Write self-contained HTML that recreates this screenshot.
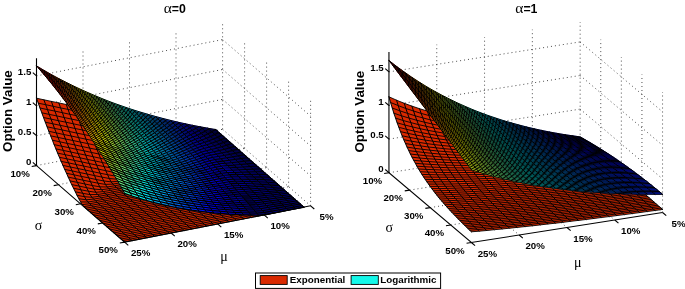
<!DOCTYPE html>
<html lang="en"><head><meta charset="utf-8"><title>Option Value surfaces</title>
<style>html,body{margin:0;padding:0;background:#fff}svg{display:block;will-change:transform}text{font-family:"Liberation Sans","DejaVu Sans",sans-serif;fill:#000}.gr{font-family:"Liberation Serif","DejaVu Serif",serif;font-weight:normal}</style></head><body>
<svg width="685" height="289" viewBox="0 0 685 289">
<rect width="685" height="289" fill="#fff"/>
<g id="left" transform="translate(.4 0)">
<g fill="none" stroke="#000" stroke-width=".7" stroke-dasharray="1 3" stroke-linecap="butt">
<path d="M82.6 156.5 L82.6 49.2"/>
<path d="M129.1 147.4 L129.1 40.1"/>
<path d="M175.6 138.4 L175.6 31.0"/>
<path d="M222.2 129.3 L222.2 22.0"/>
<path d="M36.1 165.6 L222.2 129.3"/>
<path d="M36.1 135.7 L222.2 99.4"/>
<path d="M36.1 105.8 L222.2 69.5"/>
<path d="M36.1 75.9 L222.2 39.6"/>
<path d="M244.2 148.4 L244.2 41.1"/>
<path d="M266.2 167.6 L266.2 60.2"/>
<path d="M288.2 186.7 L288.2 79.3"/>
<path d="M310.2 205.8 L310.2 98.5"/>
<path d="M222.2 129.3 L310.2 205.8"/>
<path d="M222.2 99.4 L310.2 175.9"/>
<path d="M222.2 69.5 L310.2 146.0"/>
<path d="M222.2 39.6 L310.2 116.1"/>
<path d="M58.1 184.7 L244.2 148.4"/>
<path d="M80.2 203.8 L266.2 167.6"/>
<path d="M102.2 223.0 L288.2 186.7"/>
<path d="M82.6 156.5 L170.7 233.0"/>
<path d="M129.1 147.4 L217.2 223.9"/>
<path d="M175.6 138.4 L263.7 214.9"/>
</g>
<path fill="rgb(217,41,0)" d="M36.1 98.2l1.8 5 1.7 4.8 1.8 4.8 1.7 4.7 1.8 4.7 1.8 4.6 1.7 4.5 1.8 4.5 1.8 4.4 1.7 4.4 1.8 4.3 1.7 4.2 1.8 4.2 1.8 4.1 1.7 4 1.8 4 1.8 3.9 1.7 3.8 1.8 3.8 1.7 3.7 1.8 3.6 1.8 3.6 1.7 3.5 1.8 3.4 1.8 3.2 1.7 2.7 1.8 2 1.7 1.6 1.8 1.6 1.8 1.6 1.7 1.5 1.8 1.6 1.7 1.5 1.8 1.6 1.8 1.5 1.7 1.5 1.8 1.6 1.8 1.5 1.7 1.5 1.8 1.6 1.7 1.5 1.8 1.5 1.8 1.6 1.7 1.5 1.8 1.5 1.8 1.5 1.7 1.6 1.8 1.5 1.7 1.5 1.8 1.6 7.4-1.5 7.5-1.4 7.4-1.5 7.5-1.4 7.4-1.5 7.5-1.4 7.4-1.5 7.4-1.4 7.5-1.5 7.4-1.4 7.5-1.5 7.4-1.4 7.4-1.5 7.5-1.4 7.4-1.5 7.5-1.4 7.4-1.5 7.5-1.4 7.4-1.5 7.4-1.4 7.5-1.5 7.4-1.5 7.5-1.4 7.4-1.5 .8-.1 -1.8-1.5 -1.7-1.6 -1.8-1.5 -1.7-1.5 -1.8-1.6 -1.8-1.5 -1.7-1.5 -1.8-1.6 -1.7-1.5 -1.8-1.5 -1.8-1.5 -1.7-1.6 -1.8-1.5 -1.8-1.5 -1.7-1.6 -1.8-1.5 -1.7-1.5 -1.8-1.6 -1.8-1.5 -1.7-1.5 -1.8-1.5 -1.8-1.6 -1.7-1.5 -1.8-1.5 -1.7-1.6 -1.8-1.5 -1.8-1.5 -1.7-1.6 -1.8-1.5 -1.8-1.5 -1.7-1.5 -1.8-1.6 -1.7-1.5 -1.8-1.5 -1.8-1.6 -1.7-1.5 -1.8-1.5 -1.7-1.6 -1.8-1.5 -1.8-1.5 -1.7-1.6 -1.8-1.5 -1.8-1.5 -1.7-1.6 -1.8-1.5 -1.7-1.5 -1.8-1.6 -1.8-1.5 -1.7-1.6 -1.8-1.6 -.8 .2 -7.4 1.3 -7.5 .3 -7.4-1.2 -7.5-1.5 -7.4-1.5 -7.4-1.6 -7.5-1.5 -7.4-1.6 -7.5-1.6 -7.4-1.5 -7.5-1.6 -7.4-1.6 -7.4-1.5 -7.5-1.6 -7.4-1.6 -7.5-1.5 -7.4-1.6 -7.4-1.6 -7.5-1.5 -7.4-1.6 -7.5-1.6 -7.4-1.5 -7.5-1.6z"/>
<path fill="none" stroke="#000" stroke-width="0.7" stroke-linejoin="round" stroke-linecap="round" d="M215.5 130.4l1.8 1.6 1.7 1.6 1.8 1.5 1.8 1.6 1.7 1.5 1.8 1.5 1.7 1.6 1.8 1.5 1.8 1.5 1.7 1.6 1.8 1.5 1.8 1.5 1.7 1.6 1.8 1.5 1.7 1.5 1.8 1.6 1.8 1.5 1.7 1.5 1.8 1.6 1.7 1.5 1.8 1.5 1.8 1.5 1.7 1.6 1.8 1.5 1.8 1.5 1.7 1.6 1.8 1.5 1.7 1.5 1.8 1.6 1.8 1.5 1.7 1.5 1.8 1.5 1.8 1.6 1.7 1.5 1.8 1.5 1.7 1.6 1.8 1.5 1.8 1.5 1.7 1.6 1.8 1.5 1.8 1.5 1.7 1.5 1.8 1.6 1.7 1.5 1.8 1.5 1.8 1.6 1.7 1.5 1.8 1.5 1.7 1.6 1.8 1.5"/>
<path fill="none" stroke="#000" stroke-width="0.9" stroke-linejoin="round" stroke-linecap="round" d="M36.1 98.2l7.4 1.6 7.5 1.6 7.4 1.5 7.5 1.6 7.4 1.6 7.5 1.5 7.4 1.6 7.4 1.6 7.5 1.5 7.4 1.6 7.5 1.6 7.4 1.5 7.4 1.6 7.5 1.6 7.4 1.5 7.5 1.6 7.4 1.6 7.5 1.5 7.4 1.6 7.4 1.5 7.5 1.5 7.4 1.2 7.5-.3 7.4-1.3 .8-.2M37.9 103.2l7.4 1.5 7.4 1.6 7.5 1.6 7.4 1.5 7.5 1.6 7.4 1.6 7.5 1.5 7.4 1.6 7.4 1.6 7.5 1.5 7.4 1.6 7.5 1.6 7.4 1.5 7.5 1.6 7.4 1.5 7.4 1.6 7.5 1.6 7.4 1.5 7.5 1.5 7.4 1.5 7.4 1.1 7.5-.5 7.4-1.3 7.5-1.4 .8-.2M39.6 108l7.5 1.6 7.4 1.5 7.5 1.6 7.4 1.6 7.4 1.5 7.5 1.6 7.4 1.6 7.5 1.5 7.4 1.6 7.4 1.6 7.5 1.5 7.4 1.6 7.5 1.6 7.4 1.5 7.5 1.6 7.4 1.5 7.4 1.6 7.5 1.5 7.4 1.5 7.5 1 7.4-.7 7.4-1.3 7.5-1.4 7.4-1.5 .8-.1M41.4 112.8l7.4 1.6 7.5 1.5 7.4 1.6 7.5 1.6 7.4 1.5 7.4 1.6 7.5 1.6 7.4 1.5 7.5 1.6 7.4 1.6 7.4 1.5 7.5 1.6 7.4 1.6 7.5 1.5 7.4 1.6 7.5 1.5 7.4 1.5 7.4 1.5 7.5 .9 7.4-.8 7.5-1.3 7.4-1.4 7.5-1.5 7.4-1.4 .8-.2M43.1 117.5l7.5 1.6 7.4 1.6 7.5 1.5 7.4 1.6 7.5 1.6 7.4 1.5 7.4 1.6 7.5 1.6 7.4 1.5 7.5 1.6 7.4 1.6 7.5 1.5 7.4 1.6 7.4 1.5 7.5 1.6 7.4 1.5 7.5 1.4 7.4 .9 7.4-.9 7.5-1.3 7.4-1.5 7.5-1.4 7.4-1.4 7.5-1.5 .8-.1M44.9 122.2l7.5 1.6 7.4 1.5 7.4 1.6 7.5 1.6 7.4 1.5 7.5 1.6 7.4 1.6 7.4 1.5 7.5 1.6 7.4 1.6 7.5 1.5 7.4 1.6 7.5 1.5 7.4 1.6 7.4 1.5 7.5 1.4 7.4 .8 7.5-.9 7.4-1.4 7.4-1.4 7.5-1.4 7.4-1.4 7.5-1.5 7.4-1.4 .8-.2M46.7 126.8l7.4 1.6 7.5 1.5 7.4 1.6 7.4 1.6 7.5 1.5 7.4 1.6 7.5 1.6 7.4 1.5 7.5 1.6 7.4 1.6 7.4 1.5 7.5 1.6 7.4 1.5 7.5 1.5 7.4 1.5 7.4 .7 7.5-.9 7.4-1.4 7.5-1.4 7.4-1.4 7.5-1.5 7.4-1.4 7.4-1.5 7.5-1.4 .8-.2M48.4 131.3l7.5 1.6 7.4 1.6 7.5 1.5 7.4 1.6 7.4 1.6 7.5 1.5 7.4 1.6 7.5 1.6 7.4 1.5 7.5 1.6 7.4 1.5 7.4 1.6 7.5 1.5 7.4 1.4 7.5 .8 7.4-1 7.4-1.3 7.5-1.4 7.4-1.4 7.5-1.5 7.4-1.4 7.5-1.5 7.4-1.4 7.4-1.5 .8-.1M50.2 135.8l7.4 1.6 7.5 1.6 7.4 1.5 7.5 1.6 7.4 1.5 7.4 1.6 7.5 1.6 7.4 1.5 7.5 1.6 7.4 1.6 7.5 1.5 7.4 1.5 7.4 1.5 7.5 .7 7.4-.9 7.5-1.3 7.4-1.4 7.5-1.5 7.4-1.4 7.4-1.4 7.5-1.5 7.4-1.4 7.5-1.5 7.4-1.4 .8-.2M52 140.2l7.4 1.6 7.4 1.6 7.5 1.5 7.4 1.6 7.5 1.6 7.4 1.5 7.5 1.6 7.4 1.5 7.4 1.6 7.5 1.5 7.4 1.6 7.5 1.4 7.4 .9 7.4-.9 7.5-1.3 7.4-1.5 7.5-1.4 7.4-1.4 7.5-1.5 7.4-1.4 7.4-1.5 7.5-1.4 7.4-1.5 7.5-1.4 .8-.2M53.7 144.6l7.5 1.6 7.4 1.5 7.4 1.6 7.5 1.5 7.4 1.6 7.5 1.6 7.4 1.5 7.5 1.6 7.4 1.5 7.4 1.6 7.5 1.4 7.4 .9 7.5-.7 7.4-1.4 7.5-1.4 7.4-1.4 7.4-1.4 7.5-1.5 7.4-1.4 7.5-1.5 7.4-1.4 7.4-1.5 7.5-1.4 7.4-1.5 .8-.1M55.5 148.9l7.4 1.5 7.5 1.6 7.4 1.6 7.5 1.5 7.4 1.6 7.4 1.6 7.5 1.5 7.4 1.6 7.5 1.5 7.4 1.4 7.4 1.1 7.5-.7 7.4-1.3 7.5-1.4 7.4-1.4 7.5-1.5 7.4-1.4 7.4-1.4 7.5-1.5 7.4-1.4 7.5-1.5 7.4-1.4 7.4-1.5 7.5-1.4 .8-.2M57.2 153.1l7.5 1.6 7.4 1.5 7.5 1.6 7.4 1.6 7.5 1.5 7.4 1.6 7.4 1.5 7.5 1.5 7.4 1.5 7.5 1.2 7.4-.5 7.4-1.3 7.5-1.4 7.4-1.4 7.5-1.5 7.4-1.4 7.5-1.5 7.4-1.4 7.4-1.5 7.5-1.4 7.4-1.5 7.5-1.4 7.4-1.5 7.5-1.4 .8-.2M59 157.3l7.4 1.5 7.5 1.6 7.4 1.5 7.5 1.6 7.4 1.6 7.5 1.5 7.4 1.5 7.4 1.5 7.5 1.3 7.4-.3 7.5-1.2 7.4-1.4 7.5-1.5 7.4-1.4 7.4-1.4 7.5-1.5 7.4-1.4 7.5-1.5 7.4-1.4 7.4-1.5 7.5-1.4 7.4-1.5 7.5-1.4 7.4-1.5 .8-.1M60.8 161.4l7.4 1.5 7.5 1.6 7.4 1.5 7.4 1.6 7.5 1.5 7.4 1.6 7.5 1.5 7.4 1.3 7.4 0 7.5-1.2 7.4-1.4 7.5-1.4 7.4-1.4 7.5-1.5 7.4-1.4 7.4-1.4 7.5-1.5 7.4-1.4 7.5-1.5 7.4-1.4 7.5-1.5 7.4-1.4 7.4-1.5 7.5-1.4 .8-.2M62.5 165.4l7.5 1.6 7.4 1.5 7.5 1.6 7.4 1.5 7.4 1.6 7.5 1.5 7.4 1.3 7.5 .4 7.4-1.1 7.4-1.4 7.5-1.4 7.4-1.4 7.5-1.5 7.4-1.4 7.5-1.5 7.4-1.4 7.4-1.5 7.5-1.4 7.4-1.5 7.5-1.4 7.4-1.5 7.5-1.4 7.4-1.5 7.4-1.4 .8-.2M64.3 169.4l7.4 1.5 7.5 1.6 7.4 1.5 7.5 1.6 7.4 1.5 7.4 1.4 7.5 .7 7.4-1 7.5-1.3 7.4-1.4 7.5-1.5 7.4-1.4 7.4-1.4 7.5-1.5 7.4-1.4 7.5-1.5 7.4-1.4 7.4-1.5 7.5-1.4 7.4-1.5 7.5-1.4 7.4-1.5 7.5-1.4 7.4-1.5 .8-.1M66.1 173.3l7.4 1.5 7.4 1.6 7.5 1.5 7.4 1.6 7.5 1.4 7.4 1 7.4-.7 7.5-1.3 7.4-1.4 7.5-1.5 7.4-1.4 7.5-1.5 7.4-1.4 7.4-1.5 7.5-1.4 7.4-1.4 7.5-1.5 7.4-1.4 7.5-1.5 7.4-1.4 7.4-1.5 7.5-1.5 7.4-1.4 7.5-1.5 .8-.1M67.8 177.1l7.5 1.6 7.4 1.5 7.4 1.5 7.5 1.5 7.4 1.2 7.5-.3 7.4-1.3 7.5-1.4 7.4-1.4 7.4-1.4 7.5-1.5 7.4-1.4 7.5-1.5 7.4-1.4 7.4-1.5 7.5-1.4 7.4-1.5 7.5-1.4 7.4-1.5 7.5-1.4 7.4-1.5 7.4-1.4 7.5-1.5 7.4-1.4 .8-.2M69.6 180.9l7.4 1.5 7.5 1.6 7.4 1.5 7.4 1.3 7.5 .2 7.4-1.2 7.5-1.4 7.4-1.4 7.5-1.5 7.4-1.4 7.4-1.4 7.5-1.5 7.4-1.4 7.5-1.5 7.4-1.4 7.5-1.5 7.4-1.4 7.4-1.5 7.5-1.4 7.4-1.5 7.5-1.4 7.4-1.5 7.4-1.4 7.5-1.5 .8-.1M71.3 184.6l7.5 1.5 7.4 1.6 7.5 1.4 7.4 .6 7.5-1 7.4-1.3 7.4-1.4 7.5-1.5 7.4-1.4 7.5-1.5 7.4-1.4 7.4-1.5 7.5-1.4 7.4-1.5 7.5-1.4 7.4-1.5 7.5-1.4 7.4-1.5 7.4-1.4 7.5-1.5 7.4-1.4 7.5-1.5 7.4-1.4 7.4-1.5 .8-.1M73.1 188.2l7.4 1.6 7.5 1.4 7.4 1.1 7.5-.7 7.4-1.3 7.5-1.4 7.4-1.4 7.4-1.4 7.5-1.5 7.4-1.4 7.5-1.5 7.4-1.4 7.4-1.5 7.5-1.4 7.4-1.5 7.5-1.4 7.4-1.5 7.5-1.4 7.4-1.5 7.4-1.4 7.5-1.5 7.4-1.4 7.5-1.5 7.4-1.4 .8-.2M74.9 191.8l7.4 1.5 7.4 1.3 7.5-.1 7.4-1.2 7.5-1.4 7.4-1.4 7.5-1.5 7.4-1.4 7.4-1.4 7.5-1.5 7.4-1.4 7.5-1.5 7.4-1.4 7.5-1.5 7.4-1.4 7.4-1.5 7.5-1.4 7.4-1.5 7.5-1.4 7.4-1.5 7.4-1.4 7.5-1.5 7.4-1.4 7.5-1.5 .8-.2M76.6 195.3l7.5 1.4 7.4 .6 7.5-1.1 7.4-1.3 7.4-1.5 7.5-1.4 7.4-1.4 7.5-1.5 7.4-1.4 7.4-1.5 7.5-1.4 7.4-1.5 7.5-1.4 7.4-1.5 7.5-1.4 7.4-1.5 7.4-1.4 7.5-1.5 7.4-1.4 7.5-1.5 7.4-1.4 7.5-1.5 7.4-1.4 7.4-1.5 .8-.1M78.4 198.7l7.4 1.1 7.5-.7 7.4-1.3 7.5-1.4 7.4-1.4 7.4-1.4 7.5-1.5 7.4-1.4 7.5-1.5 7.4-1.4 7.4-1.5 7.5-1.4 7.4-1.5 7.5-1.4 7.4-1.5 7.5-1.4 7.4-1.5 7.4-1.4 7.5-1.5 7.4-1.4 7.5-1.5 7.4-1.4 7.5-1.5 7.4-1.4 .8-.2M80.2 201.9l7.4 .1 7.4-1.2 7.5-1.4 7.4-1.4 7.5-1.5 7.4-1.4 7.4-1.5 7.5-1.4 7.4-1.4 7.5-1.5 7.4-1.4 7.5-1.5 7.4-1.4 7.4-1.5 7.5-1.4 7.4-1.5 7.5-1.5 7.4-1.4 7.4-1.5 7.5-1.4 7.4-1.5 7.5-1.4 7.4-1.5 7.5-1.4 .8-.2M81.9 204.6l7.5-.9 7.4-1.4 7.4-1.4 7.5-1.4 7.4-1.4 7.5-1.5 7.4-1.4 7.4-1.5 7.5-1.4 7.4-1.5 7.5-1.4 7.4-1.5 7.5-1.4 7.4-1.5 7.4-1.4 7.5-1.5 7.4-1.4 7.5-1.5 7.4-1.4 7.5-1.5 7.4-1.4 7.4-1.5 7.5-1.4 7.4-1.5 .8-.1M83.7 206.6l7.4-1.3 7.5-1.4 7.4-1.4 7.4-1.5 7.5-1.4 7.4-1.4 7.5-1.5 7.4-1.4 7.5-1.5 7.4-1.4 7.4-1.5 7.5-1.4 7.4-1.5 7.5-1.4 7.4-1.5 7.4-1.4 7.5-1.5 7.4-1.4 7.5-1.5 7.4-1.4 7.5-1.5 7.4-1.4 7.4-1.5 7.5-1.4 .8-.2M85.4 208.2l7.5-1.3 7.4-1.4 7.5-1.5 7.4-1.4 7.4-1.5 7.5-1.4 7.4-1.5 7.5-1.4 7.4-1.5 7.5-1.4 7.4-1.5 7.4-1.4 7.5-1.5 7.4-1.4 7.5-1.5 7.4-1.4 7.5-1.5 7.4-1.4 7.4-1.5 7.5-1.4 7.4-1.5 7.5-1.4 7.4-1.5 7.4-1.4 .8-.2M87.2 209.8l7.4-1.4 7.5-1.4 7.4-1.4 7.5-1.5 7.4-1.4 7.4-1.5 7.5-1.4 7.4-1.5 7.5-1.4 7.4-1.5 7.5-1.4 7.4-1.5 7.4-1.4 7.5-1.5 7.4-1.4 7.5-1.5 7.4-1.4 7.5-1.5 7.4-1.4 7.4-1.5 7.5-1.4 7.4-1.5 7.5-1.4 7.4-1.5 .8-.1M89 211.4l7.4-1.4 7.4-1.5 7.5-1.4 7.4-1.5 7.5-1.4 7.4-1.4 7.5-1.5 7.4-1.4 7.4-1.5 7.5-1.4 7.4-1.5 7.5-1.4 7.4-1.5 7.4-1.4 7.5-1.5 7.4-1.4 7.5-1.5 7.4-1.4 7.5-1.5 7.4-1.5 7.4-1.4 7.5-1.5 7.4-1.4 7.5-1.5 .8-.1M90.7 212.9l7.5-1.4 7.4-1.4 7.4-1.5 7.5-1.4 7.4-1.5 7.5-1.4 7.4-1.5 7.5-1.4 7.4-1.5 7.4-1.4 7.5-1.5 7.4-1.4 7.5-1.5 7.4-1.4 7.5-1.5 7.4-1.4 7.4-1.5 7.5-1.4 7.4-1.5 7.5-1.4 7.4-1.5 7.4-1.4 7.5-1.5 7.4-1.4 .8-.2M92.5 214.5l7.4-1.5 7.5-1.4 7.4-1.4 7.5-1.5 7.4-1.4 7.4-1.5 7.5-1.4 7.4-1.5 7.5-1.4 7.4-1.5 7.4-1.4 7.5-1.5 7.4-1.4 7.5-1.5 7.4-1.4 7.5-1.5 7.4-1.4 7.4-1.5 7.5-1.4 7.4-1.5 7.5-1.4 7.4-1.5 7.5-1.4 7.4-1.5 .8-.2M94.2 216l7.5-1.4 7.4-1.5 7.5-1.4 7.4-1.5 7.5-1.4 7.4-1.4 7.4-1.5 7.5-1.4 7.4-1.5 7.5-1.4 7.4-1.5 7.5-1.5 7.4-1.4 7.4-1.5 7.5-1.4 7.4-1.5 7.5-1.4 7.4-1.5 7.4-1.4 7.5-1.5 7.4-1.4 7.5-1.5 7.4-1.4 7.5-1.5 .8-.1M96 217.6l7.5-1.5 7.4-1.4 7.4-1.5 7.5-1.4 7.4-1.5 7.5-1.4 7.4-1.5 7.4-1.4 7.5-1.5 7.4-1.4 7.5-1.5 7.4-1.4 7.5-1.5 7.4-1.4 7.4-1.5 7.5-1.4 7.4-1.5 7.5-1.4 7.4-1.5 7.4-1.4 7.5-1.5 7.4-1.4 7.5-1.5 7.4-1.4 .8-.2M97.8 219.1l7.4-1.5 7.5-1.4 7.4-1.4 7.4-1.5 7.5-1.4 7.4-1.5 7.5-1.4 7.4-1.5 7.4-1.4 7.5-1.5 7.4-1.4 7.5-1.5 7.4-1.4 7.5-1.5 7.4-1.4 7.4-1.5 7.5-1.4 7.4-1.5 7.5-1.4 7.4-1.5 7.5-1.5 7.4-1.4 7.4-1.5 7.5-1.4 .8-.2M99.5 220.6l7.5-1.4 7.4-1.5 7.5-1.4 7.4-1.5 7.4-1.4 7.5-1.5 7.4-1.4 7.5-1.5 7.4-1.4 7.5-1.5 7.4-1.4 7.4-1.5 7.5-1.4 7.4-1.5 7.5-1.4 7.4-1.5 7.4-1.4 7.5-1.5 7.4-1.4 7.5-1.5 7.4-1.4 7.5-1.5 7.4-1.4 7.4-1.5 .8-.1M101.3 222.2l7.4-1.5 7.5-1.4 7.4-1.5 7.5-1.4 7.4-1.5 7.4-1.4 7.5-1.5 7.4-1.4 7.5-1.5 7.4-1.4 7.5-1.5 7.4-1.4 7.4-1.5 7.5-1.4 7.4-1.5 7.5-1.4 7.4-1.5 7.4-1.4 7.5-1.5 7.4-1.4 7.5-1.5 7.4-1.4 7.5-1.5 7.4-1.4 .8-.2M103.1 223.7l7.4-1.5 7.4-1.4 7.5-1.4 7.4-1.5 7.5-1.4 7.4-1.5 7.5-1.4 7.4-1.5 7.4-1.4 7.5-1.5 7.4-1.4 7.5-1.5 7.4-1.5 7.4-1.4 7.5-1.5 7.4-1.4 7.5-1.5 7.4-1.4 7.5-1.5 7.4-1.4 7.4-1.5 7.5-1.4 7.4-1.5 7.5-1.4 .8-.2M104.8 225.2l7.5-1.4 7.4-1.5 7.4-1.4 7.5-1.5 7.4-1.4 7.5-1.5 7.4-1.4 7.5-1.5 7.4-1.4 7.4-1.5 7.5-1.4 7.4-1.5 7.5-1.4 7.4-1.5 7.4-1.4 7.5-1.5 7.4-1.4 7.5-1.5 7.4-1.4 7.5-1.5 7.4-1.4 7.4-1.5 7.5-1.4 7.4-1.5 .8-.1M106.6 226.8l7.4-1.5 7.5-1.4 7.4-1.5 7.4-1.4 7.5-1.5 7.4-1.4 7.5-1.5 7.4-1.4 7.5-1.5 7.4-1.4 7.4-1.5 7.5-1.4 7.4-1.5 7.5-1.4 7.4-1.5 7.5-1.4 7.4-1.5 7.4-1.4 7.5-1.5 7.4-1.5 7.5-1.4 7.4-1.5 7.4-1.4 7.5-1.5 .8-.1M108.3 228.3l7.5-1.5 7.4-1.4 7.5-1.5 7.4-1.4 7.5-1.5 7.4-1.4 7.4-1.5 7.5-1.4 7.4-1.5 7.5-1.4 7.4-1.5 7.4-1.4 7.5-1.5 7.4-1.4 7.5-1.5 7.4-1.4 7.5-1.5 7.4-1.4 7.4-1.5 7.5-1.4 7.4-1.5 7.5-1.4 7.4-1.5 7.5-1.4 .8-.2M110.1 229.8l7.4-1.4 7.5-1.5 7.4-1.4 7.5-1.5 7.4-1.4 7.5-1.5 7.4-1.4 7.4-1.5 7.5-1.4 7.4-1.5 7.5-1.4 7.4-1.5 7.4-1.4 7.5-1.5 7.4-1.4 7.5-1.5 7.4-1.4 7.5-1.5 7.4-1.4 7.4-1.5 7.5-1.4 7.4-1.5 7.5-1.4 7.4-1.5 .8-.2M111.9 231.4l7.4-1.5 7.4-1.4 7.5-1.5 7.4-1.4 7.5-1.5 7.4-1.4 7.5-1.5 7.4-1.4 7.4-1.5 7.5-1.4 7.4-1.5 7.5-1.4 7.4-1.5 7.5-1.5 7.4-1.4 7.4-1.5 7.5-1.4 7.4-1.5 7.5-1.4 7.4-1.5 7.4-1.4 7.5-1.5 7.4-1.4 7.5-1.5 .8-.1M113.6 232.9l7.5-1.5 7.4-1.4 7.5-1.5 7.4-1.4 7.4-1.5 7.5-1.4 7.4-1.5 7.5-1.4 7.4-1.5 7.4-1.4 7.5-1.5 7.4-1.4 7.5-1.5 7.4-1.4 7.5-1.5 7.4-1.4 7.4-1.5 7.5-1.4 7.4-1.5 7.5-1.4 7.4-1.5 7.5-1.4 7.4-1.5 7.4-1.4 .8-.2M115.4 234.4l7.4-1.4 7.5-1.5 7.4-1.4 7.5-1.5 7.4-1.4 7.4-1.5 7.5-1.4 7.4-1.5 7.5-1.4 7.4-1.5 7.5-1.4 7.4-1.5 7.4-1.4 7.5-1.5 7.4-1.4 7.5-1.5 7.4-1.4 7.4-1.5 7.5-1.4 7.4-1.5 7.5-1.5 7.4-1.4 7.5-1.5 7.4-1.4 .8-.2M117.2 235.9l7.4-1.4 7.4-1.5 7.5-1.4 7.4-1.5 7.5-1.4 7.4-1.5 7.4-1.4 7.5-1.5 7.4-1.4 7.5-1.5 7.4-1.4 7.5-1.5 7.4-1.4 7.4-1.5 7.5-1.4 7.4-1.5 7.5-1.4 7.4-1.5 7.4-1.4 7.5-1.5 7.4-1.4 7.5-1.5 7.4-1.4 7.5-1.5 .8-.1M118.9 237.5l7.5-1.5 7.4-1.4 7.4-1.5 7.5-1.4 7.4-1.5 7.5-1.4 7.4-1.5 7.4-1.4 7.5-1.5 7.4-1.4 7.5-1.5 7.4-1.4 7.5-1.5 7.4-1.4 7.4-1.5 7.5-1.4 7.4-1.5 7.5-1.4 7.4-1.5 7.5-1.4 7.4-1.5 7.4-1.4 7.5-1.5 7.4-1.4 .8-.2M120.7 239l7.4-1.4 7.5-1.5 7.4-1.4 7.4-1.5 7.5-1.4 7.4-1.5 7.5-1.4 7.4-1.5 7.5-1.4 7.4-1.5 7.4-1.4 7.5-1.5 7.4-1.4 7.5-1.5 7.4-1.5 7.4-1.4 7.5-1.5 7.4-1.4 7.5-1.5 7.4-1.4 7.5-1.5 7.4-1.4 7.4-1.5 7.5-1.4 .8-.2M122.4 240.5l7.5-1.4 7.4-1.5 7.5-1.4 7.4-1.5 7.4-1.4 7.5-1.5 7.4-1.4 7.5-1.5 7.4-1.4 7.5-1.5 7.4-1.4 7.4-1.5 7.5-1.4 7.4-1.5 7.5-1.4 7.4-1.5 7.5-1.4 7.4-1.5 7.4-1.4 7.5-1.5 7.4-1.4 7.5-1.5 7.4-1.4 7.4-1.5 .8-.1M124.2 242.1l7.4-1.5 7.5-1.4 7.4-1.5 7.5-1.4 7.4-1.5 7.5-1.4 7.4-1.5 7.4-1.4 7.5-1.5 7.4-1.4 7.5-1.5 7.4-1.4 7.4-1.5 7.5-1.4 7.4-1.5 7.5-1.4 7.4-1.5 7.5-1.4 7.4-1.5 7.4-1.4 7.5-1.5 7.4-1.5 7.5-1.4 7.4-1.5 .8-.1"/>
<path fill="none" stroke="#000" stroke-width="1.0" stroke-linejoin="round" stroke-linecap="round" d="M36.1 98.2l1.8 5 1.7 4.8 1.8 4.8 1.7 4.7 1.8 4.7 1.8 4.6 1.7 4.5 1.8 4.5 1.8 4.4 1.7 4.4 1.8 4.3 1.7 4.2 1.8 4.2 1.8 4.1 1.7 4 1.8 4 1.8 3.9 1.7 3.8 1.8 3.8 1.7 3.7 1.8 3.6 1.8 3.6 1.7 3.5 1.8 3.4 1.8 3.2 1.7 2.7 1.8 2 1.7 1.6 1.8 1.6 1.8 1.6 1.7 1.5 1.8 1.6 1.7 1.5 1.8 1.6 1.8 1.5 1.7 1.5 1.8 1.6 1.8 1.5 1.7 1.5 1.8 1.6 1.7 1.5 1.8 1.5 1.8 1.6 1.7 1.5 1.8 1.5 1.8 1.5 1.7 1.6 1.8 1.5 1.7 1.5 1.8 1.6M43.5 99.8l1.8 4.9 1.8 4.9 1.7 4.8 1.8 4.7 1.8 4.7 1.7 4.6 1.8 4.5 1.7 4.5 1.8 4.4 1.8 4.4 1.7 4.2 1.8 4.3 1.7 4.1 1.8 4.1 1.8 4.1 1.7 3.9 1.8 3.9 1.8 3.9 1.7 3.7 1.8 3.7 1.7 3.7 1.8 3.5 1.8 3.4 1.7 3.1 1.8 2.2 1.8 1.7 1.7 1.6 1.8 1.6 1.7 1.5 1.8 1.6 1.8 1.5 1.7 1.5 1.8 1.6 1.8 1.5 1.7 1.5 1.8 1.6 1.7 1.5 1.8 1.5 1.8 1.6 1.7 1.5 1.8 1.5 1.7 1.6 1.8 1.5 1.8 1.5 1.7 1.6 1.8 1.5 1.8 1.5 1.7 1.6 1.8 1.5 1.7 1.5M51 101.4l1.7 4.9 1.8 4.8 1.8 4.8 1.7 4.8 1.8 4.6 1.8 4.6 1.7 4.6 1.8 4.5 1.7 4.4 1.8 4.3 1.8 4.3 1.7 4.2 1.8 4.2 1.8 4.1 1.7 4 1.8 4 1.7 3.9 1.8 3.8 1.8 3.8 1.7 3.7 1.8 3.5 1.7 3.4 1.8 2.7 1.8 1.8 1.7 1.7 1.8 1.5 1.8 1.6 1.7 1.6 1.8 1.5 1.7 1.5 1.8 1.6 1.8 1.5 1.7 1.5 1.8 1.6 1.8 1.5 1.7 1.5 1.8 1.6 1.7 1.5 1.8 1.5 1.8 1.6 1.7 1.5 1.8 1.5 1.7 1.6 1.8 1.5 1.8 1.5 1.7 1.5 1.8 1.6 1.8 1.5 1.7 1.5 1.8 1.6M58.4 102.9l1.8 5 1.8 4.8 1.7 4.8 1.8 4.7 1.7 4.7 1.8 4.6 1.8 4.5 1.7 4.5 1.8 4.4 1.7 4.4 1.8 4.3 1.8 4.2 1.7 4.1 1.8 4.1 1.8 4.1 1.7 3.9 1.8 3.9 1.7 3.8 1.8 3.8 1.8 3.6 1.7 3.2 1.8 2.2 1.8 1.7 1.7 1.6 1.8 1.6 1.7 1.5 1.8 1.6 1.8 1.5 1.7 1.6 1.8 1.5 1.7 1.5 1.8 1.6 1.8 1.5 1.7 1.5 1.8 1.6 1.8 1.5 1.7 1.5 1.8 1.6 1.7 1.5 1.8 1.5 1.8 1.5 1.7 1.6 1.8 1.5 1.8 1.5 1.7 1.6 1.8 1.5 1.7 1.5 1.8 1.6 1.8 1.5 1.7 1.5M65.9 104.5l1.7 4.9 1.8 4.9 1.8 4.8 1.7 4.7 1.8 4.7 1.7 4.6 1.8 4.5 1.8 4.5 1.7 4.4 1.8 4.3 1.8 4.3 1.7 4.3 1.8 4.1 1.7 4.1 1.8 4 1.8 4 1.7 3.9 1.8 3.7 1.7 3.6 1.8 2.9 1.8 1.9 1.7 1.7 1.8 1.6 1.8 1.5 1.7 1.6 1.8 1.5 1.7 1.5 1.8 1.6 1.8 1.5 1.7 1.5 1.8 1.6 1.8 1.5 1.7 1.5 1.8 1.6 1.7 1.5 1.8 1.5 1.8 1.6 1.7 1.5 1.8 1.5 1.7 1.6 1.8 1.5 1.8 1.5 1.7 1.6 1.8 1.5 1.8 1.5 1.7 1.5 1.8 1.6 1.7 1.5 1.8 1.5 1.8 1.6M73.3 106.1l1.8 4.9 1.7 4.8 1.8 4.8 1.8 4.8 1.7 4.6 1.8 4.6 1.7 4.6 1.8 4.4 1.8 4.5 1.7 4.3 1.8 4.3 1.8 4.2 1.7 4.2 1.8 4 1.7 4.1 1.8 3.9 1.8 3.8 1.7 3.5 1.8 2.6 1.8 1.7 1.7 1.6 1.8 1.6 1.7 1.5 1.8 1.6 1.8 1.5 1.7 1.6 1.8 1.5 1.7 1.5 1.8 1.6 1.8 1.5 1.7 1.5 1.8 1.6 1.8 1.5 1.7 1.5 1.8 1.6 1.7 1.5 1.8 1.5 1.8 1.6 1.7 1.5 1.8 1.5 1.8 1.5 1.7 1.6 1.8 1.5 1.7 1.5 1.8 1.6 1.8 1.5 1.7 1.5 1.8 1.6 1.7 1.5 1.8 1.5M80.8 107.6l1.7 5 1.8 4.8 1.7 4.8 1.8 4.7 1.8 4.7 1.7 4.6 1.8 4.5 1.7 4.5 1.8 4.4 1.8 4.4 1.7 4.3 1.8 4.2 1.8 4.1 1.7 4.1 1.8 4 1.7 3.8 1.8 3.4 1.8 2.2 1.7 1.7 1.8 1.6 1.8 1.5 1.7 1.6 1.8 1.5 1.7 1.6 1.8 1.5 1.8 1.5 1.7 1.6 1.8 1.5 1.8 1.5 1.7 1.6 1.8 1.5 1.7 1.5 1.8 1.6 1.8 1.5 1.7 1.5 1.8 1.5 1.7 1.6 1.8 1.5 1.8 1.5 1.7 1.6 1.8 1.5 1.8 1.5 1.7 1.6 1.8 1.5 1.7 1.5 1.8 1.5 1.8 1.6 1.7 1.5 1.8 1.5 1.8 1.6M88.2 109.2l1.8 4.9 1.7 4.9 1.8 4.8 1.7 4.7 1.8 4.7 1.8 4.6 1.7 4.5 1.8 4.5 1.8 4.4 1.7 4.3 1.8 4.3 1.7 4.2 1.8 4.1 1.8 4.1 1.7 3.8 1.8 3.2 1.7 2 1.8 1.6 1.8 1.6 1.7 1.6 1.8 1.5 1.8 1.5 1.7 1.6 1.8 1.5 1.7 1.5 1.8 1.6 1.8 1.5 1.7 1.5 1.8 1.6 1.8 1.5 1.7 1.5 1.8 1.6 1.7 1.5 1.8 1.5 1.8 1.6 1.7 1.5 1.8 1.5 1.8 1.6 1.7 1.5 1.8 1.5 1.7 1.5 1.8 1.6 1.8 1.5 1.7 1.5 1.8 1.6 1.7 1.5 1.8 1.5 1.8 1.6 1.7 1.5 1.8 1.5M95.6 110.8l1.8 4.9 1.8 4.8 1.7 4.8 1.8 4.8 1.7 4.6 1.8 4.6 1.8 4.6 1.7 4.4 1.8 4.4 1.8 4.4 1.7 4.3 1.8 4.1 1.7 4.1 1.8 3.9 1.8 2.9 1.7 1.8 1.8 1.7 1.8 1.5 1.7 1.6 1.8 1.5 1.7 1.6 1.8 1.5 1.8 1.5 1.7 1.6 1.8 1.5 1.7 1.5 1.8 1.6 1.8 1.5 1.7 1.5 1.8 1.6 1.8 1.5 1.7 1.5 1.8 1.6 1.7 1.5 1.8 1.5 1.8 1.5 1.7 1.6 1.8 1.5 1.8 1.5 1.7 1.6 1.8 1.5 1.7 1.5 1.8 1.6 1.8 1.5 1.7 1.5 1.8 1.5 1.8 1.6 1.7 1.5 1.8 1.5 1.7 1.6M103.1 112.3l1.7 5 1.8 4.8 1.8 4.8 1.7 4.7 1.8 4.7 1.8 4.6 1.7 4.5 1.8 4.5 1.7 4.4 1.8 4.3 1.8 4.3 1.7 4.1 1.8 3.9 1.7 2.6 1.8 1.8 1.8 1.6 1.7 1.6 1.8 1.5 1.8 1.5 1.7 1.6 1.8 1.5 1.7 1.6 1.8 1.5 1.8 1.5 1.7 1.6 1.8 1.5 1.8 1.5 1.7 1.5 1.8 1.6 1.7 1.5 1.8 1.5 1.8 1.6 1.7 1.5 1.8 1.5 1.7 1.6 1.8 1.5 1.8 1.5 1.7 1.6 1.8 1.5 1.8 1.5 1.7 1.5 1.8 1.6 1.7 1.5 1.8 1.5 1.8 1.6 1.7 1.5 1.8 1.5 1.8 1.6 1.7 1.5 1.8 1.5M110.5 113.9l1.8 4.9 1.7 4.9 1.8 4.8 1.8 4.7 1.7 4.7 1.8 4.6 1.8 4.5 1.7 4.5 1.8 4.3 1.7 4.4 1.8 4.1 1.8 3.9 1.7 2.4 1.8 1.7 1.8 1.6 1.7 1.6 1.8 1.5 1.7 1.6 1.8 1.5 1.8 1.5 1.7 1.6 1.8 1.5 1.7 1.5 1.8 1.6 1.8 1.5 1.7 1.5 1.8 1.6 1.8 1.5 1.7 1.5 1.8 1.6 1.7 1.5 1.8 1.5 1.8 1.6 1.7 1.5 1.8 1.5 1.8 1.5 1.7 1.6 1.8 1.5 1.7 1.5 1.8 1.6 1.8 1.5 1.7 1.5 1.8 1.6 1.7 1.5 1.8 1.5 1.8 1.5 1.7 1.6 1.8 1.5 1.8 1.5 1.7 1.6M118 115.5l1.7 4.9 1.8 4.8 1.7 4.8 1.8 4.8 1.8 4.6 1.7 4.6 1.8 4.5 1.8 4.5 1.7 4.4 1.8 4.2 1.7 3.8 1.8 2.3 1.8 1.7 1.7 1.5 1.8 1.6 1.8 1.5 1.7 1.6 1.8 1.5 1.7 1.6 1.8 1.5 1.8 1.5 1.7 1.6 1.8 1.5 1.8 1.5 1.7 1.6 1.8 1.5 1.7 1.5 1.8 1.5 1.8 1.6 1.7 1.5 1.8 1.5 1.7 1.6 1.8 1.5 1.8 1.5 1.7 1.6 1.8 1.5 1.8 1.5 1.7 1.6 1.8 1.5 1.7 1.5 1.8 1.5 1.8 1.6 1.7 1.5 1.8 1.5 1.8 1.6 1.7 1.5 1.8 1.5 1.7 1.6 1.8 1.5 1.8 1.5M125.4 117l1.8 5 1.7 4.8 1.8 4.8 1.8 4.7 1.7 4.7 1.8 4.6 1.7 4.5 1.8 4.4 1.8 4.3 1.7 3.7 1.8 2.2 1.7 1.7 1.8 1.6 1.8 1.5 1.7 1.6 1.8 1.5 1.8 1.5 1.7 1.6 1.8 1.5 1.7 1.5 1.8 1.6 1.8 1.5 1.7 1.5 1.8 1.6 1.8 1.5 1.7 1.5 1.8 1.6 1.7 1.5 1.8 1.5 1.8 1.6 1.7 1.5 1.8 1.5 1.8 1.5 1.7 1.6 1.8 1.5 1.7 1.5 1.8 1.6 1.8 1.5 1.7 1.5 1.8 1.6 1.7 1.5 1.8 1.5 1.8 1.6 1.7 1.5 1.8 1.5 1.8 1.5 1.7 1.6 1.8 1.5 1.7 1.5 1.8 1.6M132.8 118.6l1.8 4.9 1.8 4.9 1.7 4.8 1.8 4.7 1.8 4.6 1.7 4.6 1.8 4.5 1.7 4.4 1.8 3.7 1.8 2.1 1.7 1.6 1.8 1.6 1.8 1.5 1.7 1.6 1.8 1.5 1.7 1.6 1.8 1.5 1.8 1.5 1.7 1.6 1.8 1.5 1.7 1.5 1.8 1.6 1.8 1.5 1.7 1.5 1.8 1.6 1.8 1.5 1.7 1.5 1.8 1.5 1.7 1.6 1.8 1.5 1.8 1.5 1.7 1.6 1.8 1.5 1.8 1.5 1.7 1.6 1.8 1.5 1.7 1.5 1.8 1.5 1.8 1.6 1.7 1.5 1.8 1.5 1.8 1.6 1.7 1.5 1.8 1.5 1.7 1.6 1.8 1.5 1.8 1.5 1.7 1.6 1.8 1.5 1.7 1.5M140.3 120.2l1.8 4.9 1.7 4.8 1.8 4.8 1.7 4.7 1.8 4.7 1.8 4.5 1.7 4.4 1.8 3.7 1.7 2.1 1.8 1.6 1.8 1.6 1.7 1.6 1.8 1.5 1.8 1.5 1.7 1.6 1.8 1.5 1.7 1.5 1.8 1.6 1.8 1.5 1.7 1.5 1.8 1.6 1.8 1.5 1.7 1.5 1.8 1.6 1.7 1.5 1.8 1.5 1.8 1.6 1.7 1.5 1.8 1.5 1.7 1.6 1.8 1.5 1.8 1.5 1.7 1.5 1.8 1.6 1.8 1.5 1.7 1.5 1.8 1.6 1.7 1.5 1.8 1.5 1.8 1.6 1.7 1.5 1.8 1.5 1.8 1.5 1.7 1.6 1.8 1.5 1.7 1.5 1.8 1.6 1.8 1.5 1.7 1.5 1.8 1.6M147.7 121.7l1.8 4.9 1.8 4.9 1.7 4.8 1.8 4.7 1.7 4.6 1.8 4.5 1.8 3.7 1.7 2 1.8 1.7 1.8 1.5 1.7 1.6 1.8 1.5 1.7 1.6 1.8 1.5 1.8 1.5 1.7 1.6 1.8 1.5 1.7 1.5 1.8 1.6 1.8 1.5 1.7 1.5 1.8 1.6 1.8 1.5 1.7 1.5 1.8 1.6 1.7 1.5 1.8 1.5 1.8 1.5 1.7 1.6 1.8 1.5 1.8 1.5 1.7 1.6 1.8 1.5 1.7 1.5 1.8 1.6 1.8 1.5 1.7 1.5 1.8 1.5 1.7 1.6 1.8 1.5 1.8 1.5 1.7 1.6 1.8 1.5 1.8 1.5 1.7 1.6 1.8 1.5 1.7 1.5 1.8 1.5 1.8 1.6 1.7 1.5M155.2 123.3l1.7 4.9 1.8 4.8 1.8 4.8 1.7 4.7 1.8 4.5 1.7 3.8 1.8 2 1.8 1.7 1.7 1.5 1.8 1.6 1.8 1.5 1.7 1.6 1.8 1.5 1.7 1.6 1.8 1.5 1.8 1.5 1.7 1.6 1.8 1.5 1.8 1.5 1.7 1.5 1.8 1.6 1.7 1.5 1.8 1.5 1.8 1.6 1.7 1.5 1.8 1.5 1.7 1.6 1.8 1.5 1.8 1.5 1.7 1.6 1.8 1.5 1.8 1.5 1.7 1.5 1.8 1.6 1.7 1.5 1.8 1.5 1.8 1.6 1.7 1.5 1.8 1.5 1.8 1.6 1.7 1.5 1.8 1.5 1.7 1.5 1.8 1.6 1.8 1.5 1.7 1.5 1.8 1.6 1.7 1.5 1.8 1.5 1.8 1.6M162.6 124.9l1.8 4.9 1.7 4.8 1.8 4.7 1.8 4.6 1.7 3.9 1.8 2.1 1.7 1.6 1.8 1.6 1.8 1.5 1.7 1.6 1.8 1.5 1.8 1.5 1.7 1.6 1.8 1.5 1.7 1.5 1.8 1.6 1.8 1.5 1.7 1.5 1.8 1.6 1.8 1.5 1.7 1.5 1.8 1.6 1.7 1.5 1.8 1.5 1.8 1.5 1.7 1.6 1.8 1.5 1.8 1.5 1.7 1.6 1.8 1.5 1.7 1.5 1.8 1.6 1.8 1.5 1.7 1.5 1.8 1.6 1.7 1.5 1.8 1.5 1.8 1.5 1.7 1.6 1.8 1.5 1.8 1.5 1.7 1.6 1.8 1.5 1.7 1.5 1.8 1.6 1.8 1.5 1.7 1.5 1.8 1.5 1.8 1.6 1.7 1.5M170.1 126.4l1.7 4.9 1.8 4.8 1.7 4.7 1.8 4 1.8 2.1 1.7 1.6 1.8 1.6 1.8 1.5 1.7 1.6 1.8 1.5 1.7 1.6 1.8 1.5 1.8 1.5 1.7 1.6 1.8 1.5 1.7 1.5 1.8 1.6 1.8 1.5 1.7 1.5 1.8 1.5 1.8 1.6 1.7 1.5 1.8 1.5 1.7 1.6 1.8 1.5 1.8 1.5 1.7 1.6 1.8 1.5 1.8 1.5 1.7 1.6 1.8 1.5 1.7 1.5 1.8 1.5 1.8 1.6 1.7 1.5 1.8 1.5 1.8 1.6 1.7 1.5 1.8 1.5 1.7 1.6 1.8 1.5 1.8 1.5 1.7 1.5 1.8 1.6 1.7 1.5 1.8 1.5 1.8 1.6 1.7 1.5 1.8 1.5 1.8 1.6M177.5 128l1.8 4.8 1.7 4.8 1.8 4.1 1.7 2.2 1.8 1.6 1.8 1.6 1.7 1.6 1.8 1.5 1.8 1.5 1.7 1.6 1.8 1.5 1.7 1.5 1.8 1.6 1.8 1.5 1.7 1.5 1.8 1.6 1.8 1.5 1.7 1.5 1.8 1.6 1.7 1.5 1.8 1.5 1.8 1.6 1.7 1.5 1.8 1.5 1.7 1.5 1.8 1.6 1.8 1.5 1.7 1.5 1.8 1.6 1.8 1.5 1.7 1.5 1.8 1.6 1.7 1.5 1.8 1.5 1.8 1.6 1.7 1.5 1.8 1.5 1.8 1.5 1.7 1.6 1.8 1.5 1.7 1.5 1.8 1.6 1.8 1.5 1.7 1.5 1.8 1.6 1.7 1.5 1.8 1.5 1.8 1.5 1.7 1.6 1.8 1.5M184.9 129.5l1.8 4.8 1.8 4.3 1.7 2.3 1.8 1.7 1.8 1.5 1.7 1.6 1.8 1.5 1.7 1.6 1.8 1.5 1.8 1.5 1.7 1.6 1.8 1.5 1.7 1.5 1.8 1.6 1.8 1.5 1.7 1.5 1.8 1.6 1.8 1.5 1.7 1.5 1.8 1.5 1.7 1.6 1.8 1.5 1.8 1.5 1.7 1.6 1.8 1.5 1.8 1.5 1.7 1.6 1.8 1.5 1.7 1.5 1.8 1.5 1.8 1.6 1.7 1.5 1.8 1.5 1.7 1.6 1.8 1.5 1.8 1.5 1.7 1.6 1.8 1.5 1.8 1.5 1.7 1.5 1.8 1.6 1.7 1.5 1.8 1.5 1.8 1.6 1.7 1.5 1.8 1.5 1.8 1.6 1.7 1.5 1.8 1.5 1.7 1.6M192.4 131l1.7 4.4 1.8 2.5 1.8 1.7 1.7 1.5 1.8 1.6 1.8 1.5 1.7 1.6 1.8 1.5 1.7 1.5 1.8 1.6 1.8 1.5 1.7 1.5 1.8 1.6 1.8 1.5 1.7 1.5 1.8 1.6 1.7 1.5 1.8 1.5 1.8 1.6 1.7 1.5 1.8 1.5 1.7 1.6 1.8 1.5 1.8 1.5 1.7 1.5 1.8 1.6 1.8 1.5 1.7 1.5 1.8 1.6 1.7 1.5 1.8 1.5 1.8 1.6 1.7 1.5 1.8 1.5 1.8 1.5 1.7 1.6 1.8 1.5 1.7 1.5 1.8 1.6 1.8 1.5 1.7 1.5 1.8 1.6 1.7 1.5 1.8 1.5 1.8 1.5 1.7 1.6 1.8 1.5 1.8 1.5 1.7 1.6 1.8 1.5M199.8 132.2l1.8 2.7 1.7 1.7 1.8 1.6 1.8 1.5 1.7 1.6 1.8 1.5 1.8 1.5 1.7 1.6 1.8 1.5 1.7 1.5 1.8 1.6 1.8 1.5 1.7 1.5 1.8 1.6 1.8 1.5 1.7 1.5 1.8 1.5 1.7 1.6 1.8 1.5 1.8 1.5 1.7 1.6 1.8 1.5 1.8 1.5 1.7 1.6 1.8 1.5 1.7 1.5 1.8 1.6 1.8 1.5 1.7 1.5 1.8 1.5 1.7 1.6 1.8 1.5 1.8 1.5 1.7 1.6 1.8 1.5 1.8 1.5 1.7 1.6 1.8 1.5 1.7 1.5 1.8 1.5 1.8 1.6 1.7 1.5 1.8 1.5 1.8 1.6 1.7 1.5 1.8 1.5 1.7 1.6 1.8 1.5 1.8 1.5 1.7 1.5M207.3 131.9l1.7 1.7 1.8 1.6 1.8 1.5 1.7 1.6 1.8 1.5 1.7 1.5 1.8 1.6 1.8 1.5 1.7 1.5 1.8 1.6 1.7 1.5 1.8 1.5 1.8 1.6 1.7 1.5 1.8 1.5 1.8 1.6 1.7 1.5 1.8 1.5 1.7 1.6 1.8 1.5 1.8 1.5 1.7 1.6 1.8 1.5 1.8 1.5 1.7 1.5 1.8 1.6 1.7 1.5 1.8 1.5 1.8 1.6 1.7 1.5 1.8 1.5 1.8 1.6 1.7 1.5 1.8 1.5 1.7 1.5 1.8 1.6 1.8 1.5 1.7 1.5 1.8 1.6 1.7 1.5 1.8 1.5 1.8 1.6 1.7 1.5 1.8 1.5 1.8 1.5 1.7 1.6 1.8 1.5 1.7 1.5 1.8 1.6 1.8 1.5M214.7 130.6l1.8 1.6 1.7 1.5 1.8 1.6 1.8 1.5 1.7 1.6 1.8 1.5 1.7 1.5 1.8 1.6 1.8 1.5 1.7 1.5 1.8 1.6 1.8 1.5 1.7 1.5 1.8 1.6 1.7 1.5 1.8 1.5 1.8 1.5 1.7 1.6 1.8 1.5 1.7 1.5 1.8 1.6 1.8 1.5 1.7 1.5 1.8 1.6 1.8 1.5 1.7 1.5 1.8 1.6 1.7 1.5 1.8 1.5 1.8 1.5 1.7 1.6 1.8 1.5 1.8 1.5 1.7 1.6 1.8 1.5 1.7 1.5 1.8 1.6 1.8 1.5 1.7 1.5 1.8 1.5 1.8 1.6 1.7 1.5 1.8 1.5 1.7 1.6 1.8 1.5 1.8 1.5 1.7 1.6 1.8 1.5 1.7 1.5 1.8 1.5"/>
<path fill="rgb(0,0,138)" stroke="rgb(0,0,138)" stroke-width=".5" d="M214.7 129.5l1.8 1.5 .8 .1 -1.8-1.5zM216.5 131l1.7 1.6 .8 .1 -1.7-1.6zM218.2 132.6l1.8 1.5 .8 .1 -1.8-1.5zM220 134.1l1.8 1.6 .8 .1 -1.8-1.6zM261.9 177.8l1.8 1.6 7.4-.2 -1.8-1.5zM263.7 179.4l1.7 1.6 7.5-.2 -1.8-1.6zM273.8 196.5l1.8 1.7 7.4-.9 -1.7-1.7zM266 205.6l1.8 1.8 7.4-1.2 -1.8-1.8zM254.6 211.1l1.8 2 7.4-.6 -1.7-1.9z"/>
<path fill="rgb(0,0,137)" stroke="rgb(0,0,137)" stroke-width=".5" d="M221.8 135.7l1.7 1.5 .8 .1 -1.7-1.5zM223.5 137.2l1.8 1.6 .8 .1 -1.8-1.6zM225.3 138.8l1.7 1.5 .8 .1 -1.7-1.5zM227 140.3l1.8 1.6 .8 .1 -1.8-1.6zM228.8 141.9l1.8 1.5 .8 .1 -1.8-1.5zM265.4 181l1.8 1.7 7.4-.4 -1.7-1.5zM267.2 182.7l1.7 1.6 7.5-.4 -1.8-1.6zM271.7 202.7l1.7 1.7 7.5-1.1 -1.8-1.7zM260.3 208.6l1.8 2 7.4-1.3 -1.7-1.9z"/>
<path fill="rgb(0,0,136)" stroke="rgb(0,0,136)" stroke-width=".5" d="M230.6 143.4l1.7 1.6 .8 .1 -1.7-1.6zM232.3 145l1.8 1.6 .8 0 -1.8-1.5zM234.1 146.6l1.8 1.5 .8 .1 -1.8-1.6zM235.9 148.1l1.7 1.6 .8 0 -1.7-1.5zM237.6 149.7l1.8 1.5 .8 .1 -1.8-1.6zM268.9 184.3l1.8 1.6 7.4-.5 -1.7-1.5zM270.7 185.9l1.8 1.6 7.4-.5 -1.8-1.6zM275.6 198.2l1.8 1.7 7.4-1 -1.8-1.6z"/>
<path fill="rgb(0,0,135)" stroke="rgb(0,0,135)" stroke-width=".5" d="M239.4 151.2l1.7 1.6 .8 0 -1.7-1.5zM241.1 152.8l1.8 1.5 .8 .1 -1.8-1.6zM242.9 154.3l1.8 1.6 .8 0 -1.8-1.5zM244.7 155.9l1.7 1.5 .8 .1 -1.7-1.6zM246.4 157.4l1.8 1.6 .8 0 -1.8-1.5zM272.5 187.5l1.7 1.6 7.5-.5 -1.8-1.6zM277.4 199.9l1.7 1.7 7.5-1.1 -1.8-1.6zM273.4 204.4l1.8 1.8 7.4-1.2 -1.7-1.7zM267.8 207.4l1.7 1.9 7.5-1.3 -1.8-1.8z"/>
<path fill="rgb(0,0,134)" stroke="rgb(0,0,134)" stroke-width=".5" d="M248.2 159l1.7 1.5 .8 .1 -1.7-1.6zM249.9 160.5l1.8 1.6 .8 0 -1.8-1.5zM251.7 162.1l1.8 1.6 .8 0 -1.8-1.6zM253.5 163.7l1.7 1.5 .8 0 -1.7-1.5zM274.2 189.1l1.8 1.7 7.4-.7 -1.7-1.5zM276 190.8l1.7 1.6 7.5-.7 -1.8-1.6zM279.1 201.6l1.8 1.7 7.4-1.1 -1.7-1.7zM256.4 213.1l1.8 2.1 7.4-.7 -1.8-2z"/>
<path fill="rgb(0,0,133)" stroke="rgb(0,0,133)" stroke-width=".5" d="M255.2 165.2l1.8 1.6 .8 0 -1.8-1.6zM257 166.8l1.8 1.5 .8 0 -1.8-1.5zM258.8 168.3l1.7 1.6 .8 0 -1.7-1.6zM260.5 169.9l1.8 1.5 .8 0 -1.8-1.5zM262.3 171.4l1.7 1.6 .8 0 -1.7-1.6zM277.7 192.4l1.8 1.6 7.5-.8 -1.8-1.5zM279.5 194l1.8 1.6 7.4-.8 -1.7-1.6zM275.2 206.2l1.8 1.8 7.4-1.3 -1.8-1.7zM262.1 210.6l1.7 1.9 7.5-1.3 -1.8-1.9z"/>
<path fill="rgb(0,0,132)" stroke="rgb(0,0,132)" stroke-width=".5" d="M264 173l1.8 1.5 .8 0 -1.8-1.5zM265.8 174.5l1.8 1.6 .8 0 -1.8-1.6zM267.6 176.1l1.7 1.6 .8-.1 -1.7-1.5zM269.3 177.7l1.8 1.5 .8 0 -1.8-1.6zM281.3 195.6l1.7 1.7 7.5-1 -1.8-1.5zM283 197.3l1.8 1.6 7.4-1 -1.7-1.6zM280.9 203.3l1.7 1.7 7.5-1.2 -1.8-1.6zM269.5 209.3l1.8 1.9 7.4-1.4 -1.7-1.8z"/>
<path fill="rgb(0,0,131)" stroke="rgb(0,0,131)" stroke-width=".5" d="M271.1 179.2l1.8 1.6 .8-.1 -1.8-1.5zM272.9 180.8l1.7 1.5 .8 0 -1.7-1.6zM274.6 182.3l1.8 1.6 .8-.1 -1.8-1.5zM276.4 183.9l1.7 1.5 .8 0 -1.7-1.6zM278.1 185.4l1.8 1.6 .8-.1 -1.8-1.5zM284.8 198.9l1.8 1.6 7.4-1 -1.8-1.6zM282.6 205l1.8 1.7 7.4-1.3 -1.7-1.6zM277 208l1.7 1.8 7.5-1.4 -1.8-1.7z"/>
<path fill="rgb(0,0,130)" stroke="rgb(0,0,130)" stroke-width=".5" d="M279.9 187l1.8 1.6 .8-.1 -1.8-1.6zM281.7 188.6l1.7 1.5 .8-.1 -1.7-1.5zM283.4 190.1l1.8 1.6 .8-.1 -1.8-1.6zM285.2 191.7l1.8 1.5 .8-.1 -1.8-1.5zM286.6 200.5l1.7 1.7 7.5-1.2 -1.8-1.5zM288.3 202.2l1.8 1.6 7.4-1.2 -1.7-1.6zM284.4 206.7l1.8 1.7 7.4-1.3 -1.8-1.7z"/>
<path fill="rgb(0,0,129)" stroke="rgb(0,0,129)" stroke-width=".5" d="M287 193.2l1.7 1.6 .8-.1 -1.7-1.6zM288.7 194.8l1.8 1.5 .8-.1 -1.8-1.5zM290.5 196.3l1.7 1.6 .8-.1 -1.7-1.6zM292.2 197.9l1.8 1.6 .8-.2 -1.8-1.5zM294 199.5l1.8 1.5 .8-.1 -1.8-1.6zM290.1 203.8l1.7 1.6 7.5-1.3 -1.8-1.5zM278.7 209.8l1.8 1.8 7.4-1.4 -1.7-1.8zM271.3 211.2l1.7 1.9 7.5-1.5 -1.8-1.8zM263.8 212.5l1.8 2 7.4-1.4 -1.7-1.9z"/>
<path fill="rgb(0,0,128)" stroke="rgb(0,0,128)" stroke-width=".5" d="M295.8 201l1.7 1.6 .8-.2 -1.7-1.5zM297.5 202.6l1.8 1.5 .8-.1 -1.8-1.6zM299.3 204.1l1.7 1.6 .8-.2 -1.7-1.5zM301 205.7l1.8 1.6 .8-.2 -1.8-1.6zM291.8 205.4l1.8 1.7 7.4-1.4 -1.7-1.6zM293.6 207.1l1.8 1.6 7.4-1.4 -1.8-1.6zM286.2 208.4l1.7 1.8 7.5-1.5 -1.8-1.6z"/>
<path fill="rgb(0,0,153)" stroke="rgb(0,0,153)" stroke-width=".5" d="M207.3 128.2l1.7 1.6 7.5 1.2 -1.8-1.5zM250.9 174.6l1.8 1.6 7.4 0 -1.7-1.6zM257.6 188.5l1.7 1.7 7.5-.5 -1.8-1.7z"/>
<path fill="rgb(0,0,152)" stroke="rgb(0,0,152)" stroke-width=".5" d="M209 129.8l1.8 1.6 7.4 1.2 -1.7-1.6zM210.8 131.4l1.8 1.5 7.4 1.2 -1.8-1.5zM252.7 176.2l1.7 1.7 7.5-.1 -1.8-1.6z"/>
<path fill="rgb(0,0,151)" stroke="rgb(0,0,151)" stroke-width=".5" d="M212.6 132.9l1.7 1.6 7.5 1.2 -1.8-1.6zM214.3 134.5l1.8 1.6 7.4 1.1 -1.7-1.5zM216.1 136.1l1.7 1.6 7.5 1.1 -1.8-1.6zM254.4 177.9l1.8 1.7 7.5-.2 -1.8-1.6zM259.3 190.2l1.8 1.8 7.4-.6 -1.7-1.7zM257.2 196.3l1.7 1.8 7.5-.8 -1.8-1.8zM253.3 200.9l1.7 1.9 7.5-1 -1.8-1.8zM249.3 205l1.8 2.1 7.4-.4 -1.7-2z"/>
<path fill="rgb(0,0,150)" stroke="rgb(0,0,150)" stroke-width=".5" d="M217.8 137.7l1.8 1.6 7.4 1 -1.7-1.5zM219.6 139.3l1.8 1.6 7.4 1 -1.8-1.6zM256.2 179.6l1.8 1.7 7.4-.3 -1.7-1.6zM247.2 210.9l1.8 2 7.4 .2 -1.8-2z"/>
<path fill="rgb(0,0,149)" stroke="rgb(0,0,149)" stroke-width=".5" d="M221.4 140.9l1.7 1.6 7.5 .9 -1.8-1.5zM223.1 142.5l1.8 1.6 7.4 .9 -1.7-1.6zM224.9 144.1l1.7 1.6 7.5 .9 -1.8-1.6zM261.1 192l1.8 1.8 7.4-.7 -1.8-1.7zM258.9 198.1l1.8 1.9 7.4-.9 -1.7-1.8z"/>
<path fill="rgb(0,0,148)" stroke="rgb(0,0,148)" stroke-width=".5" d="M226.6 145.7l1.8 1.6 7.5 .8 -1.8-1.5zM228.4 147.3l1.8 1.6 7.4 .8 -1.7-1.6zM258 181.3l1.7 1.7 7.5-.3 -1.8-1.7z"/>
<path fill="rgb(0,0,147)" stroke="rgb(0,0,147)" stroke-width=".5" d="M230.2 148.9l1.7 1.6 7.5 .7 -1.8-1.5zM231.9 150.5l1.8 1.6 7.4 .7 -1.7-1.6zM259.7 183l1.8 1.6 7.4-.3 -1.7-1.6zM262.9 193.8l1.7 1.7 7.5-.7 -1.8-1.7zM255 202.8l1.8 1.9 7.4-1 -1.7-1.9zM251.1 207.1l1.8 2 7.4-.5 -1.8-1.9z"/>
<path fill="rgb(0,0,146)" stroke="rgb(0,0,146)" stroke-width=".5" d="M233.7 152.1l1.8 1.6 7.4 .6 -1.8-1.5zM235.5 153.7l1.7 1.6 7.5 .6 -1.8-1.6zM261.5 184.6l1.8 1.7 7.4-.4 -1.8-1.6zM260.7 200l1.8 1.8 7.4-.9 -1.8-1.8z"/>
<path fill="rgb(0,0,145)" stroke="rgb(0,0,145)" stroke-width=".5" d="M237.2 155.3l1.8 1.6 7.4 .5 -1.7-1.5zM239 156.9l1.7 1.6 7.5 .5 -1.8-1.6zM263.3 186.3l1.7 1.7 7.5-.5 -1.8-1.6zM264.6 195.5l1.8 1.8 7.4-.8 -1.7-1.7zM249 212.9l1.7 2.1 7.5 .2 -1.8-2.1z"/>
<path fill="rgb(0,0,144)" stroke="rgb(0,0,144)" stroke-width=".5" d="M240.7 158.5l1.8 1.6 7.4 .4 -1.7-1.5zM242.5 160.1l1.8 1.6 7.4 .4 -1.8-1.6zM244.3 161.7l1.7 1.6 7.5 .4 -1.8-1.6zM265 188l1.8 1.7 7.4-.6 -1.7-1.6zM256.8 204.7l1.7 2 7.5-1.1 -1.8-1.9z"/>
<path fill="rgb(0,0,143)" stroke="rgb(0,0,143)" stroke-width=".5" d="M246 163.3l1.8 1.6 7.4 .3 -1.7-1.5zM247.8 164.9l1.8 1.6 7.4 .3 -1.8-1.6zM266.8 189.7l1.7 1.7 7.5-.6 -1.8-1.7zM266.4 197.3l1.7 1.8 7.5-.9 -1.8-1.7zM262.5 201.8l1.7 1.9 7.5-1 -1.8-1.8z"/>
<path fill="rgb(0,0,142)" stroke="rgb(0,0,142)" stroke-width=".5" d="M249.6 166.5l1.7 1.6 7.5 .2 -1.8-1.5zM251.3 168.1l1.8 1.6 7.4 .2 -1.7-1.6zM252.9 209.1l1.7 2 7.5-.5 -1.8-2z"/>
<path fill="rgb(0,0,141)" stroke="rgb(0,0,141)" stroke-width=".5" d="M253.1 169.7l1.7 1.6 7.5 .1 -1.8-1.5zM254.8 171.3l1.8 1.7 7.4 0 -1.7-1.6zM268.5 191.4l1.8 1.7 7.4-.7 -1.7-1.6zM268.1 199.1l1.8 1.8 7.5-1 -1.8-1.7z"/>
<path fill="rgb(0,0,140)" stroke="rgb(0,0,140)" stroke-width=".5" d="M256.6 173l1.8 1.6 7.4-.1 -1.8-1.5zM270.3 193.1l1.8 1.7 7.4-.8 -1.8-1.6zM264.2 203.7l1.8 1.9 7.4-1.2 -1.7-1.7zM258.5 206.7l1.8 1.9 7.5-1.2 -1.8-1.8z"/>
<path fill="rgb(0,0,139)" stroke="rgb(0,0,139)" stroke-width=".5" d="M258.4 174.6l1.7 1.6 7.5-.1 -1.8-1.6zM260.1 176.2l1.8 1.6 7.4-.1 -1.7-1.6zM272.1 194.8l1.7 1.7 7.5-.9 -1.8-1.6zM269.9 200.9l1.8 1.8 7.4-1.1 -1.7-1.7z"/>
<path fill="rgb(0,0,179)" stroke="rgb(0,0,179)" stroke-width=".5" d="M199.8 126.8l1.8 1.6 7.4 1.4 -1.7-1.6zM229.4 160.7l1.7 1.7 7.5 .5 -1.8-1.7zM237.8 176.2l1.8 1.8 7.4 0 -1.8-1.8zM236.6 198.5l1.8 2 7.4 .5 -1.7-2z"/>
<path fill="rgb(0,0,178)" stroke="rgb(0,0,178)" stroke-width=".5" d="M201.6 128.4l1.7 1.7 7.5 1.3 -1.8-1.6zM231.1 162.4l1.8 1.7 7.5 .4 -1.8-1.6zM239.2 185.5l1.7 1.9 7.5-.3 -1.8-1.8zM236.2 206.2l1.8 2.2 7.4 .4 -1.7-2.1zM234.1 212.3l1.7 2.2 7.5 .3 -1.8-2.1z"/>
<path fill="rgb(0,0,177)" stroke="rgb(0,0,177)" stroke-width=".5" d="M203.3 130.1l1.8 1.6 7.5 1.2 -1.8-1.5zM205.1 131.7l1.8 1.6 7.4 1.2 -1.7-1.6z"/>
<path fill="rgb(0,0,176)" stroke="rgb(0,0,176)" stroke-width=".5" d="M206.9 133.3l1.7 1.6 7.5 1.2 -1.8-1.6zM232.9 164.1l1.8 1.8 7.4 .3 -1.7-1.7zM239.6 178l1.7 1.8 7.5-.1 -1.8-1.7zM238.8 193.1l1.7 2 7.5 0 -1.8-1.9z"/>
<path fill="rgb(0,0,175)" stroke="rgb(0,0,175)" stroke-width=".5" d="M208.6 134.9l1.8 1.7 7.4 1.1 -1.7-1.6zM234.7 165.9l1.7 1.7 7.5 .3 -1.8-1.7zM238.4 200.5l1.7 2.1 7.5 .4 -1.8-2z"/>
<path fill="rgb(0,0,174)" stroke="rgb(0,0,174)" stroke-width=".5" d="M210.4 136.6l1.8 1.6 7.4 1.1 -1.8-1.6zM212.2 138.2l1.7 1.6 7.5 1.1 -1.8-1.6zM241.3 179.8l1.8 1.8 7.4-.1 -1.7-1.8zM240.9 187.4l1.8 1.9 7.4-.4 -1.7-1.8z"/>
<path fill="rgb(0,0,173)" stroke="rgb(0,0,173)" stroke-width=".5" d="M213.9 139.8l1.8 1.7 7.4 1 -1.7-1.6zM236.4 167.6l1.8 1.7 7.4 .2 -1.7-1.6z"/>
<path fill="rgb(0,0,172)" stroke="rgb(0,0,172)" stroke-width=".5" d="M215.7 141.5l1.7 1.6 7.5 1 -1.8-1.6zM238.2 169.3l1.8 1.7 7.4 .2 -1.8-1.7zM243.1 181.6l1.7 1.9 7.5-.3 -1.8-1.7zM240.5 195.1l1.8 1.9 7.4 0 -1.7-1.9zM238 208.4l1.7 2.1 7.5 .4 -1.8-2.1z"/>
<path fill="rgb(0,0,171)" stroke="rgb(0,0,171)" stroke-width=".5" d="M217.4 143.1l1.8 1.6 7.4 1 -1.7-1.6zM242.7 189.3l1.8 2 7.4-.5 -1.8-1.9z"/>
<path fill="rgb(0,0,170)" stroke="rgb(0,0,170)" stroke-width=".5" d="M219.2 144.7l1.8 1.7 7.4 .9 -1.8-1.6zM240 171l1.7 1.8 7.5 .1 -1.8-1.7zM240.1 202.6l1.8 2 7.4 .4 -1.7-2z"/>
<path fill="rgb(0,0,169)" stroke="rgb(0,0,169)" stroke-width=".5" d="M221 146.4l1.7 1.6 7.5 .9 -1.8-1.6zM222.7 148l1.8 1.7 7.4 .8 -1.7-1.6zM244.8 183.5l1.8 1.8 7.5-.3 -1.8-1.8z"/>
<path fill="rgb(0,0,168)" stroke="rgb(0,0,168)" stroke-width=".5" d="M224.5 149.7l1.8 1.6 7.4 .8 -1.8-1.6zM241.7 172.8l1.8 1.7 7.4 .1 -1.7-1.7zM244.5 191.3l1.7 1.9 7.5-.6 -1.8-1.8zM242.3 197l1.8 2 7.4-.1 -1.8-1.9z"/>
<path fill="rgb(0,0,167)" stroke="rgb(0,0,167)" stroke-width=".5" d="M226.3 151.3l1.7 1.7 7.5 .7 -1.8-1.6zM243.5 174.5l1.7 1.7 7.5 0 -1.8-1.6zM246.6 185.3l1.8 1.8 7.4-.4 -1.7-1.7zM239.7 210.5l1.8 2.2 7.5 .2 -1.8-2z"/>
<path fill="rgb(0,0,166)" stroke="rgb(0,0,166)" stroke-width=".5" d="M228 153l1.8 1.6 7.4 .7 -1.7-1.6z"/>
<path fill="rgb(0,0,165)" stroke="rgb(0,0,165)" stroke-width=".5" d="M229.8 154.6l1.7 1.7 7.5 .6 -1.8-1.6zM245.2 176.2l1.8 1.8 7.4-.1 -1.7-1.7zM246.2 193.2l1.8 1.9 7.4-.7 -1.7-1.8zM241.9 204.6l1.8 2.1 7.4 .4 -1.8-2.1z"/>
<path fill="rgb(0,0,164)" stroke="rgb(0,0,164)" stroke-width=".5" d="M231.5 156.3l1.8 1.6 7.4 .6 -1.7-1.6zM248.4 187.1l1.7 1.8 7.5-.4 -1.8-1.8zM244.1 199l1.7 2 7.5-.1 -1.8-2z"/>
<path fill="rgb(0,0,163)" stroke="rgb(0,0,163)" stroke-width=".5" d="M233.3 157.9l1.8 1.7 7.4 .5 -1.8-1.6zM247 178l1.8 1.7 7.4-.1 -1.8-1.7z"/>
<path fill="rgb(0,0,162)" stroke="rgb(0,0,162)" stroke-width=".5" d="M235.1 159.6l1.7 1.6 7.5 .5 -1.8-1.6zM248.8 179.7l1.7 1.8 7.5-.2 -1.8-1.7zM250.1 188.9l1.8 1.9 7.4-.6 -1.7-1.7z"/>
<path fill="rgb(0,0,161)" stroke="rgb(0,0,161)" stroke-width=".5" d="M236.8 161.2l1.8 1.7 7.4 .4 -1.7-1.6zM248 195.1l1.7 1.9 7.5-.7 -1.8-1.9zM241.5 212.7l1.8 2.1 7.4 .2 -1.7-2.1z"/>
<path fill="rgb(0,0,160)" stroke="rgb(0,0,160)" stroke-width=".5" d="M238.6 162.9l1.8 1.6 7.4 .4 -1.8-1.6zM250.5 181.5l1.8 1.7 7.4-.2 -1.7-1.7zM243.7 206.7l1.7 2.1 7.5 .3 -1.8-2z"/>
<path fill="rgb(0,0,159)" stroke="rgb(0,0,159)" stroke-width=".5" d="M240.4 164.5l1.7 1.7 7.5 .3 -1.8-1.6zM251.9 190.8l1.8 1.8 7.4-.6 -1.8-1.8zM245.8 201l1.8 2 7.4-.2 -1.7-1.9z"/>
<path fill="rgb(0,0,158)" stroke="rgb(0,0,158)" stroke-width=".5" d="M242.1 166.2l1.8 1.7 7.4 .2 -1.7-1.6zM252.3 183.2l1.8 1.8 7.4-.4 -1.8-1.6zM249.7 197l1.8 1.9 7.4-.8 -1.7-1.8z"/>
<path fill="rgb(0,0,157)" stroke="rgb(0,0,157)" stroke-width=".5" d="M243.9 167.9l1.7 1.6 7.5 .2 -1.8-1.6zM253.7 192.6l1.7 1.8 7.5-.6 -1.8-1.8z"/>
<path fill="rgb(0,0,156)" stroke="rgb(0,0,156)" stroke-width=".5" d="M245.6 169.5l1.8 1.7 7.4 .1 -1.7-1.6zM254.1 185l1.7 1.7 7.5-.4 -1.8-1.7z"/>
<path fill="rgb(0,0,155)" stroke="rgb(0,0,155)" stroke-width=".5" d="M247.4 171.2l1.8 1.7 7.4 .1 -1.8-1.7zM247.6 203l1.7 2 7.5-.3 -1.8-1.9zM245.4 208.8l1.8 2.1 7.4 .2 -1.7-2z"/>
<path fill="rgb(0,0,154)" stroke="rgb(0,0,154)" stroke-width=".5" d="M249.2 172.9l1.7 1.7 7.5 0 -1.8-1.6zM255.8 186.7l1.8 1.8 7.4-.5 -1.7-1.7zM255.4 194.4l1.8 1.9 7.4-.8 -1.7-1.7zM251.5 198.9l1.8 2 7.4-.9 -1.8-1.9z"/>
<path fill="rgb(0,0,206)" stroke="rgb(0,0,206)" stroke-width=".5" d="M192.4 125.4l1.7 1.6 7.5 1.4 -1.8-1.6zM214.9 153.1l1.8 1.7 7.4 .8 -1.8-1.7zM224.7 177.5l1.7 1.9 7.5 .5 -1.8-1.9zM226 186.3l1.8 2 7.4 .8 -1.7-1.9z"/>
<path fill="rgb(0,0,205)" stroke="rgb(0,0,205)" stroke-width=".5" d="M194.1 127l1.8 1.7 7.4 1.4 -1.7-1.7z"/>
<path fill="rgb(0,0,204)" stroke="rgb(0,0,204)" stroke-width=".5" d="M195.9 128.7l1.8 1.6 7.4 1.4 -1.8-1.6zM216.7 154.8l1.7 1.8 7.5 .7 -1.8-1.7zM223.3 168.7l1.8 1.8 7.4 .3 -1.7-1.8zM227.4 195.7l1.8 2.1 7.4 .7 -1.7-2.1z"/>
<path fill="rgb(0,0,203)" stroke="rgb(0,0,203)" stroke-width=".5" d="M197.7 130.3l1.7 1.7 7.5 1.3 -1.8-1.6z"/>
<path fill="rgb(0,0,201)" stroke="rgb(0,0,201)" stroke-width=".5" d="M199.4 132l1.8 1.7 7.4 1.2 -1.7-1.6zM225.1 170.5l1.7 1.9 7.5 .2 -1.8-1.8z"/>
<path fill="rgb(0,0,200)" stroke="rgb(0,0,200)" stroke-width=".5" d="M201.2 133.7l1.8 1.6 7.4 1.3 -1.8-1.7zM220.2 158.4l1.7 1.7 7.5 .6 -1.8-1.7z"/>
<path fill="rgb(0,0,199)" stroke="rgb(0,0,199)" stroke-width=".5" d="M203 135.3l1.7 1.7 7.5 1.2 -1.8-1.6zM226.8 172.4l1.8 1.9 7.4 .1 -1.7-1.8zM228.2 181.3l1.8 2 7.4 .4 -1.8-1.9zM229.2 197.8l1.7 2.1 7.5 .6 -1.8-2z"/>
<path fill="rgb(0,0,198)" stroke="rgb(0,0,198)" stroke-width=".5" d="M204.7 137l1.8 1.7 7.4 1.1 -1.7-1.6zM221.9 160.1l1.8 1.8 7.4 .5 -1.7-1.7zM229.6 190.3l1.7 2.1 7.5 .7 -1.8-2z"/>
<path fill="rgb(0,0,197)" stroke="rgb(0,0,197)" stroke-width=".5" d="M206.5 138.7l1.7 1.7 7.5 1.1 -1.8-1.7z"/>
<path fill="rgb(0,0,196)" stroke="rgb(0,0,196)" stroke-width=".5" d="M208.2 140.4l1.8 1.6 7.4 1.1 -1.7-1.6zM223.7 161.9l1.8 1.8 7.4 .4 -1.8-1.7zM228.6 174.3l1.8 1.8 7.4 .1 -1.8-1.8zM228.8 205.7l1.7 2.2 7.5 .5 -1.8-2.2z"/>
<path fill="rgb(0,0,194)" stroke="rgb(0,0,194)" stroke-width=".5" d="M210 142l1.8 1.7 7.4 1 -1.8-1.6zM225.5 163.7l1.7 1.7 7.5 .5 -1.8-1.8zM230.9 199.9l1.8 2.1 7.4 .6 -1.7-2.1z"/>
<path fill="rgb(0,0,193)" stroke="rgb(0,0,193)" stroke-width=".5" d="M211.8 143.7l1.7 1.7 7.5 1 -1.8-1.7zM230.4 176.1l1.7 1.9 7.5 0 -1.8-1.8zM231.3 192.4l1.8 2 7.4 .7 -1.7-2z"/>
<path fill="rgb(0,0,192)" stroke="rgb(0,0,192)" stroke-width=".5" d="M213.5 145.4l1.8 1.7 7.4 .9 -1.7-1.6zM227.2 165.4l1.8 1.8 7.4 .4 -1.7-1.7z"/>
<path fill="rgb(0,0,191)" stroke="rgb(0,0,191)" stroke-width=".5" d="M215.3 147.1l1.8 1.7 7.4 .9 -1.8-1.7zM231.7 185.2l1.8 2 7.4 .2 -1.7-1.9z"/>
<path fill="rgb(0,0,189)" stroke="rgb(0,0,189)" stroke-width=".5" d="M217 148.8l1.8 1.7 7.5 .8 -1.8-1.6zM233.1 194.4l1.8 2 7.4 .6 -1.8-1.9z"/>
<path fill="rgb(0,0,188)" stroke="rgb(0,0,188)" stroke-width=".5" d="M218.8 150.5l1.8 1.7 7.4 .8 -1.7-1.7zM230.8 169l1.7 1.8 7.5 .2 -1.8-1.7zM232.7 202l1.8 2.1 7.4 .5 -1.8-2z"/>
<path fill="rgb(0,0,187)" stroke="rgb(0,0,187)" stroke-width=".5" d="M220.6 152.2l1.7 1.7 7.5 .7 -1.8-1.6zM233.9 179.9l1.7 1.9 7.5-.2 -1.8-1.8zM233.5 187.2l1.8 1.9 7.4 .2 -1.8-1.9z"/>
<path fill="rgb(0,0,185)" stroke="rgb(0,0,185)" stroke-width=".5" d="M222.3 153.9l1.8 1.7 7.4 .7 -1.7-1.7z"/>
<path fill="rgb(0,0,184)" stroke="rgb(0,0,184)" stroke-width=".5" d="M224.1 155.6l1.8 1.7 7.4 .6 -1.8-1.6zM235.6 181.8l1.8 1.9 7.4-.2 -1.7-1.9zM235.2 189.1l1.8 2 7.5 .2 -1.8-2zM234.9 196.4l1.7 2.1 7.5 .5 -1.8-2zM232.3 210.1l1.8 2.2 7.4 .4 -1.8-2.2z"/>
<path fill="rgb(0,0,182)" stroke="rgb(0,0,182)" stroke-width=".5" d="M225.9 157.3l1.7 1.7 7.5 .6 -1.8-1.7z"/>
<path fill="rgb(0,0,181)" stroke="rgb(0,0,181)" stroke-width=".5" d="M227.6 159l1.8 1.7 7.4 .5 -1.7-1.6zM236 174.4l1.8 1.8 7.4 0 -1.7-1.7zM237.4 183.7l1.8 1.8 7.4-.2 -1.8-1.8z"/>
<path fill="rgb(0,0,234)" stroke="rgb(0,0,234)" stroke-width=".5" d="M184.9 123.8l1.8 1.7 7.4 1.5 -1.7-1.6zM216.1 198.4l1.7 2.2 7.5 .7 -1.8-2.1zM211.7 210.5l1.8 2.4 7.4 .6 -1.7-2.3z"/>
<path fill="rgb(0,0,232)" stroke="rgb(0,0,232)" stroke-width=".5" d="M186.7 125.5l1.8 1.7 7.4 1.5 -1.8-1.7zM203.9 148.6l1.8 1.8 7.4 .9 -1.7-1.7z"/>
<path fill="rgb(0,0,231)" stroke="rgb(0,0,231)" stroke-width=".5" d="M188.5 127.2l1.7 1.7 7.5 1.4 -1.8-1.6zM215.5 174.4l1.7 2 7.5 1.1 -1.8-2z"/>
<path fill="rgb(0,0,229)" stroke="rgb(0,0,229)" stroke-width=".5" d="M190.2 128.9l1.8 1.7 7.4 1.4 -1.7-1.7z"/>
<path fill="rgb(0,0,228)" stroke="rgb(0,0,228)" stroke-width=".5" d="M192 130.6l1.8 1.7 7.4 1.4 -1.8-1.7zM207.5 152.2l1.7 1.8 7.5 .8 -1.8-1.7zM218.6 185.4l1.8 2 7.4 .9 -1.8-2zM217.8 200.6l1.8 2.2 7.4 .7 -1.7-2.2zM215.7 206.6l1.7 2.3 7.5 .6 -1.8-2.2z"/>
<path fill="rgb(0,0,226)" stroke="rgb(0,0,226)" stroke-width=".5" d="M193.8 132.3l1.7 1.7 7.5 1.3 -1.8-1.6zM214.1 166l1.8 1.9 7.4 .8 -1.8-1.9z"/>
<path fill="rgb(0,0,225)" stroke="rgb(0,0,225)" stroke-width=".5" d="M195.5 134l1.8 1.7 7.4 1.3 -1.7-1.7zM209.2 154l1.8 1.8 7.4 .8 -1.7-1.8zM220 194.9l1.7 2.1 7.5 .8 -1.8-2.1z"/>
<path fill="rgb(0,0,223)" stroke="rgb(0,0,223)" stroke-width=".5" d="M197.3 135.7l1.7 1.7 7.5 1.3 -1.8-1.7zM211 155.8l1.7 1.9 7.5 .7 -1.8-1.8zM215.9 167.9l1.7 1.9 7.5 .7 -1.8-1.8zM219 178.4l1.8 1.9 7.4 1 -1.8-1.9z"/>
<path fill="rgb(0,0,222)" stroke="rgb(0,0,222)" stroke-width=".5" d="M199 137.4l1.8 1.8 7.4 1.2 -1.7-1.7zM219.6 202.8l1.7 2.2 7.5 .7 -1.8-2.2z"/>
<path fill="rgb(0,0,220)" stroke="rgb(0,0,220)" stroke-width=".5" d="M200.8 139.2l1.8 1.7 7.4 1.1 -1.8-1.6zM212.7 157.7l1.8 1.8 7.4 .6 -1.7-1.7zM217.6 169.8l1.8 1.9 7.4 .7 -1.7-1.9z"/>
<path fill="rgb(0,0,219)" stroke="rgb(0,0,219)" stroke-width=".5" d="M202.6 140.9l1.7 1.7 7.5 1.1 -1.8-1.7zM220.8 180.3l1.7 2 7.5 1 -1.8-2zM222.1 189.5l1.8 2.1 7.4 .8 -1.7-2.1zM221.7 197l1.8 2.2 7.4 .7 -1.7-2.1z"/>
<path fill="rgb(0,0,217)" stroke="rgb(0,0,217)" stroke-width=".5" d="M204.3 142.6l1.8 1.8 7.4 1 -1.7-1.7z"/>
<path fill="rgb(0,0,215)" stroke="rgb(0,0,215)" stroke-width=".5" d="M206.1 144.4l1.7 1.7 7.5 1 -1.8-1.7zM216.3 161.3l1.7 1.8 7.5 .6 -1.8-1.8zM222.5 182.3l1.8 2 7.4 .9 -1.7-1.9zM221.3 205l1.8 2.3 7.4 .6 -1.7-2.2z"/>
<path fill="rgb(0,0,213)" stroke="rgb(0,0,213)" stroke-width=".5" d="M207.8 146.1l1.8 1.7 7.5 1 -1.8-1.7zM221.2 173.6l1.7 1.9 7.5 .6 -1.8-1.8zM223.5 199.2l1.8 2.1 7.4 .7 -1.8-2.1z"/>
<path fill="rgb(0,0,212)" stroke="rgb(0,0,212)" stroke-width=".5" d="M209.6 147.8l1.8 1.8 7.4 .9 -1.8-1.7zM218 163.1l1.8 1.9 7.4 .4 -1.7-1.7z"/>
<path fill="rgb(0,0,210)" stroke="rgb(0,0,210)" stroke-width=".5" d="M211.4 149.6l1.7 1.7 7.5 .9 -1.8-1.7zM219.8 165l1.7 1.8 7.5 .4 -1.8-1.8z"/>
<path fill="rgb(0,0,208)" stroke="rgb(0,0,208)" stroke-width=".5" d="M213.1 151.3l1.8 1.8 7.4 .8 -1.7-1.7zM225.3 201.3l1.7 2.2 7.5 .6 -1.8-2.1z"/>
<path fill="rgb(0,0,202)" stroke="rgb(0,0,202)" stroke-width=".5" d="M218.4 156.6l1.8 1.8 7.4 .6 -1.7-1.7zM226.4 179.4l1.8 1.9 7.4 .5 -1.7-1.9zM227.8 188.3l1.8 2 7.4 .8 -1.8-2zM227 203.5l1.8 2.2 7.4 .5 -1.7-2.1zM224.9 209.5l1.7 2.3 7.5 .5 -1.8-2.2z"/>
<path fill="rgb(0,0,190)" stroke="rgb(0,0,190)" stroke-width=".5" d="M229 167.2l1.8 1.8 7.4 .3 -1.8-1.7zM232.1 178l1.8 1.9 7.4-.1 -1.7-1.8zM230.5 207.9l1.8 2.2 7.4 .4 -1.7-2.1z"/>
<path fill="rgb(0,0,186)" stroke="rgb(0,0,186)" stroke-width=".5" d="M232.5 170.8l1.8 1.8 7.4 .2 -1.7-1.8z"/>
<path fill="rgb(0,0,183)" stroke="rgb(0,0,183)" stroke-width=".5" d="M234.3 172.6l1.7 1.8 7.5 .1 -1.8-1.7zM234.5 204.1l1.7 2.1 7.5 .5 -1.8-2.1z"/>
<path fill="rgb(0,8,255)" stroke="rgb(0,8,255)" stroke-width=".5" d="M177.5 122.2l1.8 1.7 7.4 1.6 -1.8-1.7zM206.8 195.2l1.8 2.2 7.5 1 -1.8-2.2zM202.5 207.2l1.8 2.5 7.4 .8 -1.7-2.4z"/>
<path fill="rgb(0,6,255)" stroke="rgb(0,6,255)" stroke-width=".5" d="M179.3 123.9l1.7 1.7 7.5 1.6 -1.8-1.7zM201.4 158.9l1.7 1.9 7.5 1.4 -1.8-1.9z"/>
<path fill="rgb(0,4,255)" stroke="rgb(0,4,255)" stroke-width=".5" d="M181 125.6l1.8 1.8 7.4 1.5 -1.7-1.7zM194.7 145.5l1.8 1.8 7.4 1.3 -1.7-1.8z"/>
<path fill="rgb(0,2,255)" stroke="rgb(0,2,255)" stroke-width=".5" d="M182.8 127.4l1.7 1.7 7.5 1.5 -1.8-1.7zM196.5 147.3l1.7 1.9 7.5 1.2 -1.8-1.8zM203.1 160.8l1.8 2 7.4 1.3 -1.7-1.9zM209.4 182.2l1.8 2.1 7.4 1.1 -1.8-2.1zM206.5 203.4l1.7 2.3 7.5 .9 -1.8-2.3z"/>
<path fill="rgb(0,0,255)" stroke="rgb(0,0,255)" stroke-width=".5" d="M184.5 129.1l1.8 1.8 7.4 1.4 -1.7-1.7z"/>
<path fill="rgb(0,0,253)" stroke="rgb(0,0,253)" stroke-width=".5" d="M186.3 130.9l1.8 1.7 7.4 1.4 -1.8-1.7zM210.8 191.8l1.7 2.2 7.5 .9 -1.8-2.1z"/>
<path fill="rgb(0,0,252)" stroke="rgb(0,0,252)" stroke-width=".5" d="M188.1 132.6l1.7 1.8 7.5 1.3 -1.8-1.7zM211.2 184.3l1.7 2.1 7.5 1 -1.8-2z"/>
<path fill="rgb(0,0,250)" stroke="rgb(0,0,250)" stroke-width=".5" d="M189.8 134.4l1.8 1.7 7.4 1.3 -1.7-1.7zM206.7 164.7l1.7 1.9 7.5 1.3 -1.8-1.9z"/>
<path fill="rgb(0,0,248)" stroke="rgb(0,0,248)" stroke-width=".5" d="M191.6 136.1l1.8 1.8 7.4 1.3 -1.8-1.8zM201.8 152.9l1.7 1.8 7.5 1.1 -1.8-1.8z"/>
<path fill="rgb(0,0,245)" stroke="rgb(0,0,245)" stroke-width=".5" d="M193.4 137.9l1.7 1.8 7.5 1.2 -1.8-1.7zM203.5 154.7l1.8 1.9 7.4 1.1 -1.7-1.9z"/>
<path fill="rgb(0,0,243)" stroke="rgb(0,0,243)" stroke-width=".5" d="M195.1 139.7l1.8 1.7 7.4 1.2 -1.7-1.7zM210.2 168.6l1.8 1.9 7.4 1.2 -1.8-1.9z"/>
<path fill="rgb(0,0,241)" stroke="rgb(0,0,241)" stroke-width=".5" d="M196.9 141.4l1.7 1.8 7.5 1.2 -1.8-1.8zM214.7 188.5l1.7 2.1 7.5 1 -1.8-2.1zM210 208.1l1.7 2.4 7.5 .7 -1.8-2.3z"/>
<path fill="rgb(0,0,239)" stroke="rgb(0,0,239)" stroke-width=".5" d="M198.6 143.2l1.8 1.8 7.4 1.1 -1.7-1.7zM207.1 158.4l1.7 1.9 7.5 1 -1.8-1.8zM212 170.5l1.7 2 7.5 1.1 -1.8-1.9z"/>
<path fill="rgb(0,0,237)" stroke="rgb(0,0,237)" stroke-width=".5" d="M200.4 145l1.8 1.8 7.4 1 -1.8-1.7z"/>
<path fill="rgb(0,0,235)" stroke="rgb(0,0,235)" stroke-width=".5" d="M202.2 146.8l1.7 1.8 7.5 1 -1.8-1.8zM213.7 172.5l1.8 1.9 7.4 1.1 -1.7-1.9zM213.9 204.3l1.8 2.3 7.4 .7 -1.8-2.3z"/>
<path fill="rgb(0,0,230)" stroke="rgb(0,0,230)" stroke-width=".5" d="M205.7 150.4l1.8 1.8 7.4 .9 -1.8-1.8zM212.3 164.1l1.8 1.9 7.4 .8 -1.7-1.8zM218.2 192.8l1.8 2.1 7.4 .8 -1.7-2.1z"/>
<path fill="rgb(0,0,218)" stroke="rgb(0,0,218)" stroke-width=".5" d="M214.5 159.5l1.8 1.8 7.4 .6 -1.8-1.8z"/>
<path fill="rgb(0,0,207)" stroke="rgb(0,0,207)" stroke-width=".5" d="M221.5 166.8l1.8 1.9 7.5 .3 -1.8-1.8z"/>
<path fill="rgb(0,37,255)" stroke="rgb(0,37,255)" stroke-width=".5" d="M170.1 120.4l1.7 1.8 7.5 1.7 -1.8-1.7zM192.2 155.5l1.7 1.9 7.5 1.5 -1.8-1.9zM198.4 176.8l1.8 2.1 7.4 1.2 -1.7-2z"/>
<path fill="rgb(0,35,255)" stroke="rgb(0,35,255)" stroke-width=".5" d="M171.8 122.2l1.8 1.7 7.4 1.7 -1.7-1.7zM185.5 142l1.8 1.9 7.4 1.6 -1.7-1.8z"/>
<path fill="rgb(0,33,255)" stroke="rgb(0,33,255)" stroke-width=".5" d="M173.6 123.9l1.7 1.8 7.5 1.7 -1.8-1.8zM193.9 157.4l1.8 2 7.4 1.4 -1.7-1.9z"/>
<path fill="rgb(0,31,255)" stroke="rgb(0,31,255)" stroke-width=".5" d="M175.3 125.7l1.8 1.7 7.4 1.7 -1.7-1.7zM198.8 169.9l1.8 2 7.4 1.3 -1.7-2zM199.4 194.1l1.8 2.3 7.4 1 -1.8-2.2z"/>
<path fill="rgb(0,29,255)" stroke="rgb(0,29,255)" stroke-width=".5" d="M177.1 127.4l1.8 1.8 7.4 1.7 -1.8-1.8zM189 145.7l1.8 1.9 7.4 1.6 -1.7-1.9zM195.7 159.4l1.8 1.9 7.4 1.5 -1.8-2z"/>
<path fill="rgb(0,27,255)" stroke="rgb(0,27,255)" stroke-width=".5" d="M178.9 129.2l1.7 1.8 7.5 1.6 -1.8-1.7zM201.6 188.5l1.7 2.2 7.5 1.1 -1.8-2.2z"/>
<path fill="rgb(0,24,255)" stroke="rgb(0,24,255)" stroke-width=".5" d="M180.6 131l1.8 1.8 7.4 1.6 -1.7-1.8zM201.2 196.4l1.7 2.3 7.5 1 -1.8-2.3zM199 202.4l1.8 2.4 7.4 .9 -1.7-2.3z"/>
<path fill="rgb(0,22,255)" stroke="rgb(0,22,255)" stroke-width=".5" d="M182.4 132.8l1.8 1.8 7.4 1.5 -1.8-1.7zM199.2 163.3l1.8 2 7.4 1.3 -1.7-1.9zM202.4 173.9l1.7 2.1 7.5 1.2 -1.8-2z"/>
<path fill="rgb(0,20,255)" stroke="rgb(0,20,255)" stroke-width=".5" d="M184.2 134.6l1.7 1.8 7.5 1.5 -1.8-1.8z"/>
<path fill="rgb(0,17,255)" stroke="rgb(0,17,255)" stroke-width=".5" d="M185.9 136.4l1.8 1.8 7.4 1.5 -1.7-1.8zM204.1 176l1.8 2.1 7.4 1.2 -1.7-2.1zM202.9 198.7l1.8 2.3 7.4 1 -1.7-2.3z"/>
<path fill="rgb(0,15,255)" stroke="rgb(0,15,255)" stroke-width=".5" d="M187.7 138.2l1.7 1.8 7.5 1.4 -1.8-1.7zM205.5 185.3l1.7 2.1 7.5 1.1 -1.8-2.1z"/>
<path fill="rgb(0,12,255)" stroke="rgb(0,12,255)" stroke-width=".5" d="M189.4 140l1.8 1.8 7.4 1.4 -1.7-1.8zM205.9 178.1l1.7 2 7.5 1.2 -1.8-2z"/>
<path fill="rgb(0,10,255)" stroke="rgb(0,10,255)" stroke-width=".5" d="M191.2 141.8l1.8 1.9 7.4 1.3 -1.8-1.8z"/>
<path fill="rgb(0,7,255)" stroke="rgb(0,7,255)" stroke-width=".5" d="M193 143.7l1.7 1.8 7.5 1.3 -1.8-1.8zM207.6 180.1l1.8 2.1 7.4 1.1 -1.7-2z"/>
<path fill="rgb(0,0,254)" stroke="rgb(0,0,254)" stroke-width=".5" d="M198.2 149.2l1.8 1.8 7.5 1.2 -1.8-1.8zM204.9 162.8l1.8 1.9 7.4 1.3 -1.8-1.9zM204.3 209.7l1.8 2.4 7.4 .8 -1.8-2.4z"/>
<path fill="rgb(0,0,251)" stroke="rgb(0,0,251)" stroke-width=".5" d="M200 151l1.8 1.9 7.4 1.1 -1.7-1.8zM209.8 175.2l1.8 2 7.4 1.2 -1.8-2z"/>
<path fill="rgb(0,0,242)" stroke="rgb(0,0,242)" stroke-width=".5" d="M205.3 156.6l1.8 1.8 7.4 1.1 -1.8-1.8zM213.3 179.3l1.8 2 7.4 1 -1.7-2zM212.1 202l1.8 2.3 7.4 .7 -1.7-2.2z"/>
<path fill="rgb(0,0,236)" stroke="rgb(0,0,236)" stroke-width=".5" d="M208.8 160.3l1.8 1.9 7.4 .9 -1.7-1.8zM216.4 190.6l1.8 2.2 7.5 .8 -1.8-2z"/>
<path fill="rgb(0,0,233)" stroke="rgb(0,0,233)" stroke-width=".5" d="M210.6 162.2l1.7 1.9 7.5 .9 -1.8-1.9zM216.8 183.3l1.8 2.1 7.4 .9 -1.7-2z"/>
<path fill="rgb(0,0,216)" stroke="rgb(0,0,216)" stroke-width=".5" d="M219.4 171.7l1.8 1.9 7.4 .7 -1.8-1.9z"/>
<path fill="rgb(0,0,209)" stroke="rgb(0,0,209)" stroke-width=".5" d="M222.9 175.5l1.8 2 7.4 .5 -1.7-1.9zM225.7 193.6l1.7 2.1 7.5 .7 -1.8-2zM223.1 207.3l1.8 2.2 7.4 .6 -1.8-2.2z"/>
<path fill="rgb(0,0,195)" stroke="rgb(0,0,195)" stroke-width=".5" d="M230 183.3l1.7 1.9 7.5 .3 -1.8-1.8zM226.6 211.8l1.8 2.3 7.4 .4 -1.7-2.2z"/>
<path fill="rgb(0,0,180)" stroke="rgb(0,0,180)" stroke-width=".5" d="M237 191.1l1.8 2 7.4 .1 -1.7-1.9z"/>
<path fill="rgb(0,68,255)" stroke="rgb(0,68,255)" stroke-width=".5" d="M162.6 118.5l1.8 1.8 7.4 1.9 -1.7-1.8zM176.3 138.4l1.8 1.9 7.4 1.7 -1.7-1.8zM187.9 164.3l1.7 2 7.5 1.5 -1.8-2z"/>
<path fill="rgb(0,66,255)" stroke="rgb(0,66,255)" stroke-width=".5" d="M164.4 120.3l1.7 1.8 7.5 1.8 -1.8-1.7zM184.7 153.8l1.8 2 7.4 1.6 -1.7-1.9zM190.6 182.7l1.8 2.3 7.4 1.3 -1.8-2.2z"/>
<path fill="rgb(0,64,255)" stroke="rgb(0,64,255)" stroke-width=".5" d="M166.1 122.1l1.8 1.7 7.4 1.9 -1.7-1.8zM191 175.3l1.8 2.2 7.4 1.4 -1.8-2.1zM185.9 202.5l1.8 2.5 7.4 1.2 -1.8-2.5z"/>
<path fill="rgb(0,62,255)" stroke="rgb(0,62,255)" stroke-width=".5" d="M167.9 123.8l1.8 1.8 7.4 1.8 -1.8-1.7zM179.8 142.1l1.8 1.9 7.4 1.7 -1.7-1.8zM186.5 155.8l1.8 2 7.4 1.6 -1.8-2z"/>
<path fill="rgb(0,59,255)" stroke="rgb(0,59,255)" stroke-width=".5" d="M169.7 125.6l1.7 1.8 7.5 1.8 -1.8-1.8zM192.4 185l1.7 2.2 7.5 1.3 -1.8-2.2z"/>
<path fill="rgb(0,57,255)" stroke="rgb(0,57,255)" stroke-width=".5" d="M171.4 127.4l1.8 1.8 7.4 1.8 -1.7-1.8zM189.8 198.8l1.8 2.4 7.4 1.2 -1.7-2.4z"/>
<path fill="rgb(0,54,255)" stroke="rgb(0,54,255)" stroke-width=".5" d="M173.2 129.2l1.7 1.8 7.5 1.8 -1.8-1.8zM187.7 205l1.7 2.6 7.5 1.1 -1.8-2.5z"/>
<path fill="rgb(0,52,255)" stroke="rgb(0,52,255)" stroke-width=".5" d="M174.9 131l1.8 1.8 7.5 1.8 -1.8-1.8zM194.5 179.7l1.8 2.2 7.4 1.2 -1.7-2.1zM194.1 187.2l1.8 2.3 7.4 1.2 -1.7-2.2z"/>
<path fill="rgb(0,49,255)" stroke="rgb(0,49,255)" stroke-width=".5" d="M176.7 132.8l1.8 1.9 7.4 1.7 -1.7-1.8zM191.8 161.8l1.7 2 7.5 1.5 -1.8-2z"/>
<path fill="rgb(0,46,255)" stroke="rgb(0,46,255)" stroke-width=".5" d="M178.5 134.7l1.7 1.8 7.5 1.7 -1.8-1.8zM196.3 181.9l1.7 2.2 7.5 1.2 -1.8-2.2z"/>
<path fill="rgb(0,44,255)" stroke="rgb(0,44,255)" stroke-width=".5" d="M180.2 136.5l1.8 1.8 7.4 1.7 -1.7-1.8zM188.6 151.6l1.8 2 7.5 1.5 -1.8-1.9z"/>
<path fill="rgb(0,41,255)" stroke="rgb(0,41,255)" stroke-width=".5" d="M182 138.3l1.8 1.9 7.4 1.6 -1.8-1.8zM190.4 153.6l1.8 1.9 7.4 1.5 -1.7-1.9z"/>
<path fill="rgb(0,38,255)" stroke="rgb(0,38,255)" stroke-width=".5" d="M183.8 140.2l1.7 1.8 7.5 1.7 -1.8-1.9zM197.6 191.8l1.8 2.3 7.4 1.1 -1.7-2.3z"/>
<path fill="rgb(0,32,255)" stroke="rgb(0,32,255)" stroke-width=".5" d="M187.3 143.9l1.7 1.8 7.5 1.6 -1.8-1.8zM200.2 178.9l1.8 2.1 7.4 1.2 -1.8-2.1zM197.3 200l1.7 2.4 7.5 1 -1.8-2.4z"/>
<path fill="rgb(0,26,255)" stroke="rgb(0,26,255)" stroke-width=".5" d="M190.8 147.6l1.8 1.9 7.4 1.5 -1.8-1.8zM197.5 161.3l1.7 2 7.5 1.4 -1.8-1.9zM200.6 171.9l1.8 2 7.4 1.3 -1.8-2zM202 181l1.7 2.1 7.5 1.2 -1.8-2.1z"/>
<path fill="rgb(0,23,255)" stroke="rgb(0,23,255)" stroke-width=".5" d="M192.6 149.5l1.7 1.8 7.5 1.6 -1.8-1.9z"/>
<path fill="rgb(0,19,255)" stroke="rgb(0,19,255)" stroke-width=".5" d="M194.3 151.3l1.8 1.9 7.4 1.5 -1.7-1.8z"/>
<path fill="rgb(0,16,255)" stroke="rgb(0,16,255)" stroke-width=".5" d="M196.1 153.2l1.8 1.9 7.4 1.5 -1.8-1.9zM200.8 204.8l1.7 2.4 7.5 .9 -1.8-2.4z"/>
<path fill="rgb(0,13,255)" stroke="rgb(0,13,255)" stroke-width=".5" d="M197.9 155.1l1.7 1.9 7.5 1.4 -1.8-1.8zM202.7 167.2l1.8 2 7.5 1.3 -1.8-1.9z"/>
<path fill="rgb(0,9,255)" stroke="rgb(0,9,255)" stroke-width=".5" d="M199.6 157l1.8 1.9 7.4 1.4 -1.7-1.9zM204.5 169.2l1.8 2 7.4 1.3 -1.7-2zM207.2 187.4l1.8 2.2 7.4 1 -1.7-2.1zM204.7 201l1.8 2.4 7.4 .9 -1.8-2.3z"/>
<path fill="rgb(0,0,246)" stroke="rgb(0,0,246)" stroke-width=".5" d="M208.4 166.6l1.8 2 7.4 1.2 -1.7-1.9zM212.9 186.4l1.8 2.1 7.4 1 -1.7-2.1z"/>
<path fill="rgb(0,0,227)" stroke="rgb(0,0,227)" stroke-width=".5" d="M217.2 176.4l1.8 2 7.4 1 -1.7-1.9z"/>
<path fill="rgb(0,0,211)" stroke="rgb(0,0,211)" stroke-width=".5" d="M224.3 184.3l1.7 2 7.5 .9 -1.8-2z"/>
<path fill="rgb(0,100,255)" stroke="rgb(0,100,255)" stroke-width=".5" d="M155.2 116.5l1.7 1.8 7.5 2 -1.8-1.8zM175.5 150.1l1.8 2 7.4 1.7 -1.7-1.9zM181.4 178.9l1.8 2.3 7.4 1.5 -1.8-2.2zM178.8 192.5l1.8 2.5 7.4 1.4 -1.7-2.5z"/>
<path fill="rgb(0,98,255)" stroke="rgb(0,98,255)" stroke-width=".5" d="M156.9 118.3l1.8 1.8 7.4 2 -1.7-1.8zM181.8 171.6l1.8 2.2 7.4 1.5 -1.8-2.1zM181 186.7l1.8 2.4 7.4 1.4 -1.8-2.3z"/>
<path fill="rgb(0,96,255)" stroke="rgb(0,96,255)" stroke-width=".5" d="M158.7 120.1l1.8 1.8 7.4 1.9 -1.8-1.7zM170.6 138.4l1.8 1.9 7.4 1.8 -1.7-1.8zM177.3 152.1l1.8 2 7.4 1.7 -1.8-2z"/>
<path fill="rgb(0,93,255)" stroke="rgb(0,93,255)" stroke-width=".5" d="M160.5 121.9l1.7 1.8 7.5 1.9 -1.8-1.8zM183.2 181.2l1.7 2.3 7.5 1.5 -1.8-2.3z"/>
<path fill="rgb(0,91,255)" stroke="rgb(0,91,255)" stroke-width=".5" d="M162.2 123.7l1.8 1.8 7.4 1.9 -1.7-1.8zM179.1 154.1l1.7 2 7.5 1.7 -1.8-2zM183.6 173.8l1.7 2.2 7.5 1.5 -1.8-2.2zM180.6 195l1.8 2.5 7.4 1.3 -1.8-2.4z"/>
<path fill="rgb(0,88,255)" stroke="rgb(0,88,255)" stroke-width=".5" d="M164 125.5l1.7 1.8 7.5 1.9 -1.8-1.8z"/>
<path fill="rgb(0,85,255)" stroke="rgb(0,85,255)" stroke-width=".5" d="M165.7 127.3l1.8 1.8 7.4 1.9 -1.7-1.8zM175.9 144.1l1.8 2 7.4 1.7 -1.7-1.9zM185.3 176l1.8 2.2 7.4 1.5 -1.7-2.2z"/>
<path fill="rgb(0,83,255)" stroke="rgb(0,83,255)" stroke-width=".5" d="M167.5 129.1l1.8 1.9 7.4 1.8 -1.8-1.8z"/>
<path fill="rgb(0,80,255)" stroke="rgb(0,80,255)" stroke-width=".5" d="M169.3 131l1.7 1.8 7.5 1.9 -1.8-1.9z"/>
<path fill="rgb(0,77,255)" stroke="rgb(0,77,255)" stroke-width=".5" d="M171 132.8l1.8 1.9 7.4 1.8 -1.7-1.8z"/>
<path fill="rgb(0,74,255)" stroke="rgb(0,74,255)" stroke-width=".5" d="M172.8 134.7l1.8 1.8 7.4 1.8 -1.8-1.8zM181.2 149.9l1.8 2 7.4 1.7 -1.8-2z"/>
<path fill="rgb(0,71,255)" stroke="rgb(0,71,255)" stroke-width=".5" d="M174.6 136.5l1.7 1.9 7.5 1.8 -1.8-1.9zM188.4 188.2l1.8 2.3 7.4 1.3 -1.7-2.3z"/>
<path fill="rgb(0,65,255)" stroke="rgb(0,65,255)" stroke-width=".5" d="M178.1 140.3l1.7 1.8 7.5 1.8 -1.8-1.9zM188 196.4l1.8 2.4 7.5 1.2 -1.8-2.4z"/>
<path fill="rgb(0,58,255)" stroke="rgb(0,58,255)" stroke-width=".5" d="M181.6 144l1.8 1.9 7.4 1.7 -1.8-1.9zM188.3 157.8l1.7 2 7.5 1.5 -1.8-1.9zM191.4 168.4l1.7 2.1 7.5 1.4 -1.8-2zM192.8 177.5l1.7 2.2 7.5 1.3 -1.8-2.1z"/>
<path fill="rgb(0,55,255)" stroke="rgb(0,55,255)" stroke-width=".5" d="M183.4 145.9l1.7 1.9 7.5 1.7 -1.8-1.9z"/>
<path fill="rgb(0,51,255)" stroke="rgb(0,51,255)" stroke-width=".5" d="M185.1 147.8l1.8 1.9 7.4 1.6 -1.7-1.8z"/>
<path fill="rgb(0,48,255)" stroke="rgb(0,48,255)" stroke-width=".5" d="M186.9 149.7l1.8 1.9 7.4 1.6 -1.8-1.9zM194.9 172.6l1.8 2.1 7.4 1.3 -1.7-2.1zM193.7 195.2l1.8 2.4 7.4 1.1 -1.7-2.3zM191.6 201.2l1.7 2.5 7.5 1.1 -1.8-2.4z"/>
<path fill="rgb(0,18,255)" stroke="rgb(0,18,255)" stroke-width=".5" d="M201 165.3l1.7 1.9 7.5 1.4 -1.8-2z"/>
<path fill="rgb(0,5,255)" stroke="rgb(0,5,255)" stroke-width=".5" d="M206.3 171.2l1.7 2 7.5 1.2 -1.8-1.9z"/>
<path fill="rgb(0,1,255)" stroke="rgb(0,1,255)" stroke-width=".5" d="M208 173.2l1.8 2 7.4 1.2 -1.7-2zM208.6 197.4l1.8 2.3 7.4 .9 -1.7-2.2z"/>
<path fill="rgb(0,0,247)" stroke="rgb(0,0,247)" stroke-width=".5" d="M211.6 177.2l1.7 2.1 7.5 1 -1.8-1.9zM212.5 194l1.8 2.2 7.4 .8 -1.7-2.1z"/>
<path fill="rgb(0,0,238)" stroke="rgb(0,0,238)" stroke-width=".5" d="M215.1 181.3l1.7 2 7.5 1 -1.8-2z"/>
<path fill="rgb(0,0,224)" stroke="rgb(0,0,224)" stroke-width=".5" d="M220.4 187.4l1.7 2.1 7.5 .8 -1.8-2z"/>
<path fill="rgb(0,0,214)" stroke="rgb(0,0,214)" stroke-width=".5" d="M223.9 191.6l1.8 2 7.4 .8 -1.8-2zM219.2 211.2l1.7 2.3 7.5 .6 -1.8-2.3z"/>
<path fill="rgb(0,134,255)" stroke="rgb(0,134,255)" stroke-width=".5" d="M147.7 114.4l1.8 1.8 7.4 2.1 -1.7-1.8zM171.8 182.7l1.8 2.4 7.4 1.6 -1.8-2.4zM165.3 200.7l1.8 2.7 7.4 1.6 -1.7-2.7z"/>
<path fill="rgb(0,131,255)" stroke="rgb(0,131,255)" stroke-width=".5" d="M149.5 116.2l1.8 1.8 7.4 2.1 -1.8-1.8zM161.4 134.5l1.8 1.9 7.4 2 -1.7-1.9zM168.1 148.2l1.7 2 7.5 1.9 -1.8-2z"/>
<path fill="rgb(0,129,255)" stroke="rgb(0,129,255)" stroke-width=".5" d="M151.3 118l1.7 1.8 7.5 2.1 -1.8-1.8z"/>
<path fill="rgb(0,126,255)" stroke="rgb(0,126,255)" stroke-width=".5" d="M153 119.8l1.8 1.9 7.4 2 -1.7-1.8zM169.8 150.2l1.8 2.1 7.5 1.8 -1.8-2zM173.6 185.1l1.7 2.5 7.5 1.5 -1.8-2.4z"/>
<path fill="rgb(0,123,255)" stroke="rgb(0,123,255)" stroke-width=".5" d="M154.8 121.7l1.7 1.8 7.5 2 -1.8-1.8zM167.1 203.4l1.8 2.8 7.4 1.5 -1.8-2.7z"/>
<path fill="rgb(0,121,255)" stroke="rgb(0,121,255)" stroke-width=".5" d="M156.5 123.5l1.8 1.8 7.4 2 -1.7-1.8zM174.7 163l1.8 2.1 7.4 1.7 -1.7-2.1zM175.7 179.6l1.8 2.4 7.4 1.5 -1.7-2.3z"/>
<path fill="rgb(0,118,255)" stroke="rgb(0,118,255)" stroke-width=".5" d="M158.3 125.3l1.8 1.9 7.4 1.9 -1.8-1.8zM173.2 193.4l1.7 2.6 7.5 1.5 -1.8-2.5z"/>
<path fill="rgb(0,115,255)" stroke="rgb(0,115,255)" stroke-width=".5" d="M160.1 127.2l1.7 1.8 7.5 2 -1.8-1.9zM176.5 165.1l1.8 2.2 7.4 1.6 -1.8-2.1z"/>
<path fill="rgb(0,112,255)" stroke="rgb(0,112,255)" stroke-width=".5" d="M161.8 129l1.8 1.9 7.4 1.9 -1.7-1.8zM170.2 144.2l1.8 1.9 7.4 1.9 -1.7-1.9zM175.1 156.4l1.8 2 7.4 1.8 -1.7-2.1z"/>
<path fill="rgb(0,109,255)" stroke="rgb(0,109,255)" stroke-width=".5" d="M163.6 130.9l1.8 1.8 7.4 2 -1.8-1.9zM177.1 190l1.7 2.5 7.5 1.4 -1.8-2.4zM174.9 196l1.8 2.6 7.4 1.4 -1.7-2.5z"/>
<path fill="rgb(0,106,255)" stroke="rgb(0,106,255)" stroke-width=".5" d="M165.4 132.7l1.7 1.9 7.5 1.9 -1.8-1.8zM172.8 202.3l1.7 2.7 7.5 1.4 -1.8-2.7z"/>
<path fill="rgb(0,102,255)" stroke="rgb(0,102,255)" stroke-width=".5" d="M167.1 134.6l1.8 1.9 7.4 1.9 -1.7-1.9zM178.7 160.5l1.7 2.1 7.5 1.7 -1.8-2.1z"/>
<path fill="rgb(0,99,255)" stroke="rgb(0,99,255)" stroke-width=".5" d="M168.9 136.5l1.7 1.9 7.5 1.9 -1.8-1.9zM176.7 198.6l1.8 2.5 7.4 1.4 -1.8-2.5z"/>
<path fill="rgb(0,92,255)" stroke="rgb(0,92,255)" stroke-width=".5" d="M172.4 140.3l1.8 1.9 7.4 1.8 -1.8-1.9zM182.2 164.7l1.7 2.1 7.5 1.6 -1.8-2.1z"/>
<path fill="rgb(0,89,255)" stroke="rgb(0,89,255)" stroke-width=".5" d="M174.2 142.2l1.7 1.9 7.5 1.8 -1.8-1.9zM178.4 201.1l1.8 2.6 7.5 1.3 -1.8-2.5z"/>
<path fill="rgb(0,81,255)" stroke="rgb(0,81,255)" stroke-width=".5" d="M177.7 146.1l1.7 1.9 7.5 1.7 -1.8-1.9zM185.7 168.9l1.8 2.2 7.4 1.5 -1.8-2.1z"/>
<path fill="rgb(0,78,255)" stroke="rgb(0,78,255)" stroke-width=".5" d="M179.4 148l1.8 1.9 7.5 1.7 -1.8-1.9zM184.3 160.2l1.8 2 7.4 1.6 -1.7-2zM186.7 185.8l1.7 2.4 7.5 1.3 -1.8-2.3z"/>
<path fill="rgb(0,70,255)" stroke="rgb(0,70,255)" stroke-width=".5" d="M183 151.9l1.7 1.9 7.5 1.7 -1.8-1.9zM189.2 173.2l1.8 2.1 7.4 1.5 -1.7-2.1z"/>
<path fill="rgb(0,53,255)" stroke="rgb(0,53,255)" stroke-width=".5" d="M190 159.8l1.8 2 7.4 1.5 -1.7-2zM193.1 170.5l1.8 2.1 7.5 1.3 -1.8-2z"/>
<path fill="rgb(0,45,255)" stroke="rgb(0,45,255)" stroke-width=".5" d="M193.5 163.8l1.8 2 7.4 1.4 -1.7-1.9zM195.9 189.5l1.7 2.3 7.5 1.1 -1.8-2.2zM189.4 207.6l1.8 2.6 7.4 1 -1.7-2.5z"/>
<path fill="rgb(0,40,255)" stroke="rgb(0,40,255)" stroke-width=".5" d="M195.3 165.8l1.8 2 7.4 1.4 -1.8-2zM198 184.1l1.8 2.2 7.4 1.1 -1.7-2.1zM195.5 197.6l1.8 2.4 7.4 1 -1.8-2.3z"/>
<path fill="rgb(0,36,255)" stroke="rgb(0,36,255)" stroke-width=".5" d="M197.1 167.8l1.7 2.1 7.5 1.3 -1.8-2z"/>
<path fill="rgb(0,168,255)" stroke="rgb(0,168,255)" stroke-width=".5" d="M140.3 112.2l1.8 1.8 7.4 2.2 -1.8-1.8zM152.2 130.4l1.8 2 7.4 2.1 -1.7-1.9zM158.9 144.1l1.7 2.1 7.5 2 -1.8-2z"/>
<path fill="rgb(0,165,255)" stroke="rgb(0,165,255)" stroke-width=".5" d="M142 114l1.8 1.8 7.5 2.2 -1.8-1.8zM154 132.4l1.8 1.9 7.4 2.1 -1.8-1.9z"/>
<path fill="rgb(0,163,255)" stroke="rgb(0,163,255)" stroke-width=".5" d="M143.8 115.8l1.8 1.9 7.4 2.1 -1.7-1.8zM160.6 146.2l1.8 2 7.4 2 -1.7-2z"/>
<path fill="rgb(0,160,255)" stroke="rgb(0,160,255)" stroke-width=".5" d="M145.6 117.7l1.7 1.8 7.5 2.2 -1.8-1.9z"/>
<path fill="rgb(0,157,255)" stroke="rgb(0,157,255)" stroke-width=".5" d="M147.3 119.5l1.8 1.8 7.4 2.2 -1.7-1.8zM157.5 136.3l1.8 1.9 7.4 2.1 -1.7-2zM166.9 168.1l1.8 2.3 7.4 1.8 -1.8-2.3zM164 189.2l1.7 2.6 7.5 1.6 -1.8-2.5z"/>
<path fill="rgb(0,154,255)" stroke="rgb(0,154,255)" stroke-width=".5" d="M149.1 121.3l1.8 1.9 7.4 2.1 -1.8-1.8z"/>
<path fill="rgb(0,151,255)" stroke="rgb(0,151,255)" stroke-width=".5" d="M150.9 123.2l1.7 1.8 7.5 2.2 -1.8-1.9z"/>
<path fill="rgb(0,148,255)" stroke="rgb(0,148,255)" stroke-width=".5" d="M152.6 125l1.8 1.9 7.4 2.1 -1.7-1.8zM165.9 152.4l1.8 2.1 7.4 1.9 -1.7-2.1z"/>
<path fill="rgb(0,145,255)" stroke="rgb(0,145,255)" stroke-width=".5" d="M154.4 126.9l1.7 1.9 7.5 2.1 -1.8-1.9zM163.6 198l1.7 2.7 7.5 1.6 -1.8-2.7z"/>
<path fill="rgb(0,142,255)" stroke="rgb(0,142,255)" stroke-width=".5" d="M156.1 128.8l1.8 1.9 7.5 2 -1.8-1.8zM170 180.3l1.8 2.4 7.4 1.6 -1.7-2.3z"/>
<path fill="rgb(0,138,255)" stroke="rgb(0,138,255)" stroke-width=".5" d="M157.9 130.7l1.8 1.9 7.4 2 -1.7-1.9zM169.5 156.6l1.7 2.1 7.5 1.8 -1.8-2.1z"/>
<path fill="rgb(0,135,255)" stroke="rgb(0,135,255)" stroke-width=".5" d="M159.7 132.6l1.7 1.9 7.5 2 -1.8-1.9z"/>
<path fill="rgb(0,128,255)" stroke="rgb(0,128,255)" stroke-width=".5" d="M163.2 136.4l1.8 1.9 7.4 2 -1.8-1.9zM174 177.3l1.7 2.3 7.5 1.6 -1.8-2.3zM171.4 190.9l1.8 2.5 7.4 1.6 -1.8-2.5z"/>
<path fill="rgb(0,124,255)" stroke="rgb(0,124,255)" stroke-width=".5" d="M165 138.3l1.7 2 7.5 1.9 -1.8-1.9z"/>
<path fill="rgb(0,120,255)" stroke="rgb(0,120,255)" stroke-width=".5" d="M166.7 140.3l1.8 1.9 7.4 1.9 -1.7-1.9zM176.1 172.2l1.8 2.2 7.4 1.6 -1.8-2.2z"/>
<path fill="rgb(0,116,255)" stroke="rgb(0,116,255)" stroke-width=".5" d="M168.5 142.2l1.7 2 7.5 1.9 -1.8-2zM171 199.6l1.8 2.7 7.4 1.4 -1.8-2.6z"/>
<path fill="rgb(0,108,255)" stroke="rgb(0,108,255)" stroke-width=".5" d="M172 146.1l1.8 2 7.4 1.8 -1.8-1.9z"/>
<path fill="rgb(0,104,255)" stroke="rgb(0,104,255)" stroke-width=".5" d="M173.8 148.1l1.7 2 7.5 1.8 -1.8-2zM180 169.4l1.8 2.2 7.4 1.6 -1.7-2.1z"/>
<path fill="rgb(0,87,255)" stroke="rgb(0,87,255)" stroke-width=".5" d="M180.8 156.1l1.8 2 7.4 1.7 -1.7-2z"/>
<path fill="rgb(0,82,255)" stroke="rgb(0,82,255)" stroke-width=".5" d="M182.6 158.1l1.7 2.1 7.5 1.6 -1.8-2zM184.5 191.5l1.8 2.4 7.4 1.3 -1.7-2.3zM182.4 197.5l1.7 2.5 7.5 1.2 -1.8-2.4z"/>
<path fill="rgb(0,73,255)" stroke="rgb(0,73,255)" stroke-width=".5" d="M186.1 162.2l1.8 2.1 7.4 1.5 -1.8-2zM186.3 193.9l1.7 2.5 7.5 1.2 -1.8-2.4zM184.1 200l1.8 2.5 7.4 1.2 -1.7-2.5z"/>
<path fill="rgb(0,63,255)" stroke="rgb(0,63,255)" stroke-width=".5" d="M189.6 166.3l1.8 2.1 7.4 1.5 -1.7-2.1zM190.2 190.5l1.8 2.4 7.4 1.2 -1.8-2.3z"/>
<path fill="rgb(0,43,255)" stroke="rgb(0,43,255)" stroke-width=".5" d="M196.7 174.7l1.7 2.1 7.5 1.3 -1.8-2.1z"/>
<path fill="rgb(0,21,255)" stroke="rgb(0,21,255)" stroke-width=".5" d="M203.7 183.1l1.8 2.2 7.4 1.1 -1.7-2.1zM203.3 190.7l1.8 2.2 7.4 1.1 -1.7-2.2zM196.9 208.7l1.7 2.5 7.5 .9 -1.8-2.4z"/>
<path fill="rgb(0,3,255)" stroke="rgb(0,3,255)" stroke-width=".5" d="M209 189.6l1.8 2.2 7.4 1 -1.8-2.2z"/>
<path fill="rgb(0,0,240)" stroke="rgb(0,0,240)" stroke-width=".5" d="M214.3 196.2l1.8 2.2 7.4 .8 -1.8-2.2z"/>
<path fill="rgb(0,203,255)" stroke="rgb(0,203,255)" stroke-width=".5" d="M132.8 109.9l1.8 1.8 7.5 2.3 -1.8-1.8zM144.8 128.2l1.7 1.9 7.5 2.3 -1.8-2zM154.6 152.5l1.7 2.2 7.5 2 -1.8-2.1zM155.9 161.5l1.8 2.3 7.4 2 -1.7-2.2z"/>
<path fill="rgb(0,201,255)" stroke="rgb(0,201,255)" stroke-width=".5" d="M134.6 111.7l1.8 1.8 7.4 2.3 -1.8-1.8z"/>
<path fill="rgb(0,198,255)" stroke="rgb(0,198,255)" stroke-width=".5" d="M136.4 113.5l1.7 1.9 7.5 2.3 -1.8-1.9zM157.3 171.2l1.8 2.4 7.4 1.9 -1.8-2.4zM154.8 184.7l1.7 2.6 7.5 1.9 -1.8-2.6zM152.6 190.6l1.8 2.8 7.4 1.9 -1.8-2.7z"/>
<path fill="rgb(0,195,255)" stroke="rgb(0,195,255)" stroke-width=".5" d="M138.1 115.4l1.8 1.8 7.4 2.3 -1.7-1.8zM148.3 132.1l1.8 2 7.4 2.2 -1.7-2zM156.9 179l1.8 2.5 7.4 1.9 -1.7-2.5zM150.4 197l1.8 2.8 7.4 1.9 -1.7-2.8z"/>
<path fill="rgb(0,192,255)" stroke="rgb(0,192,255)" stroke-width=".5" d="M139.9 117.2l1.8 1.9 7.4 2.2 -1.8-1.8zM155 146.1l1.7 2.1 7.5 2.1 -1.8-2.1z"/>
<path fill="rgb(0,189,255)" stroke="rgb(0,189,255)" stroke-width=".5" d="M141.7 119.1l1.7 1.8 7.5 2.3 -1.8-1.9zM159.5 166.1l1.7 2.3 7.5 2 -1.8-2.3z"/>
<path fill="rgb(0,186,255)" stroke="rgb(0,186,255)" stroke-width=".5" d="M143.4 120.9l1.8 1.9 7.4 2.2 -1.7-1.8zM151.8 136.1l1.8 2 7.4 2.1 -1.7-2zM156.7 148.2l1.8 2.1 7.4 2.1 -1.7-2.1zM158.7 181.5l1.7 2.5 7.5 1.9 -1.8-2.5z"/>
<path fill="rgb(0,182,255)" stroke="rgb(0,182,255)" stroke-width=".5" d="M145.2 122.8l1.7 1.9 7.5 2.2 -1.8-1.9zM153.6 138.1l1.8 2 7.4 2.1 -1.8-2z"/>
<path fill="rgb(0,179,255)" stroke="rgb(0,179,255)" stroke-width=".5" d="M146.9 124.7l1.8 1.9 7.4 2.2 -1.7-1.9z"/>
<path fill="rgb(0,175,255)" stroke="rgb(0,175,255)" stroke-width=".5" d="M148.7 126.6l1.8 1.9 7.4 2.2 -1.8-1.9zM160.2 152.5l1.8 2.1 7.5 2 -1.8-2.1zM156.1 196.1l1.8 2.8 7.4 1.8 -1.7-2.7z"/>
<path fill="rgb(0,172,255)" stroke="rgb(0,172,255)" stroke-width=".5" d="M150.5 128.5l1.7 1.9 7.5 2.2 -1.8-1.9z"/>
<path fill="rgb(0,161,255)" stroke="rgb(0,161,255)" stroke-width=".5" d="M155.8 134.3l1.7 2 7.5 2 -1.8-1.9z"/>
<path fill="rgb(0,153,255)" stroke="rgb(0,153,255)" stroke-width=".5" d="M159.3 138.2l1.7 2 7.5 2 -1.8-1.9zM164.2 150.3l1.7 2.1 7.5 1.9 -1.8-2z"/>
<path fill="rgb(0,149,255)" stroke="rgb(0,149,255)" stroke-width=".5" d="M161 140.2l1.8 2 7.4 2 -1.7-2z"/>
<path fill="rgb(0,144,255)" stroke="rgb(0,144,255)" stroke-width=".5" d="M162.8 142.2l1.8 2 7.4 1.9 -1.8-1.9z"/>
<path fill="rgb(0,140,255)" stroke="rgb(0,140,255)" stroke-width=".5" d="M164.6 144.2l1.7 2 7.5 1.9 -1.8-2zM170.8 165.5l1.8 2.2 7.4 1.7 -1.7-2.1z"/>
<path fill="rgb(0,136,255)" stroke="rgb(0,136,255)" stroke-width=".5" d="M166.3 146.2l1.8 2 7.4 1.9 -1.7-2zM172.2 175l1.8 2.3 7.4 1.6 -1.8-2.2z"/>
<path fill="rgb(0,122,255)" stroke="rgb(0,122,255)" stroke-width=".5" d="M171.6 152.3l1.8 2 7.4 1.8 -1.7-2z"/>
<path fill="rgb(0,117,255)" stroke="rgb(0,117,255)" stroke-width=".5" d="M173.4 154.3l1.7 2.1 7.5 1.7 -1.8-2zM175.3 187.6l1.8 2.4 7.4 1.5 -1.7-2.4z"/>
<path fill="rgb(0,107,255)" stroke="rgb(0,107,255)" stroke-width=".5" d="M176.9 158.4l1.8 2.1 7.4 1.7 -1.8-2zM179.6 176.7l1.8 2.2 7.4 1.6 -1.7-2.3z"/>
<path fill="rgb(0,97,255)" stroke="rgb(0,97,255)" stroke-width=".5" d="M180.4 162.6l1.8 2.1 7.4 1.6 -1.7-2z"/>
<path fill="rgb(0,86,255)" stroke="rgb(0,86,255)" stroke-width=".5" d="M183.9 166.8l1.8 2.1 7.4 1.6 -1.7-2.1zM184.9 183.5l1.8 2.3 7.4 1.4 -1.7-2.2z"/>
<path fill="rgb(0,75,255)" stroke="rgb(0,75,255)" stroke-width=".5" d="M187.5 171.1l1.7 2.1 7.5 1.5 -1.8-2.1z"/>
<path fill="rgb(0,34,255)" stroke="rgb(0,34,255)" stroke-width=".5" d="M199.8 186.3l1.8 2.2 7.4 1.1 -1.8-2.2z"/>
<path fill="rgb(0,14,255)" stroke="rgb(0,14,255)" stroke-width=".5" d="M205.1 192.9l1.8 2.3 7.4 1 -1.8-2.2z"/>
<path fill="rgb(0,0,249)" stroke="rgb(0,0,249)" stroke-width=".5" d="M210.4 199.7l1.7 2.3 7.5 .8 -1.8-2.2zM208.2 205.7l1.8 2.4 7.4 .8 -1.7-2.3z"/>
<path fill="rgb(0,0,221)" stroke="rgb(0,0,221)" stroke-width=".5" d="M217.4 208.9l1.8 2.3 7.4 .6 -1.7-2.3z"/>
<path fill="rgb(0,240,255)" stroke="rgb(0,240,255)" stroke-width=".5" d="M125.4 107.4l1.8 1.8 7.4 2.5 -1.8-1.8z"/>
<path fill="rgb(0,237,255)" stroke="rgb(0,237,255)" stroke-width=".5" d="M127.2 109.2l1.7 1.9 7.5 2.4 -1.8-1.8zM144 139.6l1.8 2.1 7.4 2.3 -1.8-2.1zM147.1 150.2l1.8 2.2 7.4 2.3 -1.7-2.2zM148.5 159.3l1.8 2.3 7.4 2.2 -1.8-2.3z"/>
<path fill="rgb(0,234,255)" stroke="rgb(0,234,255)" stroke-width=".5" d="M128.9 111.1l1.8 1.8 7.4 2.5 -1.7-1.9z"/>
<path fill="rgb(0,231,255)" stroke="rgb(0,231,255)" stroke-width=".5" d="M130.7 112.9l1.8 1.9 7.4 2.4 -1.8-1.8zM148.9 152.4l1.8 2.3 7.4 2.2 -1.8-2.2zM149.9 169l1.7 2.5 7.5 2.1 -1.8-2.4zM147.3 182.5l1.8 2.7 7.4 2.1 -1.7-2.6zM145.2 188.5l1.7 2.8 7.5 2.1 -1.8-2.8z"/>
<path fill="rgb(0,228,255)" stroke="rgb(0,228,255)" stroke-width=".5" d="M132.5 114.8l1.7 1.9 7.5 2.4 -1.8-1.9zM149.5 176.9l1.7 2.5 7.5 2.1 -1.8-2.5zM143 194.8l1.8 2.9 7.4 2.1 -1.8-2.8z"/>
<path fill="rgb(0,225,255)" stroke="rgb(0,225,255)" stroke-width=".5" d="M134.2 116.7l1.8 1.9 7.4 2.3 -1.7-1.8z"/>
<path fill="rgb(0,221,255)" stroke="rgb(0,221,255)" stroke-width=".5" d="M136 118.6l1.7 1.9 7.5 2.3 -1.8-1.9zM144.4 133.7l1.8 2.1 7.4 2.3 -1.8-2z"/>
<path fill="rgb(0,218,255)" stroke="rgb(0,218,255)" stroke-width=".5" d="M137.7 120.5l1.8 1.9 7.4 2.3 -1.7-1.9zM151.2 179.4l1.8 2.6 7.4 2 -1.7-2.5z"/>
<path fill="rgb(0,214,255)" stroke="rgb(0,214,255)" stroke-width=".5" d="M139.5 122.4l1.8 1.9 7.4 2.3 -1.8-1.9zM153.8 166.4l1.7 2.4 7.5 2 -1.8-2.4z"/>
<path fill="rgb(0,211,255)" stroke="rgb(0,211,255)" stroke-width=".5" d="M141.3 124.3l1.7 1.9 7.5 2.3 -1.8-1.9z"/>
<path fill="rgb(0,207,255)" stroke="rgb(0,207,255)" stroke-width=".5" d="M143 126.2l1.8 2 7.4 2.2 -1.7-1.9zM149.7 139.9l1.7 2 7.5 2.2 -1.8-2zM148.7 194.1l1.7 2.9 7.5 1.9 -1.8-2.8z"/>
<path fill="rgb(0,199,255)" stroke="rgb(0,199,255)" stroke-width=".5" d="M146.5 130.1l1.8 2 7.5 2.2 -1.8-1.9z"/>
<path fill="rgb(0,191,255)" stroke="rgb(0,191,255)" stroke-width=".5" d="M150.1 134.1l1.7 2 7.5 2.1 -1.8-1.9z"/>
<path fill="rgb(0,178,255)" stroke="rgb(0,178,255)" stroke-width=".5" d="M155.4 140.1l1.7 2 7.5 2.1 -1.8-2z"/>
<path fill="rgb(0,173,255)" stroke="rgb(0,173,255)" stroke-width=".5" d="M157.1 142.1l1.8 2 7.4 2.1 -1.7-2zM162.6 178.4l1.8 2.5 7.4 1.8 -1.8-2.4z"/>
<path fill="rgb(0,158,255)" stroke="rgb(0,158,255)" stroke-width=".5" d="M162.4 148.2l1.8 2.1 7.4 2 -1.8-2.1zM165.5 158.9l1.8 2.2 7.4 1.9 -1.7-2.2zM166.5 175.5l1.8 2.4 7.4 1.7 -1.7-2.3z"/>
<path fill="rgb(0,143,255)" stroke="rgb(0,143,255)" stroke-width=".5" d="M167.7 154.5l1.8 2.1 7.4 1.8 -1.8-2zM170.4 172.7l1.8 2.3 7.4 1.7 -1.7-2.3z"/>
<path fill="rgb(0,132,255)" stroke="rgb(0,132,255)" stroke-width=".5" d="M171.2 158.7l1.8 2.1 7.4 1.8 -1.7-2.1z"/>
<path fill="rgb(0,127,255)" stroke="rgb(0,127,255)" stroke-width=".5" d="M173 160.8l1.7 2.2 7.5 1.7 -1.8-2.1zM174.3 169.9l1.8 2.3 7.5 1.6 -1.8-2.2zM169.2 197l1.8 2.6 7.4 1.5 -1.7-2.5z"/>
<path fill="rgb(0,110,255)" stroke="rgb(0,110,255)" stroke-width=".5" d="M178.3 167.3l1.7 2.1 7.5 1.7 -1.8-2.2z"/>
<path fill="rgb(0,79,255)" stroke="rgb(0,79,255)" stroke-width=".5" d="M187.1 178.2l1.7 2.3 7.5 1.4 -1.8-2.2zM180.2 203.7l1.8 2.7 7.4 1.2 -1.7-2.6z"/>
<path fill="rgb(0,72,255)" stroke="rgb(0,72,255)" stroke-width=".5" d="M188.8 180.5l1.8 2.2 7.4 1.4 -1.7-2.2z"/>
<path fill="rgb(23,255,232)" stroke="rgb(23,255,232)" stroke-width=".5" d="M118 104.8l1.7 1.8 7.5 2.6 -1.8-1.8zM136 183.4l1.7 2.8 7.5 2.3 -1.8-2.8z"/>
<path fill="rgb(20,255,235)" stroke="rgb(20,255,235)" stroke-width=".5" d="M119.7 106.6l1.8 1.9 7.4 2.6 -1.7-1.9zM140.7 164.2l1.7 2.5 7.5 2.3 -1.8-2.4z"/>
<path fill="rgb(17,255,238)" stroke="rgb(17,255,238)" stroke-width=".5" d="M121.5 108.5l1.7 1.9 7.5 2.5 -1.8-1.8zM131.7 125.2l1.7 2 7.5 2.5 -1.8-2zM141.1 156.9l1.7 2.4 7.5 2.3 -1.8-2.3zM140.3 172l1.7 2.6 7.5 2.3 -1.8-2.6z"/>
<path fill="rgb(14,255,241)" stroke="rgb(14,255,241)" stroke-width=".5" d="M123.2 110.4l1.8 1.8 7.5 2.6 -1.8-1.9z"/>
<path fill="rgb(10,255,245)" stroke="rgb(10,255,245)" stroke-width=".5" d="M125 112.2l1.8 1.9 7.4 2.6 -1.7-1.9zM139.9 180.3l1.7 2.7 7.5 2.2 -1.8-2.7z"/>
<path fill="rgb(7,255,248)" stroke="rgb(7,255,248)" stroke-width=".5" d="M126.8 114.1l1.7 1.9 7.5 2.6 -1.8-1.9zM135.2 129.3l1.8 2 7.4 2.4 -1.8-2zM140.1 141.5l1.7 2.1 7.5 2.4 -1.8-2.1zM142 174.6l1.8 2.6 7.4 2.2 -1.7-2.5z"/>
<path fill="rgb(3,255,252)" stroke="rgb(3,255,252)" stroke-width=".5" d="M128.5 116l1.8 2 7.4 2.5 -1.7-1.9zM137 131.3l1.7 2.1 7.5 2.4 -1.8-2.1z"/>
<path fill="rgb(0,255,255)" stroke="rgb(0,255,255)" stroke-width=".5" d="M130.3 118l1.8 1.9 7.4 2.5 -1.8-1.9z"/>
<path fill="rgb(0,251,255)" stroke="rgb(0,251,255)" stroke-width=".5" d="M132.1 119.9l1.7 1.9 7.5 2.5 -1.8-1.9z"/>
<path fill="rgb(0,247,255)" stroke="rgb(0,247,255)" stroke-width=".5" d="M133.8 121.8l1.8 2 7.4 2.4 -1.7-1.9zM145.9 171.8l1.8 2.5 7.5 2.2 -1.8-2.5z"/>
<path fill="rgb(0,243,255)" stroke="rgb(0,243,255)" stroke-width=".5" d="M135.6 123.8l1.7 2 7.5 2.4 -1.8-2zM145.4 148l1.7 2.2 7.5 2.3 -1.8-2.2zM143.4 185.7l1.8 2.8 7.4 2.1 -1.8-2.7z"/>
<path fill="rgb(0,239,255)" stroke="rgb(0,239,255)" stroke-width=".5" d="M137.3 125.8l1.8 1.9 7.4 2.4 -1.7-1.9zM148.1 166.6l1.8 2.4 7.4 2.2 -1.8-2.4z"/>
<path fill="rgb(0,235,255)" stroke="rgb(0,235,255)" stroke-width=".5" d="M139.1 127.7l1.8 2 7.4 2.4 -1.8-2z"/>
<path fill="rgb(0,230,255)" stroke="rgb(0,230,255)" stroke-width=".5" d="M140.9 129.7l1.7 2 7.5 2.4 -1.8-2z"/>
<path fill="rgb(0,226,255)" stroke="rgb(0,226,255)" stroke-width=".5" d="M142.6 131.7l1.8 2 7.4 2.4 -1.7-2zM147.5 143.9l1.8 2.1 7.4 2.2 -1.7-2.1z"/>
<path fill="rgb(0,217,255)" stroke="rgb(0,217,255)" stroke-width=".5" d="M146.2 135.8l1.7 2 7.5 2.3 -1.8-2zM152.4 156.9l1.8 2.3 7.4 2.1 -1.7-2.2z"/>
<path fill="rgb(0,212,255)" stroke="rgb(0,212,255)" stroke-width=".5" d="M147.9 137.8l1.8 2.1 7.4 2.2 -1.7-2z"/>
<path fill="rgb(0,202,255)" stroke="rgb(0,202,255)" stroke-width=".5" d="M151.4 141.9l1.8 2.1 7.4 2.2 -1.7-2.1z"/>
<path fill="rgb(0,197,255)" stroke="rgb(0,197,255)" stroke-width=".5" d="M153.2 144l1.8 2.1 7.4 2.1 -1.8-2zM156.3 154.7l1.8 2.2 7.4 2 -1.7-2.2z"/>
<path fill="rgb(0,181,255)" stroke="rgb(0,181,255)" stroke-width=".5" d="M158.5 150.3l1.8 2.2 7.4 2 -1.8-2.1zM161.2 168.4l1.8 2.4 7.4 1.9 -1.7-2.3zM160.8 176l1.8 2.4 7.4 1.9 -1.7-2.4z"/>
<path fill="rgb(0,170,255)" stroke="rgb(0,170,255)" stroke-width=".5" d="M162 154.6l1.8 2.1 7.4 2 -1.7-2.1z"/>
<path fill="rgb(0,164,255)" stroke="rgb(0,164,255)" stroke-width=".5" d="M163.8 156.7l1.7 2.2 7.5 1.9 -1.8-2.1zM165.1 165.8l1.8 2.3 7.4 1.8 -1.7-2.2zM164.4 180.9l1.7 2.5 7.5 1.7 -1.8-2.4zM157.9 198.9l1.7 2.8 7.5 1.7 -1.8-2.7z"/>
<path fill="rgb(0,152,255)" stroke="rgb(0,152,255)" stroke-width=".5" d="M167.3 161.1l1.8 2.2 7.4 1.8 -1.8-2.1zM159.6 201.7l1.8 2.8 7.5 1.7 -1.8-2.8z"/>
<path fill="rgb(0,146,255)" stroke="rgb(0,146,255)" stroke-width=".5" d="M169.1 163.3l1.7 2.2 7.5 1.8 -1.8-2.2zM167.9 185.9l1.7 2.5 7.5 1.6 -1.8-2.4z"/>
<path fill="rgb(0,133,255)" stroke="rgb(0,133,255)" stroke-width=".5" d="M172.6 167.7l1.7 2.2 7.5 1.7 -1.8-2.2z"/>
<path fill="rgb(0,113,255)" stroke="rgb(0,113,255)" stroke-width=".5" d="M177.9 174.4l1.7 2.3 7.5 1.5 -1.8-2.2zM177.5 182l1.7 2.3 7.5 1.5 -1.8-2.3z"/>
<path fill="rgb(0,56,255)" stroke="rgb(0,56,255)" stroke-width=".5" d="M192 192.9l1.7 2.3 7.5 1.2 -1.8-2.3z"/>
<path fill="rgb(62,255,193)" stroke="rgb(62,255,193)" stroke-width=".5" d="M110.5 102.1l1.8 1.8 7.4 2.7 -1.7-1.8zM127.4 132.4l1.7 2.2 7.5 2.6 -1.8-2.2zM130.5 143l1.7 2.3 7.5 2.5 -1.8-2.2zM131.8 152l1.8 2.4 7.5 2.5 -1.8-2.3z"/>
<path fill="rgb(59,255,196)" stroke="rgb(59,255,196)" stroke-width=".5" d="M112.3 103.9l1.7 1.9 7.5 2.7 -1.8-1.9z"/>
<path fill="rgb(56,255,199)" stroke="rgb(56,255,199)" stroke-width=".5" d="M114 105.8l1.8 1.9 7.4 2.7 -1.7-1.9zM129.1 134.6l1.8 2.1 7.4 2.6 -1.7-2.1zM133.2 161.7l1.8 2.6 7.4 2.4 -1.7-2.5z"/>
<path fill="rgb(52,255,203)" stroke="rgb(52,255,203)" stroke-width=".5" d="M115.8 107.7l1.8 1.9 7.4 2.6 -1.8-1.8z"/>
<path fill="rgb(49,255,206)" stroke="rgb(49,255,206)" stroke-width=".5" d="M117.6 109.6l1.7 1.9 7.5 2.6 -1.8-1.9z"/>
<path fill="rgb(45,255,210)" stroke="rgb(45,255,210)" stroke-width=".5" d="M119.3 111.5l1.8 1.9 7.4 2.6 -1.7-1.9zM127.7 126.7l1.8 2 7.4 2.6 -1.7-2zM128.1 189.9l1.8 3 7.4 2.5 -1.7-2.9z"/>
<path fill="rgb(41,255,214)" stroke="rgb(41,255,214)" stroke-width=".5" d="M121.1 113.4l1.8 1.9 7.4 2.7 -1.8-2z"/>
<path fill="rgb(38,255,217)" stroke="rgb(38,255,217)" stroke-width=".5" d="M122.9 115.3l1.7 2 7.5 2.6 -1.8-1.9zM134.4 141.1l1.8 2.2 7.4 2.5 -1.8-2.2z"/>
<path fill="rgb(34,255,221)" stroke="rgb(34,255,221)" stroke-width=".5" d="M124.6 117.3l1.8 1.9 7.4 2.6 -1.7-1.9zM132 186.6l1.8 2.9 7.4 2.4 -1.7-2.9z"/>
<path fill="rgb(30,255,225)" stroke="rgb(30,255,225)" stroke-width=".5" d="M126.4 119.2l1.7 2 7.5 2.6 -1.8-2z"/>
<path fill="rgb(25,255,230)" stroke="rgb(25,255,230)" stroke-width=".5" d="M128.1 121.2l1.8 2 7.4 2.6 -1.7-2zM137.9 145.6l1.8 2.2 7.4 2.4 -1.7-2.2zM139.3 154.6l1.8 2.3 7.4 2.4 -1.8-2.3z"/>
<path fill="rgb(21,255,234)" stroke="rgb(21,255,234)" stroke-width=".5" d="M129.9 123.2l1.8 2 7.4 2.5 -1.8-1.9zM138.1 177.5l1.8 2.8 7.4 2.2 -1.7-2.6zM133.8 189.5l1.8 3 7.4 2.3 -1.8-2.9z"/>
<path fill="rgb(12,255,243)" stroke="rgb(12,255,243)" stroke-width=".5" d="M133.4 127.2l1.8 2.1 7.4 2.4 -1.7-2z"/>
<path fill="rgb(0,253,255)" stroke="rgb(0,253,255)" stroke-width=".5" d="M138.7 133.4l1.8 2 7.4 2.4 -1.7-2zM139.5 189l1.7 2.9 7.5 2.2 -1.8-2.8z"/>
<path fill="rgb(0,248,255)" stroke="rgb(0,248,255)" stroke-width=".5" d="M140.5 135.4l1.7 2.1 7.5 2.4 -1.8-2.1zM146.3 164.1l1.8 2.5 7.4 2.2 -1.7-2.4z"/>
<path fill="rgb(0,242,255)" stroke="rgb(0,242,255)" stroke-width=".5" d="M142.2 137.5l1.8 2.1 7.4 2.3 -1.7-2z"/>
<path fill="rgb(0,232,255)" stroke="rgb(0,232,255)" stroke-width=".5" d="M145.8 141.7l1.7 2.2 7.5 2.2 -1.8-2.1z"/>
<path fill="rgb(0,220,255)" stroke="rgb(0,220,255)" stroke-width=".5" d="M149.3 146l1.7 2.1 7.5 2.2 -1.8-2.1zM149.1 185.2l1.7 2.7 7.5 2 -1.8-2.6z"/>
<path fill="rgb(0,215,255)" stroke="rgb(0,215,255)" stroke-width=".5" d="M151 148.1l1.8 2.2 7.4 2.2 -1.7-2.2zM144.8 197.7l1.7 2.9 7.5 2.1 -1.8-2.9z"/>
<path fill="rgb(0,209,255)" stroke="rgb(0,209,255)" stroke-width=".5" d="M152.8 150.3l1.8 2.2 7.4 2.1 -1.8-2.1zM150.8 187.9l1.8 2.7 7.4 2 -1.7-2.7z"/>
<path fill="rgb(0,190,255)" stroke="rgb(0,190,255)" stroke-width=".5" d="M158.1 156.9l1.8 2.2 7.4 2 -1.8-2.2zM159.1 173.6l1.7 2.4 7.5 1.9 -1.8-2.4z"/>
<path fill="rgb(0,184,255)" stroke="rgb(0,184,255)" stroke-width=".5" d="M159.9 159.1l1.7 2.2 7.5 2 -1.8-2.2z"/>
<path fill="rgb(0,177,255)" stroke="rgb(0,177,255)" stroke-width=".5" d="M161.6 161.3l1.8 2.3 7.4 1.9 -1.7-2.2zM158.3 189.9l1.7 2.7 7.5 1.8 -1.8-2.6z"/>
<path fill="rgb(0,171,255)" stroke="rgb(0,171,255)" stroke-width=".5" d="M163.4 163.6l1.7 2.2 7.5 1.9 -1.8-2.2z"/>
<path fill="rgb(0,150,255)" stroke="rgb(0,150,255)" stroke-width=".5" d="M168.7 170.4l1.7 2.3 7.5 1.7 -1.8-2.2zM168.3 177.9l1.7 2.4 7.5 1.7 -1.8-2.4z"/>
<path fill="rgb(0,105,255)" stroke="rgb(0,105,255)" stroke-width=".5" d="M179.2 184.3l1.8 2.4 7.4 1.5 -1.7-2.4z"/>
<path fill="rgb(0,90,255)" stroke="rgb(0,90,255)" stroke-width=".5" d="M182.8 189.1l1.7 2.4 7.5 1.4 -1.8-2.4z"/>
<path fill="rgb(0,39,255)" stroke="rgb(0,39,255)" stroke-width=".5" d="M193.3 203.7l1.8 2.5 7.4 1 -1.7-2.4z"/>
<path fill="rgb(0,30,255)" stroke="rgb(0,30,255)" stroke-width=".5" d="M195.1 206.2l1.8 2.5 7.4 1 -1.8-2.5z"/>
<path fill="rgb(102,255,153)" stroke="rgb(102,255,153)" stroke-width=".5" d="M103.1 99.2l1.7 1.8 7.5 2.9 -1.8-1.8z"/>
<path fill="rgb(99,255,156)" stroke="rgb(99,255,156)" stroke-width=".5" d="M104.8 101l1.8 1.9 7.4 2.9 -1.7-1.9zM115 117.7l1.8 2.1 7.4 2.8 -1.7-2.1zM121.1 178l1.7 3 7.5 2.7 -1.8-2.9z"/>
<path fill="rgb(96,255,159)" stroke="rgb(96,255,159)" stroke-width=".5" d="M106.6 102.9l1.8 1.9 7.4 2.9 -1.8-1.9z"/>
<path fill="rgb(92,255,163)" stroke="rgb(92,255,163)" stroke-width=".5" d="M108.4 104.8l1.7 1.9 7.5 2.9 -1.8-1.9zM126.2 151.7l1.7 2.5 7.5 2.7 -1.8-2.5zM125.4 166.8l1.7 2.7 7.5 2.7 -1.8-2.7z"/>
<path fill="rgb(89,255,166)" stroke="rgb(89,255,166)" stroke-width=".5" d="M110.1 106.7l1.8 2 7.4 2.8 -1.7-1.9zM118.5 121.8l1.8 2.1 7.4 2.8 -1.7-2.1zM123.4 134l1.8 2.2 7.4 2.7 -1.7-2.2z"/>
<path fill="rgb(85,255,170)" stroke="rgb(85,255,170)" stroke-width=".5" d="M111.9 108.7l1.8 1.9 7.4 2.8 -1.8-1.9zM125 175.1l1.7 2.8 7.5 2.7 -1.8-2.8z"/>
<path fill="rgb(81,255,174)" stroke="rgb(81,255,174)" stroke-width=".5" d="M113.6 110.6l1.8 2 7.5 2.7 -1.8-1.9zM127.1 169.5l1.8 2.8 7.4 2.5 -1.7-2.6z"/>
<path fill="rgb(77,255,178)" stroke="rgb(77,255,178)" stroke-width=".5" d="M115.4 112.6l1.8 1.9 7.4 2.8 -1.7-2z"/>
<path fill="rgb(73,255,182)" stroke="rgb(73,255,182)" stroke-width=".5" d="M117.2 114.5l1.7 2 7.5 2.7 -1.8-1.9zM123.8 128.1l1.8 2.1 7.4 2.7 -1.7-2.1z"/>
<path fill="rgb(69,255,186)" stroke="rgb(69,255,186)" stroke-width=".5" d="M118.9 116.5l1.8 2 7.4 2.7 -1.7-2zM128.7 140.7l1.8 2.3 7.4 2.6 -1.7-2.3zM122.4 190.2l1.8 3.1 7.4 2.7 -1.7-3.1z"/>
<path fill="rgb(64,255,191)" stroke="rgb(64,255,191)" stroke-width=".5" d="M120.7 118.5l1.8 2 7.4 2.7 -1.8-2zM131.1 166.9l1.7 2.6 7.5 2.5 -1.8-2.6z"/>
<path fill="rgb(60,255,195)" stroke="rgb(60,255,195)" stroke-width=".5" d="M122.5 120.5l1.7 2.1 7.5 2.6 -1.8-2zM128.5 180.8l1.8 2.9 7.4 2.5 -1.7-2.8z"/>
<path fill="rgb(55,255,200)" stroke="rgb(55,255,200)" stroke-width=".5" d="M124.2 122.6l1.8 2 7.4 2.6 -1.7-2zM132.2 145.3l1.8 2.3 7.4 2.5 -1.7-2.3z"/>
<path fill="rgb(50,255,205)" stroke="rgb(50,255,205)" stroke-width=".5" d="M126 124.6l1.7 2.1 7.5 2.6 -1.8-2.1zM130.9 136.7l1.7 2.2 7.5 2.6 -1.8-2.2z"/>
<path fill="rgb(40,255,215)" stroke="rgb(40,255,215)" stroke-width=".5" d="M129.5 128.7l1.8 2.1 7.4 2.6 -1.8-2.1zM135.8 149.9l1.7 2.3 7.5 2.5 -1.8-2.3z"/>
<path fill="rgb(35,255,220)" stroke="rgb(35,255,220)" stroke-width=".5" d="M131.3 130.8l1.7 2.1 7.5 2.5 -1.8-2zM134.2 180.6l1.8 2.8 7.4 2.3 -1.8-2.7z"/>
<path fill="rgb(29,255,226)" stroke="rgb(29,255,226)" stroke-width=".5" d="M133 132.9l1.8 2.1 7.4 2.5 -1.7-2.1z"/>
<path fill="rgb(24,255,231)" stroke="rgb(24,255,231)" stroke-width=".5" d="M134.8 135l1.8 2.2 7.4 2.4 -1.8-2.1z"/>
<path fill="rgb(18,255,237)" stroke="rgb(18,255,237)" stroke-width=".5" d="M136.6 137.2l1.7 2.1 7.5 2.4 -1.8-2.1zM139.7 147.8l1.7 2.3 7.5 2.3 -1.8-2.2z"/>
<path fill="rgb(13,255,242)" stroke="rgb(13,255,242)" stroke-width=".5" d="M138.3 139.3l1.8 2.2 7.4 2.4 -1.7-2.2z"/>
<path fill="rgb(1,255,254)" stroke="rgb(1,255,254)" stroke-width=".5" d="M141.8 143.6l1.8 2.2 7.4 2.3 -1.7-2.1zM144.6 161.7l1.7 2.4 7.5 2.3 -1.8-2.4zM144.2 169.2l1.7 2.6 7.5 2.2 -1.8-2.5z"/>
<path fill="rgb(0,250,255)" stroke="rgb(0,250,255)" stroke-width=".5" d="M143.6 145.8l1.8 2.2 7.4 2.3 -1.8-2.2z"/>
<path fill="rgb(0,224,255)" stroke="rgb(0,224,255)" stroke-width=".5" d="M150.7 154.7l1.7 2.2 7.5 2.2 -1.8-2.2z"/>
<path fill="rgb(0,210,255)" stroke="rgb(0,210,255)" stroke-width=".5" d="M154.2 159.2l1.7 2.3 7.5 2.1 -1.8-2.3z"/>
<path fill="rgb(0,196,255)" stroke="rgb(0,196,255)" stroke-width=".5" d="M157.7 163.8l1.8 2.3 7.4 2 -1.8-2.3z"/>
<path fill="rgb(0,174,255)" stroke="rgb(0,174,255)" stroke-width=".5" d="M163 170.8l1.7 2.3 7.5 1.9 -1.8-2.3z"/>
<path fill="rgb(0,166,255)" stroke="rgb(0,166,255)" stroke-width=".5" d="M164.7 173.1l1.8 2.4 7.5 1.8 -1.8-2.3z"/>
<path fill="rgb(144,255,111)" stroke="rgb(144,255,111)" stroke-width=".5" d="M95.6 96.1l1.8 1.9 7.4 3 -1.7-1.8zM116.6 153.6l1.7 2.6 7.5 2.8 -1.8-2.5z"/>
<path fill="rgb(141,255,114)" stroke="rgb(141,255,114)" stroke-width=".5" d="M97.4 98l1.8 1.9 7.4 3 -1.8-1.9zM107.6 114.7l1.7 2.1 7.5 3 -1.8-2.1zM117 146.4l1.7 2.5 7.5 2.8 -1.8-2.4z"/>
<path fill="rgb(137,255,118)" stroke="rgb(137,255,118)" stroke-width=".5" d="M99.2 99.9l1.7 1.9 7.5 3 -1.8-1.9zM115.8 169.3l1.7 2.9 7.5 2.9 -1.8-2.8z"/>
<path fill="rgb(134,255,121)" stroke="rgb(134,255,121)" stroke-width=".5" d="M100.9 101.8l1.8 2 7.4 2.9 -1.7-1.9zM117.4 139.7l1.7 2.4 7.5 2.8 -1.8-2.3zM118.3 156.2l1.8 2.6 7.4 2.8 -1.7-2.6z"/>
<path fill="rgb(130,255,125)" stroke="rgb(130,255,125)" stroke-width=".5" d="M102.7 103.8l1.7 1.9 7.5 3 -1.8-2zM111.1 118.9l1.8 2.1 7.4 2.9 -1.8-2.1z"/>
<path fill="rgb(126,255,129)" stroke="rgb(126,255,129)" stroke-width=".5" d="M104.4 105.7l1.8 2 7.5 2.9 -1.8-1.9zM119.1 142.1l1.8 2.4 7.4 2.8 -1.7-2.4zM115.4 178l1.8 3 7.4 2.9 -1.8-2.9z"/>
<path fill="rgb(122,255,133)" stroke="rgb(122,255,133)" stroke-width=".5" d="M106.2 107.7l1.8 1.9 7.4 3 -1.8-2zM117.8 133.4l1.7 2.2 7.5 2.9 -1.8-2.3z"/>
<path fill="rgb(118,255,137)" stroke="rgb(118,255,137)" stroke-width=".5" d="M108 109.6l1.7 2 7.5 2.9 -1.8-1.9zM120.9 144.5l1.7 2.4 7.5 2.7 -1.8-2.3z"/>
<path fill="rgb(113,255,142)" stroke="rgb(113,255,142)" stroke-width=".5" d="M109.7 111.6l1.8 2 7.4 2.9 -1.7-2zM116.4 125.3l1.7 2.1 7.5 2.8 -1.8-2.1zM121.9 161.5l1.7 2.6 7.5 2.8 -1.8-2.7z"/>
<path fill="rgb(109,255,146)" stroke="rgb(109,255,146)" stroke-width=".5" d="M111.5 113.6l1.8 2.1 7.4 2.8 -1.8-2zM122.6 146.9l1.8 2.4 7.4 2.7 -1.7-2.4zM121.5 169.5l1.7 2.8 7.5 2.7 -1.8-2.7z"/>
<path fill="rgb(104,255,151)" stroke="rgb(104,255,151)" stroke-width=".5" d="M113.3 115.7l1.7 2 7.5 2.8 -1.8-2zM124 156.5l1.8 2.5 7.4 2.7 -1.7-2.5z"/>
<path fill="rgb(94,255,161)" stroke="rgb(94,255,161)" stroke-width=".5" d="M116.8 119.8l1.7 2 7.5 2.8 -1.8-2zM124.8 142.6l1.8 2.3 7.4 2.7 -1.8-2.3zM125.8 159l1.7 2.6 7.5 2.7 -1.8-2.6z"/>
<path fill="rgb(84,255,171)" stroke="rgb(84,255,171)" stroke-width=".5" d="M120.3 123.9l1.8 2.1 7.4 2.7 -1.8-2zM127.9 154.2l1.8 2.5 7.4 2.6 -1.7-2.4zM127.5 161.6l1.8 2.6 7.4 2.6 -1.7-2.5zM120.7 187.1l1.7 3.1 7.5 2.7 -1.8-3z"/>
<path fill="rgb(79,255,176)" stroke="rgb(79,255,176)" stroke-width=".5" d="M122.1 126l1.7 2.1 7.5 2.7 -1.8-2.1z"/>
<path fill="rgb(68,255,187)" stroke="rgb(68,255,187)" stroke-width=".5" d="M125.6 130.2l1.8 2.2 7.4 2.6 -1.8-2.1z"/>
<path fill="rgb(44,255,211)" stroke="rgb(44,255,211)" stroke-width=".5" d="M132.6 138.9l1.8 2.2 7.4 2.5 -1.7-2.1z"/>
<path fill="rgb(31,255,224)" stroke="rgb(31,255,224)" stroke-width=".5" d="M136.2 143.3l1.7 2.3 7.5 2.4 -1.8-2.2zM129.9 192.9l1.7 3.1 7.5 2.4 -1.8-3z"/>
<path fill="rgb(11,255,244)" stroke="rgb(11,255,244)" stroke-width=".5" d="M141.4 150.1l1.8 2.3 7.5 2.3 -1.8-2.3zM142.4 166.7l1.8 2.5 7.4 2.3 -1.7-2.5zM137.7 186.2l1.8 2.8 7.4 2.3 -1.7-2.8z"/>
<path fill="rgb(4,255,251)" stroke="rgb(4,255,251)" stroke-width=".5" d="M143.2 152.4l1.8 2.3 7.4 2.2 -1.7-2.2z"/>
<path fill="rgb(0,252,255)" stroke="rgb(0,252,255)" stroke-width=".5" d="M145 154.7l1.7 2.3 7.5 2.2 -1.8-2.3zM143.8 177.2l1.8 2.7 7.4 2.1 -1.8-2.6z"/>
<path fill="rgb(0,244,255)" stroke="rgb(0,244,255)" stroke-width=".5" d="M146.7 157l1.8 2.3 7.4 2.2 -1.7-2.3z"/>
<path fill="rgb(0,229,255)" stroke="rgb(0,229,255)" stroke-width=".5" d="M150.3 161.6l1.7 2.4 7.5 2.1 -1.8-2.3z"/>
<path fill="rgb(0,222,255)" stroke="rgb(0,222,255)" stroke-width=".5" d="M152 164l1.8 2.4 7.4 2 -1.7-2.3zM151.6 171.5l1.8 2.5 7.4 2 -1.7-2.4z"/>
<path fill="rgb(0,206,255)" stroke="rgb(0,206,255)" stroke-width=".5" d="M155.5 168.8l1.8 2.4 7.4 1.9 -1.7-2.3z"/>
<path fill="rgb(0,155,255)" stroke="rgb(0,155,255)" stroke-width=".5" d="M166.1 183.4l1.8 2.5 7.4 1.7 -1.7-2.5z"/>
<path fill="rgb(0,137,255)" stroke="rgb(0,137,255)" stroke-width=".5" d="M169.6 188.4l1.8 2.5 7.4 1.6 -1.7-2.5zM167.5 194.4l1.7 2.6 7.5 1.6 -1.8-2.6z"/>
<path fill="rgb(0,69,255)" stroke="rgb(0,69,255)" stroke-width=".5" d="M182 206.4l1.7 2.6 7.5 1.2 -1.8-2.6z"/>
<path fill="rgb(188,255,67)" stroke="rgb(188,255,67)" stroke-width=".5" d="M88.2 92.9l1.8 1.9 7.4 3.2 -1.8-1.9z"/>
<path fill="rgb(184,255,71)" stroke="rgb(184,255,71)" stroke-width=".5" d="M90 94.8l1.7 2 7.5 3.1 -1.8-1.9zM108.2 134.2l1.7 2.4 7.5 3.1 -1.8-2.4z"/>
<path fill="rgb(180,255,75)" stroke="rgb(180,255,75)" stroke-width=".5" d="M91.7 96.8l1.8 1.9 7.4 3.1 -1.7-1.9zM108.3 166.2l1.8 2.9 7.4 3.1 -1.7-2.9z"/>
<path fill="rgb(177,255,78)" stroke="rgb(177,255,78)" stroke-width=".5" d="M93.5 98.7l1.7 1.9 7.5 3.2 -1.8-2z"/>
<path fill="rgb(173,255,82)" stroke="rgb(173,255,82)" stroke-width=".5" d="M95.2 100.6l1.8 2 7.4 3.1 -1.7-1.9z"/>
<path fill="rgb(168,255,87)" stroke="rgb(168,255,87)" stroke-width=".5" d="M97 102.6l1.8 2 7.4 3.1 -1.8-2z"/>
<path fill="rgb(164,255,91)" stroke="rgb(164,255,91)" stroke-width=".5" d="M98.8 104.6l1.7 2 7.5 3 -1.8-1.9zM110.3 130.4l1.8 2.3 7.4 2.9 -1.7-2.2zM113 148.4l1.8 2.6 7.5 2.9 -1.8-2.5z"/>
<path fill="rgb(160,255,95)" stroke="rgb(160,255,95)" stroke-width=".5" d="M100.5 106.6l1.8 2 7.4 3 -1.7-2z"/>
<path fill="rgb(155,255,100)" stroke="rgb(155,255,100)" stroke-width=".5" d="M102.3 108.6l1.8 2 7.4 3 -1.8-2zM108.9 122.3l1.8 2.2 7.4 2.9 -1.7-2.1z"/>
<path fill="rgb(151,255,104)" stroke="rgb(151,255,104)" stroke-width=".5" d="M104.1 110.6l1.7 2.1 7.5 3 -1.8-2.1z"/>
<path fill="rgb(146,255,109)" stroke="rgb(146,255,109)" stroke-width=".5" d="M105.8 112.7l1.8 2 7.4 3 -1.7-2z"/>
<path fill="rgb(135,255,120)" stroke="rgb(135,255,120)" stroke-width=".5" d="M109.3 116.8l1.8 2.1 7.4 2.9 -1.7-2z"/>
<path fill="rgb(125,255,130)" stroke="rgb(125,255,130)" stroke-width=".5" d="M112.9 121l1.7 2.1 7.5 2.9 -1.8-2.1zM117.5 172.2l1.8 2.9 7.4 2.8 -1.7-2.8z"/>
<path fill="rgb(119,255,136)" stroke="rgb(119,255,136)" stroke-width=".5" d="M114.6 123.1l1.8 2.2 7.4 2.8 -1.7-2.1z"/>
<path fill="rgb(107,255,148)" stroke="rgb(107,255,148)" stroke-width=".5" d="M118.1 127.4l1.8 2.2 7.5 2.8 -1.8-2.2z"/>
<path fill="rgb(101,255,154)" stroke="rgb(101,255,154)" stroke-width=".5" d="M119.9 129.6l1.8 2.2 7.4 2.8 -1.7-2.2zM123 140.2l1.8 2.4 7.4 2.7 -1.7-2.3zM124.4 149.3l1.8 2.4 7.4 2.7 -1.8-2.4z"/>
<path fill="rgb(95,255,160)" stroke="rgb(95,255,160)" stroke-width=".5" d="M121.7 131.8l1.7 2.2 7.5 2.7 -1.8-2.1z"/>
<path fill="rgb(82,255,173)" stroke="rgb(82,255,173)" stroke-width=".5" d="M125.2 136.2l1.8 2.3 7.4 2.6 -1.8-2.2z"/>
<path fill="rgb(76,255,179)" stroke="rgb(76,255,179)" stroke-width=".5" d="M127 138.5l1.7 2.2 7.5 2.6 -1.8-2.2z"/>
<path fill="rgb(48,255,207)" stroke="rgb(48,255,207)" stroke-width=".5" d="M134 147.6l1.8 2.3 7.4 2.5 -1.8-2.3z"/>
<path fill="rgb(33,255,222)" stroke="rgb(33,255,222)" stroke-width=".5" d="M137.5 152.2l1.8 2.4 7.4 2.4 -1.7-2.3z"/>
<path fill="rgb(9,255,246)" stroke="rgb(9,255,246)" stroke-width=".5" d="M142.8 159.3l1.8 2.4 7.4 2.3 -1.7-2.4z"/>
<path fill="rgb(0,213,255)" stroke="rgb(0,213,255)" stroke-width=".5" d="M153.4 174l1.8 2.5 7.4 1.9 -1.8-2.4z"/>
<path fill="rgb(0,204,255)" stroke="rgb(0,204,255)" stroke-width=".5" d="M155.2 176.5l1.7 2.5 7.5 1.9 -1.8-2.5z"/>
<path fill="rgb(0,176,255)" stroke="rgb(0,176,255)" stroke-width=".5" d="M160.4 184l1.8 2.6 7.4 1.8 -1.7-2.5z"/>
<path fill="rgb(0,167,255)" stroke="rgb(0,167,255)" stroke-width=".5" d="M162.2 186.6l1.8 2.6 7.4 1.7 -1.8-2.5zM160 192.6l1.8 2.7 7.4 1.7 -1.7-2.6z"/>
<path fill="rgb(0,147,255)" stroke="rgb(0,147,255)" stroke-width=".5" d="M165.7 191.8l1.8 2.6 7.4 1.6 -1.7-2.6z"/>
<path fill="rgb(0,95,255)" stroke="rgb(0,95,255)" stroke-width=".5" d="M174.5 205l1.8 2.7 7.4 1.3 -1.7-2.6z"/>
<path fill="rgb(232,255,23)" stroke="rgb(232,255,23)" stroke-width=".5" d="M80.8 89.6l1.7 1.9 7.5 3.3 -1.8-1.9z"/>
<path fill="rgb(229,255,26)" stroke="rgb(229,255,26)" stroke-width=".5" d="M82.5 91.5l1.8 1.9 7.4 3.4 -1.7-2zM97.6 120.3l1.7 2.2 7.5 3.3 -1.8-2.3z"/>
<path fill="rgb(225,255,30)" stroke="rgb(225,255,30)" stroke-width=".5" d="M84.3 93.4l1.7 2 7.5 3.3 -1.8-1.9z"/>
<path fill="rgb(221,255,34)" stroke="rgb(221,255,34)" stroke-width=".5" d="M86 95.4l1.8 2 7.4 3.2 -1.7-1.9z"/>
<path fill="rgb(217,255,38)" stroke="rgb(217,255,38)" stroke-width=".5" d="M87.8 97.4l1.8 1.9 7.4 3.3 -1.8-2zM103.8 142.6l1.8 2.6 7.4 3.2 -1.7-2.5z"/>
<path fill="rgb(212,255,43)" stroke="rgb(212,255,43)" stroke-width=".5" d="M89.6 99.3l1.7 2 7.5 3.3 -1.8-2z"/>
<path fill="rgb(208,255,47)" stroke="rgb(208,255,47)" stroke-width=".5" d="M91.3 101.3l1.8 2.1 7.4 3.2 -1.7-2z"/>
<path fill="rgb(203,255,52)" stroke="rgb(203,255,52)" stroke-width=".5" d="M93.1 103.4l1.7 2 7.5 3.2 -1.8-2z"/>
<path fill="rgb(199,255,56)" stroke="rgb(199,255,56)" stroke-width=".5" d="M94.8 105.4l1.8 2 7.5 3.2 -1.8-2zM104.6 129.5l1.8 2.4 7.4 3.1 -1.7-2.3z"/>
<path fill="rgb(194,255,61)" stroke="rgb(194,255,61)" stroke-width=".5" d="M96.6 107.4l1.8 2.1 7.4 3.2 -1.7-2.1z"/>
<path fill="rgb(189,255,66)" stroke="rgb(189,255,66)" stroke-width=".5" d="M98.4 109.5l1.7 2.1 7.5 3.1 -1.8-2z"/>
<path fill="rgb(183,255,72)" stroke="rgb(183,255,72)" stroke-width=".5" d="M100.1 111.6l1.8 2.1 7.4 3.1 -1.7-2.1zM109.5 143.3l1.8 2.6 7.4 3 -1.7-2.5z"/>
<path fill="rgb(178,255,77)" stroke="rgb(178,255,77)" stroke-width=".5" d="M101.9 113.7l1.8 2.1 7.4 3.1 -1.8-2.1zM106.8 125.8l1.8 2.3 7.4 3 -1.8-2.2z"/>
<path fill="rgb(172,255,83)" stroke="rgb(172,255,83)" stroke-width=".5" d="M103.7 115.8l1.7 2.1 7.5 3.1 -1.8-2.1z"/>
<path fill="rgb(167,255,88)" stroke="rgb(167,255,88)" stroke-width=".5" d="M105.4 117.9l1.8 2.2 7.4 3 -1.7-2.1zM111.7 139l1.7 2.5 7.5 3 -1.8-2.4zM110.1 169.1l1.8 3 7.4 3 -1.8-2.9z"/>
<path fill="rgb(161,255,94)" stroke="rgb(161,255,94)" stroke-width=".5" d="M107.2 120.1l1.7 2.2 7.5 3 -1.8-2.2z"/>
<path fill="rgb(149,255,106)" stroke="rgb(149,255,106)" stroke-width=".5" d="M110.7 124.5l1.8 2.2 7.4 2.9 -1.8-2.2zM113.8 135l1.8 2.3 7.4 2.9 -1.7-2.3z"/>
<path fill="rgb(142,255,113)" stroke="rgb(142,255,113)" stroke-width=".5" d="M112.5 126.7l1.7 2.2 7.5 2.9 -1.8-2.2zM115.6 137.3l1.8 2.4 7.4 2.9 -1.8-2.4z"/>
<path fill="rgb(136,255,119)" stroke="rgb(136,255,119)" stroke-width=".5" d="M114.2 128.9l1.8 2.2 7.4 2.9 -1.7-2.2z"/>
<path fill="rgb(129,255,126)" stroke="rgb(129,255,126)" stroke-width=".5" d="M116 131.1l1.8 2.3 7.4 2.8 -1.8-2.2z"/>
<path fill="rgb(115,255,140)" stroke="rgb(115,255,140)" stroke-width=".5" d="M119.5 135.6l1.8 2.3 7.4 2.8 -1.7-2.2z"/>
<path fill="rgb(108,255,147)" stroke="rgb(108,255,147)" stroke-width=".5" d="M121.3 137.9l1.7 2.3 7.5 2.8 -1.8-2.3z"/>
<path fill="rgb(86,255,169)" stroke="rgb(86,255,169)" stroke-width=".5" d="M126.6 144.9l1.7 2.4 7.5 2.6 -1.8-2.3zM122.8 181l1.8 2.9 7.4 2.7 -1.7-2.9z"/>
<path fill="rgb(78,255,177)" stroke="rgb(78,255,177)" stroke-width=".5" d="M128.3 147.3l1.8 2.3 7.4 2.6 -1.7-2.3z"/>
<path fill="rgb(70,255,185)" stroke="rgb(70,255,185)" stroke-width=".5" d="M130.1 149.6l1.8 2.4 7.4 2.6 -1.8-2.4zM128.9 172.3l1.8 2.7 7.4 2.5 -1.8-2.7z"/>
<path fill="rgb(54,255,201)" stroke="rgb(54,255,201)" stroke-width=".5" d="M133.6 154.4l1.8 2.5 7.4 2.4 -1.7-2.4zM132.8 169.5l1.8 2.7 7.4 2.4 -1.7-2.6z"/>
<path fill="rgb(46,255,209)" stroke="rgb(46,255,209)" stroke-width=".5" d="M135.4 156.9l1.7 2.4 7.5 2.4 -1.8-2.4z"/>
<path fill="rgb(37,255,218)" stroke="rgb(37,255,218)" stroke-width=".5" d="M137.1 159.3l1.8 2.5 7.4 2.3 -1.7-2.4zM136.7 166.8l1.8 2.6 7.4 2.4 -1.7-2.6z"/>
<path fill="rgb(28,255,227)" stroke="rgb(28,255,227)" stroke-width=".5" d="M138.9 161.8l1.8 2.4 7.4 2.4 -1.8-2.5z"/>
<path fill="rgb(0,238,255)" stroke="rgb(0,238,255)" stroke-width=".5" d="M147.7 174.3l1.8 2.6 7.4 2.1 -1.7-2.5z"/>
<path fill="rgb(0,208,255)" stroke="rgb(0,208,255)" stroke-width=".5" d="M153 182l1.8 2.7 7.4 1.9 -1.8-2.6z"/>
<path fill="rgb(0,188,255)" stroke="rgb(0,188,255)" stroke-width=".5" d="M156.5 187.3l1.8 2.6 7.4 1.9 -1.7-2.6z"/>
<path fill="rgb(0,156,255)" stroke="rgb(0,156,255)" stroke-width=".5" d="M161.8 195.3l1.8 2.7 7.4 1.6 -1.8-2.6z"/>
<path fill="rgb(255,231,0)" stroke="rgb(255,231,0)" stroke-width=".5" d="M73.3 86.1l1.8 1.9 7.4 3.5 -1.7-1.9zM83.5 102.7l1.8 2.1 7.4 3.5 -1.8-2.1z"/>
<path fill="rgb(255,235,0)" stroke="rgb(255,235,0)" stroke-width=".5" d="M75.1 88l1.7 2 7.5 3.4 -1.8-1.9zM90.1 116.8l1.8 2.3 7.4 3.4 -1.7-2.2z"/>
<path fill="rgb(255,239,0)" stroke="rgb(255,239,0)" stroke-width=".5" d="M76.8 90l1.8 1.9 7.4 3.5 -1.7-2z"/>
<path fill="rgb(255,243,0)" stroke="rgb(255,243,0)" stroke-width=".5" d="M78.6 91.9l1.8 2 7.4 3.5 -1.8-2zM91.9 119.1l1.8 2.3 7.4 3.4 -1.8-2.3z"/>
<path fill="rgb(255,248,0)" stroke="rgb(255,248,0)" stroke-width=".5" d="M80.4 93.9l1.7 2 7.5 3.4 -1.8-1.9zM88.8 109.1l1.7 2.2 7.5 3.4 -1.8-2.1zM96.4 139.2l1.8 2.6 7.4 3.4 -1.8-2.6z"/>
<path fill="rgb(255,252,0)" stroke="rgb(255,252,0)" stroke-width=".5" d="M82.1 95.9l1.8 2 7.4 3.4 -1.7-2z"/>
<path fill="rgb(253,255,2)" stroke="rgb(253,255,2)" stroke-width=".5" d="M83.9 97.9l1.7 2.1 7.5 3.4 -1.8-2.1z"/>
<path fill="rgb(249,255,6)" stroke="rgb(249,255,6)" stroke-width=".5" d="M85.6 100l1.8 2 7.4 3.4 -1.7-2zM92.3 113.5l1.8 2.3 7.4 3.3 -1.8-2.2z"/>
<path fill="rgb(244,255,11)" stroke="rgb(244,255,11)" stroke-width=".5" d="M87.4 102l1.8 2.1 7.4 3.3 -1.8-2zM97.2 126.2l1.8 2.4 7.4 3.3 -1.8-2.4z"/>
<path fill="rgb(238,255,17)" stroke="rgb(238,255,17)" stroke-width=".5" d="M89.2 104.1l1.7 2.1 7.5 3.3 -1.8-2.1z"/>
<path fill="rgb(233,255,22)" stroke="rgb(233,255,22)" stroke-width=".5" d="M90.9 106.2l1.8 2.1 7.4 3.3 -1.7-2.1z"/>
<path fill="rgb(228,255,27)" stroke="rgb(228,255,27)" stroke-width=".5" d="M92.7 108.3l1.8 2.1 7.4 3.3 -1.8-2.1z"/>
<path fill="rgb(222,255,33)" stroke="rgb(222,255,33)" stroke-width=".5" d="M94.5 110.4l1.7 2.2 7.5 3.2 -1.8-2.1zM99.3 122.5l1.8 2.3 7.5 3.3 -1.8-2.3z"/>
<path fill="rgb(216,255,39)" stroke="rgb(216,255,39)" stroke-width=".5" d="M96.2 112.6l1.8 2.1 7.4 3.2 -1.7-2.1z"/>
<path fill="rgb(210,255,45)" stroke="rgb(210,255,45)" stroke-width=".5" d="M98 114.7l1.7 2.2 7.5 3.2 -1.8-2.2zM104.2 135.9l1.8 2.4 7.4 3.2 -1.7-2.5z"/>
<path fill="rgb(204,255,51)" stroke="rgb(204,255,51)" stroke-width=".5" d="M99.7 116.9l1.8 2.2 7.4 3.2 -1.7-2.2z"/>
<path fill="rgb(198,255,57)" stroke="rgb(198,255,57)" stroke-width=".5" d="M101.5 119.1l1.8 2.2 7.4 3.2 -1.8-2.2z"/>
<path fill="rgb(191,255,64)" stroke="rgb(191,255,64)" stroke-width=".5" d="M103.3 121.3l1.7 2.2 7.5 3.2 -1.8-2.2z"/>
<path fill="rgb(185,255,70)" stroke="rgb(185,255,70)" stroke-width=".5" d="M105 123.5l1.8 2.3 7.4 3.1 -1.7-2.2z"/>
<path fill="rgb(171,255,84)" stroke="rgb(171,255,84)" stroke-width=".5" d="M108.6 128.1l1.7 2.3 7.5 3 -1.8-2.3z"/>
<path fill="rgb(157,255,98)" stroke="rgb(157,255,98)" stroke-width=".5" d="M112.1 132.7l1.7 2.3 7.5 2.9 -1.8-2.3z"/>
<path fill="rgb(75,255,180)" stroke="rgb(75,255,180)" stroke-width=".5" d="M129.7 156.7l1.8 2.5 7.4 2.6 -1.8-2.5z"/>
<path fill="rgb(65,255,190)" stroke="rgb(65,255,190)" stroke-width=".5" d="M131.5 159.2l1.7 2.5 7.5 2.5 -1.8-2.4z"/>
<path fill="rgb(47,255,208)" stroke="rgb(47,255,208)" stroke-width=".5" d="M135 164.3l1.7 2.5 7.5 2.4 -1.8-2.5zM132.4 177.8l1.8 2.8 7.4 2.4 -1.7-2.7zM130.3 183.7l1.7 2.9 7.5 2.4 -1.8-2.8z"/>
<path fill="rgb(27,255,228)" stroke="rgb(27,255,228)" stroke-width=".5" d="M138.5 169.4l1.8 2.6 7.4 2.3 -1.8-2.5z"/>
<path fill="rgb(0,241,255)" stroke="rgb(0,241,255)" stroke-width=".5" d="M145.6 179.9l1.7 2.6 7.5 2.2 -1.8-2.7zM141.2 191.9l1.8 2.9 7.4 2.2 -1.7-2.9z"/>
<path fill="rgb(0,187,255)" stroke="rgb(0,187,255)" stroke-width=".5" d="M154.4 193.4l1.7 2.7 7.5 1.9 -1.8-2.7z"/>
<path fill="rgb(255,184,0)" stroke="rgb(255,184,0)" stroke-width=".5" d="M65.9 82.4l1.7 2 7.5 3.6 -1.8-1.9z"/>
<path fill="rgb(255,188,0)" stroke="rgb(255,188,0)" stroke-width=".5" d="M67.6 84.4l1.8 1.9 7.4 3.7 -1.7-2zM82.7 113.1l1.8 2.4 7.4 3.6 -1.8-2.3z"/>
<path fill="rgb(255,192,0)" stroke="rgb(255,192,0)" stroke-width=".5" d="M69.4 86.3l1.8 2 7.4 3.6 -1.8-1.9z"/>
<path fill="rgb(255,196,0)" stroke="rgb(255,196,0)" stroke-width=".5" d="M71.2 88.3l1.7 2 7.5 3.6 -1.8-2zM84.5 115.5l1.7 2.4 7.5 3.5 -1.8-2.3z"/>
<path fill="rgb(255,200,0)" stroke="rgb(255,200,0)" stroke-width=".5" d="M72.9 90.3l1.8 2 7.4 3.6 -1.7-2zM89 135.5l1.7 2.7 7.5 3.6 -1.8-2.6z"/>
<path fill="rgb(255,205,0)" stroke="rgb(255,205,0)" stroke-width=".5" d="M74.7 92.3l1.7 2.1 7.5 3.5 -1.8-2z"/>
<path fill="rgb(255,210,0)" stroke="rgb(255,210,0)" stroke-width=".5" d="M76.4 94.4l1.8 2 7.4 3.6 -1.7-2.1z"/>
<path fill="rgb(255,215,0)" stroke="rgb(255,215,0)" stroke-width=".5" d="M78.2 96.4l1.8 2.1 7.4 3.5 -1.8-2z"/>
<path fill="rgb(255,220,0)" stroke="rgb(255,220,0)" stroke-width=".5" d="M80 98.5l1.7 2.1 7.5 3.5 -1.8-2.1zM89.7 122.6l1.8 2.5 7.5 3.5 -1.8-2.4z"/>
<path fill="rgb(255,225,0)" stroke="rgb(255,225,0)" stroke-width=".5" d="M81.7 100.6l1.8 2.1 7.4 3.5 -1.7-2.1z"/>
<path fill="rgb(255,236,0)" stroke="rgb(255,236,0)" stroke-width=".5" d="M85.2 104.8l1.8 2.2 7.5 3.4 -1.8-2.1z"/>
<path fill="rgb(255,242,0)" stroke="rgb(255,242,0)" stroke-width=".5" d="M87 107l1.8 2.1 7.4 3.5 -1.7-2.2z"/>
<path fill="rgb(255,255,0)" stroke="rgb(255,255,0)" stroke-width=".5" d="M90.5 111.3l1.8 2.2 7.4 3.4 -1.7-2.2zM96.8 132.5l1.8 2.5 7.4 3.3 -1.8-2.4z"/>
<path fill="rgb(242,255,13)" stroke="rgb(242,255,13)" stroke-width=".5" d="M94.1 115.8l1.7 2.2 7.5 3.3 -1.8-2.2zM99.5 151.9l1.8 2.8 7.4 3.4 -1.7-2.8z"/>
<path fill="rgb(236,255,19)" stroke="rgb(236,255,19)" stroke-width=".5" d="M95.8 118l1.8 2.3 7.4 3.2 -1.7-2.2zM99 128.6l1.7 2.4 7.5 3.2 -1.8-2.3z"/>
<path fill="rgb(214,255,41)" stroke="rgb(214,255,41)" stroke-width=".5" d="M101.1 124.8l1.8 2.4 7.4 3.2 -1.7-2.3z"/>
<path fill="rgb(207,255,48)" stroke="rgb(207,255,48)" stroke-width=".5" d="M102.9 127.2l1.7 2.3 7.5 3.2 -1.8-2.3zM105.6 145.2l1.8 2.6 7.4 3.2 -1.8-2.6z"/>
<path fill="rgb(192,255,63)" stroke="rgb(192,255,63)" stroke-width=".5" d="M106.4 131.9l1.8 2.3 7.4 3.1 -1.8-2.3zM107.8 140.8l1.7 2.5 7.5 3.1 -1.8-2.5z"/>
<path fill="rgb(176,255,79)" stroke="rgb(176,255,79)" stroke-width=".5" d="M109.9 136.6l1.8 2.4 7.4 3.1 -1.7-2.4zM110.9 153.1l1.8 2.7 7.4 3 -1.8-2.6z"/>
<path fill="rgb(159,255,96)" stroke="rgb(159,255,96)" stroke-width=".5" d="M113.4 141.5l1.8 2.4 7.4 3 -1.7-2.4z"/>
<path fill="rgb(150,255,105)" stroke="rgb(150,255,105)" stroke-width=".5" d="M115.2 143.9l1.8 2.5 7.4 2.9 -1.8-2.4zM114 166.5l1.8 2.8 7.4 3 -1.7-2.8z"/>
<path fill="rgb(132,255,123)" stroke="rgb(132,255,123)" stroke-width=".5" d="M118.7 148.9l1.8 2.5 7.4 2.8 -1.7-2.5zM117.9 163.9l1.8 2.8 7.4 2.8 -1.7-2.7z"/>
<path fill="rgb(123,255,132)" stroke="rgb(123,255,132)" stroke-width=".5" d="M120.5 151.4l1.8 2.5 7.4 2.8 -1.8-2.5z"/>
<path fill="rgb(114,255,141)" stroke="rgb(114,255,141)" stroke-width=".5" d="M122.3 153.9l1.7 2.6 7.5 2.7 -1.8-2.5z"/>
<path fill="rgb(74,255,181)" stroke="rgb(74,255,181)" stroke-width=".5" d="M129.3 164.2l1.8 2.7 7.4 2.5 -1.8-2.6z"/>
<path fill="rgb(43,255,212)" stroke="rgb(43,255,212)" stroke-width=".5" d="M134.6 172.2l1.7 2.6 7.5 2.4 -1.8-2.6z"/>
<path fill="rgb(32,255,223)" stroke="rgb(32,255,223)" stroke-width=".5" d="M136.3 174.8l1.8 2.7 7.5 2.4 -1.8-2.7z"/>
<path fill="rgb(0,254,255)" stroke="rgb(0,254,255)" stroke-width=".5" d="M141.6 183l1.8 2.7 7.4 2.2 -1.7-2.7z"/>
<path fill="rgb(0,219,255)" stroke="rgb(0,219,255)" stroke-width=".5" d="M146.9 191.3l1.8 2.8 7.4 2 -1.7-2.7z"/>
<path fill="rgb(0,183,255)" stroke="rgb(0,183,255)" stroke-width=".5" d="M152.2 199.8l1.8 2.9 7.4 1.8 -1.8-2.8z"/>
<path fill="rgb(255,134,0)" stroke="rgb(255,134,0)" stroke-width=".5" d="M58.4 78.6l1.8 1.9 7.4 3.9 -1.7-2zM68.6 95.2l1.8 2.1 7.4 3.9 -1.8-2.2z"/>
<path fill="rgb(255,138,0)" stroke="rgb(255,138,0)" stroke-width=".5" d="M60.2 80.5l1.8 2 7.4 3.8 -1.8-1.9z"/>
<path fill="rgb(255,142,0)" stroke="rgb(255,142,0)" stroke-width=".5" d="M62 82.5l1.7 2 7.5 3.8 -1.8-2z"/>
<path fill="rgb(255,147,0)" stroke="rgb(255,147,0)" stroke-width=".5" d="M63.7 84.5l1.8 2 7.4 3.8 -1.7-2zM77 111.7l1.8 2.4 7.4 3.8 -1.7-2.4z"/>
<path fill="rgb(255,152,0)" stroke="rgb(255,152,0)" stroke-width=".5" d="M65.5 86.5l1.7 2.1 7.5 3.7 -1.8-2z"/>
<path fill="rgb(255,156,0)" stroke="rgb(255,156,0)" stroke-width=".5" d="M67.2 88.6l1.8 2 7.4 3.8 -1.7-2.1z"/>
<path fill="rgb(255,161,0)" stroke="rgb(255,161,0)" stroke-width=".5" d="M69 90.6l1.8 2.1 7.4 3.7 -1.8-2z"/>
<path fill="rgb(255,166,0)" stroke="rgb(255,166,0)" stroke-width=".5" d="M70.8 92.7l1.7 2.1 7.5 3.7 -1.8-2.1zM77.4 106.2l1.8 2.3 7.4 3.7 -1.7-2.2z"/>
<path fill="rgb(255,172,0)" stroke="rgb(255,172,0)" stroke-width=".5" d="M72.5 94.8l1.8 2.1 7.4 3.7 -1.7-2.1zM82.3 118.9l1.8 2.5 7.4 3.7 -1.8-2.5z"/>
<path fill="rgb(255,177,0)" stroke="rgb(255,177,0)" stroke-width=".5" d="M74.3 96.9l1.7 2.1 7.5 3.7 -1.8-2.1z"/>
<path fill="rgb(255,183,0)" stroke="rgb(255,183,0)" stroke-width=".5" d="M76 99l1.8 2.2 7.5 3.6 -1.8-2.1z"/>
<path fill="rgb(255,189,0)" stroke="rgb(255,189,0)" stroke-width=".5" d="M77.8 101.2l1.8 2.1 7.4 3.7 -1.8-2.2zM85.8 123.9l1.8 2.5 7.4 3.6 -1.7-2.5z"/>
<path fill="rgb(255,195,0)" stroke="rgb(255,195,0)" stroke-width=".5" d="M79.6 103.3l1.7 2.2 7.5 3.6 -1.8-2.1z"/>
<path fill="rgb(255,201,0)" stroke="rgb(255,201,0)" stroke-width=".5" d="M81.3 105.5l1.8 2.2 7.4 3.6 -1.7-2.2z"/>
<path fill="rgb(255,208,0)" stroke="rgb(255,208,0)" stroke-width=".5" d="M83.1 107.7l1.8 2.3 7.4 3.5 -1.8-2.2zM89.4 128.9l1.7 2.5 7.5 3.6 -1.8-2.5z"/>
<path fill="rgb(255,214,0)" stroke="rgb(255,214,0)" stroke-width=".5" d="M84.9 110l1.7 2.2 7.5 3.6 -1.8-2.3z"/>
<path fill="rgb(255,221,0)" stroke="rgb(255,221,0)" stroke-width=".5" d="M86.6 112.2l1.8 2.3 7.4 3.5 -1.7-2.2z"/>
<path fill="rgb(255,228,0)" stroke="rgb(255,228,0)" stroke-width=".5" d="M88.4 114.5l1.7 2.3 7.5 3.5 -1.8-2.3zM91.5 125.1l1.8 2.4 7.4 3.5 -1.7-2.4z"/>
<path fill="rgb(255,250,0)" stroke="rgb(255,250,0)" stroke-width=".5" d="M93.7 121.4l1.7 2.4 7.5 3.4 -1.8-2.4z"/>
<path fill="rgb(252,255,3)" stroke="rgb(252,255,3)" stroke-width=".5" d="M95.4 123.8l1.8 2.4 7.4 3.3 -1.7-2.3zM98.2 141.8l1.7 2.7 7.5 3.3 -1.8-2.6z"/>
<path fill="rgb(227,255,28)" stroke="rgb(227,255,28)" stroke-width=".5" d="M100.7 131l1.8 2.4 7.4 3.2 -1.7-2.4zM102.1 140.1l1.7 2.5 7.5 3.3 -1.8-2.6z"/>
<path fill="rgb(219,255,36)" stroke="rgb(219,255,36)" stroke-width=".5" d="M102.5 133.4l1.7 2.5 7.5 3.1 -1.8-2.4z"/>
<path fill="rgb(201,255,54)" stroke="rgb(201,255,54)" stroke-width=".5" d="M106 138.3l1.8 2.5 7.4 3.1 -1.8-2.4z"/>
<path fill="rgb(174,255,81)" stroke="rgb(174,255,81)" stroke-width=".5" d="M111.3 145.9l1.7 2.5 7.5 3 -1.8-2.5zM110.5 160.9l1.8 2.8 7.4 3 -1.8-2.8z"/>
<path fill="rgb(154,255,101)" stroke="rgb(154,255,101)" stroke-width=".5" d="M114.8 151l1.8 2.6 7.4 2.9 -1.7-2.6zM114.4 158.5l1.8 2.7 7.4 2.9 -1.7-2.6z"/>
<path fill="rgb(124,255,131)" stroke="rgb(124,255,131)" stroke-width=".5" d="M120.1 158.8l1.8 2.7 7.4 2.7 -1.8-2.6z"/>
<path fill="rgb(103,255,152)" stroke="rgb(103,255,152)" stroke-width=".5" d="M123.6 164.1l1.8 2.7 7.4 2.7 -1.7-2.6z"/>
<path fill="rgb(58,255,197)" stroke="rgb(58,255,197)" stroke-width=".5" d="M130.7 175l1.7 2.8 7.5 2.5 -1.8-2.8zM126.4 186.9l1.7 3 7.5 2.6 -1.8-3z"/>
<path fill="rgb(255,83,0)" stroke="rgb(255,83,0)" stroke-width=".5" d="M51 74.6l1.7 1.9 7.5 4 -1.8-1.9z"/>
<path fill="rgb(255,87,0)" stroke="rgb(255,87,0)" stroke-width=".5" d="M52.7 76.5l1.8 2 7.5 4 -1.8-2z"/>
<path fill="rgb(255,92,0)" stroke="rgb(255,92,0)" stroke-width=".5" d="M54.5 78.5l1.8 2 7.4 4 -1.8-2z"/>
<path fill="rgb(255,96,0)" stroke="rgb(255,96,0)" stroke-width=".5" d="M56.3 80.5l1.7 2 7.5 4 -1.8-2zM69.6 107.7l1.7 2.4 7.5 4 -1.8-2.4z"/>
<path fill="rgb(255,101,0)" stroke="rgb(255,101,0)" stroke-width=".5" d="M58 82.5l1.8 2.1 7.4 4 -1.7-2.1z"/>
<path fill="rgb(255,106,0)" stroke="rgb(255,106,0)" stroke-width=".5" d="M59.8 84.6l1.8 2.1 7.4 3.9 -1.8-2z"/>
<path fill="rgb(255,111,0)" stroke="rgb(255,111,0)" stroke-width=".5" d="M61.6 86.7l1.7 2.1 7.5 3.9 -1.8-2.1z"/>
<path fill="rgb(255,116,0)" stroke="rgb(255,116,0)" stroke-width=".5" d="M63.3 88.8l1.8 2.1 7.4 3.9 -1.7-2.1zM70 102.3l1.7 2.3 7.5 3.9 -1.8-2.3z"/>
<path fill="rgb(255,122,0)" stroke="rgb(255,122,0)" stroke-width=".5" d="M65.1 90.9l1.7 2.1 7.5 3.9 -1.8-2.1zM74.9 115l1.7 2.5 7.5 3.9 -1.8-2.5z"/>
<path fill="rgb(255,128,0)" stroke="rgb(255,128,0)" stroke-width=".5" d="M66.8 93l1.8 2.2 7.4 3.8 -1.7-2.1z"/>
<path fill="rgb(255,140,0)" stroke="rgb(255,140,0)" stroke-width=".5" d="M70.4 97.3l1.7 2.2 7.5 3.8 -1.8-2.1zM78.4 120l1.8 2.5 7.4 3.9 -1.8-2.5z"/>
<path fill="rgb(255,146,0)" stroke="rgb(255,146,0)" stroke-width=".5" d="M72.1 99.5l1.8 2.3 7.4 3.7 -1.7-2.2z"/>
<path fill="rgb(255,153,0)" stroke="rgb(255,153,0)" stroke-width=".5" d="M73.9 101.8l1.8 2.2 7.4 3.7 -1.8-2.2z"/>
<path fill="rgb(255,159,0)" stroke="rgb(255,159,0)" stroke-width=".5" d="M75.7 104l1.7 2.2 7.5 3.8 -1.8-2.3zM81.9 125.1l1.8 2.6 7.4 3.7 -1.7-2.5z"/>
<path fill="rgb(255,173,0)" stroke="rgb(255,173,0)" stroke-width=".5" d="M79.2 108.5l1.7 2.3 7.5 3.7 -1.8-2.3z"/>
<path fill="rgb(255,181,0)" stroke="rgb(255,181,0)" stroke-width=".5" d="M80.9 110.8l1.8 2.3 7.4 3.7 -1.7-2.3zM84.1 121.4l1.7 2.5 7.5 3.6 -1.8-2.4z"/>
<path fill="rgb(255,204,0)" stroke="rgb(255,204,0)" stroke-width=".5" d="M86.2 117.9l1.8 2.3 7.4 3.6 -1.7-2.4z"/>
<path fill="rgb(255,212,0)" stroke="rgb(255,212,0)" stroke-width=".5" d="M88 120.2l1.7 2.4 7.5 3.6 -1.8-2.4z"/>
<path fill="rgb(255,237,0)" stroke="rgb(255,237,0)" stroke-width=".5" d="M93.3 127.5l1.7 2.5 7.5 3.4 -1.8-2.4zM94.6 136.6l1.8 2.6 7.4 3.4 -1.7-2.5z"/>
<path fill="rgb(255,246,0)" stroke="rgb(255,246,0)" stroke-width=".5" d="M95 130l1.8 2.5 7.4 3.4 -1.7-2.5z"/>
<path fill="rgb(246,255,9)" stroke="rgb(246,255,9)" stroke-width=".5" d="M98.6 135l1.7 2.5 7.5 3.3 -1.8-2.5z"/>
<path fill="rgb(237,255,18)" stroke="rgb(237,255,18)" stroke-width=".5" d="M100.3 137.5l1.8 2.6 7.4 3.2 -1.7-2.5z"/>
<path fill="rgb(197,255,58)" stroke="rgb(197,255,58)" stroke-width=".5" d="M107.4 147.8l1.7 2.7 7.5 3.1 -1.8-2.6zM107 155.3l1.7 2.8 7.5 3.1 -1.8-2.7z"/>
<path fill="rgb(187,255,68)" stroke="rgb(187,255,68)" stroke-width=".5" d="M109.1 150.5l1.8 2.6 7.4 3.1 -1.7-2.6z"/>
<path fill="rgb(165,255,90)" stroke="rgb(165,255,90)" stroke-width=".5" d="M112.7 155.8l1.7 2.7 7.5 3 -1.8-2.7z"/>
<path fill="rgb(143,255,112)" stroke="rgb(143,255,112)" stroke-width=".5" d="M116.2 161.2l1.7 2.7 7.5 2.9 -1.8-2.7z"/>
<path fill="rgb(120,255,135)" stroke="rgb(120,255,135)" stroke-width=".5" d="M119.7 166.7l1.8 2.8 7.4 2.8 -1.8-2.8z"/>
<path fill="rgb(97,255,158)" stroke="rgb(97,255,158)" stroke-width=".5" d="M123.2 172.3l1.8 2.8 7.4 2.7 -1.7-2.8z"/>
<path fill="rgb(72,255,183)" stroke="rgb(72,255,183)" stroke-width=".5" d="M126.7 177.9l1.8 2.9 7.5 2.6 -1.8-2.8zM124.6 183.9l1.8 3 7.4 2.6 -1.8-2.9z"/>
<path fill="rgb(8,255,247)" stroke="rgb(8,255,247)" stroke-width=".5" d="M135.6 192.5l1.7 2.9 7.5 2.3 -1.8-2.9z"/>
<path fill="rgb(0,249,255)" stroke="rgb(0,249,255)" stroke-width=".5" d="M137.3 195.4l1.8 3 7.4 2.2 -1.7-2.9z"/>
<path fill="rgb(255,30,0)" stroke="rgb(255,30,0)" stroke-width=".5" d="M43.5 70.3l1.8 2 7.4 4.2 -1.7-1.9z"/>
<path fill="rgb(255,34,0)" stroke="rgb(255,34,0)" stroke-width=".5" d="M45.3 72.3l1.8 2 7.4 4.2 -1.8-2z"/>
<path fill="rgb(255,39,0)" stroke="rgb(255,39,0)" stroke-width=".5" d="M47.1 74.3l1.7 2 7.5 4.2 -1.8-2z"/>
<path fill="rgb(255,44,0)" stroke="rgb(255,44,0)" stroke-width=".5" d="M48.8 76.3l1.8 2.1 7.4 4.1 -1.7-2z"/>
<path fill="rgb(255,49,0)" stroke="rgb(255,49,0)" stroke-width=".5" d="M50.6 78.4l1.8 2.1 7.4 4.1 -1.8-2.1z"/>
<path fill="rgb(255,54,0)" stroke="rgb(255,54,0)" stroke-width=".5" d="M52.4 80.5l1.7 2 7.5 4.2 -1.8-2.1z"/>
<path fill="rgb(255,59,0)" stroke="rgb(255,59,0)" stroke-width=".5" d="M54.1 82.5l1.8 2.2 7.4 4.1 -1.7-2.1z"/>
<path fill="rgb(255,65,0)" stroke="rgb(255,65,0)" stroke-width=".5" d="M55.9 84.7l1.7 2.1 7.5 4.1 -1.8-2.1z"/>
<path fill="rgb(255,70,0)" stroke="rgb(255,70,0)" stroke-width=".5" d="M57.6 86.8l1.8 2.1 7.4 4.1 -1.7-2.1z"/>
<path fill="rgb(255,76,0)" stroke="rgb(255,76,0)" stroke-width=".5" d="M59.4 88.9l1.8 2.2 7.4 4.1 -1.8-2.2z"/>
<path fill="rgb(255,82,0)" stroke="rgb(255,82,0)" stroke-width=".5" d="M61.2 91.1l1.7 2.2 7.5 4 -1.8-2.1z"/>
<path fill="rgb(255,89,0)" stroke="rgb(255,89,0)" stroke-width=".5" d="M62.9 93.3l1.8 2.2 7.4 4 -1.7-2.2z"/>
<path fill="rgb(255,95,0)" stroke="rgb(255,95,0)" stroke-width=".5" d="M64.7 95.5l1.7 2.3 7.5 4 -1.8-2.3z"/>
<path fill="rgb(255,102,0)" stroke="rgb(255,102,0)" stroke-width=".5" d="M66.4 97.8l1.8 2.2 7.5 4 -1.8-2.2z"/>
<path fill="rgb(255,109,0)" stroke="rgb(255,109,0)" stroke-width=".5" d="M68.2 100l1.8 2.3 7.4 3.9 -1.7-2.2z"/>
<path fill="rgb(255,123,0)" stroke="rgb(255,123,0)" stroke-width=".5" d="M71.7 104.6l1.8 2.4 7.4 3.8 -1.7-2.3z"/>
<path fill="rgb(255,131,0)" stroke="rgb(255,131,0)" stroke-width=".5" d="M73.5 107l1.8 2.3 7.4 3.8 -1.8-2.3zM76.6 117.5l1.8 2.5 7.4 3.9 -1.7-2.5z"/>
<path fill="rgb(255,139,0)" stroke="rgb(255,139,0)" stroke-width=".5" d="M75.3 109.3l1.7 2.4 7.5 3.8 -1.8-2.4z"/>
<path fill="rgb(255,155,0)" stroke="rgb(255,155,0)" stroke-width=".5" d="M78.8 114.1l1.7 2.4 7.5 3.7 -1.8-2.3z"/>
<path fill="rgb(255,163,0)" stroke="rgb(255,163,0)" stroke-width=".5" d="M80.5 116.5l1.8 2.4 7.4 3.7 -1.7-2.4z"/>
<path fill="rgb(255,199,0)" stroke="rgb(255,199,0)" stroke-width=".5" d="M87.6 126.4l1.8 2.5 7.4 3.6 -1.8-2.5z"/>
<path fill="rgb(255,218,0)" stroke="rgb(255,218,0)" stroke-width=".5" d="M91.1 131.4l1.8 2.6 7.4 3.5 -1.7-2.5z"/>
<path fill="rgb(255,227,0)" stroke="rgb(255,227,0)" stroke-width=".5" d="M92.9 134l1.7 2.6 7.5 3.5 -1.8-2.6z"/>
<path fill="rgb(241,255,14)" stroke="rgb(241,255,14)" stroke-width=".5" d="M99.9 144.5l1.8 2.7 7.4 3.3 -1.7-2.7z"/>
<path fill="rgb(231,255,24)" stroke="rgb(231,255,24)" stroke-width=".5" d="M101.7 147.2l1.8 2.7 7.4 3.2 -1.8-2.6z"/>
<path fill="rgb(220,255,35)" stroke="rgb(220,255,35)" stroke-width=".5" d="M103.5 149.9l1.7 2.7 7.5 3.2 -1.8-2.7z"/>
<path fill="rgb(209,255,46)" stroke="rgb(209,255,46)" stroke-width=".5" d="M105.2 152.6l1.8 2.7 7.4 3.2 -1.7-2.7z"/>
<path fill="rgb(186,255,69)" stroke="rgb(186,255,69)" stroke-width=".5" d="M108.7 158.1l1.8 2.8 7.4 3 -1.7-2.7z"/>
<path fill="rgb(162,255,93)" stroke="rgb(162,255,93)" stroke-width=".5" d="M112.3 163.7l1.7 2.8 7.5 3 -1.8-2.8z"/>
<path fill="rgb(112,255,143)" stroke="rgb(112,255,143)" stroke-width=".5" d="M119.3 175.1l1.8 2.9 7.4 2.8 -1.8-2.9zM117.2 181l1.7 3.1 7.5 2.8 -1.8-3z"/>
<path fill="rgb(230,0,0)" stroke="rgb(230,0,0)" stroke-width=".5" d="M36.1 65.9l1.8 2 7.4 4.4 -1.8-2z"/>
<path fill="rgb(235,0,0)" stroke="rgb(235,0,0)" stroke-width=".5" d="M37.9 67.9l1.7 2 7.5 4.4 -1.8-2z"/>
<path fill="rgb(240,0,0)" stroke="rgb(240,0,0)" stroke-width=".5" d="M39.6 69.9l1.8 2.1 7.4 4.3 -1.7-2z"/>
<path fill="rgb(244,0,0)" stroke="rgb(244,0,0)" stroke-width=".5" d="M41.4 72l1.7 2 7.5 4.4 -1.8-2.1z"/>
<path fill="rgb(249,0,0)" stroke="rgb(249,0,0)" stroke-width=".5" d="M43.1 74l1.8 2.1 7.5 4.4 -1.8-2.1z"/>
<path fill="rgb(255,0,0)" stroke="rgb(255,0,0)" stroke-width=".5" d="M44.9 76.1l1.8 2.1 7.4 4.3 -1.7-2z"/>
<path fill="rgb(255,5,0)" stroke="rgb(255,5,0)" stroke-width=".5" d="M46.7 78.2l1.7 2.2 7.5 4.3 -1.8-2.2z"/>
<path fill="rgb(255,11,0)" stroke="rgb(255,11,0)" stroke-width=".5" d="M48.4 80.4l1.8 2.1 7.4 4.3 -1.7-2.1z"/>
<path fill="rgb(255,17,0)" stroke="rgb(255,17,0)" stroke-width=".5" d="M50.2 82.5l1.8 2.2 7.4 4.2 -1.8-2.1z"/>
<path fill="rgb(255,23,0)" stroke="rgb(255,23,0)" stroke-width=".5" d="M52 84.7l1.7 2.2 7.5 4.2 -1.8-2.2z"/>
<path fill="rgb(255,29,0)" stroke="rgb(255,29,0)" stroke-width=".5" d="M53.7 86.9l1.8 2.2 7.4 4.2 -1.7-2.2z"/>
<path fill="rgb(255,36,0)" stroke="rgb(255,36,0)" stroke-width=".5" d="M55.5 89.1l1.7 2.2 7.5 4.2 -1.8-2.2z"/>
<path fill="rgb(255,43,0)" stroke="rgb(255,43,0)" stroke-width=".5" d="M57.2 91.3l1.8 2.3 7.4 4.2 -1.7-2.3z"/>
<path fill="rgb(255,50,0)" stroke="rgb(255,50,0)" stroke-width=".5" d="M59 93.6l1.8 2.3 7.4 4.1 -1.8-2.2z"/>
<path fill="rgb(255,57,0)" stroke="rgb(255,57,0)" stroke-width=".5" d="M60.8 95.9l1.7 2.3 7.5 4.1 -1.8-2.3z"/>
<path fill="rgb(255,64,0)" stroke="rgb(255,64,0)" stroke-width=".5" d="M62.5 98.2l1.8 2.3 7.4 4.1 -1.7-2.3z"/>
<path fill="rgb(255,72,0)" stroke="rgb(255,72,0)" stroke-width=".5" d="M64.3 100.5l1.8 2.4 7.4 4.1 -1.8-2.4z"/>
<path fill="rgb(255,80,0)" stroke="rgb(255,80,0)" stroke-width=".5" d="M66.1 102.9l1.7 2.4 7.5 4 -1.8-2.3z"/>
<path fill="rgb(255,88,0)" stroke="rgb(255,88,0)" stroke-width=".5" d="M67.8 105.3l1.8 2.4 7.4 4 -1.7-2.4z"/>
<path fill="rgb(255,104,0)" stroke="rgb(255,104,0)" stroke-width=".5" d="M71.3 110.1l1.8 2.4 7.4 4 -1.7-2.4z"/>
<path fill="rgb(255,113,0)" stroke="rgb(255,113,0)" stroke-width=".5" d="M73.1 112.5l1.8 2.5 7.4 3.9 -1.8-2.4z"/>
<path fill="rgb(255,150,0)" stroke="rgb(255,150,0)" stroke-width=".5" d="M80.2 122.5l1.7 2.6 7.5 3.8 -1.8-2.5z"/>
<path fill="rgb(255,169,0)" stroke="rgb(255,169,0)" stroke-width=".5" d="M83.7 127.7l1.7 2.6 7.5 3.7 -1.8-2.6z"/>
<path fill="rgb(255,179,0)" stroke="rgb(255,179,0)" stroke-width=".5" d="M85.4 130.3l1.8 2.6 7.4 3.7 -1.7-2.6z"/>
<path fill="rgb(255,190,0)" stroke="rgb(255,190,0)" stroke-width=".5" d="M87.2 132.9l1.8 2.6 7.4 3.7 -1.8-2.6z"/>
<path fill="rgb(255,211,0)" stroke="rgb(255,211,0)" stroke-width=".5" d="M90.7 138.2l1.8 2.7 7.4 3.6 -1.7-2.7z"/>
<path fill="rgb(255,222,0)" stroke="rgb(255,222,0)" stroke-width=".5" d="M92.5 140.9l1.7 2.7 7.5 3.6 -1.8-2.7z"/>
<path fill="rgb(255,233,0)" stroke="rgb(255,233,0)" stroke-width=".5" d="M94.2 143.6l1.8 2.8 7.5 3.5 -1.8-2.7z"/>
<path fill="rgb(255,245,0)" stroke="rgb(255,245,0)" stroke-width=".5" d="M96 146.4l1.8 2.7 7.4 3.5 -1.7-2.7z"/>
<path fill="rgb(254,255,1)" stroke="rgb(254,255,1)" stroke-width=".5" d="M97.8 149.1l1.7 2.8 7.5 3.4 -1.8-2.7z"/>
<path fill="rgb(230,255,25)" stroke="rgb(230,255,25)" stroke-width=".5" d="M101.3 154.7l1.8 2.9 7.4 3.3 -1.8-2.8z"/>
<path fill="rgb(218,255,37)" stroke="rgb(218,255,37)" stroke-width=".5" d="M103.1 157.6l1.7 2.8 7.5 3.3 -1.8-2.8z"/>
<path fill="rgb(205,255,50)" stroke="rgb(205,255,50)" stroke-width=".5" d="M104.8 160.4l1.8 2.9 7.4 3.2 -1.7-2.8z"/>
<path fill="rgb(193,255,62)" stroke="rgb(193,255,62)" stroke-width=".5" d="M106.6 163.3l1.7 2.9 7.5 3.1 -1.8-2.8z"/>
<path fill="rgb(153,255,102)" stroke="rgb(153,255,102)" stroke-width=".5" d="M111.9 172.1l1.7 2.9 7.5 3 -1.8-2.9z"/>
<path fill="rgb(140,255,115)" stroke="rgb(140,255,115)" stroke-width=".5" d="M113.6 175l1.8 3 7.4 3 -1.7-3z"/>
<path fill="rgb(98,255,157)" stroke="rgb(98,255,157)" stroke-width=".5" d="M118.9 184.1l1.8 3 7.4 2.8 -1.7-3z"/>
<path fill="none" stroke="#000" stroke-width="0.8" stroke-linejoin="round" stroke-linecap="round" d="M215.5 129.6l1.8 1.5 1.7 1.6 1.8 1.5 1.8 1.6 1.7 1.5 1.8 1.6 1.7 1.5 1.8 1.6 1.8 1.5 1.7 1.6 1.8 1.5 1.8 1.6 1.7 1.5 1.8 1.6 1.7 1.5 1.8 1.6 1.8 1.5 1.7 1.6 1.8 1.5 1.7 1.6 1.8 1.5 1.8 1.6 1.7 1.5 1.8 1.6 1.8 1.5 1.7 1.6 1.8 1.5 1.7 1.6 1.8 1.5 1.8 1.6 1.7 1.5 1.8 1.6 1.8 1.5 1.7 1.6 1.8 1.5 1.7 1.6 1.8 1.5 1.8 1.6 1.7 1.5 1.8 1.6 1.8 1.5 1.7 1.6 1.8 1.5 1.7 1.6 1.8 1.5 1.8 1.6 1.7 1.5 1.8 1.6 1.7 1.5 1.8 1.6"/>
<path fill="none" stroke="#000" stroke-width="1.0" stroke-linejoin="round" stroke-linecap="round" d="M36.1 65.9l7.4 4.4 7.5 4.3 7.4 4 7.5 3.8 7.4 3.7 7.5 3.5 7.4 3.3 7.4 3.2 7.5 3.1 7.4 2.9 7.5 2.7 7.4 2.6 7.4 2.5 7.5 2.3 7.4 2.2 7.5 2.1 7.4 2 7.5 1.9 7.4 1.8 7.4 1.6 7.5 1.6 7.4 1.4 7.5 1.4 7.4 1.3 .8 .1M37.9 67.9l7.4 4.4 7.4 4.2 7.5 4 7.4 3.9 7.5 3.6 7.4 3.5 7.5 3.3 7.4 3.2 7.4 3 7.5 2.9 7.4 2.7 7.5 2.6 7.4 2.5 7.5 2.3 7.4 2.2 7.4 2.1 7.5 2 7.4 1.9 7.5 1.7 7.4 1.6 7.4 1.5 7.5 1.4 7.4 1.4 7.5 1.2 .8 .1M39.6 69.9l7.5 4.4 7.4 4.2 7.5 4 7.4 3.8 7.4 3.7 7.5 3.4 7.4 3.4 7.5 3.1 7.4 3 7.4 2.9 7.5 2.7 7.4 2.6 7.5 2.4 7.4 2.3 7.5 2.2 7.4 2.1 7.4 2 7.5 1.8 7.4 1.7 7.5 1.6 7.4 1.5 7.4 1.4 7.5 1.3 7.4 1.2 .8 .1M41.4 72l7.4 4.3 7.5 4.2 7.4 4 7.5 3.8 7.4 3.6 7.4 3.5 7.5 3.3 7.4 3.1 7.5 3 7.4 2.9 7.4 2.7 7.5 2.5 7.4 2.5 7.5 2.3 7.4 2.1 7.5 2.1 7.4 1.9 7.4 1.9 7.5 1.7 7.4 1.5 7.5 1.4 7.4 1.4 7.5 1.2 7.4 1.2 .8 .1M43.1 74l7.5 4.4 7.4 4.1 7.5 4 7.4 3.8 7.5 3.6 7.4 3.5 7.4 3.2 7.5 3.2 7.4 2.9 7.5 2.9 7.4 2.6 7.5 2.6 7.4 2.4 7.4 2.3 7.5 2.2 7.4 2 7.5 1.9 7.4 1.8 7.4 1.7 7.5 1.5 7.4 1.4 7.5 1.3 7.4 1.2 7.5 1.2 .8 .1M44.9 76.1l7.5 4.4 7.4 4.1 7.4 4 7.5 3.7 7.4 3.6 7.5 3.4 7.4 3.3 7.4 3.1 7.5 3 7.4 2.8 7.5 2.6 7.4 2.6 7.5 2.4 7.4 2.2 7.4 2.2 7.5 2 7.4 1.9 7.5 1.8 7.4 1.7 7.4 1.4 7.5 1.4 7.4 1.2 7.5 1.2 7.4 1.1 .8 .1M46.7 78.2l7.4 4.3 7.5 4.2 7.4 3.9 7.4 3.8 7.5 3.5 7.4 3.4 7.5 3.3 7.4 3.1 7.5 2.9 7.4 2.8 7.4 2.6 7.5 2.6 7.4 2.3 7.5 2.3 7.4 2.1 7.4 2 7.5 1.9 7.4 1.8 7.5 1.6 7.4 1.4 7.5 1.3 7.4 1.3 7.4 1.1 7.5 1.1 .8 .1M48.4 80.4l7.5 4.3 7.4 4.1 7.5 3.9 7.4 3.7 7.4 3.6 7.5 3.4 7.4 3.2 7.5 3 7.4 3 7.5 2.7 7.4 2.7 7.4 2.5 7.5 2.3 7.4 2.2 7.5 2.2 7.4 1.9 7.4 1.9 7.5 1.8 7.4 1.6 7.5 1.3 7.4 1.3 7.5 1.2 7.4 1.1 7.4 1 .8 .1M50.2 82.5l7.4 4.3 7.5 4.1 7.4 3.9 7.5 3.7 7.4 3.5 7.4 3.4 7.5 3.2 7.4 3 7.5 2.9 7.4 2.8 7.5 2.6 7.4 2.5 7.4 2.3 7.5 2.2 7.4 2.1 7.5 2 7.4 1.8 7.5 1.8 7.4 1.5 7.4 1.3 7.5 1.3 7.4 1.1 7.5 1.1 7.4 1 .8 .1M52 84.7l7.4 4.2 7.4 4.1 7.5 3.9 7.4 3.7 7.5 3.5 7.4 3.3 7.5 3.2 7.4 3 7.4 2.9 7.5 2.7 7.4 2.6 7.5 2.5 7.4 2.3 7.4 2.2 7.5 2.1 7.4 1.9 7.5 1.9 7.4 1.7 7.5 1.5 7.4 1.3 7.4 1.2 7.5 1.1 7.4 1 7.5 .9 .8 .1M53.7 86.9l7.5 4.2 7.4 4.1 7.4 3.8 7.5 3.7 7.4 3.5 7.5 3.3 7.4 3.2 7.5 3 7.4 2.8 7.4 2.7 7.5 2.6 7.4 2.4 7.5 2.3 7.4 2.2 7.5 2 7.4 2 7.4 1.8 7.5 1.7 7.4 1.5 7.5 1.2 7.4 1.1 7.4 1.1 7.5 1 7.4 .9 .8 .1M55.5 89.1l7.4 4.2 7.5 4 7.4 3.9 7.5 3.6 7.4 3.5 7.4 3.3 7.5 3.1 7.4 3 7.5 2.8 7.4 2.7 7.4 2.6 7.5 2.4 7.4 2.2 7.5 2.2 7.4 2 7.5 1.9 7.4 1.8 7.4 1.7 7.5 1.4 7.4 1.2 7.5 1.1 7.4 1 7.4 1 7.5 .9 .8 0M57.2 91.3l7.5 4.2 7.4 4 7.5 3.8 7.4 3.7 7.5 3.4 7.4 3.3 7.4 3.1 7.5 3 7.4 2.8 7.5 2.6 7.4 2.5 7.4 2.4 7.5 2.3 7.4 2.1 7.5 2 7.4 1.9 7.5 1.8 7.4 1.6 7.4 1.4 7.5 1.2 7.4 1 7.5 1 7.4 .9 7.5 .8 .8 .1M59 93.6l7.4 4.2 7.5 4 7.4 3.7 7.5 3.6 7.4 3.5 7.5 3.2 7.4 3.1 7.4 2.9 7.5 2.8 7.4 2.6 7.5 2.5 7.4 2.4 7.5 2.2 7.4 2.1 7.4 2 7.5 1.9 7.4 1.7 7.5 1.7 7.4 1.3 7.4 1.1 7.5 1 7.4 .9 7.5 .9 7.4 .8 .8 0M60.8 95.9l7.4 4.1 7.5 4 7.4 3.7 7.4 3.6 7.5 3.4 7.4 3.2 7.5 3.1 7.4 2.9 7.4 2.8 7.5 2.6 7.4 2.4 7.5 2.4 7.4 2.2 7.5 2 7.4 2 7.4 1.8 7.5 1.8 7.4 1.6 7.5 1.3 7.4 1 7.5 1 7.4 .9 7.4 .8 7.5 .7 .8 .1M62.5 98.2l7.5 4.1 7.4 3.9 7.5 3.8 7.4 3.5 7.4 3.4 7.5 3.2 7.4 3 7.5 2.9 7.4 2.7 7.4 2.6 7.5 2.4 7.4 2.4 7.5 2.1 7.4 2.1 7.5 1.9 7.4 1.8 7.4 1.7 7.5 1.6 7.4 1.3 7.5 1 7.4 .9 7.5 .8 7.4 .8 7.4 .7 .8 0M64.3 100.5l7.4 4.1 7.5 3.9 7.4 3.7 7.5 3.6 7.4 3.3 7.4 3.2 7.5 3 7.4 2.8 7.5 2.7 7.4 2.6 7.5 2.4 7.4 2.3 7.4 2.1 7.5 2 7.4 1.9 7.5 1.8 7.4 1.7 7.4 1.6 7.5 1.2 7.4 .9 7.5 .9 7.4 .8 7.5 .7 7.4 .6 .8 .1M66.1 102.9l7.4 4.1 7.4 3.8 7.5 3.7 7.4 3.5 7.5 3.3 7.4 3.2 7.4 2.9 7.5 2.8 7.4 2.7 7.5 2.5 7.4 2.4 7.5 2.3 7.4 2.1 7.4 2 7.5 1.9 7.4 1.7 7.5 1.7 7.4 1.5 7.5 1.2 7.4 .9 7.4 .8 7.5 .7 7.4 .7 7.5 .6 .8 0M67.8 105.3l7.5 4 7.4 3.8 7.4 3.7 7.5 3.5 7.4 3.2 7.5 3.2 7.4 2.9 7.5 2.8 7.4 2.6 7.4 2.5 7.5 2.4 7.4 2.2 7.5 2.1 7.4 1.9 7.4 1.9 7.5 1.7 7.4 1.6 7.5 1.6 7.4 1.1 7.5 .8 7.4 .8 7.4 .7 7.5 .6 7.4 .5 .8 .1M69.6 107.7l7.4 4 7.5 3.8 7.4 3.6 7.4 3.4 7.5 3.3 7.4 3.1 7.5 2.9 7.4 2.8 7.5 2.6 7.4 2.4 7.4 2.3 7.5 2.2 7.4 2.1 7.5 1.9 7.4 1.8 7.5 1.7 7.4 1.6 7.4 1.5 7.5 1.1 7.4 .8 7.5 .7 7.4 .6 7.4 .6 7.5 .5 .8 0M71.3 110.1l7.5 4 7.4 3.8 7.5 3.5 7.4 3.4 7.5 3.3 7.4 3 7.4 2.9 7.5 2.7 7.4 2.6 7.5 2.4 7.4 2.3 7.4 2.2 7.5 2 7.4 1.9 7.5 1.8 7.4 1.7 7.5 1.5 7.4 1.5 7.4 1.1 7.5 .7 7.4 .6 7.5 .6 7.4 .5 7.4 .4 .8 .1M73.1 112.5l7.4 4 7.5 3.7 7.4 3.6 7.5 3.4 7.4 3.2 7.5 3 7.4 2.8 7.4 2.7 7.5 2.6 7.4 2.4 7.5 2.2 7.4 2.1 7.4 2 7.5 1.9 7.4 1.7 7.5 1.7 7.4 1.5 7.5 1.4 7.4 1.1M221.9 160.1l7.5 .6 7.4 .5 7.5 .5 7.4 .4 .8 0M74.9 115l7.4 3.9 7.4 3.7 7.5 3.6 7.4 3.3 7.5 3.2 7.4 2.9 7.5 2.9 7.4 2.6 7.4 2.5 7.5 2.4 7.4 2.2 7.5 2.1 7.4 2 7.5 1.8 7.4 1.7 7.4 1.6 7.5 1.5 7.4 1.4 7.5 1M223.7 161.9l7.4 .5 7.5 .5 7.4 .4 7.5 .4 .8 0M76.6 117.5l7.5 3.9 7.4 3.7 7.5 3.5 7.4 3.3 7.4 3.1 7.5 2.9 7.4 2.8 7.5 2.6 7.4 2.5 7.4 2.3 7.5 2.2 7.4 2.1 7.5 1.9 7.4 1.8 7.5 1.7 7.4 1.6 7.4 1.4 7.5 1.4 7.4 .9M225.5 163.7l7.4 .4 7.5 .4 7.4 .4 7.4 .3 .8 0M78.4 120l7.4 3.9 7.5 3.6 7.4 3.5 7.5 3.2 7.4 3.1 7.4 2.9 7.5 2.8 7.4 2.6 7.5 2.4 7.4 2.3 7.4 2.2 7.5 2 7.4 1.9 7.5 1.7 7.4 1.7 7.5 1.5 7.4 1.5 7.4 1.3M234.7 165.9l7.4 .3 7.5 .3 7.4 .3 .8 0M80.2 122.5l7.4 3.9 7.4 3.6 7.5 3.4 7.4 3.2 7.5 3.1 7.4 2.9 7.4 2.7 7.5 2.5 7.4 2.4 7.5 2.3 7.4 2.1 7.5 2 7.4 1.8 7.4 1.8 7.5 1.6 7.4 1.5 7.5 1.4 7.4 1.3M236.4 167.6l7.5 .3 7.4 .2 7.5 .2 .8 0M81.9 125.1l7.5 3.8 7.4 3.6 7.4 3.4 7.5 3.1 7.4 3.1 7.5 2.8 7.4 2.7 7.4 2.5 7.5 2.3 7.4 2.3 7.5 2 7.4 2 7.5 1.8 7.4 1.7 7.4 1.6 7.5 1.5 7.4 1.3 7.5 1.3M245.6 169.5l7.5 .2 7.4 .2 .8 0M83.7 127.7l7.4 3.7 7.5 3.6 7.4 3.3 7.4 3.2 7.5 3 7.4 2.8 7.5 2.6 7.4 2.5 7.5 2.3M187.9 164.3l7.4 1.5 7.4 1.4 7.5 1.4 7.4 1.2M247.4 171.2l7.4 .1 7.5 .1 .8 0M85.4 130.3l7.5 3.7 7.4 3.5 7.5 3.3 7.4 3.1 7.4 3 7.5 2.7M204.5 169.2l7.5 1.3 7.4 1.2M249.2 172.9l7.4 .1 7.4 0 .8 0M87.2 132.9l7.4 3.7 7.5 3.5 7.4 3.2 7.5 3.1M250.9 174.6l7.5 0 7.4-.1 .8 0M89 135.5l7.4 3.7 7.4 3.4M260.1 176.2l7.5-.1 .8 0M90.7 138.2l7.5 3.6M261.9 177.8l7.4-.1 .8-.1M263.7 179.4l7.4-.2 .8 0M272.9 180.8l.8-.1M274.6 182.3l.8 0M36.1 65.9l1.8 2 1.7 2 1.8 2.1 1.7 2 1.8 2.1 1.8 2.1 1.7 2.2 1.8 2.1 1.8 2.2 1.7 2.2 1.8 2.2 1.7 2.2 1.8 2.3 1.8 2.3 1.7 2.3 1.8 2.3 1.8 2.4 1.7 2.4 1.8 2.4 1.7 2.4 1.8 2.4 1.8 2.5 1.7 2.5 1.8 2.5 1.8 2.5 1.7 2.6 1.8 2.6 1.7 2.6 1.8 2.6 1.8 2.6 1.7 2.7 1.8 2.7 1.7 2.7 1.8 2.8 1.8 2.7 1.7 2.8 1.8 2.8 1.8 2.9 1.7 2.8 1.8 2.9 1.7 2.9 1.8 2.9 1.8 3 1.7 2.9 1.8 3 1.8 3 1.7 3.1 1.8 3 1.7 3.1 1.8 3.1M43.5 70.3l1.8 2 1.8 2 1.7 2 1.8 2.1 1.8 2.1 1.7 2 1.8 2.2 1.7 2.1 1.8 2.1 1.8 2.2 1.7 2.2 1.8 2.2 1.7 2.3 1.8 2.2 1.8 2.3 1.7 2.3 1.8 2.4 1.8 2.3 1.7 2.4 1.8 2.4 1.7 2.4 1.8 2.4 1.8 2.5 1.7 2.5 1.8 2.5 1.8 2.5 1.7 2.5 1.8 2.6 1.7 2.6 1.8 2.6 1.8 2.6 1.7 2.7 1.8 2.7 1.8 2.7 1.7 2.7 1.8 2.7 1.7 2.8 1.8 2.8 1.8 2.8 1.7 2.8 1.8 2.8 1.7 2.9 1.8 2.9 1.8 2.9 1.7 3 1.8 2.9 1.8 3 1.7 3 1.8 3 1.7 3.1M51 74.6l1.7 1.9 1.8 2 1.8 2 1.7 2 1.8 2.1 1.8 2.1 1.7 2.1 1.8 2.1 1.7 2.1 1.8 2.2 1.8 2.1 1.7 2.2 1.8 2.3 1.8 2.2 1.7 2.2 1.8 2.3 1.7 2.3 1.8 2.3 1.8 2.4 1.7 2.4 1.8 2.3 1.7 2.4 1.8 2.5 1.8 2.4 1.7 2.5 1.8 2.5 1.8 2.5 1.7 2.5 1.8 2.6 1.7 2.5 1.8 2.6 1.8 2.6 1.7 2.7 1.8 2.6 1.8 2.7 1.7 2.7 1.8 2.7 1.7 2.7 1.8 2.8 1.8 2.8 1.7 2.8 1.8 2.8 1.7 2.8 1.8 2.9 1.8 2.9 1.7 2.9 1.8 2.9 1.8 3 1.7 2.9 1.8 3M58.4 78.6l1.8 1.9 1.8 2 1.7 2 1.8 2 1.7 2.1 1.8 2 1.8 2.1 1.7 2.1 1.8 2.1 1.7 2.1 1.8 2.2 1.8 2.1 1.7 2.2 1.8 2.2 1.8 2.3 1.7 2.2 1.8 2.3 1.7 2.3 1.8 2.3 1.8 2.3 1.7 2.4 1.8 2.4 1.8 2.4 1.7 2.4 1.8 2.4 1.7 2.5 1.8 2.4 1.8 2.5 1.7 2.5 1.8 2.6 1.7 2.5 1.8 2.6 1.8 2.6 1.7 2.6 1.8 2.6 1.8 2.7 1.7 2.6 1.8 2.7 1.7 2.7 1.8 2.8 1.8 2.7 1.7 2.8 1.8 2.8 1.8 2.8 1.7 2.8 1.8 2.8 1.7 2.9 1.8 2.9 1.8 2.9 1.7 2.9M65.9 82.4l1.7 2 1.8 1.9 1.8 2 1.7 2 1.8 2 1.7 2.1 1.8 2 1.8 2.1 1.7 2.1 1.8 2.1 1.8 2.1 1.7 2.2 1.8 2.1 1.7 2.2 1.8 2.2 1.8 2.3 1.7 2.2 1.8 2.3 1.7 2.2 1.8 2.3 1.8 2.4 1.7 2.3 1.8 2.4 1.8 2.3 1.7 2.4 1.8 2.4 1.7 2.5 1.8 2.4 1.8 2.5 1.7 2.5 1.8 2.5 1.8 2.5 1.7 2.6 1.8 2.5 1.7 2.6 1.8 2.6 1.8 2.7 1.7 2.6 1.8 2.7 1.7 2.6 1.8 2.7 1.8 2.8 1.7 2.7 1.8 2.7 1.8 2.8 1.7 2.8 1.8 2.8 1.7 2.9 1.8 2.8 1.8 2.9M73.3 86.1l1.8 1.9 1.7 2 1.8 1.9 1.8 2 1.7 2 1.8 2 1.7 2.1 1.8 2 1.8 2.1 1.7 2.1 1.8 2.1 1.8 2.1 1.7 2.2 1.8 2.1 1.7 2.2 1.8 2.2 1.8 2.2 1.7 2.2 1.8 2.3 1.8 2.3 1.7 2.3 1.8 2.3 1.7 2.3 1.8 2.3 1.8 2.4 1.7 2.4 1.8 2.4 1.7 2.4 1.8 2.4 1.8 2.4 1.7 2.5 1.8 2.5 1.8 2.5 1.7 2.5 1.8 2.6 1.7 2.5 1.8 2.6 1.8 2.6 1.7 2.6 1.8 2.6 1.8 2.7 1.7 2.6 1.8 2.7 1.7 2.7 1.8 2.7 1.8 2.8 1.7 2.7 1.8 2.8 1.7 2.8 1.8 2.8M80.8 89.6l1.7 1.9 1.8 1.9 1.7 2 1.8 2 1.8 1.9 1.7 2 1.8 2.1 1.7 2 1.8 2 1.8 2.1 1.7 2.1 1.8 2.1 1.8 2.1 1.7 2.1 1.8 2.2 1.7 2.2 1.8 2.2 1.8 2.2 1.7 2.2 1.8 2.2 1.8 2.3 1.7 2.2 1.8 2.3 1.7 2.3 1.8 2.4 1.8 2.3 1.7 2.4 1.8 2.3 1.8 2.4 1.7 2.4 1.8 2.5 1.7 2.4 1.8 2.5 1.8 2.4 1.7 2.5 1.8 2.5 1.7 2.6 1.8 2.5 1.8 2.6 1.7 2.5 1.8 2.6 1.8 2.7 1.7 2.6 1.8 2.6 1.7 2.7 1.8 2.7 1.8 2.7 1.7 2.7 1.8 2.7 1.8 2.8M88.2 92.9l1.8 1.9 1.7 2 1.8 1.9 1.7 1.9 1.8 2 1.8 2 1.7 2 1.8 2 1.8 2 1.7 2.1 1.8 2 1.7 2.1 1.8 2.1 1.8 2.1 1.7 2.1 1.8 2.2 1.7 2.1 1.8 2.2 1.8 2.2 1.7 2.2 1.8 2.2 1.8 2.3 1.7 2.2 1.8 2.3 1.7 2.3 1.8 2.3 1.8 2.3 1.7 2.3 1.8 2.4 1.8 2.3 1.7 2.4 1.8 2.4 1.7 2.4 1.8 2.5 1.8 2.4 1.7 2.5 1.8 2.5 1.8 2.5 1.7 2.5 1.8 2.5 1.7 2.5 1.8 2.6 1.8 2.6 1.7 2.6 1.8 2.6 1.7 2.6 1.8 2.6 1.8 2.7 1.7 2.7 1.8 2.7M95.6 96.1l1.8 1.9 1.8 1.9 1.7 1.9 1.8 2 1.7 1.9 1.8 2 1.8 1.9 1.7 2 1.8 2 1.8 2.1 1.7 2 1.8 2.1 1.7 2 1.8 2.1 1.8 2.1 1.7 2.1 1.8 2.1 1.8 2.2 1.7 2.2 1.8 2.1 1.7 2.2 1.8 2.2 1.8 2.2 1.7 2.3 1.8 2.2 1.7 2.3 1.8 2.3 1.8 2.3 1.7 2.3 1.8 2.3 1.8 2.3 1.7 2.4 1.8 2.4 1.7 2.4 1.8 2.4 1.8 2.4 1.7 2.4 1.8 2.4 1.8 2.5 1.7 2.5 1.8 2.5 1.7 2.5 1.8 2.5 1.8 2.5 1.7 2.6 1.8 2.6 1.8 2.5 1.7 2.6 1.8 2.7 1.7 2.6M103.1 99.2l1.7 1.8 1.8 1.9 1.8 1.9 1.7 1.9 1.8 2 1.8 1.9 1.7 2 1.8 1.9 1.7 2 1.8 2 1.8 2 1.7 2.1 1.8 2 1.7 2.1 1.8 2 1.8 2.1 1.7 2.1 1.8 2.1 1.8 2.2 1.7 2.1 1.8 2.2 1.7 2.1 1.8 2.2 1.8 2.2 1.7 2.2 1.8 2.2 1.8 2.3 1.7 2.2 1.8 2.3 1.7 2.3 1.8 2.3 1.8 2.3 1.7 2.3 1.8 2.4 1.7 2.3 1.8 2.4 1.8 2.4 1.7 2.4 1.8 2.4 1.8 2.4 1.7 2.5 1.8 2.4 1.7 2.5 1.8 2.5 1.8 2.5 1.7 2.5 1.8 2.5 1.8 2.5 1.7 2.6 1.8 2.6M110.5 102.1l1.8 1.8 1.7 1.9 1.8 1.9 1.8 1.9 1.7 1.9 1.8 1.9 1.8 1.9 1.7 2 1.8 1.9 1.7 2 1.8 2 1.8 2 1.7 2 1.8 2.1 1.8 2 1.7 2.1 1.8 2 1.7 2.1 1.8 2.1 1.8 2.1 1.7 2.2 1.8 2.1 1.7 2.1 1.8 2.2 1.8 2.2 1.7 2.2 1.8 2.2 1.8 2.2 1.7 2.2 1.8 2.3 1.7 2.2 1.8 2.3 1.8 2.3 1.7 2.3 1.8 2.3 1.8 2.3 1.7 2.3 1.8 2.4 1.7 2.3 1.8 2.4 1.8 2.4 1.7 2.4 1.8 2.4 1.7 2.5 1.8 2.4 1.8 2.4 1.7 2.5 1.8 2.5 1.8 2.5 1.7 2.5M118 104.8l1.7 1.8 1.8 1.9 1.7 1.9 1.8 1.8 1.8 1.9 1.7 1.9 1.8 2 1.8 1.9 1.7 1.9 1.8 2 1.7 2 1.8 1.9 1.8 2 1.7 2 1.8 2 1.8 2.1 1.7 2 1.8 2.1 1.7 2 1.8 2.1 1.8 2.1 1.7 2.1 1.8 2.1 1.8 2.2 1.7 2.1 1.8 2.1 1.7 2.2 1.8 2.2 1.8 2.2 1.7 2.2 1.8 2.2 1.7 2.2 1.8 2.3 1.8 2.2 1.7 2.3 1.8 2.2 1.8 2.3 1.7 2.3 1.8 2.3 1.7 2.4 1.8 2.3 1.8 2.4 1.7 2.3 1.8 2.4 1.8 2.4 1.7 2.4 1.8 2.4 1.7 2.4 1.8 2.5 1.8 2.4M125.4 107.4l1.8 1.8 1.7 1.9 1.8 1.8 1.8 1.9 1.7 1.9 1.8 1.9 1.7 1.9 1.8 1.9 1.8 1.9 1.7 1.9 1.8 2 1.7 1.9 1.8 2 1.8 2 1.7 2 1.8 2 1.8 2 1.7 2 1.8 2 1.7 2.1 1.8 2 1.8 2.1 1.7 2.1 1.8 2.1 1.8 2.1 1.7 2.1 1.8 2.1 1.7 2.2 1.8 2.1 1.8 2.2 1.7 2.1 1.8 2.2 1.8 2.2 1.7 2.2 1.8 2.2 1.7 2.3 1.8 2.2 1.8 2.3 1.7 2.2 1.8 2.3 1.7 2.3 1.8 2.3 1.8 2.3 1.7 2.3 1.8 2.3 1.8 2.4 1.7 2.3 1.8 2.4 1.7 2.4 1.8 2.4M132.8 109.9l1.8 1.8 1.8 1.8 1.7 1.9 1.8 1.8 1.8 1.9 1.7 1.8 1.8 1.9 1.7 1.9 1.8 1.9 1.8 1.9 1.7 1.9 1.8 2 1.8 1.9 1.7 2 1.8 1.9 1.7 2 1.8 2 1.8 2 1.7 2 1.8 2 1.7 2 1.8 2.1 1.8 2 1.7 2.1 1.8 2 1.8 2.1 1.7 2.1 1.8 2.1 1.7 2.1 1.8 2.1 1.8 2.2 1.7 2.1 1.8 2.1 1.8 2.2 1.7 2.2 1.8 2.2 1.7 2.2 1.8 2.2 1.8 2.2 1.7 2.2 1.8 2.2 1.8 2.3 1.7 2.2 1.8 2.3 1.7 2.3 1.8 2.3 1.8 2.3 1.7 2.3 1.8 2.3 1.7 2.3M140.3 112.2l1.8 1.8 1.7 1.8 1.8 1.9 1.7 1.8 1.8 1.8 1.8 1.9 1.7 1.8 1.8 1.9 1.7 1.9 1.8 1.9 1.8 1.9 1.7 1.9 1.8 1.9 1.8 1.9 1.7 2 1.8 1.9 1.7 2 1.8 1.9 1.8 2 1.7 2 1.8 2 1.8 2 1.7 2 1.8 2 1.7 2.1 1.8 2 1.8 2.1 1.7 2 1.8 2.1 1.7 2.1 1.8 2.1 1.8 2.1 1.7 2.1 1.8 2.1 1.8 2.1 1.7 2.1 1.8 2.2 1.7 2.1 1.8 2.2 1.8 2.2 1.7 2.2 1.8 2.2 1.8 2.2 1.7 2.2 1.8 2.2 1.7 2.2 1.8 2.3 1.8 2.2 1.7 2.3 1.8 2.3M147.7 114.4l1.8 1.8 1.8 1.8 1.7 1.8 1.8 1.9 1.7 1.8 1.8 1.8 1.8 1.9 1.7 1.8 1.8 1.9 1.8 1.8 1.7 1.9 1.8 1.9 1.7 1.9 1.8 1.9 1.8 1.9 1.7 1.9 1.8 2 1.7 1.9 1.8 1.9 1.8 2 1.7 1.9 1.8 2 1.8 2 1.7 2 1.8 2 1.7 2 1.8 2 1.8 2 1.7 2.1 1.8 2 1.8 2 1.7 2.1 1.8 2.1 1.7 2 1.8 2.1 1.8 2.1 1.7 2.1 1.8 2.1 1.7 2.1 1.8 2.2 1.8 2.1 1.7 2.1 1.8 2.2 1.8 2.1 1.7 2.2 1.8 2.2 1.7 2.2 1.8 2.2 1.8 2.2 1.7 2.2M155.2 116.5l1.7 1.8 1.8 1.8 1.8 1.8 1.7 1.8 1.8 1.8 1.7 1.8 1.8 1.8 1.8 1.9 1.7 1.8 1.8 1.9 1.8 1.8 1.7 1.9 1.8 1.9 1.7 1.8 1.8 1.9 1.8 1.9 1.7 1.9 1.8 1.9 1.8 1.9 1.7 2 1.8 1.9 1.7 1.9 1.8 2 1.8 1.9 1.7 2 1.8 2 1.7 1.9 1.8 2 1.8 2 1.7 2 1.8 2 1.8 2 1.7 2.1 1.8 2 1.7 2 1.8 2.1 1.8 2 1.7 2.1 1.8 2.1 1.8 2 1.7 2.1 1.8 2.1 1.7 2.1 1.8 2.1 1.8 2.1 1.7 2.1 1.8 2.2 1.7 2.1 1.8 2.2 1.8 2.1M162.6 118.5l1.8 1.8 1.7 1.8 1.8 1.7 1.8 1.8 1.7 1.8 1.8 1.8 1.7 1.8 1.8 1.8 1.8 1.9 1.7 1.8 1.8 1.8 1.8 1.9 1.7 1.8 1.8 1.9 1.7 1.8 1.8 1.9 1.8 1.9 1.7 1.8 1.8 1.9 1.8 1.9 1.7 1.9 1.8 1.9 1.7 1.9 1.8 2 1.8 1.9 1.7 1.9 1.8 2 1.8 1.9 1.7 2 1.8 1.9 1.7 2 1.8 2 1.8 1.9 1.7 2 1.8 2 1.7 2 1.8 2 1.8 2 1.7 2.1 1.8 2 1.8 2 1.7 2.1 1.8 2 1.7 2.1 1.8 2 1.8 2.1 1.7 2.1 1.8 2.1 1.8 2 1.7 2.1M170.1 120.4l1.7 1.8 1.8 1.7 1.7 1.8 1.8 1.7 1.8 1.8 1.7 1.8 1.8 1.8 1.8 1.8 1.7 1.8 1.8 1.8 1.7 1.8 1.8 1.8 1.8 1.9 1.7 1.8 1.8 1.8 1.7 1.9 1.8 1.8 1.8 1.9 1.7 1.8 1.8 1.9 1.8 1.8 1.7 1.9 1.8 1.9 1.7 1.9 1.8 1.9 1.8 1.9 1.7 1.9 1.8 1.9 1.8 1.9 1.7 1.9 1.8 2 1.7 1.9 1.8 1.9 1.8 2 1.7 1.9 1.8 2 1.8 1.9 1.7 2 1.8 2 1.7 2 1.8 1.9 1.8 2 1.7 2 1.8 2 1.7 2 1.8 2.1 1.8 2 1.7 2 1.8 2 1.8 2.1M177.5 122.2l1.8 1.7 1.7 1.7 1.8 1.8 1.7 1.7 1.8 1.8 1.8 1.7 1.7 1.8 1.8 1.7 1.8 1.8 1.7 1.8 1.8 1.7 1.7 1.8 1.8 1.8 1.8 1.8 1.7 1.8 1.8 1.8 1.8 1.8 1.7 1.8 1.8 1.8 1.7 1.9 1.8 1.8 1.8 1.8 1.7 1.8 1.8 1.9 1.7 1.8 1.8 1.9 1.8 1.8 1.7 1.9 1.8 1.9 1.8 1.8 1.7 1.9 1.8 1.9 1.7 1.9 1.8 1.9 1.8 1.8 1.7 1.9 1.8 1.9 1.8 2 1.7 1.9 1.8 1.9 1.7 1.9 1.8 1.9 1.8 2 1.7 1.9 1.8 1.9 1.7 2 1.8 1.9 1.8 2 1.7 1.9 1.8 2M184.9 123.8l1.8 1.7 1.8 1.7 1.7 1.7 1.8 1.7 1.8 1.7 1.7 1.7 1.8 1.7 1.7 1.7 1.8 1.8 1.8 1.7 1.7 1.7 1.8 1.8 1.7 1.7 1.8 1.7 1.8 1.8 1.7 1.7 1.8 1.8 1.8 1.7 1.7 1.8 1.8 1.8 1.7 1.7 1.8 1.8 1.8 1.8 1.7 1.7 1.8 1.8 1.8 1.8 1.7 1.8 1.8 1.8 1.7 1.8 1.8 1.8 1.8 1.8 1.7 1.8 1.8 1.8 1.7 1.9 1.8 1.8 1.8 1.8 1.7 1.8 1.8 1.9 1.8 1.8 1.7 1.8 1.8 1.9 1.7 1.8 1.8 1.9 1.8 1.8 1.7 1.9 1.8 1.9 1.8 1.8 1.7 1.9 1.8 1.9 1.7 1.9M192.4 125.4l1.7 1.6 1.8 1.7 1.8 1.6 1.7 1.7 1.8 1.7 1.8 1.6 1.7 1.7 1.8 1.7 1.7 1.7 1.8 1.6 1.8 1.7 1.7 1.7 1.8 1.7 1.8 1.7 1.7 1.7 1.8 1.7 1.7 1.7 1.8 1.7 1.8 1.7 1.7 1.7 1.8 1.7 1.7 1.7 1.8 1.7 1.8 1.8 1.7 1.7 1.8 1.7 1.8 1.7 1.7 1.8 1.8 1.7 1.7 1.7 1.8 1.8 1.8 1.7 1.7 1.8 1.8 1.7 1.8 1.8 1.7 1.7 1.8 1.8 1.7 1.7 1.8 1.8 1.8 1.8 1.7 1.7 1.8 1.8 1.7 1.8 1.8 1.8 1.8 1.8 1.7 1.7 1.8 1.8 1.8 1.8 1.7 1.8 1.8 1.8M199.8 126.8l1.8 1.6 1.7 1.7 1.8 1.6 1.8 1.6 1.7 1.6 1.8 1.7 1.8 1.6 1.7 1.6 1.8 1.7 1.7 1.6 1.8 1.6 1.8 1.7 1.7 1.6 1.8 1.7 1.8 1.6 1.7 1.7 1.8 1.6 1.7 1.7 1.8 1.6 1.8 1.7 1.7 1.6 1.8 1.7 1.8 1.6 1.7 1.7 1.8 1.7 1.7 1.6 1.8 1.7 1.8 1.7 1.7 1.7 1.8 1.6 1.7 1.7 1.8 1.7 1.8 1.7 1.7 1.7 1.8 1.6 1.8 1.7 1.7 1.7 1.8 1.7 1.7 1.7 1.8 1.7 1.8 1.7 1.7 1.7 1.8 1.7 1.8 1.7 1.7 1.7 1.8 1.7 1.7 1.7 1.8 1.7 1.8 1.7 1.7 1.8M207.3 128.2l1.7 1.6 1.8 1.6 1.8 1.5 1.7 1.6 1.8 1.6 1.7 1.6 1.8 1.6 1.8 1.6 1.7 1.6 1.8 1.6 1.7 1.6 1.8 1.6 1.8 1.6 1.7 1.6 1.8 1.6 1.8 1.6 1.7 1.6 1.8 1.6 1.7 1.6 1.8 1.6 1.8 1.6 1.7 1.6 1.8 1.6 1.8 1.6 1.7 1.6 1.8 1.6 1.7 1.6 1.8 1.7 1.8 1.6 1.7 1.6 1.8 1.6 1.8 1.6 1.7 1.6 1.8 1.7 1.7 1.6 1.8 1.6 1.8 1.6 1.7 1.6 1.8 1.7 1.7 1.6 1.8 1.6 1.8 1.6 1.7 1.7 1.8 1.6 1.8 1.6 1.7 1.7 1.8 1.6 1.7 1.6 1.8 1.7 1.8 1.6M214.7 129.5l1.8 1.5 1.7 1.6 1.8 1.5 1.8 1.6 1.7 1.5 1.8 1.6 1.7 1.5 1.8 1.6 1.8 1.5 1.7 1.6 1.8 1.6 1.8 1.5 1.7 1.6 1.8 1.5 1.7 1.6 1.8 1.5 1.8 1.6 1.7 1.5 1.8 1.6 1.7 1.5 1.8 1.6 1.8 1.6 1.7 1.5 1.8 1.6 1.8 1.5 1.7 1.6 1.8 1.5 1.7 1.6 1.8 1.5 1.8 1.6 1.7 1.6 1.8 1.5 1.8 1.6 1.7 1.5 1.8 1.6 1.7 1.5 1.8 1.6 1.8 1.6 1.7 1.5 1.8 1.6 1.8 1.5 1.7 1.6 1.8 1.5 1.7 1.6 1.8 1.6 1.8 1.5 1.7 1.6 1.8 1.5 1.7 1.6 1.8 1.6"/>
<path fill="none" stroke="#000" stroke-width="1.1" stroke-linejoin="round" stroke-linecap="round" d="M214.5 159.5l7.4 .6M216.3 161.3l7.4 .6M218 163.1l7.5 .6M212.3 164.1l7.5 .9 7.4 .4 7.5 .5M214.1 166l7.4 .8 7.5 .4 7.4 .4M215.9 167.9l7.4 .8 7.5 .3 7.4 .3 7.4 .2M150.7 154.7l7.4 2.2 7.4 2 7.5 1.9 7.4 1.8 7.5 1.7M217.6 169.8l7.5 .7 7.4 .3 7.5 .2 7.4 .2M130.1 149.6l7.4 2.6 7.5 2.5 7.4 2.2 7.5 2.2 7.4 2 7.4 1.9 7.5 1.7 7.4 1.6 7.5 1.5 7.4 1.4M219.4 171.7l7.4 .7 7.5 .2 7.4 .2 7.5 .1M117 146.4l7.4 2.9 7.4 2.7 7.5 2.6 7.4 2.4 7.5 2.2 7.4 2.1 7.5 2 7.4 1.8 7.4 1.7 7.5 1.6 7.4 1.5 7.5 1.3 7.4 1.3 7.5 1.1 7.4 .7M236 174.4l7.5 .1 7.4 .1M103.8 142.6l7.5 3.3 7.4 3 7.5 2.8 7.4 2.7 7.5 2.5 7.4 2.4 7.4 2.2 7.5 2.1 7.4 1.9 7.5 1.8 7.4 1.6 7.4 1.6 7.5 1.4 7.4 1.3 7.5 1.2 7.4 1.1 7.5 .6M237.8 176.2l7.4 0 7.5 0 7.4 0M98.2 141.8l7.4 3.4 7.4 3.2 7.5 3 7.4 2.8 7.5 2.7 7.4 2.4 7.5 2.3 7.4 2.2 7.4 2 7.5 1.9 7.4 1.7 7.5 1.7 7.4 1.5 7.5 1.3 7.4 1.3 7.4 1.2 7.5 1.1 7.4 .5M239.6 178l7.4 0 7.4-.1 7.5-.1M92.5 140.9l7.4 3.6 7.5 3.3 7.4 3.2 7.5 2.9 7.4 2.8 7.4 2.6 7.5 2.4 7.4 2.3 7.5 2.1 7.4 2 7.4 1.8 7.5 1.7 7.4 1.6 7.5 1.5 7.4 1.3 7.5 1.2 7.4 1.2 7.4 1 7.5 .5M248.8 179.7l7.4-.1 7.5-.2M94.2 143.6l7.5 3.6 7.4 3.3 7.5 3.1 7.4 2.9 7.5 2.7 7.4 2.6 7.4 2.3 7.5 2.3M161.2 168.4l7.5 2 7.4 1.8 7.5 1.6 7.4 1.5 7.4 1.5 7.5 1.3 7.4 1.2 7.5 1 7.4 1M250.5 181.5l7.5-.2 7.4-.3 7.5-.2M96 146.4l7.5 3.5 7.4 3.2 7.4 3.1 7.5 2.8M192.8 177.5l7.4 1.4 7.4 1.2 7.5 1.2 7.4 1 7.5 1M252.3 183.2l7.4-.2 7.5-.3 7.4-.4M97.8 149.1l7.4 3.5 7.5 3.2M209.4 182.2l7.4 1.1 7.5 1 7.4 .9M261.5 184.6l7.4-.3 7.5-.4 .8-.1M99.5 151.9l7.5 3.4M218.6 185.4l7.4 .9 7.5 .9M263.3 186.3l7.4-.4 7.4-.5 .8 0M227.8 188.3l7.4 .8M265 188l7.5-.5 7.4-.5 .8-.1M266.8 189.7l7.4-.6 7.5-.5 .8-.1M276 190.8l7.4-.7 .8-.1M277.7 192.4l7.5-.7 .8-.1M279.5 194l7.5-.8 .8-.1M281.3 195.6l7.4-.8 .8-.1M290.5 196.3l.8-.1M292.2 197.9l.8-.1M294 199.5l.8-.2"/>
<path fill="none" stroke="#000" stroke-width="1.2" stroke-linejoin="round" stroke-linecap="round" d="M228.6 174.3l7.4 .1M230.4 176.1l7.4 .1M232.1 178l7.5 0M233.9 179.9l7.4-.1 7.5-.1M153.8 166.4l7.4 2M228.2 181.3l7.4 .5 7.5-.2 7.4-.1M125.8 159l7.4 2.7 7.5 2.5 7.4 2.4 7.4 2.2 7.5 2 7.4 1.9 7.5 1.7 7.4 1.6 7.5 1.5M230 183.3l7.4 .4 7.4-.2 7.5-.3M112.7 155.8l7.4 3 7.4 2.8 7.5 2.7 7.4 2.4 7.5 2.3 7.4 2.2 7.4 1.9 7.5 1.9 7.4 1.7 7.5 1.5 7.4 1.5 7.5 1.3 7.4 1.2M231.7 185.2l7.5 .3 7.4-.2 7.5-.3 7.4-.4M107 155.3l7.4 3.2 7.5 3 7.4 2.7 7.4 2.6 7.5 2.4 7.4 2.3 7.5 2.1 7.4 1.9 7.5 1.8 7.4 1.6 7.4 1.6 7.5 1.4 7.4 1.2 7.5 1.2 7.4 1.1M233.5 187.2l7.4 .2 7.5-.3 7.4-.4 7.5-.4M101.3 154.7l7.4 3.4 7.5 3.1 7.4 2.9 7.5 2.8 7.4 2.5 7.4 2.4 7.5 2.2 7.4 2 7.5 1.9 7.4 1.7 7.5 1.6 7.4 1.5 7.4 1.4 7.5 1.2 7.4 1.1 7.5 1 7.4 .9M235.2 189.1l7.5 .2M250.1 188.9l7.5-.4 7.4-.5M103.1 157.6l7.4 3.3 7.4 3 7.5 2.9 7.4 2.7 7.5 2.5 7.4 2.3 7.5 2.2 7.4 1.9 7.4 1.9 7.5 1.7 7.4 1.5 7.5 1.5 7.4 1.3 7.4 1.1 7.5 1.1 7.4 1 7.5 .8 7.4 .8 7.5 .2M251.9 190.8l7.4-.6 7.5-.5M104.8 160.4l7.5 3.3 7.4 3 7.4 2.8 7.5 2.7M179.2 184.3l7.5 1.5 7.4 1.4 7.5 1.3 7.4 1.1 7.4 1 7.5 1 7.4 .8 7.5 .7 7.4 .1M253.7 192.6l7.4-.6 7.4-.6 7.5-.6M106.6 163.3l7.4 3.2M195.9 189.5l7.4 1.2 7.5 1.1 7.4 1 7.5 .8 7.4 .8 7.4 .7 7.5 0M262.9 193.8l7.4-.7 7.4-.7M205.1 192.9l7.4 1.1 7.5 .9 7.4 .8 7.5 .7 7.4 .6M264.6 195.5l7.5-.7 7.4-.8M214.3 196.2l7.4 .8 7.5 .8 7.4 .7 7.5 .5M266.4 197.3l7.4-.8 7.5-.9M223.5 199.2l7.4 .7 7.5 .6 7.4 .5M268.1 199.1l7.5-.9 7.4-.9 7.5-1M232.7 202l7.4 .6 7.5 .4M277.4 199.9l7.4-1 7.4-1M241.9 204.6l7.4 .4M279.1 201.6l7.5-1.1 7.4-1M280.9 203.3l7.4-1.1 7.5-1.2 .8-.1M282.6 205l7.5-1.2 7.4-1.2 .8-.2M284.4 206.7l7.4-1.3 7.5-1.3 .8-.1M293.6 207.1l7.4-1.4 .8-.2M295.4 208.7l7.4-1.4 .8-.2"/>
<path fill="none" stroke="#000" stroke-width="1.3" stroke-linejoin="round" stroke-linecap="round" d="M242.7 189.3l7.4-.4M244.5 191.3l7.4-.5M134.6 172.2l7.4 2.4 7.5 2.3 7.4 2.1 7.5 1.9 7.4 1.8 7.4 1.6M246.2 193.2l7.5-.6M114 166.5l7.5 3 7.4 2.8 7.4 2.5 7.5 2.4 7.4 2.2 7.5 2.1 7.4 1.9 7.5 1.7 7.4 1.6 7.4 1.5 7.5 1.3M248 195.1l7.4-.7 7.5-.6M108.3 166.2l7.5 3.1 7.4 3 7.5 2.7 7.4 2.5 7.5 2.4 7.4 2.1 7.4 2 7.5 1.9 7.4 1.7 7.5 1.5 7.4 1.4 7.4 1.3 7.5 1.1M242.3 197l7.4 0 7.5-.7 7.4-.8M110.1 169.1l7.4 3.1 7.5 2.9 7.4 2.7 7.5 2.5 7.4 2.2 7.5 2.2 7.4 1.9 7.4 1.8 7.5 1.6 7.4 1.5 7.5 1.4 7.4 1.2 7.4 1.1 7.5 1M244.1 199l7.4-.1 7.4-.8 7.5-.8M111.9 172.1l7.4 3 7.4 2.8 7.5 2.7 7.4 2.4 7.5 2.2 7.4 2.1 7.5 1.9 7.4 1.7 7.4 1.6 7.5 1.4 7.4 1.3 7.5 1.2 7.4 1 7.5 1 7.4 .8M245.8 201l7.5-.1 7.4-.9 7.4-.9M113.6 175l7.5 3 7.4 2.8 7.5 2.6 7.4 2.3 7.4 2.2 7.5 2 7.4 1.9 7.5 1.6 7.4 1.6 7.4 1.4 7.5 1.2 7.4 1.1 7.5 1 7.4 .9 7.5 .7 7.4 .7M247.6 203l7.4-.2 7.5-1 7.4-.9 7.5-1M115.4 178l7.4 3 7.5 2.7 7.4 2.5 7.5 2.3 7.4 2.1 7.4 2 7.5 1.8 7.4 1.6 7.5 1.5 7.4 1.3 7.5 1.2 7.4 1 7.4 1 7.5 .8 7.4 .7 7.5 .6 7.4 .5M249.3 205l7.5-.3 7.4-1 7.5-1 7.4-1.1M117.2 181l7.4 2.9 7.4 2.7 7.5 2.4 7.4 2.3 7.5 2.1 7.4 1.9 7.4 1.7 7.5 1.6 7.4 1.4 7.5 1.2 7.4 1.2 7.5 1 7.4 .9 7.4 .7 7.5 .7 7.4 .5 7.5 .5 7.4 .4 7.4-.4 7.5-1.1 7.4-1.2 7.5-1.1M118.9 184.1l7.5 2.8 7.4 2.6 7.4 2.4 7.5 2.2 7.4 2 7.5 1.9 7.4 1.6 7.4 1.5 7.5 1.4 7.4 1.2 7.5 1.1 7.4 .9 7.5 .9 7.4 .7 7.4 .6 7.5 .5 7.4 .4 7.5 .3 7.4-.5 7.5-1.2 7.4-1.2 7.4-1.2M120.7 187.1l7.4 2.8 7.5 2.6 7.4 2.3 7.4 2.2 7.5 1.9 7.4 1.8 7.5 1.6 7.4 1.4 7.5 1.3 7.4 1.2 7.4 1 7.5 .9 7.4 .8 7.5 .6 7.4 .6 7.4 .4 7.5 .4 7.4 .2 7.5-.5 7.4-1.3 7.5-1.3 7.4-1.3M122.4 190.2l7.5 2.7 7.4 2.5 7.5 2.3 7.4 2.1 7.4 1.9 7.5 1.7 7.4 1.6 7.5 1.4 7.4 1.2 7.5 1.1 7.4 1 7.4 .8 7.5 .7 7.4 .6 7.5 .5 7.4 .4 7.5 .2 7.4 .2 7.4-.6 7.5-1.3 7.4-1.4 7.5-1.4 7.4-1.3M124.2 193.3l7.4 2.7 7.5 2.4 7.4 2.2 7.5 2.1 7.4 1.8 7.5 1.7 7.4 1.5 7.4 1.3 7.5 1.2 7.4 1 7.5 .9 7.4 .8 7.4 .6 7.5 .6 7.4 .4 7.5 .3 7.4 .2 7.5 .2 7.4-.7 7.4-1.4 7.5-1.5 7.4-1.4 7.5-1.5"/>
<g fill="none" stroke="#000" stroke-width="1.1" stroke-linecap="butt">
<path d="M36.1 58.3 L36.1 165.6 L124.2 242.1 L310.2 205.8"/>
<path d="M36.1 165.6 l-3.7 -3.2M36.1 135.7 l-3.7 -3.2M36.1 105.8 l-3.7 -3.2M36.1 75.9 l-3.7 -3.2M36.1 165.6 l-4.8 0.9M58.1 184.7 l-4.8 0.9M80.2 203.8 l-4.8 0.9M102.2 223.0 l-4.8 0.9M124.2 242.1 l-4.8 0.9M124.2 242.1 l3.7 3.2M170.7 233.0 l3.7 3.2M217.2 223.9 l3.7 3.2M263.7 214.9 l3.7 3.2M310.2 205.8 l3.7 3.2"/>
</g>
<text x="30.9" y="164.8" font-size="9.7" font-weight="bold" text-anchor="end">0</text>
<text x="30.9" y="134.9" font-size="9.7" font-weight="bold" text-anchor="end">0.5</text>
<text x="30.9" y="105.0" font-size="9.7" font-weight="bold" text-anchor="end">1</text>
<text x="30.9" y="75.2" font-size="9.7" font-weight="bold" text-anchor="end">1.5</text>
<text x="19.7" y="176.8" font-size="9.7" font-weight="bold" text-anchor="middle">10%</text>
<text x="41.7" y="195.9" font-size="9.7" font-weight="bold" text-anchor="middle">20%</text>
<text x="63.8" y="215.0" font-size="9.7" font-weight="bold" text-anchor="middle">30%</text>
<text x="85.8" y="234.2" font-size="9.7" font-weight="bold" text-anchor="middle">40%</text>
<text x="107.8" y="253.3" font-size="9.7" font-weight="bold" text-anchor="middle">50%</text>
<text x="140.2" y="256.2" font-size="9.7" font-weight="bold" text-anchor="middle">25%</text>
<text x="186.7" y="247.1" font-size="9.7" font-weight="bold" text-anchor="middle">20%</text>
<text x="233.2" y="238.0" font-size="9.7" font-weight="bold" text-anchor="middle">15%</text>
<text x="279.7" y="229.0" font-size="9.7" font-weight="bold" text-anchor="middle">10%</text>
<text x="326.2" y="219.9" font-size="9.7" font-weight="bold" text-anchor="middle">5%</text>
<text transform="translate(11.2 111.1) rotate(-90)" font-size="13.4" font-weight="bold" text-anchor="middle">Option Value</text>
<text x="38.2" y="230.4" font-size="14" text-anchor="middle" class="gr">σ</text>
<text x="223.5" y="261.1" font-size="14" text-anchor="middle" class="gr">μ</text>
<text x="174.4" y="13.1" font-size="12.3" font-weight="bold" text-anchor="middle"><tspan font-size="15.5" class="gr">α</tspan>=0</text>
</g>
<g id="right" transform="translate(.25 0)">
<g fill="none" stroke="#000" stroke-width=".7" stroke-dasharray="1 3" stroke-linecap="butt">
<path d="M436.5 165.2 L436.5 44.6"/>
<path d="M484.3 157.7 L484.3 37.1"/>
<path d="M532.1 150.2 L532.1 29.6"/>
<path d="M579.9 142.7 L579.9 22.1"/>
<path d="M388.7 172.7 L579.9 142.7"/>
<path d="M388.7 139.1 L579.9 109.1"/>
<path d="M388.7 105.5 L579.9 75.5"/>
<path d="M388.7 71.9 L579.9 41.9"/>
<path d="M600.5 160.1 L600.5 39.6"/>
<path d="M621.1 177.6 L621.1 57.0"/>
<path d="M641.7 195.0 L641.7 74.5"/>
<path d="M662.3 212.5 L662.3 92.0"/>
<path d="M579.9 142.7 L662.3 212.5"/>
<path d="M579.9 109.1 L662.3 178.9"/>
<path d="M579.9 75.5 L662.3 145.3"/>
<path d="M579.9 41.9 L662.3 111.8"/>
<path d="M409.3 190.1 L600.5 160.1"/>
<path d="M429.9 207.6 L621.1 177.6"/>
<path d="M450.5 225.0 L641.7 195.0"/>
<path d="M436.5 165.2 L518.9 235.0"/>
<path d="M484.3 157.7 L566.7 227.5"/>
<path d="M532.1 150.2 L614.5 220.0"/>
</g>
<path fill="rgb(217,41,0)" d="M388.7 96.8l1.6 5.7 1.7 5.5 1.6 5.2 1.7 4.9 1.6 4.7 1.7 4.5 1.6 4.3 1.7 4.2 1.6 3.9 1.7 3.8 1.6 3.6 1.7 3.5 1.6 3.4 1.7 3.2 1.6 3.1 1.7 3 1.6 2.9 1.7 2.8 1.6 2.7 1.7 2.7 1.6 2.5 1.7 2.5 1.6 2.4 1.7 2.3 1.6 2.3 1.6 2.2 1.7 2.2 1.6 2.1 1.7 2.1 1.6 2.1 1.7 2 1.6 1.9 1.7 1.9 1.6 1.9 1.7 1.9 1.6 1.8 1.7 1.8 1.6 1.8 1.7 1.7 1.6 1.7 1.7 1.7 1.6 1.7 1.7 1.7 1.6 1.6 1.7 1.7 1.6 1.6 1.7 1.6 1.6 1.6 1.7 1.6 1.6 1.5 7.6-.6 7.7-.7 7.6-.8 7.7-.7 7.6-.8 7.7-.8 7.6-.8 7.7-.8 7.6-.9 7.7-.9 7.6-.8 7.7-.9 7.6-1 7.7-.9 7.6-.9 7.7-1 7.6-1 7.7-.9 7.6-1 7.7-1 7.6-1 7.7-1 7.6-1.1 7.7-1 7.6-1.1 -1.6-1.4 -1.7-1.4 -1.6-1.4 -1.7-1.5 -1.6-1.4 -1.7-1.5 -1.6-1.4 -1.7-1.5 -1.6-1.4 -1.7-1.5 -1.6-1.4 -1.7-1.5 -1.6-1.5 -1.7-1.5 -1.6-1.5 -1.7-1.4 -1.6-1.5 -1.7-1.5 -1.6-1.6 -1.7-1.5 -1.6-1.5 -1.7-1.6 -1.6-1.5 -1.7-1.6 -1.6-1.5 -1.6-1.6 -1.7-1.6 -1.6-1.6 -1.7-1.7 -1.6-1.6 -1.7-1.6 -1.6-1.7 -1.7-1.7 -1.6-1.7 -1.7-1.7 -1.6-1.8 -1.7-1.7 -1.6-1.8 -1.7-1.7 -1.6-1.1 -1.7-1 -1.6-1 -1.7-.9 -1.6-1 -1.7-1 -1.6-.9 -1.7-1 -1.6-.9 -1.7-1 -1.6-.9 -7.6-1 -7.7-1.2 -7.6-1.3 -7.7-1.4 -7.6-1.5 -7.7-1.7 -7.6-1.8 -7.7-1.9 -7.6-1.1 -7.7-.6 -7.6-.7 -7.7-.8 -7.6-1 -7.7-1.1 -7.6-1.2 -7.7-1.4 -7.6-1.6 -7.7-1.8 -7.6-1.9 -7.7-2.2 -7.6-2.3 -7.7-2.6 -7.6-2.8 -7.7-3.1z"/>
<path fill="none" stroke="#000" stroke-width="0.8" stroke-linejoin="round" stroke-linecap="round" d="M526.4 128.3l7.6 1.8 7.7 1.7 7.6 1.5 7.7 1.4 7.6 1.3 7.7 1.2 7.6 1M528 129.7l7.7 1.8 7.6 1.6 7.7 1.4 7.6 1.4 7.7 1.2 7.6 1.1 7.6 .9M537.3 132.8l7.7 1.5 7.6 1.4 7.7 1.3 7.6 1.1 7.6 1.1 7.7 .9M546.6 135.6l7.7 1.3 7.6 1.2 7.6 1.1 7.7 1 7.6 .8M555.9 138.1l7.6 1.2 7.7 1 7.6 .9 7.7 .8M557.5 139.3l7.7 1.1 7.6 1 7.7 .8 7.6 .7M566.8 141.6l7.7 .9 7.6 .7 7.7 .7M576.1 143.5l7.7 .8 7.6 .6M577.8 144.6l7.6 .7 7.7 .5M587.1 146.4l7.6 .4"/>
<path fill="none" stroke="#000" stroke-width="0.9" stroke-linejoin="round" stroke-linecap="round" d="M388.7 96.8l7.6 3.4 7.7 3.1 7.6 2.8 7.7 2.6 7.6 2.3 7.7 2.2 7.6 1.9 7.7 1.8 7.6 1.6 7.7 1.4 7.6 1.2 7.7 1.1 7.6 1 7.7 .8 7.6 .7 7.7 .6 7.6 1.1 7.7 1.9M390.3 102.5l7.7 3.1 7.6 2.9 7.7 2.5 7.6 2.4 7.7 2.1 7.6 2 7.7 1.7 7.6 1.6 7.7 1.4 7.6 1.3 7.7 1.1 7.6 1 7.7 .8 7.6 .7 7.7 .6 7.6 .5 7.7 .4 7.6 1.1M392 108l7.6 2.8 7.7 2.6 7.6 2.4 7.7 2.1 7.6 2 7.7 1.7 7.6 1.6 7.7 1.4 7.6 1.3 7.7 1.1 7.6 1 7.7 .8 7.6 .7 7.7 .6 7.6 .5 7.7 .4 7.6 .3 7.7 .3 7.6 1.2M393.6 113.2l7.7 2.6 7.6 2.3 7.7 2.2 7.6 1.9 7.7 1.8 7.6 1.6 7.7 1.4 7.6 1.2 7.7 1.2 7.6 .9 7.7 .9 7.6 .7 7.7 .6 7.6 .5 7.7 .4 7.6 .4 7.7 .2 7.6 .1 7.7 .1 7.6 1.4M395.3 118.1l7.6 2.4 7.7 2.1 7.6 2 7.7 1.7 7.6 1.6 7.7 1.5 7.6 1.2 7.7 1.1 7.6 1 7.7 .9 7.6 .7 7.7 .6 7.6 .5 7.7 .5 7.6 .3 7.7 .2 7.6 .1 7.7 .1 7.6 0 7.7 .2 7.6 1.3M396.9 122.8l7.7 2.2 7.6 1.9 7.7 1.8 7.6 1.6 7.7 1.4 7.6 1.3 7.7 1.1 7.6 1 7.7 .9 7.6 .7 7.7 .6 7.6 .6 7.7 .4 7.6 .3 7.7 .2 7.6 .2 7.7 0 7.6 0 7.7-.1 7.6-.1 7.6 .5M398.6 127.3l7.6 2 7.7 1.8 7.6 1.6 7.7 1.4 7.6 1.3 7.7 1.1 7.6 1 7.7 .9 7.6 .7 7.7 .6 7.6 .5 7.7 .5 7.6 .3 7.7 .2 7.6 .2 7.7 .1 7.6 0 7.7-.1 7.6-.2 7.6-.2 7.7-.2 7.6 .8M400.2 131.6l7.7 1.8 7.6 1.6 7.7 1.4 7.6 1.3 7.7 1.2 7.6 1 7.7 .8 7.6 .8 7.7 .6 7.6 .5 7.7 .5 7.6 .3 7.7 .2 7.6 .2 7.7 .1 7.6 0 7.7-.1 7.6-.1 7.6-.2 7.7-.3 7.6-.3 7.7-.2 7.6 .8M401.9 135.8l7.6 1.6 7.7 1.4 7.6 1.3 7.7 1.1 7.6 1 7.7 .9 7.6 .8 7.7 .6 7.6 .5 7.7 .5 7.6 .3 7.7 .3 7.6 .1 7.7 .1 7.6 0 7.7-.1 7.6-.1 7.6-.2 7.7-.2 7.6-.3 7.7-.4 7.6-.4 7.7 0M403.5 139.7l7.7 1.5 7.6 1.2 7.7 1.2 7.6 1 7.7 .9 7.6 .7 7.7 .7 7.6 .5 7.7 .5 7.6 .3 7.7 .3 7.6 .1 7.7 .1 7.6 0 7.7 0 7.6-.1 7.6-.2 7.7-.3 7.6-.3 7.7-.3 7.6-.4 7.7-.5 7.6-.5 7.7 .3M405.2 143.5l7.6 1.3 7.7 1.1 7.6 1.1 7.7 .8 7.6 .8 7.7 .7 7.6 .5 7.7 .4 7.6 .4 7.7 .3 7.6 .1 7.7 .1 7.6 0 7.7 0 7.6-.1 7.6-.2 7.7-.2 7.6-.3 7.7-.4 7.6-.4 7.7-.4 7.6-.5 7.7-.5 7.6-.6 7.7 .3M406.8 147.1l7.7 1.2 7.6 1 7.7 .9 7.6 .8 7.7 .6 7.6 .6 7.7 .4 7.6 .4 7.7 .2 7.6 .2 7.7 .1 7.6 .1 7.7-.1 7.6-.1 7.6-.2 7.7-.2 7.6-.3 7.7-.3 7.6-.4 7.7-.5 7.6-.4 7.7-.6 7.6-.5 7.7-.6 7.6-.5M408.5 150.6l7.6 1 7.7 .9 7.6 .8 7.7 .7 7.6 .5 7.7 .5 7.6 .4 7.7 .2 7.6 .2 7.7 .1 7.6 .1 7.7-.1 7.6-.1 7.6-.1 7.7-.3 7.6-.3 7.7-.3 7.6-.4 7.7-.4 7.6-.5 7.7-.5 7.6-.6 7.7-.5 7.6-.7 7.7-.6M410.1 154l7.7 .9 7.6 .8 7.7 .6 7.6 .6 7.7 .5 7.6 .3 7.7 .3 7.6 .2 7.7 .1 7.6 .1 7.7-.1 7.6-.1 7.6-.1 7.7-.2 7.6-.3 7.7-.4 7.6-.3 7.7-.5 7.6-.4 7.7-.5 7.6-.6 7.7-.6 7.6-.6 7.7-.7 7.6-.6M411.8 157.2l7.6 .8 7.7 .7 7.6 .5 7.7 .5 7.6 .4 7.7 .3 7.6 .2 7.7 .1 7.6 .1 7.7-.1 7.6-.1 7.6-.1 7.7-.2 7.6-.3 7.7-.3 7.6-.4 7.7-.4 7.6-.5 7.7-.5 7.6-.5 7.7-.6 7.6-.6 7.7-.7 7.6-.7 7.7-.7M413.4 160.3l7.7 .7 7.6 .6 7.7 .5 7.6 .3 7.7 .3 7.6 .2 7.7 .2 7.6 0 7.7 0 7.6-.1 7.6-.1 7.7-.2 7.6-.3 7.7-.3 7.6-.4 7.7-.4 7.6-.4 7.7-.5 7.6-.6 7.7-.6 7.6-.6 7.7-.6 7.6-.7 7.7-.7 7.6-.7M415.1 163.3l7.6 .6 7.7 .5 7.6 .4 7.7 .3 7.6 .2 7.7 .1 7.6 .1 7.7 0 7.6-.1 7.6-.1 7.7-.2 7.6-.3 7.7-.3 7.6-.3 7.7-.4 7.6-.5 7.7-.5 7.6-.5 7.7-.6 7.6-.6 7.7-.6 7.6-.7 7.7-.7 7.6-.7 7.7-.8M416.7 166.2l7.7 .5 7.6 .4 7.7 .3 7.6 .3 7.7 .1 7.6 .1 7.7 0 7.6-.1 7.6-.1 7.7-.2 7.6-.3 7.7-.3 7.6-.3 7.7-.4 7.6-.5 7.7-.5 7.6-.5 7.7-.5 7.6-.6 7.7-.7 7.6-.6 7.7-.7 7.6-.8 7.7-.7 7.6-.8M418.4 169l7.6 .4 7.7 .3 7.6 .3 7.7 .1 7.6 .1 7.7 0 7.6 0 7.6-.1 7.7-.2 7.6-.3 7.7-.3 7.6-.3 7.7-.4 7.6-.4 7.7-.5 7.6-.5 7.7-.6 7.6-.6 7.7-.6 7.6-.7 7.7-.7 7.6-.7 7.7-.7 7.6-.8 7.7-.8M420 171.7l7.7 .4 7.6 .2 7.7 .2 7.6 .1 7.7 0 7.6-.1 7.6-.1 7.7-.2 7.6-.2 7.7-.3 7.6-.3 7.7-.4 7.6-.4 7.7-.5 7.6-.5 7.7-.6 7.6-.6 7.7-.6 7.6-.6 7.7-.7 7.6-.7 7.7-.8 7.6-.7 7.7-.8 7.6-.8M421.7 174.4l7.6 .2 7.7 .2 7.6 .1 7.7 0 7.6 0 7.6-.1 7.7-.2 7.6-.2 7.7-.3 7.6-.3 7.7-.4 7.6-.4 7.7-.5 7.6-.5 7.7-.5 7.6-.6 7.7-.6 7.6-.7 7.7-.7 7.6-.7 7.7-.7 7.6-.8 7.7-.7 7.6-.9 7.7-.8M423.3 176.9l7.7 .2 7.6 .1 7.7 0 7.6 0 7.6-.1 7.7-.1 7.6-.2 7.7-.3 7.6-.3 7.7-.4 7.6-.4 7.7-.5 7.6-.5 7.7-.5 7.6-.6 7.7-.6 7.6-.6 7.7-.7 7.6-.7 7.7-.7 7.6-.8 7.7-.8 7.6-.8 7.7-.8 7.6-.9M425 179.4l7.6 .1 7.7 .1 7.6-.1 7.6 0 7.7-.2 7.6-.2 7.7-.3 7.6-.3 7.7-.3 7.6-.4 7.7-.5 7.6-.5 7.7-.5 7.6-.6 7.7-.6 7.6-.6 7.7-.7 7.6-.7 7.7-.7 7.6-.7 7.7-.8 7.6-.8 7.7-.8 7.6-.9 7.7-.8M426.6 181.8l7.7 .1 7.6-.1 7.6 0 7.7-.2 7.6-.2 7.7-.2 7.6-.3 7.7-.3 7.6-.4 7.7-.5 7.6-.5 7.7-.5 7.6-.6 7.7-.5 7.6-.7 7.7-.6 7.6-.7 7.7-.7 7.6-.8 7.7-.7 7.6-.8 7.7-.9 7.6-.8 7.7-.8 7.6-.9M428.3 184.1l7.6 0 7.6 0 7.7-.1 7.6-.2 7.7-.3 7.6-.3 7.7-.3 7.6-.4 7.7-.4 7.6-.5 7.7-.5 7.6-.5 7.7-.6 7.6-.7 7.7-.6 7.6-.7 7.7-.7 7.6-.7 7.7-.8 7.6-.8 7.7-.8 7.6-.8 7.7-.9 7.6-.8 7.7-.9M429.9 186.4l7.6 0 7.7-.1 7.6-.2 7.7-.2 7.6-.3 7.7-.3 7.6-.4 7.7-.4 7.6-.5 7.7-.5 7.6-.6 7.7-.5 7.6-.6 7.7-.7 7.6-.7 7.7-.7 7.6-.7 7.7-.7 7.6-.8 7.7-.8 7.6-.9 7.7-.8 7.6-.9 7.7-.8 7.6-.9M431.5 188.6l7.7 0 7.6-.2 7.7-.2 7.6-.3 7.7-.3 7.6-.4 7.7-.4 7.6-.4 7.7-.5 7.6-.6 7.7-.5 7.6-.6 7.7-.7 7.6-.6 7.7-.7 7.6-.8 7.7-.7 7.6-.8 7.7-.8 7.6-.8 7.7-.8 7.6-.9 7.7-.9 7.6-.9 7.6-.9M433.2 190.8l7.6-.1 7.7-.2 7.6-.3 7.7-.3 7.6-.3 7.7-.4 7.6-.5 7.7-.5 7.6-.5 7.7-.6 7.6-.5 7.7-.7 7.6-.6 7.7-.7 7.6-.7 7.7-.8 7.6-.7 7.7-.8 7.6-.8 7.7-.9 7.6-.8 7.7-.9 7.6-.9 7.6-.9 7.7-.9M434.8 192.9l7.7-.1 7.6-.3 7.7-.3 7.6-.3 7.7-.4 7.6-.4 7.7-.5 7.6-.5 7.7-.6 7.6-.6 7.7-.6 7.6-.6 7.7-.7 7.6-.7 7.7-.7 7.6-.8 7.7-.8 7.6-.8 7.7-.8 7.6-.9 7.7-.8 7.6-.9 7.6-.9 7.7-.9 7.6-1M436.5 195l7.6-.2 7.7-.3 7.6-.3 7.7-.4 7.6-.4 7.7-.5 7.6-.5 7.7-.5 7.6-.6 7.7-.6 7.6-.6 7.7-.7 7.6-.7 7.7-.7 7.6-.8 7.7-.8 7.6-.8 7.7-.8 7.6-.8 7.7-.9 7.6-.8 7.6-.9 7.7-1 7.6-.9 7.7-.9M438.1 197.1l7.7-.3 7.6-.3 7.7-.4 7.6-.4 7.7-.4 7.6-.5 7.7-.6 7.6-.5 7.7-.6 7.6-.7 7.7-.6 7.6-.7 7.7-.7 7.6-.8 7.7-.7 7.6-.8 7.7-.8 7.6-.9 7.7-.8 7.6-.9 7.6-.9 7.7-.9 7.6-.9 7.7-.9 7.6-1M439.8 199.1l7.6-.4 7.7-.3 7.6-.4 7.7-.4 7.6-.5 7.7-.5 7.6-.6 7.7-.6 7.6-.6 7.7-.6 7.6-.7 7.7-.7 7.6-.8 7.7-.7 7.6-.8 7.7-.8 7.6-.8 7.7-.9 7.6-.8 7.6-.9 7.7-.9 7.6-.9 7.7-1 7.6-.9 7.7-1M441.4 201l7.7-.3 7.6-.4 7.7-.4 7.6-.5 7.7-.5 7.6-.5 7.7-.6 7.6-.6 7.7-.7 7.6-.6 7.7-.7 7.6-.8 7.7-.7 7.6-.8 7.7-.8 7.6-.8 7.7-.8 7.6-.9 7.6-.9 7.7-.9 7.6-.9 7.7-.9 7.6-.9 7.7-1 7.6-.9M443.1 202.9l7.6-.3 7.7-.5 7.6-.4 7.7-.5 7.6-.5 7.7-.6 7.6-.6 7.7-.6 7.6-.7 7.7-.7 7.6-.7 7.7-.7 7.6-.8 7.7-.8 7.6-.8 7.7-.8 7.6-.9 7.6-.8 7.7-.9 7.6-.9 7.7-.9 7.6-1 7.7-.9 7.6-1 7.7-.9M444.7 204.8l7.7-.4 7.6-.4 7.7-.5 7.6-.5 7.7-.6 7.6-.6 7.7-.6 7.6-.6 7.7-.7 7.6-.7 7.7-.7 7.6-.8 7.7-.8 7.6-.8 7.7-.8 7.6-.8 7.6-.9 7.7-.9 7.6-.9 7.7-.9 7.6-.9 7.7-.9 7.6-1 7.7-1 7.6-.9M446.4 206.7l7.6-.5 7.7-.4 7.6-.5 7.7-.6 7.6-.5 7.7-.6 7.6-.7 7.7-.6 7.6-.7 7.7-.8 7.6-.7 7.7-.8 7.6-.8 7.7-.8 7.6-.8 7.6-.9 7.7-.8 7.6-.9 7.7-.9 7.6-.9 7.7-1 7.6-.9 7.7-1 7.6-1 7.7-1M448 208.5l7.7-.5 7.6-.4 7.7-.6 7.6-.5 7.7-.6 7.6-.6 7.7-.7 7.6-.7 7.7-.7 7.6-.7 7.7-.8 7.6-.8 7.7-.8 7.6-.8 7.6-.8 7.7-.9 7.6-.9 7.7-.9 7.6-.9 7.7-.9 7.6-1 7.7-.9 7.6-1 7.7-1 7.6-1M449.7 210.3l7.6-.5 7.7-.5 7.6-.5 7.7-.6 7.6-.6 7.7-.7 7.6-.6 7.7-.7 7.6-.8 7.7-.7 7.6-.8 7.7-.8 7.6-.8 7.6-.8 7.7-.9 7.6-.9 7.7-.9 7.6-.9 7.7-.9 7.6-.9 7.7-1 7.6-.9 7.7-1 7.6-1 7.7-1M451.3 212.1l7.7-.5 7.6-.6 7.7-.5 7.6-.6 7.7-.7 7.6-.6 7.7-.7 7.6-.7 7.7-.8 7.6-.7 7.7-.8 7.6-.8 7.6-.8 7.7-.9 7.6-.8 7.7-.9 7.6-.9 7.7-.9 7.6-1 7.7-.9 7.6-1 7.7-.9 7.6-1 7.7-1 7.6-1M453 213.8l7.6-.5 7.7-.6 7.6-.5 7.7-.7 7.6-.6 7.7-.7 7.6-.7 7.7-.7 7.6-.8 7.7-.7 7.6-.8 7.6-.8 7.7-.9 7.6-.8 7.7-.9 7.6-.9 7.7-.9 7.6-.9 7.7-1 7.6-.9 7.7-1 7.6-.9 7.7-1 7.6-1 7.7-1M454.6 215.5l7.7-.5 7.6-.6 7.7-.6 7.6-.6 7.7-.7 7.6-.7 7.7-.7 7.6-.7 7.7-.8 7.6-.8 7.6-.8 7.7-.8 7.6-.8 7.7-.9 7.6-.9 7.7-.9 7.6-.9 7.7-.9 7.6-1 7.7-.9 7.6-1 7.7-1 7.6-1 7.7-1 7.6-1M456.3 217.2l7.6-.5 7.7-.6 7.6-.6 7.7-.7 7.6-.6 7.7-.7 7.6-.8 7.7-.7 7.6-.8 7.6-.8 7.7-.8 7.6-.9 7.7-.8 7.6-.9 7.7-.9 7.6-.9 7.7-.9 7.6-.9 7.7-1 7.6-.9 7.7-1 7.6-1 7.7-1 7.6-1 7.7-1M457.9 218.9l7.7-.5 7.6-.6 7.7-.7 7.6-.6 7.7-.7 7.6-.8 7.7-.7 7.6-.8 7.6-.7 7.7-.8 7.6-.9 7.7-.8 7.6-.9 7.7-.9 7.6-.9 7.7-.9 7.6-.9 7.7-.9 7.6-1 7.7-1 7.6-.9 7.7-1 7.6-1 7.7-1 7.6-1.1M459.6 220.6l7.6-.6 7.7-.6 7.6-.7 7.7-.6 7.6-.7 7.7-.8 7.6-.7 7.6-.8 7.7-.8 7.6-.8 7.7-.8 7.6-.9 7.7-.9 7.6-.9 7.7-.9 7.6-.9 7.7-.9 7.6-1 7.7-.9 7.6-1 7.7-1 7.6-1 7.7-1 7.6-1 7.7-1M461.2 222.2l7.7-.6 7.6-.6 7.7-.7 7.6-.6 7.7-.8 7.6-.7 7.6-.8 7.7-.7 7.6-.9 7.7-.8 7.6-.8 7.7-.9 7.6-.9 7.7-.9 7.6-.9 7.7-.9 7.6-.9 7.7-1 7.6-.9 7.7-1 7.6-1 7.7-1 7.6-1 7.7-1 7.6-1.1M462.9 223.9l7.6-.6 7.7-.7 7.6-.7 7.7-.7 7.6-.7 7.6-.7 7.7-.8 7.6-.8 7.7-.8 7.6-.9 7.7-.8 7.6-.9 7.7-.9 7.6-.9 7.7-.9 7.6-.9 7.7-1 7.6-.9 7.7-1 7.6-1 7.7-1 7.6-1 7.7-1 7.6-1 7.7-1M464.5 225.5l7.7-.6 7.6-.7 7.7-.7 7.6-.7 7.6-.7 7.7-.8 7.6-.8 7.7-.8 7.6-.8 7.7-.8 7.6-.9 7.7-.9 7.6-.9 7.7-.9 7.6-.9 7.7-.9 7.6-1 7.7-.9 7.6-1 7.7-1 7.6-1 7.7-1 7.6-1 7.7-1 7.6-1.1M466.2 227.1l7.6-.6 7.7-.7 7.6-.7 7.6-.7 7.7-.8 7.6-.8 7.7-.7 7.6-.9 7.7-.8 7.6-.8 7.7-.9 7.6-.9 7.7-.9 7.6-.9 7.7-.9 7.6-1 7.7-.9 7.6-1 7.7-1 7.6-1 7.7-1 7.6-1 7.7-1 7.6-1 7.7-1M467.8 228.7l7.7-.7 7.6-.6 7.6-.8 7.7-.7 7.6-.7 7.7-.8 7.6-.8 7.7-.8 7.6-.9 7.7-.8 7.6-.9 7.7-.9 7.6-.9 7.7-.9 7.6-1 7.7-.9 7.6-1 7.7-.9 7.6-1 7.7-1 7.6-1 7.7-1 7.6-1 7.7-1.1 7.6-1M469.5 230.3l7.6-.7 7.6-.7 7.7-.7 7.6-.8 7.7-.7 7.6-.8 7.7-.8 7.6-.8 7.7-.9 7.6-.8 7.7-.9 7.6-.9 7.7-.9 7.6-1 7.7-.9 7.6-.9 7.7-1 7.6-1 7.7-1 7.6-1 7.7-1 7.6-1 7.7-1 7.6-1 7.7-1.1M471.1 231.8l7.6-.6 7.7-.7 7.6-.8 7.7-.7 7.6-.8 7.7-.8 7.6-.8 7.7-.8 7.6-.9 7.7-.9 7.6-.8 7.7-.9 7.6-1 7.7-.9 7.6-.9 7.7-1 7.6-1 7.7-.9 7.6-1 7.7-1 7.6-1 7.7-1 7.6-1.1 7.7-1 7.6-1.1"/>
<path fill="none" stroke="#000" stroke-width="1.0" stroke-linejoin="round" stroke-linecap="round" d="M388.7 96.8l1.6 5.7 1.7 5.5 1.6 5.2 1.7 4.9 1.6 4.7 1.7 4.5 1.6 4.3 1.7 4.2 1.6 3.9 1.7 3.8 1.6 3.6 1.7 3.5 1.6 3.4 1.7 3.2 1.6 3.1 1.7 3 1.6 2.9 1.7 2.8 1.6 2.7 1.7 2.7 1.6 2.5 1.7 2.5 1.6 2.4 1.7 2.3 1.6 2.3 1.6 2.2 1.7 2.2 1.6 2.1 1.7 2.1 1.6 2.1 1.7 2 1.6 1.9 1.7 1.9 1.6 1.9 1.7 1.9 1.6 1.8 1.7 1.8 1.6 1.8 1.7 1.7 1.6 1.7 1.7 1.7 1.6 1.7 1.7 1.7 1.6 1.6 1.7 1.7 1.6 1.6 1.7 1.6 1.6 1.6 1.7 1.6 1.6 1.5M396.3 100.2l1.7 5.4 1.6 5.2 1.7 5 1.6 4.7 1.7 4.5 1.6 4.3 1.7 4.1 1.6 4 1.7 3.8 1.6 3.6 1.7 3.5 1.6 3.3 1.7 3.3 1.6 3.1 1.7 3 1.6 2.9 1.7 2.8 1.6 2.7 1.7 2.7 1.6 2.5 1.7 2.5 1.6 2.4 1.7 2.4 1.6 2.2 1.6 2.3 1.7 2.2 1.6 2.1 1.7 2.1 1.6 2 1.7 2 1.6 1.9 1.7 2 1.6 1.9 1.7 1.8 1.6 1.8 1.7 1.8 1.6 1.8 1.7 1.8 1.6 1.7 1.7 1.7 1.6 1.7 1.7 1.7 1.6 1.6 1.7 1.6 1.6 1.7 1.7 1.6 1.6 1.6 1.7 1.5 1.6 1.6 1.6 1.6M404 103.3l1.6 5.2 1.7 4.9 1.6 4.7 1.7 4.5 1.6 4.3 1.7 4.2 1.6 3.9 1.7 3.8 1.6 3.6 1.7 3.5 1.6 3.4 1.7 3.2 1.6 3.2 1.7 3 1.6 2.9 1.7 2.8 1.6 2.7 1.7 2.6 1.6 2.6 1.7 2.5 1.6 2.4 1.7 2.4 1.6 2.2 1.6 2.3 1.7 2.2 1.6 2.1 1.7 2.1 1.6 2 1.7 2 1.6 2 1.7 1.9 1.6 1.9 1.7 1.8 1.6 1.9 1.7 1.8 1.6 1.8 1.7 1.7 1.6 1.7 1.7 1.7 1.6 1.7 1.7 1.7 1.6 1.7 1.7 1.6 1.6 1.6 1.7 1.6 1.6 1.6 1.7 1.6 1.6 1.6 1.6 1.5 1.7 1.6M411.6 106.1l1.7 4.9 1.6 4.8 1.7 4.5 1.6 4.3 1.7 4.1 1.6 4 1.7 3.7 1.6 3.7 1.7 3.5 1.6 3.4 1.7 3.2 1.6 3.1 1.7 3 1.6 2.9 1.7 2.9 1.6 2.7 1.7 2.6 1.6 2.6 1.7 2.5 1.6 2.4 1.7 2.3 1.6 2.3 1.6 2.3 1.7 2.2 1.6 2.1 1.7 2.1 1.6 2 1.7 2 1.6 2 1.7 1.9 1.6 1.9 1.7 1.9 1.6 1.8 1.7 1.8 1.6 1.8 1.7 1.7 1.6 1.8 1.7 1.7 1.6 1.7 1.7 1.6 1.6 1.7 1.7 1.6 1.6 1.6 1.7 1.6 1.6 1.6 1.7 1.6 1.6 1.6 1.6 1.5 1.7 1.6 1.6 1.5M419.3 108.7l1.6 4.7 1.7 4.5 1.6 4.3 1.7 4.1 1.6 4 1.7 3.8 1.6 3.6 1.7 3.5 1.6 3.4 1.7 3.2 1.6 3.2 1.7 3 1.6 2.9 1.7 2.8 1.6 2.7 1.7 2.7 1.6 2.6 1.7 2.4 1.6 2.5 1.7 2.3 1.6 2.3 1.6 2.3 1.7 2.1 1.6 2.2 1.7 2.1 1.6 2 1.7 2 1.6 2 1.7 1.9 1.6 1.9 1.7 1.9 1.6 1.8 1.7 1.8 1.6 1.8 1.7 1.7 1.6 1.8 1.7 1.7 1.6 1.7 1.7 1.6 1.6 1.7 1.7 1.6 1.6 1.7 1.7 1.6 1.6 1.6 1.7 1.5 1.6 1.6 1.6 1.6 1.7 1.5 1.6 1.5 1.7 1.6M426.9 111l1.7 4.5 1.6 4.4 1.7 4.1 1.6 3.9 1.7 3.8 1.6 3.7 1.7 3.5 1.6 3.3 1.7 3.3 1.6 3.1 1.7 3 1.6 2.9 1.7 2.9 1.6 2.7 1.7 2.6 1.6 2.6 1.7 2.5 1.6 2.4 1.7 2.4 1.6 2.3 1.6 2.2 1.7 2.2 1.6 2.1 1.7 2.1 1.6 2.1 1.7 2 1.6 2 1.7 1.9 1.6 1.9 1.7 1.9 1.6 1.8 1.7 1.8 1.6 1.8 1.7 1.7 1.6 1.8 1.7 1.7 1.6 1.7 1.7 1.6 1.6 1.7 1.7 1.6 1.6 1.7 1.7 1.6 1.6 1.6 1.7 1.5 1.6 1.6 1.6 1.6 1.7 1.5 1.6 1.6 1.7 1.5 1.6 1.5M434.6 113.2l1.6 4.3 1.7 4.1 1.6 4 1.7 3.8 1.6 3.6 1.7 3.5 1.6 3.4 1.7 3.2 1.6 3.1 1.7 3.1 1.6 2.9 1.7 2.8 1.6 2.7 1.7 2.7 1.6 2.5 1.7 2.5 1.6 2.5 1.7 2.3 1.6 2.3 1.6 2.3 1.7 2.2 1.6 2.1 1.7 2.1 1.6 2 1.7 2.1 1.6 1.9 1.7 2 1.6 1.9 1.7 1.8 1.6 1.9 1.7 1.8 1.6 1.8 1.7 1.7 1.6 1.7 1.7 1.8 1.6 1.7 1.7 1.6 1.6 1.7 1.7 1.6 1.6 1.6 1.7 1.7 1.6 1.5 1.7 1.6 1.6 1.6 1.6 1.6 1.7 1.5 1.6 1.5 1.7 1.6 1.6 1.5 1.7 1.5M442.2 115.1l1.7 4.1 1.6 4 1.7 3.8 1.6 3.6 1.7 3.5 1.6 3.4 1.7 3.2 1.6 3.2 1.7 3 1.6 2.9 1.7 2.8 1.6 2.8 1.7 2.6 1.6 2.6 1.7 2.5 1.6 2.4 1.7 2.4 1.6 2.3 1.6 2.2 1.7 2.2 1.6 2.2 1.7 2 1.6 2.1 1.7 2 1.6 2 1.7 1.9 1.6 1.9 1.7 1.9 1.6 1.8 1.7 1.8 1.6 1.8 1.7 1.8 1.6 1.7 1.7 1.7 1.6 1.7 1.7 1.7 1.6 1.7 1.7 1.6 1.6 1.6 1.7 1.6 1.6 1.6 1.7 1.6 1.6 1.6 1.6 1.5 1.7 1.6 1.6 1.5 1.7 1.6 1.6 1.5 1.7 1.5 1.6 1.5M449.9 116.9l1.6 3.9 1.7 3.8 1.6 3.6 1.7 3.5 1.6 3.4 1.7 3.3 1.6 3.1 1.7 3 1.6 2.9 1.7 2.8 1.6 2.8 1.7 2.6 1.6 2.6 1.7 2.5 1.6 2.4 1.7 2.4 1.6 2.3 1.6 2.3 1.7 2.1 1.6 2.2 1.7 2.1 1.6 2 1.7 2.1 1.6 1.9 1.7 2 1.6 1.9 1.7 1.8 1.6 1.9 1.7 1.8 1.6 1.8 1.7 1.7 1.6 1.8 1.7 1.7 1.6 1.7 1.7 1.7 1.6 1.6 1.7 1.7 1.6 1.6 1.7 1.6 1.6 1.6 1.7 1.6 1.6 1.5 1.6 1.6 1.7 1.6 1.6 1.5 1.7 1.5 1.6 1.5 1.7 1.6 1.6 1.5 1.7 1.5M457.5 118.5l1.7 3.7 1.6 3.7 1.7 3.5 1.6 3.3 1.7 3.3 1.6 3.1 1.7 3 1.6 2.9 1.7 2.9 1.6 2.7 1.7 2.6 1.6 2.6 1.7 2.5 1.6 2.5 1.7 2.3 1.6 2.3 1.6 2.3 1.7 2.2 1.6 2.1 1.7 2.1 1.6 2.1 1.7 2 1.6 2 1.7 1.9 1.6 1.9 1.7 1.9 1.6 1.8 1.7 1.8 1.6 1.8 1.7 1.8 1.6 1.7 1.7 1.7 1.6 1.7 1.7 1.7 1.6 1.7 1.7 1.6 1.6 1.6 1.7 1.6 1.6 1.6 1.7 1.6 1.6 1.6 1.6 1.6 1.7 1.5 1.6 1.5 1.7 1.6 1.6 1.5 1.7 1.5 1.6 1.5 1.7 1.5 1.6 1.5M465.2 119.9l1.6 3.6 1.7 3.5 1.6 3.3 1.7 3.3 1.6 3.1 1.7 3 1.6 2.9 1.7 2.9 1.6 2.7 1.7 2.7 1.6 2.5 1.7 2.5 1.6 2.5 1.7 2.3 1.6 2.3 1.6 2.3 1.7 2.2 1.6 2.1 1.7 2.1 1.6 2.1 1.7 2 1.6 2 1.7 1.9 1.6 1.9 1.7 1.9 1.6 1.8 1.7 1.8 1.6 1.8 1.7 1.8 1.6 1.7 1.7 1.8 1.6 1.7 1.7 1.6 1.6 1.7 1.7 1.6 1.6 1.7 1.7 1.6 1.6 1.6 1.7 1.6 1.6 1.5 1.6 1.6 1.7 1.6 1.6 1.5 1.7 1.5 1.6 1.5 1.7 1.6 1.6 1.5 1.7 1.5 1.6 1.5 1.7 1.4M472.8 121.1l1.7 3.5 1.6 3.4 1.7 3.2 1.6 3.1 1.7 3 1.6 2.9 1.7 2.9 1.6 2.7 1.7 2.7 1.6 2.5 1.7 2.5 1.6 2.5 1.7 2.3 1.6 2.3 1.6 2.3 1.7 2.2 1.6 2.1 1.7 2.1 1.6 2.1 1.7 2 1.6 2 1.7 1.9 1.6 1.9 1.7 1.9 1.6 1.8 1.7 1.9 1.6 1.8 1.7 1.7 1.6 1.8 1.7 1.7 1.6 1.7 1.7 1.7 1.6 1.6 1.7 1.7 1.6 1.6 1.7 1.6 1.6 1.6 1.7 1.6 1.6 1.6 1.6 1.5 1.7 1.6 1.6 1.5 1.7 1.6 1.6 1.5 1.7 1.5 1.6 1.5 1.7 1.5 1.6 1.5 1.7 1.5 1.6 1.5M480.5 122.2l1.6 3.4 1.7 3.2 1.6 3.1 1.7 3 1.6 3 1.7 2.8 1.6 2.7 1.7 2.7 1.6 2.5 1.7 2.5 1.6 2.5 1.7 2.3 1.6 2.3 1.6 2.3 1.7 2.2 1.6 2.1 1.7 2.1 1.6 2.1 1.7 2 1.6 2 1.7 1.9 1.6 1.9 1.7 1.9 1.6 1.9 1.7 1.8 1.6 1.8 1.7 1.7 1.6 1.8 1.7 1.7 1.6 1.7 1.7 1.7 1.6 1.6 1.7 1.7 1.6 1.6 1.7 1.6 1.6 1.6 1.7 1.6 1.6 1.6 1.6 1.6 1.7 1.5 1.6 1.5 1.7 1.6 1.6 1.5 1.7 1.5 1.6 1.5 1.7 1.5 1.6 1.5 1.7 1.5 1.6 1.5 1.7 1.5M488.1 123.2l1.7 3.2 1.6 3.1 1.7 3 1.6 2.9 1.7 2.9 1.6 2.7 1.7 2.6 1.6 2.6 1.7 2.5 1.6 2.4 1.7 2.4 1.6 2.3 1.6 2.3 1.7 2.2 1.6 2.1 1.7 2.1 1.6 2.1 1.7 2 1.6 2 1.7 1.9 1.6 1.9 1.7 1.9 1.6 1.8 1.7 1.9 1.6 1.8 1.7 1.7 1.6 1.8 1.7 1.7 1.6 1.7 1.7 1.7 1.6 1.6 1.7 1.7 1.6 1.6 1.7 1.6 1.6 1.6 1.7 1.6 1.6 1.6 1.6 1.6 1.7 1.5 1.6 1.6 1.7 1.5 1.6 1.5 1.7 1.5 1.6 1.5 1.7 1.5 1.6 1.5 1.7 1.5 1.6 1.5 1.7 1.5 1.6 1.4M495.8 124l1.6 3.1 1.7 3 1.6 2.9 1.7 2.9 1.6 2.7 1.7 2.6 1.6 2.6 1.7 2.5 1.6 2.4 1.7 2.4 1.6 2.3 1.6 2.3 1.7 2.2 1.6 2.1 1.7 2.1 1.6 2.1 1.7 2 1.6 2 1.7 1.9 1.6 1.9 1.7 1.9 1.6 1.8 1.7 1.9 1.6 1.7 1.7 1.8 1.6 1.8 1.7 1.7 1.6 1.7 1.7 1.7 1.6 1.6 1.7 1.7 1.6 1.6 1.7 1.6 1.6 1.6 1.7 1.6 1.6 1.6 1.6 1.6 1.7 1.5 1.6 1.6 1.7 1.5 1.6 1.5 1.7 1.5 1.6 1.5 1.7 1.5 1.6 1.5 1.7 1.5 1.6 1.5 1.7 1.5 1.6 1.4 1.7 1.5M503.4 124.7l1.7 3 1.6 2.9 1.7 2.8 1.6 2.8 1.7 2.6 1.6 2.6 1.7 2.5 1.6 2.4 1.7 2.4 1.6 2.3 1.6 2.2 1.7 2.2 1.6 2.2 1.7 2.1 1.6 2 1.7 2.1 1.6 1.9 1.7 2 1.6 1.9 1.7 1.9 1.6 1.8 1.7 1.8 1.6 1.8 1.7 1.8 1.6 1.7 1.7 1.8 1.6 1.7 1.7 1.7 1.6 1.6 1.7 1.7 1.6 1.6 1.7 1.6 1.6 1.6 1.7 1.6 1.6 1.6 1.6 1.6 1.7 1.5 1.6 1.6 1.7 1.5 1.6 1.5 1.7 1.5 1.6 1.5 1.7 1.5 1.6 1.5 1.7 1.5 1.6 1.5 1.7 1.5 1.6 1.4 1.7 1.5 1.6 1.5M511.1 125.3l1.6 2.9 1.7 2.8 1.6 2.8 1.7 2.6 1.6 2.6 1.7 2.5 1.6 2.4 1.7 2.3 1.6 2.4 1.6 2.2 1.7 2.2 1.6 2.1 1.7 2.1 1.6 2.1 1.7 2 1.6 2 1.7 1.9 1.6 2 1.7 1.8 1.6 1.9 1.7 1.8 1.6 1.8 1.7 1.8 1.6 1.7 1.7 1.7 1.6 1.7 1.7 1.7 1.6 1.7 1.7 1.6 1.6 1.7 1.7 1.6 1.6 1.6 1.7 1.6 1.6 1.6 1.6 1.5 1.7 1.6 1.6 1.5 1.7 1.6 1.6 1.5 1.7 1.5 1.6 1.5 1.7 1.5 1.6 1.5 1.7 1.5 1.6 1.5 1.7 1.5 1.6 1.4 1.7 1.5 1.6 1.5 1.7 1.4M518.7 126.4l1.7 2.2 1.6 2.7 1.7 2.7 1.6 2.5 1.7 2.5 1.6 2.5 1.7 2.3 1.6 2.3 1.6 2.3 1.7 2.2 1.6 2.1 1.7 2.1 1.6 2.1 1.7 2 1.6 2 1.7 1.9 1.6 1.9 1.7 1.9 1.6 1.8 1.7 1.9 1.6 1.8 1.7 1.7 1.6 1.8 1.7 1.7 1.6 1.7 1.7 1.7 1.6 1.7 1.7 1.6 1.6 1.6 1.7 1.7 1.6 1.6 1.7 1.6 1.6 1.5 1.6 1.6 1.7 1.6 1.6 1.5 1.7 1.5 1.6 1.6 1.7 1.5 1.6 1.5 1.7 1.5 1.6 1.5 1.7 1.5 1.6 1.5 1.7 1.4 1.6 1.5 1.7 1.5 1.6 1.4 1.7 1.5 1.6 1.4M526.4 128.3l1.6 1.4 1.7 1.9 1.6 2.5 1.7 2.5 1.6 2.4 1.7 2.4 1.6 2.3 1.6 2.2 1.7 2.2 1.6 2.2 1.7 2.1 1.6 2 1.7 2 1.6 2 1.7 2 1.6 1.9 1.7 1.9 1.6 1.8 1.7 1.8 1.6 1.8 1.7 1.8 1.6 1.7 1.7 1.8 1.6 1.7 1.7 1.7 1.6 1.6 1.7 1.7 1.6 1.6 1.7 1.6 1.6 1.6 1.7 1.6 1.6 1.6 1.6 1.6 1.7 1.5 1.6 1.6 1.7 1.5 1.6 1.5 1.7 1.6 1.6 1.5 1.7 1.5 1.6 1.5 1.7 1.5 1.6 1.4 1.7 1.5 1.6 1.5 1.7 1.5 1.6 1.4 1.7 1.5 1.6 1.4 1.7 1.5M534 130.1l1.7 1.4 1.6 1.3 1.7 1.4 1.6 2.4 1.7 2.3 1.6 2.3 1.6 2.3 1.7 2.2 1.6 2.1 1.7 2.1 1.6 2.1 1.7 2 1.6 2 1.7 1.9 1.6 1.9 1.7 1.9 1.6 1.9 1.7 1.8 1.6 1.8 1.7 1.7 1.6 1.8 1.7 1.7 1.6 1.7 1.7 1.7 1.6 1.7 1.7 1.6 1.6 1.7 1.7 1.6 1.6 1.6 1.7 1.6 1.6 1.6 1.6 1.5 1.7 1.6 1.6 1.5 1.7 1.6 1.6 1.5 1.7 1.5 1.6 1.5 1.7 1.5 1.6 1.5 1.7 1.5 1.6 1.5 1.7 1.5 1.6 1.5 1.7 1.4 1.6 1.5 1.7 1.4 1.6 1.5 1.7 1.4 1.6 1.5M541.7 131.8l1.6 1.3 1.7 1.2 1.6 1.3 1.7 1.2 1.6 2 1.6 2.2 1.7 2.2 1.6 2.2 1.7 2.1 1.6 2 1.7 2 1.6 2 1.7 2 1.6 1.9 1.7 1.8 1.6 1.9 1.7 1.8 1.6 1.8 1.7 1.8 1.6 1.7 1.7 1.8 1.6 1.7 1.7 1.7 1.6 1.6 1.7 1.7 1.6 1.6 1.7 1.6 1.6 1.6 1.7 1.6 1.6 1.6 1.6 1.6 1.7 1.5 1.6 1.6 1.7 1.5 1.6 1.6 1.7 1.5 1.6 1.5 1.7 1.5 1.6 1.5 1.7 1.5 1.6 1.5 1.7 1.4 1.6 1.5 1.7 1.5 1.6 1.4 1.7 1.5 1.6 1.4 1.7 1.5 1.6 1.4 1.7 1.5M549.3 133.3l1.7 1.2 1.6 1.2 1.7 1.2 1.6 1.2 1.6 1.2 1.7 1.5 1.6 2.1 1.7 2.1 1.6 2.1 1.7 2 1.6 2 1.7 1.9 1.6 1.9 1.7 1.9 1.6 1.8 1.7 1.9 1.6 1.8 1.7 1.7 1.6 1.8 1.7 1.7 1.6 1.7 1.7 1.7 1.6 1.7 1.7 1.6 1.6 1.6 1.7 1.7 1.6 1.6 1.7 1.6 1.6 1.6 1.6 1.5 1.7 1.6 1.6 1.5 1.7 1.6 1.6 1.5 1.7 1.5 1.6 1.5 1.7 1.5 1.6 1.5 1.7 1.5 1.6 1.5 1.7 1.5 1.6 1.5 1.7 1.4 1.6 1.5 1.7 1.4 1.6 1.5 1.7 1.4 1.6 1.5 1.7 1.4 1.6 1.5M557 134.7l1.6 1.2 1.7 1.1 1.6 1.1 1.6 1.2 1.7 1.1 1.6 1.2 1.7 1.1 1.6 1.9 1.7 2 1.6 2 1.7 1.9 1.6 1.9 1.7 1.9 1.6 1.9 1.7 1.8 1.6 1.8 1.7 1.8 1.6 1.7 1.7 1.7 1.6 1.7 1.7 1.7 1.6 1.7 1.7 1.6 1.6 1.7 1.7 1.6 1.6 1.6 1.7 1.6 1.6 1.6 1.6 1.6 1.7 1.5 1.6 1.6 1.7 1.5 1.6 1.5 1.7 1.6 1.6 1.5 1.7 1.5 1.6 1.5 1.7 1.5 1.6 1.5 1.7 1.4 1.6 1.5 1.7 1.5 1.6 1.4 1.7 1.5 1.6 1.4 1.7 1.5 1.6 1.4 1.7 1.5 1.6 1.4 1.7 1.5M564.6 136l1.7 1.1 1.6 1 1.6 1.1 1.7 1.1 1.6 1.1 1.7 1.1 1.6 1 1.7 1.1 1.6 1.5 1.7 2 1.6 1.9 1.7 1.9 1.6 1.8 1.7 1.8 1.6 1.8 1.7 1.8 1.6 1.7 1.7 1.8 1.6 1.7 1.7 1.7 1.6 1.6 1.7 1.7 1.6 1.6 1.7 1.6 1.6 1.6 1.7 1.6 1.6 1.6 1.6 1.6 1.7 1.5 1.6 1.6 1.7 1.5 1.6 1.6 1.7 1.5 1.6 1.5 1.7 1.5 1.6 1.5 1.7 1.5 1.6 1.5 1.7 1.5 1.6 1.4 1.7 1.5 1.6 1.5 1.7 1.4 1.6 1.5 1.7 1.4 1.6 1.5 1.7 1.4 1.6 1.5 1.7 1.4 1.6 1.4M572.3 137.2l1.6 1 1.6 1 1.7 1 1.6 1 1.7 1 1.6 1 1.7 1.1 1.6 1 1.7 1.1 1.6 1.1 1.7 1.9 1.6 1.8 1.7 1.8 1.6 1.8 1.7 1.8 1.6 1.8 1.7 1.7 1.6 1.7 1.7 1.7 1.6 1.6 1.7 1.7 1.6 1.6 1.7 1.7 1.6 1.6 1.7 1.6 1.6 1.5 1.6 1.6 1.7 1.6 1.6 1.5 1.7 1.6 1.6 1.5 1.7 1.5 1.6 1.5 1.7 1.5 1.6 1.5 1.7 1.5 1.6 1.5 1.7 1.5 1.6 1.5 1.7 1.4 1.6 1.5 1.7 1.5 1.6 1.4 1.7 1.5 1.6 1.4 1.7 1.5 1.6 1.4 1.7 1.4 1.6 1.5 1.7 1.4M579.9 138.2l1.6 .9 1.7 1 1.6 .9 1.7 1 1.6 .9 1.7 1 1.6 1 1.7 .9 1.6 1 1.7 1 1.6 1.1 1.7 1.7 1.6 1.8 1.7 1.7 1.6 1.8 1.7 1.7 1.6 1.7 1.7 1.7 1.6 1.7 1.7 1.6 1.6 1.6 1.7 1.7 1.6 1.6 1.7 1.6 1.6 1.6 1.6 1.5 1.7 1.6 1.6 1.5 1.7 1.6 1.6 1.5 1.7 1.5 1.6 1.6 1.7 1.5 1.6 1.5 1.7 1.4 1.6 1.5 1.7 1.5 1.6 1.5 1.7 1.5 1.6 1.4 1.7 1.5 1.6 1.4 1.7 1.5 1.6 1.4 1.7 1.5 1.6 1.4 1.7 1.5 1.6 1.4 1.7 1.4 1.6 1.4"/>
<path fill="rgb(0,0,188)" stroke="rgb(0,0,188)" stroke-width=".5" d="M572.3 135.8l1.6 1 7.6 1 -1.6-.9z"/>
<path fill="rgb(0,0,191)" stroke="rgb(0,0,191)" stroke-width=".5" d="M573.9 136.8l1.6 1 7.7 .9 -1.7-.9z"/>
<path fill="rgb(0,0,195)" stroke="rgb(0,0,195)" stroke-width=".5" d="M575.5 137.8l1.7 1 7.6 .9 -1.6-1z"/>
<path fill="rgb(0,0,199)" stroke="rgb(0,0,199)" stroke-width=".5" d="M577.2 138.8l1.6 1 7.7 .8 -1.7-.9z"/>
<path fill="rgb(0,0,202)" stroke="rgb(0,0,202)" stroke-width=".5" d="M578.8 139.8l1.7 1.1 7.6 .7 -1.6-1z"/>
<path fill="rgb(0,0,206)" stroke="rgb(0,0,206)" stroke-width=".5" d="M580.5 140.9l1.6 1 7.7 .6 -1.7-.9z"/>
<path fill="rgb(0,0,209)" stroke="rgb(0,0,209)" stroke-width=".5" d="M582.1 141.9l1.7 1 7.6 .6 -1.6-1z"/>
<path fill="rgb(0,0,212)" stroke="rgb(0,0,212)" stroke-width=".5" d="M583.8 142.9l1.6 1.1 7.7 .5 -1.7-1z"/>
<path fill="rgb(0,0,215)" stroke="rgb(0,0,215)" stroke-width=".5" d="M585.4 144l1.7 1 7.6 .5 -1.6-1z"/>
<path fill="rgb(0,0,218)" stroke="rgb(0,0,218)" stroke-width=".5" d="M587.1 145l1.6 1.1 7.7 .4 -1.7-1z"/>
<path fill="rgb(0,0,222)" stroke="rgb(0,0,222)" stroke-width=".5" d="M588.7 146.1l1.7 1 7.6 .4 -1.6-1zM572.8 140l1.7 1.1 7.6 .8 -1.6-1z"/>
<path fill="rgb(0,0,225)" stroke="rgb(0,0,225)" stroke-width=".5" d="M590.4 147.1l1.6 1.1 7.7 .3 -1.7-1zM574.5 141.1l1.6 1.1 7.7 .7 -1.7-1z"/>
<path fill="rgb(0,0,227)" stroke="rgb(0,0,227)" stroke-width=".5" d="M592 148.2l1.7 1.1 7.6 .3 -1.6-1.1zM557 133.4l1.6 1.1 7.7 1.2 -1.7-1z"/>
<path fill="rgb(0,0,230)" stroke="rgb(0,0,230)" stroke-width=".5" d="M593.7 149.3l1.6 1.1 7.7 .2 -1.7-1zM577.8 143.3l1.6 1.1 7.7 .6 -1.7-1zM558.6 134.5l1.7 1.1 7.6 1.2 -1.6-1.1z"/>
<path fill="rgb(0,0,233)" stroke="rgb(0,0,233)" stroke-width=".5" d="M595.3 150.4l1.7 1.1 7.6 .2 -1.6-1.1zM579.4 144.4l1.7 1.1 7.6 .6 -1.6-1.1z"/>
<path fill="rgb(0,0,236)" stroke="rgb(0,0,236)" stroke-width=".5" d="M597 151.5l1.6 1.1 7.7 .1 -1.7-1zM581.1 145.5l1.6 1.1 7.7 .5 -1.7-1z"/>
<path fill="rgb(0,0,238)" stroke="rgb(0,0,238)" stroke-width=".5" d="M598.6 152.6l1.7 1.1 7.6 .1 -1.6-1.1zM582.7 146.6l1.7 1.1 7.6 .5 -1.6-1.1z"/>
<path fill="rgb(0,0,241)" stroke="rgb(0,0,241)" stroke-width=".5" d="M600.3 153.7l1.6 1.1 7.7 .1 -1.7-1.1zM584.4 147.7l1.6 1.2 7.7 .4 -1.7-1.1z"/>
<path fill="rgb(0,0,244)" stroke="rgb(0,0,244)" stroke-width=".5" d="M601.9 154.8l1.7 1.1 7.6 .1 -1.6-1.1zM568.5 141.4l1.6 1.1 7.7 .8 -1.7-1.1z"/>
<path fill="rgb(0,0,246)" stroke="rgb(0,0,246)" stroke-width=".5" d="M603.6 155.9l1.6 1.1 7.7 .1 -1.7-1.1zM587.7 150l1.6 1.1 7.7 .4 -1.7-1.1zM570.1 142.5l1.7 1.2 7.6 .7 -1.6-1.1z"/>
<path fill="rgb(0,0,248)" stroke="rgb(0,0,248)" stroke-width=".5" d="M605.2 157l1.7 1.2 7.6 0 -1.6-1.1zM589.3 151.1l1.7 1.2 7.6 .3 -1.6-1.1zM549.3 132l1.7 1.2 7.6 1.3 -1.6-1.1z"/>
<path fill="rgb(0,0,251)" stroke="rgb(0,0,251)" stroke-width=".5" d="M606.9 158.2l1.6 1.1 7.7 0 -1.7-1.1zM573.4 144.8l1.7 1.2 7.6 .6 -1.6-1.1z"/>
<path fill="rgb(0,0,253)" stroke="rgb(0,0,253)" stroke-width=".5" d="M608.5 159.3l1.7 1.2 7.6-.1 -1.6-1.1zM592.6 153.4l1.7 1.2 7.6 .2 -1.6-1.1zM575.1 146l1.6 1.2 7.7 .5 -1.7-1.1z"/>
<path fill="rgb(0,0,255)" stroke="rgb(0,0,255)" stroke-width=".5" d="M610.2 160.5l1.6 1.1 7.7-.1 -1.7-1.1zM594.3 154.6l1.6 1.1 7.7 .2 -1.7-1.1zM576.7 147.2l1.7 1.1 7.6 .6 -1.6-1.2z"/>
<path fill="rgb(0,2,255)" stroke="rgb(0,2,255)" stroke-width=".5" d="M611.8 161.6l1.7 1.2 7.6-.1 -1.6-1.2zM595.9 155.7l1.7 1.2 7.6 .1 -1.6-1.1zM578.4 148.3l1.6 1.2 7.7 .5 -1.7-1.1z"/>
<path fill="rgb(0,4,255)" stroke="rgb(0,4,255)" stroke-width=".5" d="M613.5 162.8l1.6 1.2 7.6-.2 -1.6-1.1zM597.6 156.9l1.6 1.2 7.7 .1 -1.7-1.2zM580 149.5l1.7 1.2 7.6 .4 -1.6-1.1z"/>
<path fill="rgb(0,6,255)" stroke="rgb(0,6,255)" stroke-width=".5" d="M615.1 164l1.6 1.2 7.7-.2 -1.7-1.2zM599.2 158.1l1.7 1.1 7.6 .1 -1.6-1.1zM581.7 150.7l1.6 1.2 7.7 .4 -1.7-1.2z"/>
<path fill="rgb(0,8,255)" stroke="rgb(0,8,255)" stroke-width=".5" d="M616.7 165.2l1.7 1.1 7.6-.1 -1.6-1.2zM600.9 159.2l1.6 1.2 7.7 .1 -1.7-1.2zM583.3 151.9l1.7 1.1 7.6 .4 -1.6-1.1z"/>
<path fill="rgb(0,10,255)" stroke="rgb(0,10,255)" stroke-width=".5" d="M618.4 166.3l1.6 1.2 7.7-.2 -1.7-1.1zM602.5 160.4l1.7 1.2 7.6 0 -1.6-1.1zM585 153l1.6 1.2 7.7 .4 -1.7-1.2zM564.1 142.8l1.7 1.2 7.6 .8 -1.6-1.1z"/>
<path fill="rgb(0,11,255)" stroke="rgb(0,11,255)" stroke-width=".5" d="M620 167.5l1.7 1.2 7.6-.2 -1.6-1.2z"/>
<path fill="rgb(0,13,255)" stroke="rgb(0,13,255)" stroke-width=".5" d="M621.7 168.7l1.6 1.2 7.7-.2 -1.7-1.2z"/>
<path fill="rgb(0,15,255)" stroke="rgb(0,15,255)" stroke-width=".5" d="M623.3 169.9l1.7 1.3 7.6-.3 -1.6-1.2z"/>
<path fill="rgb(0,16,255)" stroke="rgb(0,16,255)" stroke-width=".5" d="M625 171.2l1.6 1.2 7.7-.2 -1.7-1.3zM607.5 164l1.6 1.2 7.6 0 -1.6-1.2zM589.9 156.6l1.7 1.2 7.6 .3 -1.6-1.2zM569.1 146.4l1.6 1.2 7.7 .7 -1.7-1.1zM541.7 130.5l1.6 1.2 7.7 1.5 -1.7-1.2z"/>
<path fill="rgb(0,18,255)" stroke="rgb(0,18,255)" stroke-width=".5" d="M626.6 172.4l1.7 1.2 7.6-.2 -1.6-1.2zM591.6 157.8l1.6 1.2 7.7 .2 -1.7-1.1z"/>
<path fill="rgb(0,19,255)" stroke="rgb(0,19,255)" stroke-width=".5" d="M628.3 173.6l1.6 1.3 7.7-.3 -1.7-1.2zM610.7 166.4l1.7 1.2 7.6-.1 -1.6-1.2zM593.2 159l1.7 1.2 7.6 .2 -1.6-1.2zM572.4 148.9l1.6 1.2 7.7 .6 -1.7-1.2zM545 133l1.6 1.2 7.7 1.4 -1.7-1.2z"/>
<path fill="rgb(0,20,255)" stroke="rgb(0,20,255)" stroke-width=".5" d="M629.9 174.9l1.7 1.2 7.6-.2 -1.6-1.3zM546.6 134.2l1.7 1.3 7.6 1.3 -1.6-1.2z"/>
<path fill="rgb(0,22,255)" stroke="rgb(0,22,255)" stroke-width=".5" d="M631.6 176.1l1.6 1.2 7.7-.2 -1.7-1.2zM614 168.8l1.7 1.2 7.6-.1 -1.6-1.2zM575.7 151.3l1.6 1.2 7.7 .5 -1.7-1.1z"/>
<path fill="rgb(0,23,255)" stroke="rgb(0,23,255)" stroke-width=".5" d="M633.2 177.3l1.7 1.3 7.6-.2 -1.6-1.3zM596.5 161.4l1.7 1.2 7.6 .2 -1.6-1.2zM549.9 136.7l1.6 1.3 7.7 1.2 -1.7-1.2z"/>
<path fill="rgb(0,24,255)" stroke="rgb(0,24,255)" stroke-width=".5" d="M634.9 178.6l1.6 1.3 7.7-.2 -1.7-1.3zM615.7 170l1.6 1.3 7.7-.1 -1.7-1.3zM598.2 162.6l1.6 1.3 7.7 .1 -1.7-1.2zM577.3 152.5l1.7 1.2 7.6 .5 -1.6-1.2zM551.5 138l1.7 1.2 7.6 1.2 -1.6-1.2z"/>
<path fill="rgb(0,25,255)" stroke="rgb(0,25,255)" stroke-width=".5" d="M636.5 179.9l1.7 1.2 7.6-.2 -1.6-1.2zM617.3 171.3l1.7 1.2 7.6-.1 -1.6-1.2z"/>
<path fill="rgb(0,26,255)" stroke="rgb(0,26,255)" stroke-width=".5" d="M638.2 181.1l1.6 1.3 7.7-.2 -1.7-1.3zM619 172.5l1.6 1.2 7.7-.1 -1.7-1.2zM599.8 163.9l1.7 1.2 7.6 .1 -1.6-1.2zM579 153.7l1.6 1.3 7.7 .4 -1.7-1.2zM553.2 139.2l1.6 1.3 7.7 1.1 -1.7-1.2z"/>
<path fill="rgb(0,27,255)" stroke="rgb(0,27,255)" stroke-width=".5" d="M639.8 182.4l1.7 1.3 7.6-.2 -1.6-1.3zM580.6 155l1.7 1.2 7.6 .4 -1.6-1.2zM554.8 140.5l1.7 1.3 7.6 1 -1.6-1.2z"/>
<path fill="rgb(0,28,255)" stroke="rgb(0,28,255)" stroke-width=".5" d="M641.5 183.7l1.6 1.3 7.7-.2 -1.7-1.3zM620.6 173.7l1.7 1.3 7.6-.1 -1.6-1.3zM601.5 165.1l1.6 1.2 7.6 .1 -1.6-1.2zM556.5 141.8l1.6 1.2 7.7 1 -1.7-1.2z"/>
<path fill="rgb(0,29,255)" stroke="rgb(0,29,255)" stroke-width=".5" d="M643.1 185l1.7 1.3 7.6-.1 -1.6-1.4zM644.8 186.3l1.6 1.3 7.7-.1 -1.7-1.3zM622.3 175l1.6 1.2 7.7-.1 -1.7-1.2zM603.1 166.3l1.6 1.2 7.7 .1 -1.7-1.2zM582.3 156.2l1.6 1.2 7.7 .4 -1.7-1.2z"/>
<path fill="rgb(0,30,255)" stroke="rgb(0,30,255)" stroke-width=".5" d="M646.4 187.6l1.7 1.3 7.6-.1 -1.6-1.3zM648.1 188.9l1.6 1.4 7.7-.1 -1.7-1.4zM623.9 176.2l1.7 1.3 7.6-.2 -1.6-1.2zM583.9 157.4l1.7 1.3 7.6 .3 -1.6-1.2zM558.1 143l1.7 1.3 7.6 .9 -1.6-1.2z"/>
<path fill="rgb(0,31,255)" stroke="rgb(0,31,255)" stroke-width=".5" d="M649.7 190.3l1.7 1.3 7.6-.1 -1.6-1.3zM651.4 191.6l1.6 1.3 7.7 0 -1.7-1.4zM604.7 167.5l1.7 1.3 7.6 0 -1.6-1.2zM559.8 144.3l1.6 1.2 7.7 .9 -1.7-1.2z"/>
<path fill="rgb(0,32,255)" stroke="rgb(0,32,255)" stroke-width=".5" d="M653 192.9l1.7 1.4 7.6 0 -1.6-1.4zM625.6 177.5l1.6 1.2 7.7-.1 -1.7-1.3zM606.4 168.8l1.6 1.2 7.7 0 -1.7-1.2zM585.6 158.7l1.6 1.2 7.7 .3 -1.7-1.2z"/>
<path fill="rgb(0,0,207)" stroke="rgb(0,0,207)" stroke-width=".5" d="M564.6 134.7l1.7 1 7.6 1.1 -1.6-1z"/>
<path fill="rgb(0,0,210)" stroke="rgb(0,0,210)" stroke-width=".5" d="M566.3 135.7l1.6 1.1 7.6 1 -1.6-1z"/>
<path fill="rgb(0,0,213)" stroke="rgb(0,0,213)" stroke-width=".5" d="M567.9 136.8l1.6 1.1 7.7 .9 -1.7-1z"/>
<path fill="rgb(0,0,216)" stroke="rgb(0,0,216)" stroke-width=".5" d="M569.5 137.9l1.7 1 7.6 .9 -1.6-1z"/>
<path fill="rgb(0,0,219)" stroke="rgb(0,0,219)" stroke-width=".5" d="M571.2 138.9l1.6 1.1 7.7 .9 -1.7-1.1z"/>
<path fill="rgb(0,0,228)" stroke="rgb(0,0,228)" stroke-width=".5" d="M576.1 142.2l1.7 1.1 7.6 .7 -1.6-1.1z"/>
<path fill="rgb(0,0,243)" stroke="rgb(0,0,243)" stroke-width=".5" d="M586 148.9l1.7 1.1 7.6 .4 -1.6-1.1z"/>
<path fill="rgb(0,0,250)" stroke="rgb(0,0,250)" stroke-width=".5" d="M591 152.3l1.6 1.1 7.7 .3 -1.7-1.1zM551 133.2l1.6 1.2 7.7 1.2 -1.7-1.1z"/>
<path fill="rgb(0,12,255)" stroke="rgb(0,12,255)" stroke-width=".5" d="M604.2 161.6l1.6 1.2 7.7 0 -1.7-1.2zM586.6 154.2l1.7 1.2 7.6 .3 -1.6-1.1zM565.8 144l1.6 1.2 7.7 .8 -1.7-1.2z"/>
<path fill="rgb(0,14,255)" stroke="rgb(0,14,255)" stroke-width=".5" d="M605.8 162.8l1.7 1.2 7.6 0 -1.6-1.2zM588.3 155.4l1.6 1.2 7.7 .3 -1.7-1.2zM567.4 145.2l1.7 1.2 7.6 .8 -1.6-1.2z"/>
<path fill="rgb(0,17,255)" stroke="rgb(0,17,255)" stroke-width=".5" d="M609.1 165.2l1.6 1.2 7.7-.1 -1.7-1.1zM570.7 147.6l1.7 1.3 7.6 .6 -1.6-1.2zM543.3 131.7l1.7 1.3 7.6 1.4 -1.6-1.2z"/>
<path fill="rgb(0,21,255)" stroke="rgb(0,21,255)" stroke-width=".5" d="M612.4 167.6l1.6 1.2 7.7-.1 -1.7-1.2zM594.9 160.2l1.6 1.2 7.7 .2 -1.7-1.2zM574 150.1l1.7 1.2 7.6 .6 -1.6-1.2zM548.3 135.5l1.6 1.2 7.6 1.3 -1.6-1.2z"/>
<path fill="rgb(0,33,255)" stroke="rgb(0,33,255)" stroke-width=".5" d="M627.2 178.7l1.7 1.3 7.6-.1 -1.6-1.3zM587.2 159.9l1.7 1.2 7.6 .3 -1.6-1.2zM561.4 145.5l1.7 1.3 7.6 .8 -1.6-1.2z"/>
<path fill="rgb(0,34,255)" stroke="rgb(0,34,255)" stroke-width=".5" d="M628.9 180l1.6 1.3 7.7-.2 -1.7-1.2zM608 170l1.7 1.2 7.6 .1 -1.6-1.3zM563.1 146.8l1.6 1.3 7.7 .8 -1.7-1.3z"/>
<path fill="rgb(0,35,255)" stroke="rgb(0,35,255)" stroke-width=".5" d="M630.5 181.3l1.7 1.2 7.6-.1 -1.6-1.3zM609.7 171.2l1.6 1.3 7.7 0 -1.7-1.2zM588.9 161.1l1.6 1.3 7.7 .2 -1.7-1.2zM564.7 148.1l1.7 1.2 7.6 .8 -1.6-1.2z"/>
<path fill="rgb(0,36,255)" stroke="rgb(0,36,255)" stroke-width=".5" d="M632.2 182.5l1.6 1.3 7.7-.1 -1.7-1.3zM611.3 172.5l1.7 1.2 7.6 0 -1.6-1.2zM590.5 162.4l1.7 1.2 7.6 .3 -1.6-1.3z"/>
<path fill="rgb(0,37,255)" stroke="rgb(0,37,255)" stroke-width=".5" d="M633.8 183.8l1.7 1.3 7.6-.1 -1.6-1.3zM566.4 149.3l1.6 1.3 7.7 .7 -1.7-1.2z"/>
<path fill="rgb(0,38,255)" stroke="rgb(0,38,255)" stroke-width=".5" d="M635.5 185.1l1.6 1.3 7.7-.1 -1.7-1.3zM613 173.7l1.6 1.3 7.7 0 -1.7-1.3zM592.2 163.6l1.6 1.2 7.7 .3 -1.7-1.2zM568 150.6l1.7 1.2 7.6 .7 -1.6-1.2z"/>
<path fill="rgb(0,39,255)" stroke="rgb(0,39,255)" stroke-width=".5" d="M637.1 186.4l1.7 1.3 7.6-.1 -1.6-1.3zM638.8 187.7l1.6 1.3 7.7-.1 -1.7-1.3zM614.6 175l1.7 1.2 7.6 0 -1.6-1.2zM593.8 164.8l1.7 1.3 7.6 .2 -1.6-1.2zM569.7 151.8l1.6 1.3 7.7 .6 -1.7-1.2zM534 128.8l1.7 1.3 7.6 1.6 -1.6-1.2z"/>
<path fill="rgb(0,40,255)" stroke="rgb(0,40,255)" stroke-width=".5" d="M640.4 189l1.7 1.3 7.6 0 -1.6-1.4zM616.3 176.2l1.6 1.3 7.7 0 -1.7-1.3zM595.5 166.1l1.6 1.2 7.6 .2 -1.6-1.2zM571.3 153.1l1.7 1.3 7.6 .6 -1.6-1.3zM535.7 130.1l1.6 1.3 7.7 1.6 -1.7-1.3z"/>
<path fill="rgb(0,41,255)" stroke="rgb(0,41,255)" stroke-width=".5" d="M642.1 190.3l1.6 1.3 7.7 0 -1.7-1.3zM643.7 191.6l1.7 1.3 7.6 0 -1.6-1.3zM617.9 177.5l1.7 1.2 7.6 0 -1.6-1.2zM537.3 131.4l1.7 1.3 7.6 1.5 -1.6-1.2z"/>
<path fill="rgb(0,42,255)" stroke="rgb(0,42,255)" stroke-width=".5" d="M645.4 192.9l1.6 1.3 7.7 .1 -1.7-1.4zM619.6 178.7l1.6 1.3 7.7 0 -1.7-1.3zM597.1 167.3l1.6 1.3 7.7 .2 -1.7-1.3zM573 154.4l1.6 1.2 7.7 .6 -1.7-1.2zM539 132.7l1.6 1.3 7.7 1.5 -1.7-1.3z"/>
<path fill="rgb(0,0,232)" stroke="rgb(0,0,232)" stroke-width=".5" d="M560.3 135.6l1.6 1.2 7.6 1.1 -1.6-1.1z"/>
<path fill="rgb(0,0,235)" stroke="rgb(0,0,235)" stroke-width=".5" d="M561.9 136.8l1.6 1.1 7.7 1 -1.7-1z"/>
<path fill="rgb(0,0,237)" stroke="rgb(0,0,237)" stroke-width=".5" d="M563.5 137.9l1.7 1.2 7.6 .9 -1.6-1.1z"/>
<path fill="rgb(0,0,239)" stroke="rgb(0,0,239)" stroke-width=".5" d="M565.2 139.1l1.6 1.1 7.7 .9 -1.7-1.1z"/>
<path fill="rgb(0,0,242)" stroke="rgb(0,0,242)" stroke-width=".5" d="M566.8 140.2l1.7 1.2 7.6 .8 -1.6-1.1z"/>
<path fill="rgb(0,0,249)" stroke="rgb(0,0,249)" stroke-width=".5" d="M571.8 143.7l1.6 1.1 7.7 .7 -1.7-1.1z"/>
<path fill="rgb(0,43,255)" stroke="rgb(0,43,255)" stroke-width=".5" d="M621.2 180l1.7 1.3 7.6 0 -1.6-1.3zM598.7 168.6l1.7 1.2 7.6 .2 -1.6-1.2zM574.6 155.6l1.7 1.3 7.6 .5 -1.6-1.2zM540.6 134l1.7 1.4 7.6 1.3 -1.6-1.2z"/>
<path fill="rgb(0,45,255)" stroke="rgb(0,45,255)" stroke-width=".5" d="M622.9 181.3l1.6 1.2 7.7 0 -1.7-1.2zM543.9 136.7l1.6 1.3 7.7 1.2 -1.7-1.2z"/>
<path fill="rgb(0,46,255)" stroke="rgb(0,46,255)" stroke-width=".5" d="M624.5 182.5l1.7 1.3 7.6 0 -1.6-1.3zM602 171.1l1.7 1.2 7.6 .2 -1.6-1.3zM577.9 158.2l1.7 1.2 7.6 .5 -1.6-1.2zM545.5 138l1.7 1.3 7.6 1.2 -1.6-1.3z"/>
<path fill="rgb(0,47,255)" stroke="rgb(0,47,255)" stroke-width=".5" d="M626.2 183.8l1.6 1.3 7.7 0 -1.7-1.3zM603.7 172.3l1.6 1.3 7.7 .1 -1.7-1.2zM579.6 159.4l1.6 1.3 7.7 .4 -1.7-1.2zM547.2 139.3l1.6 1.3 7.7 1.2 -1.7-1.3z"/>
<path fill="rgb(0,48,255)" stroke="rgb(0,48,255)" stroke-width=".5" d="M627.8 185.1l1.7 1.3 7.6 0 -1.6-1.3zM605.3 173.6l1.7 1.3 7.6 .1 -1.6-1.3zM581.2 160.7l1.7 1.2 7.6 .5 -1.6-1.3zM548.8 140.6l1.7 1.3 7.6 1.1 -1.6-1.2z"/>
<path fill="rgb(0,49,255)" stroke="rgb(0,49,255)" stroke-width=".5" d="M629.5 186.4l1.6 1.2 7.7 .1 -1.7-1.3zM631.1 187.6l1.7 1.3 7.6 .1 -1.6-1.3zM607 174.9l1.6 1.2 7.7 .1 -1.7-1.2zM582.9 161.9l1.6 1.3 7.7 .4 -1.7-1.2zM550.5 141.9l1.6 1.3 7.7 1.1 -1.7-1.3z"/>
<path fill="rgb(0,50,255)" stroke="rgb(0,50,255)" stroke-width=".5" d="M632.8 188.9l1.6 1.3 7.7 .1 -1.7-1.3zM584.5 163.2l1.7 1.3 7.6 .3 -1.6-1.2zM552.1 143.2l1.7 1.3 7.6 1 -1.6-1.2z"/>
<path fill="rgb(0,51,255)" stroke="rgb(0,51,255)" stroke-width=".5" d="M634.4 190.2l1.7 1.3 7.6 .1 -1.6-1.3zM608.6 176.1l1.7 1.3 7.6 .1 -1.6-1.3zM553.8 144.5l1.6 1.3 7.7 1 -1.7-1.3z"/>
<path fill="rgb(0,52,255)" stroke="rgb(0,52,255)" stroke-width=".5" d="M636.1 191.5l1.6 1.3 7.7 .1 -1.7-1.3zM610.3 177.4l1.6 1.2 7.7 .1 -1.7-1.2zM586.2 164.5l1.6 1.2 7.7 .4 -1.7-1.3zM555.4 145.8l1.7 1.3 7.6 1 -1.6-1.3z"/>
<path fill="rgb(0,53,255)" stroke="rgb(0,53,255)" stroke-width=".5" d="M637.7 192.8l1.7 1.3 7.6 .1 -1.6-1.3zM611.9 178.6l1.7 1.3 7.6 .1 -1.6-1.3zM587.8 165.7l1.7 1.3 7.6 .3 -1.6-1.2zM557.1 147.1l1.6 1.3 7.7 .9 -1.7-1.2z"/>
<path fill="rgb(0,0,252)" stroke="rgb(0,0,252)" stroke-width=".5" d="M552.6 134.4l1.7 1.2 7.6 1.2 -1.6-1.2z"/>
<path fill="rgb(0,0,254)" stroke="rgb(0,0,254)" stroke-width=".5" d="M554.3 135.6l1.6 1.2 7.6 1.1 -1.6-1.1z"/>
<path fill="rgb(0,1,255)" stroke="rgb(0,1,255)" stroke-width=".5" d="M555.9 136.8l1.6 1.2 7.7 1.1 -1.7-1.2z"/>
<path fill="rgb(0,3,255)" stroke="rgb(0,3,255)" stroke-width=".5" d="M557.5 138l1.7 1.2 7.6 1 -1.6-1.1z"/>
<path fill="rgb(0,5,255)" stroke="rgb(0,5,255)" stroke-width=".5" d="M559.2 139.2l1.6 1.2 7.7 1 -1.7-1.2z"/>
<path fill="rgb(0,7,255)" stroke="rgb(0,7,255)" stroke-width=".5" d="M560.8 140.4l1.7 1.2 7.6 .9 -1.6-1.1z"/>
<path fill="rgb(0,9,255)" stroke="rgb(0,9,255)" stroke-width=".5" d="M562.5 141.6l1.6 1.2 7.7 .9 -1.7-1.2z"/>
<path fill="rgb(0,44,255)" stroke="rgb(0,44,255)" stroke-width=".5" d="M600.4 169.8l1.6 1.3 7.7 .1 -1.7-1.2zM576.3 156.9l1.6 1.3 7.7 .5 -1.7-1.3zM542.3 135.4l1.6 1.3 7.6 1.3 -1.6-1.3z"/>
<path fill="rgb(0,54,255)" stroke="rgb(0,54,255)" stroke-width=".5" d="M613.6 179.9l1.6 1.3 7.7 .1 -1.7-1.3zM589.5 167l1.6 1.3 7.6 .3 -1.6-1.3zM558.7 148.4l1.7 1.3 7.6 .9 -1.6-1.3z"/>
<path fill="rgb(0,55,255)" stroke="rgb(0,55,255)" stroke-width=".5" d="M615.2 181.2l1.7 1.2 7.6 .1 -1.6-1.2zM591.1 168.3l1.6 1.2 7.7 .3 -1.7-1.2zM560.4 149.7l1.6 1.3 7.7 .8 -1.7-1.2z"/>
<path fill="rgb(0,56,255)" stroke="rgb(0,56,255)" stroke-width=".5" d="M616.9 182.4l1.6 1.3 7.7 .1 -1.7-1.3zM592.7 169.5l1.7 1.3 7.6 .3 -1.6-1.3zM562 151l1.7 1.3 7.6 .8 -1.6-1.3zM563.7 152.3l1.6 1.3 7.7 .8 -1.7-1.3z"/>
<path fill="rgb(0,57,255)" stroke="rgb(0,57,255)" stroke-width=".5" d="M618.5 183.7l1.7 1.3 7.6 .1 -1.6-1.3zM565.3 153.6l1.7 1.3 7.6 .7 -1.6-1.2z"/>
<path fill="rgb(0,58,255)" stroke="rgb(0,58,255)" stroke-width=".5" d="M620.2 185l1.6 1.3 7.7 .1 -1.7-1.3zM594.4 170.8l1.6 1.3 7.7 .2 -1.7-1.2zM567 154.9l1.6 1.3 7.7 .7 -1.7-1.3z"/>
<path fill="rgb(0,59,255)" stroke="rgb(0,59,255)" stroke-width=".5" d="M621.8 186.3l1.7 1.2 7.6 .1 -1.6-1.2zM596 172.1l1.7 1.3 7.6 .2 -1.6-1.3zM568.6 156.2l1.7 1.3 7.6 .7 -1.6-1.3z"/>
<path fill="rgb(0,60,255)" stroke="rgb(0,60,255)" stroke-width=".5" d="M623.5 187.5l1.6 1.3 7.7 .1 -1.7-1.3zM597.7 173.4l1.6 1.2 7.7 .3 -1.7-1.3zM570.3 157.5l1.6 1.3 7.7 .6 -1.7-1.2z"/>
<path fill="rgb(0,61,255)" stroke="rgb(0,61,255)" stroke-width=".5" d="M625.1 188.8l1.7 1.3 7.6 .1 -1.6-1.3zM599.3 174.6l1.7 1.3 7.6 .2 -1.6-1.2zM571.9 158.8l1.7 1.3 7.6 .6 -1.6-1.3z"/>
<path fill="rgb(0,62,255)" stroke="rgb(0,62,255)" stroke-width=".5" d="M626.8 190.1l1.6 1.3 7.7 .1 -1.7-1.3zM601 175.9l1.6 1.3 7.7 .2 -1.7-1.3zM573.6 160.1l1.6 1.3 7.7 .5 -1.7-1.2z"/>
<path fill="rgb(0,63,255)" stroke="rgb(0,63,255)" stroke-width=".5" d="M628.4 191.4l1.7 1.3 7.6 .1 -1.6-1.3zM602.6 177.2l1.7 1.2 7.6 .2 -1.6-1.2zM575.2 161.4l1.7 1.3 7.6 .5 -1.6-1.3z"/>
<path fill="rgb(0,64,255)" stroke="rgb(0,64,255)" stroke-width=".5" d="M630.1 192.7l1.6 1.2 7.7 .2 -1.7-1.3zM604.3 178.4l1.6 1.3 7.7 .2 -1.7-1.3zM576.9 162.7l1.6 1.3 7.7 .5 -1.7-1.3zM526.4 127l1.6 1.4 7.7 1.7 -1.7-1.3zM528 128.4l1.7 1.3 7.6 1.7 -1.6-1.3z"/>
<path fill="rgb(0,65,255)" stroke="rgb(0,65,255)" stroke-width=".5" d="M605.9 179.7l1.7 1.3 7.6 .2 -1.6-1.3zM578.5 164l1.7 1.3 7.6 .4 -1.6-1.2zM529.7 129.7l1.6 1.4 7.7 1.6 -1.7-1.3zM531.3 131.1l1.7 1.4 7.6 1.5 -1.6-1.3z"/>
<path fill="rgb(0,66,255)" stroke="rgb(0,66,255)" stroke-width=".5" d="M607.6 181l1.6 1.2 7.7 .2 -1.7-1.2zM580.2 165.3l1.6 1.2 7.7 .5 -1.7-1.3zM533 132.5l1.6 1.3 7.7 1.6 -1.7-1.4zM534.6 133.8l1.7 1.4 7.6 1.5 -1.6-1.3z"/>
<path fill="rgb(0,68,255)" stroke="rgb(0,68,255)" stroke-width=".5" d="M609.2 182.2l1.7 1.3 7.6 .2 -1.6-1.3zM539.5 137.9l1.7 1.4 7.6 1.3 -1.6-1.3zM541.2 139.3l1.6 1.3 7.7 1.3 -1.7-1.3z"/>
<path fill="rgb(0,69,255)" stroke="rgb(0,69,255)" stroke-width=".5" d="M610.9 183.5l1.6 1.3 7.7 .2 -1.7-1.3zM583.5 167.8l1.6 1.3 7.6 .4 -1.6-1.2zM542.8 140.6l1.7 1.4 7.6 1.2 -1.6-1.3zM544.5 142l1.6 1.3 7.7 1.2 -1.7-1.3z"/>
<path fill="rgb(0,70,255)" stroke="rgb(0,70,255)" stroke-width=".5" d="M612.5 184.8l1.7 1.3 7.6 .2 -1.6-1.3zM585.1 169.1l1.6 1.3 7.7 .4 -1.7-1.3zM546.1 143.3l1.7 1.4 7.6 1.1 -1.6-1.3z"/>
<path fill="rgb(0,71,255)" stroke="rgb(0,71,255)" stroke-width=".5" d="M614.2 186.1l1.6 1.2 7.7 .2 -1.7-1.2zM586.7 170.4l1.7 1.3 7.6 .4 -1.6-1.3zM547.8 144.7l1.6 1.3 7.7 1.1 -1.7-1.3zM549.4 146l1.7 1.4 7.6 1 -1.6-1.3z"/>
<path fill="rgb(0,72,255)" stroke="rgb(0,72,255)" stroke-width=".5" d="M615.8 187.3l1.7 1.3 7.6 .2 -1.6-1.3zM588.4 171.7l1.6 1.3 7.7 .4 -1.7-1.3zM551.1 147.4l1.6 1.3 7.7 1 -1.7-1.3zM552.7 148.7l1.7 1.3 7.6 1 -1.6-1.3z"/>
<path fill="rgb(0,73,255)" stroke="rgb(0,73,255)" stroke-width=".5" d="M617.5 188.6l1.6 1.3 7.7 .2 -1.7-1.3zM590 173l1.7 1.3 7.6 .3 -1.6-1.2zM554.4 150l1.6 1.4 7.7 .9 -1.7-1.3z"/>
<path fill="rgb(0,74,255)" stroke="rgb(0,74,255)" stroke-width=".5" d="M619.1 189.9l1.7 1.3 7.6 .2 -1.6-1.3zM591.7 174.3l1.6 1.2 7.7 .4 -1.7-1.3zM556 151.4l1.7 1.3 7.6 .9 -1.6-1.3zM557.7 152.7l1.6 1.3 7.7 .9 -1.7-1.3z"/>
<path fill="rgb(0,75,255)" stroke="rgb(0,75,255)" stroke-width=".5" d="M620.8 191.2l1.6 1.2 7.7 .3 -1.7-1.3zM593.3 175.5l1.7 1.3 7.6 .4 -1.6-1.3zM559.3 154l1.7 1.4 7.6 .8 -1.6-1.3z"/>
<path fill="rgb(0,76,255)" stroke="rgb(0,76,255)" stroke-width=".5" d="M622.4 192.4l1.7 1.3 7.6 .2 -1.6-1.2zM595 176.8l1.6 1.3 7.7 .3 -1.7-1.2zM561 155.4l1.6 1.3 7.7 .8 -1.7-1.3z"/>
<path fill="rgb(0,67,255)" stroke="rgb(0,67,255)" stroke-width=".5" d="M581.8 166.5l1.7 1.3 7.6 .5 -1.6-1.3zM536.3 135.2l1.6 1.4 7.6 1.4 -1.6-1.3zM537.9 136.6l1.6 1.3 7.7 1.4 -1.7-1.3z"/>
<path fill="rgb(0,77,255)" stroke="rgb(0,77,255)" stroke-width=".5" d="M596.6 178.1l1.7 1.3 7.6 .3 -1.6-1.3zM562.6 156.7l1.7 1.3 7.6 .8 -1.6-1.3zM564.3 158l1.6 1.4 7.7 .7 -1.7-1.3z"/>
<path fill="rgb(0,78,255)" stroke="rgb(0,78,255)" stroke-width=".5" d="M598.3 179.4l1.6 1.3 7.7 .3 -1.7-1.3zM565.9 159.4l1.7 1.3 7.6 .7 -1.6-1.3z"/>
<path fill="rgb(0,79,255)" stroke="rgb(0,79,255)" stroke-width=".5" d="M599.9 180.7l1.7 1.2 7.6 .3 -1.6-1.2zM567.6 160.7l1.6 1.3 7.7 .7 -1.7-1.3z"/>
<path fill="rgb(0,80,255)" stroke="rgb(0,80,255)" stroke-width=".5" d="M601.6 181.9l1.6 1.3 7.7 .3 -1.7-1.3zM569.2 162l1.7 1.3 7.6 .7 -1.6-1.3zM570.9 163.3l1.6 1.3 7.7 .7 -1.7-1.3z"/>
<path fill="rgb(0,81,255)" stroke="rgb(0,81,255)" stroke-width=".5" d="M603.2 183.2l1.7 1.3 7.6 .3 -1.6-1.3zM572.5 164.6l1.7 1.3 7.6 .6 -1.6-1.2z"/>
<path fill="rgb(0,82,255)" stroke="rgb(0,82,255)" stroke-width=".5" d="M604.9 184.5l1.6 1.3 7.7 .3 -1.7-1.3zM574.2 165.9l1.6 1.4 7.7 .5 -1.7-1.3z"/>
<path fill="rgb(0,83,255)" stroke="rgb(0,83,255)" stroke-width=".5" d="M606.5 185.8l1.7 1.2 7.6 .3 -1.6-1.2zM575.8 167.3l1.7 1.3 7.6 .5 -1.6-1.3z"/>
<path fill="rgb(0,84,255)" stroke="rgb(0,84,255)" stroke-width=".5" d="M608.2 187l1.6 1.3 7.7 .3 -1.7-1.3zM577.5 168.6l1.6 1.3 7.6 .5 -1.6-1.3z"/>
<path fill="rgb(0,85,255)" stroke="rgb(0,85,255)" stroke-width=".5" d="M609.8 188.3l1.7 1.3 7.6 .3 -1.6-1.3zM579.1 169.9l1.6 1.3 7.7 .5 -1.7-1.3zM580.7 171.2l1.7 1.3 7.6 .5 -1.6-1.3z"/>
<path fill="rgb(0,86,255)" stroke="rgb(0,86,255)" stroke-width=".5" d="M611.5 189.6l1.6 1.3 7.7 .3 -1.7-1.3zM582.4 172.5l1.6 1.3 7.7 .5 -1.7-1.3z"/>
<path fill="rgb(0,87,255)" stroke="rgb(0,87,255)" stroke-width=".5" d="M613.1 190.9l1.7 1.2 7.6 .3 -1.6-1.2zM584 173.8l1.7 1.3 7.6 .4 -1.6-1.2z"/>
<path fill="rgb(0,88,255)" stroke="rgb(0,88,255)" stroke-width=".5" d="M614.8 192.1l1.6 1.3 7.7 .3 -1.7-1.3zM585.7 175.1l1.6 1.3 7.7 .4 -1.7-1.3z"/>
<path fill="rgb(0,89,255)" stroke="rgb(0,89,255)" stroke-width=".5" d="M587.3 176.4l1.7 1.3 7.6 .4 -1.6-1.3zM518.7 125l1.7 1.5 7.6 1.9 -1.6-1.4zM520.4 126.5l1.6 1.4 7.7 1.8 -1.7-1.3zM522 127.9l1.7 1.4 7.6 1.8 -1.6-1.4zM523.7 129.3l1.6 1.4 7.7 1.8 -1.7-1.4zM525.3 130.7l1.7 1.5 7.6 1.6 -1.6-1.3z"/>
<path fill="rgb(0,90,255)" stroke="rgb(0,90,255)" stroke-width=".5" d="M589 177.7l1.6 1.3 7.7 .4 -1.7-1.3zM527 132.2l1.6 1.4 7.7 1.6 -1.7-1.4zM528.6 133.6l1.7 1.4 7.6 1.6 -1.6-1.4zM530.3 135l1.6 1.4 7.6 1.5 -1.6-1.3zM531.9 136.4l1.6 1.4 7.7 1.5 -1.7-1.4zM533.5 137.8l1.7 1.4 7.6 1.4 -1.6-1.3zM535.2 139.2l1.6 1.4 7.7 1.4 -1.7-1.4zM536.8 140.6l1.7 1.4 7.6 1.3 -1.6-1.3z"/>
<path fill="rgb(0,91,255)" stroke="rgb(0,91,255)" stroke-width=".5" d="M590.6 179l1.7 1.2 7.6 .5 -1.6-1.3zM538.5 142l1.6 1.4 7.7 1.3 -1.7-1.4zM540.1 143.4l1.7 1.4 7.6 1.2 -1.6-1.3zM541.8 144.8l1.6 1.3 7.7 1.3 -1.7-1.4zM543.4 146.1l1.7 1.4 7.6 1.2 -1.6-1.3z"/>
<path fill="rgb(0,92,255)" stroke="rgb(0,92,255)" stroke-width=".5" d="M592.3 180.2l1.6 1.3 7.7 .4 -1.7-1.2zM545.1 147.5l1.6 1.4 7.7 1.1 -1.7-1.3zM546.7 148.9l1.7 1.4 7.6 1.1 -1.6-1.4zM548.4 150.3l1.6 1.3 7.7 1.1 -1.7-1.3z"/>
<path fill="rgb(0,93,255)" stroke="rgb(0,93,255)" stroke-width=".5" d="M593.9 181.5l1.7 1.3 7.6 .4 -1.6-1.3zM550 151.6l1.7 1.4 7.6 1 -1.6-1.3zM551.7 153l1.6 1.4 7.7 1 -1.7-1.4z"/>
<path fill="rgb(0,94,255)" stroke="rgb(0,94,255)" stroke-width=".5" d="M595.6 182.8l1.6 1.3 7.7 .4 -1.7-1.3zM553.3 154.4l1.7 1.3 7.6 1 -1.6-1.3zM555 155.7l1.6 1.4 7.7 .9 -1.7-1.3z"/>
<path fill="rgb(0,95,255)" stroke="rgb(0,95,255)" stroke-width=".5" d="M597.2 184.1l1.7 1.3 7.6 .4 -1.6-1.3zM556.6 157.1l1.7 1.4 7.6 .9 -1.6-1.4zM558.3 158.5l1.6 1.3 7.7 .9 -1.7-1.3z"/>
<path fill="rgb(0,96,255)" stroke="rgb(0,96,255)" stroke-width=".5" d="M598.9 185.4l1.6 1.3 7.7 .3 -1.7-1.2zM559.9 159.8l1.7 1.4 7.6 .8 -1.6-1.3zM561.6 161.2l1.6 1.3 7.7 .8 -1.7-1.3z"/>
<path fill="rgb(0,97,255)" stroke="rgb(0,97,255)" stroke-width=".5" d="M600.5 186.7l1.7 1.2 7.6 .4 -1.6-1.3zM563.2 162.5l1.7 1.3 7.6 .8 -1.6-1.3zM564.9 163.8l1.6 1.4 7.7 .7 -1.7-1.3z"/>
<path fill="rgb(0,98,255)" stroke="rgb(0,98,255)" stroke-width=".5" d="M602.2 187.9l1.6 1.3 7.7 .4 -1.7-1.3zM566.5 165.2l1.7 1.3 7.6 .8 -1.6-1.4z"/>
<path fill="rgb(0,99,255)" stroke="rgb(0,99,255)" stroke-width=".5" d="M603.8 189.2l1.7 1.3 7.6 .4 -1.6-1.3zM568.2 166.5l1.6 1.4 7.7 .7 -1.7-1.3zM569.8 167.9l1.7 1.3 7.6 .7 -1.6-1.3z"/>
<path fill="rgb(0,100,255)" stroke="rgb(0,100,255)" stroke-width=".5" d="M605.5 190.5l1.6 1.3 7.7 .3 -1.7-1.2zM571.5 169.2l1.6 1.3 7.6 .7 -1.6-1.3z"/>
<path fill="rgb(0,101,255)" stroke="rgb(0,101,255)" stroke-width=".5" d="M607.1 191.8l1.7 1.2 7.6 .4 -1.6-1.3zM573.1 170.5l1.6 1.3 7.7 .7 -1.7-1.3zM574.7 171.8l1.7 1.4 7.6 .6 -1.6-1.3z"/>
<path fill="rgb(0,102,255)" stroke="rgb(0,102,255)" stroke-width=".5" d="M576.4 173.2l1.6 1.3 7.7 .6 -1.7-1.3z"/>
<path fill="rgb(0,103,255)" stroke="rgb(0,103,255)" stroke-width=".5" d="M578 174.5l1.7 1.3 7.6 .6 -1.6-1.3z"/>
<path fill="rgb(0,104,255)" stroke="rgb(0,104,255)" stroke-width=".5" d="M579.7 175.8l1.6 1.3 7.7 .6 -1.7-1.3zM581.3 177.1l1.7 1.3 7.6 .6 -1.6-1.3z"/>
<path fill="rgb(0,105,255)" stroke="rgb(0,105,255)" stroke-width=".5" d="M583 178.4l1.6 1.3 7.7 .5 -1.7-1.2z"/>
<path fill="rgb(0,106,255)" stroke="rgb(0,106,255)" stroke-width=".5" d="M584.6 179.7l1.7 1.3 7.6 .5 -1.6-1.3z"/>
<path fill="rgb(0,107,255)" stroke="rgb(0,107,255)" stroke-width=".5" d="M586.3 181l1.6 1.3 7.7 .5 -1.7-1.3z"/>
<path fill="rgb(0,108,255)" stroke="rgb(0,108,255)" stroke-width=".5" d="M587.9 182.3l1.7 1.3 7.6 .5 -1.6-1.3z"/>
<path fill="rgb(0,109,255)" stroke="rgb(0,109,255)" stroke-width=".5" d="M589.6 183.6l1.6 1.3 7.7 .5 -1.7-1.3z"/>
<path fill="rgb(0,110,255)" stroke="rgb(0,110,255)" stroke-width=".5" d="M591.2 184.9l1.7 1.3 7.6 .5 -1.6-1.3z"/>
<path fill="rgb(0,111,255)" stroke="rgb(0,111,255)" stroke-width=".5" d="M592.9 186.2l1.6 1.3 7.7 .4 -1.7-1.2z"/>
<path fill="rgb(0,112,255)" stroke="rgb(0,112,255)" stroke-width=".5" d="M594.5 187.5l1.7 1.3 7.6 .4 -1.6-1.3zM535.8 144.7l1.6 1.5 7.7 1.3 -1.7-1.4zM537.4 146.2l1.7 1.4 7.6 1.3 -1.6-1.4zM539.1 147.6l1.6 1.4 7.7 1.3 -1.7-1.4z"/>
<path fill="rgb(0,113,255)" stroke="rgb(0,113,255)" stroke-width=".5" d="M596.2 188.8l1.6 1.2 7.7 .5 -1.7-1.3zM525.9 136.1l1.6 1.5 7.7 1.6 -1.7-1.4zM527.5 137.6l1.7 1.4 7.6 1.6 -1.6-1.4zM529.2 139l1.6 1.5 7.7 1.5 -1.7-1.4zM530.8 140.5l1.7 1.4 7.6 1.5 -1.6-1.4zM532.5 141.9l1.6 1.4 7.7 1.5 -1.7-1.4zM534.1 143.3l1.7 1.4 7.6 1.4 -1.6-1.3zM540.7 149l1.7 1.4 7.6 1.2 -1.6-1.3zM542.4 150.4l1.6 1.4 7.7 1.2 -1.7-1.4zM544 151.8l1.7 1.4 7.6 1.2 -1.6-1.4zM545.7 153.2l1.6 1.4 7.7 1.1 -1.7-1.3zM547.3 154.6l1.7 1.4 7.6 1.1 -1.6-1.4zM549 156l1.6 1.4 7.7 1.1 -1.7-1.4zM550.6 157.4l1.7 1.4 7.6 1 -1.6-1.3z"/>
<path fill="rgb(0,114,255)" stroke="rgb(0,114,255)" stroke-width=".5" d="M597.8 190l1.7 1.3 7.6 .5 -1.6-1.3zM519.3 130.3l1.7 1.5 7.6 1.8 -1.6-1.4zM521 131.8l1.6 1.4 7.7 1.8 -1.7-1.4zM522.6 133.2l1.7 1.5 7.6 1.7 -1.6-1.4zM524.3 134.7l1.6 1.4 7.6 1.7 -1.6-1.4zM552.3 158.8l1.6 1.4 7.7 1 -1.7-1.4zM553.9 160.2l1.7 1.3 7.6 1 -1.6-1.3zM555.6 161.5l1.6 1.4 7.7 .9 -1.7-1.3z"/>
<path fill="rgb(0,115,255)" stroke="rgb(0,115,255)" stroke-width=".5" d="M599.5 191.3l1.6 1.3 7.7 .4 -1.7-1.2zM516 127.4l1.7 1.4 7.6 1.9 -1.6-1.4zM517.7 128.8l1.6 1.5 7.7 1.9 -1.7-1.5zM557.2 162.9l1.7 1.4 7.6 .9 -1.6-1.4zM558.9 164.3l1.6 1.3 7.7 .9 -1.7-1.3zM560.5 165.6l1.7 1.4 7.6 .9 -1.6-1.4z"/>
<path fill="rgb(0,117,255)" stroke="rgb(0,117,255)" stroke-width=".5" d="M511.1 122.9l1.6 1.5 7.7 2.1 -1.7-1.5zM565.5 169.7l1.6 1.4 7.6 .7 -1.6-1.3zM567.1 171.1l1.6 1.3 7.7 .8 -1.7-1.4z"/>
<path fill="rgb(0,116,255)" stroke="rgb(0,116,255)" stroke-width=".5" d="M512.7 124.4l1.7 1.5 7.6 2 -1.6-1.4zM514.4 125.9l1.6 1.5 7.7 1.9 -1.7-1.4zM562.2 167l1.6 1.4 7.7 .8 -1.7-1.3zM563.8 168.4l1.7 1.3 7.6 .8 -1.6-1.3z"/>
<path fill="rgb(0,118,255)" stroke="rgb(0,118,255)" stroke-width=".5" d="M568.7 172.4l1.7 1.3 7.6 .8 -1.6-1.3zM570.4 173.7l1.6 1.4 7.7 .7 -1.7-1.3z"/>
<path fill="rgb(0,119,255)" stroke="rgb(0,119,255)" stroke-width=".5" d="M572 175.1l1.7 1.3 7.6 .7 -1.6-1.3z"/>
<path fill="rgb(0,120,255)" stroke="rgb(0,120,255)" stroke-width=".5" d="M573.7 176.4l1.6 1.3 7.7 .7 -1.7-1.3zM575.3 177.7l1.7 1.4 7.6 .6 -1.6-1.3z"/>
<path fill="rgb(0,121,255)" stroke="rgb(0,121,255)" stroke-width=".5" d="M577 179.1l1.6 1.3 7.7 .6 -1.7-1.3z"/>
<path fill="rgb(0,122,255)" stroke="rgb(0,122,255)" stroke-width=".5" d="M578.6 180.4l1.7 1.3 7.6 .6 -1.6-1.3z"/>
<path fill="rgb(0,123,255)" stroke="rgb(0,123,255)" stroke-width=".5" d="M580.3 181.7l1.6 1.3 7.7 .6 -1.7-1.3z"/>
<path fill="rgb(0,124,255)" stroke="rgb(0,124,255)" stroke-width=".5" d="M581.9 183l1.7 1.3 7.6 .6 -1.6-1.3zM583.6 184.3l1.6 1.3 7.7 .6 -1.7-1.3z"/>
<path fill="rgb(0,125,255)" stroke="rgb(0,125,255)" stroke-width=".5" d="M585.2 185.6l1.7 1.3 7.6 .6 -1.6-1.3z"/>
<path fill="rgb(0,126,255)" stroke="rgb(0,126,255)" stroke-width=".5" d="M586.9 186.9l1.6 1.3 7.7 .6 -1.7-1.3z"/>
<path fill="rgb(0,127,255)" stroke="rgb(0,127,255)" stroke-width=".5" d="M588.5 188.2l1.7 1.3 7.6 .5 -1.6-1.2z"/>
<path fill="rgb(0,128,255)" stroke="rgb(0,128,255)" stroke-width=".5" d="M590.2 189.5l1.6 1.3 7.7 .5 -1.7-1.3z"/>
<path fill="rgb(0,129,255)" stroke="rgb(0,129,255)" stroke-width=".5" d="M591.8 190.8l1.7 1.3 7.6 .5 -1.6-1.3z"/>
<path fill="rgb(0,145,255)" stroke="rgb(0,145,255)" stroke-width=".5" d="M503.4 120.7l1.7 1.5 7.6 2.2 -1.6-1.5z"/>
<path fill="rgb(0,144,255)" stroke="rgb(0,144,255)" stroke-width=".5" d="M505.1 122.2l1.6 1.5 7.7 2.2 -1.7-1.5zM584.2 190.2l1.6 1.3 7.7 .6 -1.7-1.3z"/>
<path fill="rgb(0,143,255)" stroke="rgb(0,143,255)" stroke-width=".5" d="M506.7 123.7l1.7 1.5 7.6 2.2 -1.6-1.5zM582.5 188.9l1.7 1.3 7.6 .6 -1.6-1.3z"/>
<path fill="rgb(0,142,255)" stroke="rgb(0,142,255)" stroke-width=".5" d="M508.4 125.2l1.6 1.6 7.7 2 -1.7-1.4zM580.9 187.6l1.6 1.3 7.7 .6 -1.7-1.3z"/>
<path fill="rgb(0,141,255)" stroke="rgb(0,141,255)" stroke-width=".5" d="M510 126.8l1.7 1.5 7.6 2 -1.6-1.5zM511.7 128.3l1.6 1.5 7.7 2 -1.7-1.5zM577.6 184.9l1.6 1.3 7.7 .7 -1.7-1.3zM579.2 186.2l1.7 1.4 7.6 .6 -1.6-1.3z"/>
<path fill="rgb(0,140,255)" stroke="rgb(0,140,255)" stroke-width=".5" d="M513.3 129.8l1.7 1.5 7.6 1.9 -1.6-1.4zM575.9 183.6l1.7 1.3 7.6 .7 -1.6-1.3z"/>
<path fill="rgb(0,139,255)" stroke="rgb(0,139,255)" stroke-width=".5" d="M515 131.3l1.6 1.5 7.7 1.9 -1.7-1.5zM516.6 132.8l1.7 1.5 7.6 1.8 -1.6-1.4zM572.6 181l1.7 1.3 7.6 .7 -1.6-1.3zM574.3 182.3l1.6 1.3 7.7 .7 -1.7-1.3z"/>
<path fill="rgb(0,138,255)" stroke="rgb(0,138,255)" stroke-width=".5" d="M518.3 134.3l1.6 1.5 7.6 1.8 -1.6-1.5zM571 179.6l1.6 1.4 7.7 .7 -1.7-1.3z"/>
<path fill="rgb(0,137,255)" stroke="rgb(0,137,255)" stroke-width=".5" d="M519.9 135.8l1.6 1.5 7.7 1.7 -1.7-1.4zM521.5 137.3l1.7 1.5 7.6 1.7 -1.6-1.5zM567.7 176.9l1.6 1.4 7.7 .8 -1.7-1.4zM569.3 178.3l1.7 1.3 7.6 .8 -1.6-1.3z"/>
<path fill="rgb(0,136,255)" stroke="rgb(0,136,255)" stroke-width=".5" d="M523.2 138.8l1.6 1.4 7.7 1.7 -1.7-1.4zM524.8 140.2l1.7 1.5 7.6 1.6 -1.6-1.4zM564.4 174.2l1.6 1.4 7.7 .8 -1.7-1.3zM566 175.6l1.7 1.3 7.6 .8 -1.6-1.3z"/>
<path fill="rgb(0,135,255)" stroke="rgb(0,135,255)" stroke-width=".5" d="M526.5 141.7l1.6 1.5 7.7 1.5 -1.7-1.4zM528.1 143.2l1.7 1.4 7.6 1.6 -1.6-1.5zM529.8 144.6l1.6 1.5 7.7 1.5 -1.7-1.4zM559.5 170.1l1.6 1.4 7.6 .9 -1.6-1.3zM561.1 171.5l1.6 1.4 7.7 .8 -1.7-1.3zM562.7 172.9l1.7 1.3 7.6 .9 -1.6-1.4z"/>
<path fill="rgb(0,134,255)" stroke="rgb(0,134,255)" stroke-width=".5" d="M531.4 146.1l1.7 1.5 7.6 1.4 -1.6-1.4zM533.1 147.6l1.6 1.4 7.7 1.4 -1.7-1.4zM534.7 149l1.7 1.4 7.6 1.4 -1.6-1.4zM536.4 150.4l1.6 1.5 7.7 1.3 -1.7-1.4zM552.9 164.6l1.6 1.4 7.7 1 -1.7-1.4zM554.5 166l1.7 1.4 7.6 1 -1.6-1.4zM556.2 167.4l1.6 1.4 7.7 .9 -1.7-1.3zM557.8 168.8l1.7 1.3 7.6 1 -1.6-1.4z"/>
<path fill="rgb(0,133,255)" stroke="rgb(0,133,255)" stroke-width=".5" d="M538 151.9l1.7 1.4 7.6 1.3 -1.6-1.4zM539.7 153.3l1.6 1.4 7.7 1.3 -1.7-1.4zM541.3 154.7l1.7 1.5 7.6 1.2 -1.6-1.4zM543 156.2l1.6 1.4 7.7 1.2 -1.7-1.4zM544.6 157.6l1.7 1.4 7.6 1.2 -1.6-1.4zM546.3 159l1.6 1.4 7.7 1.1 -1.7-1.3zM547.9 160.4l1.7 1.4 7.6 1.1 -1.6-1.4zM549.6 161.8l1.6 1.4 7.7 1.1 -1.7-1.4zM551.2 163.2l1.7 1.4 7.6 1 -1.6-1.3z"/>
<path fill="rgb(0,175,255)" stroke="rgb(0,175,255)" stroke-width=".5" d="M495.8 118.2l1.6 1.6 7.7 2.4 -1.7-1.5zM532.6 157.6l1.7 1.5 7.6 1.5 -1.6-1.5zM534.3 159.1l1.6 1.5 7.7 1.4 -1.7-1.4zM563.9 184.6l1.7 1.4 7.6 .8 -1.6-1.3zM565.6 186l1.6 1.3 7.7 .8 -1.7-1.3z"/>
<path fill="rgb(0,174,255)" stroke="rgb(0,174,255)" stroke-width=".5" d="M497.4 119.8l1.7 1.6 7.6 2.3 -1.6-1.5zM535.9 160.6l1.7 1.5 7.6 1.3 -1.6-1.4zM537.6 162.1l1.6 1.4 7.7 1.3 -1.7-1.4zM539.2 163.5l1.7 1.5 7.6 1.2 -1.6-1.4zM560.6 181.9l1.7 1.3 7.6 .9 -1.6-1.3zM562.3 183.2l1.6 1.4 7.7 .9 -1.7-1.4z"/>
<path fill="rgb(0,172,255)" stroke="rgb(0,172,255)" stroke-width=".5" d="M499.1 121.4l1.6 1.6 7.7 2.2 -1.7-1.5z"/>
<path fill="rgb(0,171,255)" stroke="rgb(0,171,255)" stroke-width=".5" d="M500.7 123l1.7 1.5 7.6 2.3 -1.6-1.6z"/>
<path fill="rgb(0,170,255)" stroke="rgb(0,170,255)" stroke-width=".5" d="M502.4 124.5l1.6 1.6 7.7 2.2 -1.7-1.5z"/>
<path fill="rgb(0,168,255)" stroke="rgb(0,168,255)" stroke-width=".5" d="M504 126.1l1.7 1.6 7.6 2.1 -1.6-1.5z"/>
<path fill="rgb(0,167,255)" stroke="rgb(0,167,255)" stroke-width=".5" d="M505.7 127.7l1.6 1.5 7.7 2.1 -1.7-1.5z"/>
<path fill="rgb(0,166,255)" stroke="rgb(0,166,255)" stroke-width=".5" d="M507.3 129.2l1.7 1.6 7.6 2 -1.6-1.5z"/>
<path fill="rgb(0,165,255)" stroke="rgb(0,165,255)" stroke-width=".5" d="M509 130.8l1.6 1.5 7.7 2 -1.7-1.5z"/>
<path fill="rgb(0,164,255)" stroke="rgb(0,164,255)" stroke-width=".5" d="M510.6 132.3l1.7 1.5 7.6 2 -1.6-1.5z"/>
<path fill="rgb(0,163,255)" stroke="rgb(0,163,255)" stroke-width=".5" d="M512.3 133.8l1.6 1.6 7.6 1.9 -1.6-1.5z"/>
<path fill="rgb(0,162,255)" stroke="rgb(0,162,255)" stroke-width=".5" d="M513.9 135.4l1.6 1.5 7.7 1.9 -1.7-1.5z"/>
<path fill="rgb(0,161,255)" stroke="rgb(0,161,255)" stroke-width=".5" d="M515.5 136.9l1.7 1.5 7.6 1.8 -1.6-1.4zM517.2 138.4l1.6 1.5 7.7 1.8 -1.7-1.5z"/>
<path fill="rgb(0,160,255)" stroke="rgb(0,160,255)" stroke-width=".5" d="M518.8 139.9l1.7 1.5 7.6 1.8 -1.6-1.5zM576.5 189.5l1.7 1.3 7.6 .7 -1.6-1.3z"/>
<path fill="rgb(0,159,255)" stroke="rgb(0,159,255)" stroke-width=".5" d="M520.5 141.4l1.6 1.5 7.7 1.7 -1.7-1.4zM574.9 188.1l1.6 1.4 7.7 .7 -1.7-1.3z"/>
<path fill="rgb(0,158,255)" stroke="rgb(0,158,255)" stroke-width=".5" d="M522.1 142.9l1.7 1.5 7.6 1.7 -1.6-1.5zM523.8 144.4l1.6 1.5 7.7 1.7 -1.7-1.5zM571.6 185.5l1.6 1.3 7.7 .8 -1.7-1.4zM573.2 186.8l1.7 1.3 7.6 .8 -1.6-1.3z"/>
<path fill="rgb(0,157,255)" stroke="rgb(0,157,255)" stroke-width=".5" d="M525.4 145.9l1.7 1.5 7.6 1.6 -1.6-1.4zM569.9 184.1l1.7 1.4 7.6 .7 -1.6-1.3z"/>
<path fill="rgb(0,156,255)" stroke="rgb(0,156,255)" stroke-width=".5" d="M527.1 147.4l1.6 1.5 7.7 1.5 -1.7-1.4zM528.7 148.9l1.7 1.5 7.6 1.5 -1.6-1.5zM566.6 181.4l1.7 1.4 7.6 .8 -1.6-1.3zM568.3 182.8l1.6 1.3 7.7 .8 -1.7-1.3z"/>
<path fill="rgb(0,155,255)" stroke="rgb(0,155,255)" stroke-width=".5" d="M530.4 150.4l1.6 1.4 7.7 1.5 -1.7-1.4zM532 151.8l1.7 1.5 7.6 1.4 -1.6-1.4zM533.7 153.3l1.6 1.5 7.7 1.4 -1.7-1.5zM561.7 177.4l1.6 1.3 7.7 .9 -1.7-1.3zM563.3 178.7l1.7 1.4 7.6 .9 -1.6-1.4zM565 180.1l1.6 1.3 7.7 .9 -1.7-1.3z"/>
<path fill="rgb(0,154,255)" stroke="rgb(0,154,255)" stroke-width=".5" d="M535.3 154.8l1.7 1.4 7.6 1.4 -1.6-1.4zM537 156.2l1.6 1.5 7.7 1.3 -1.7-1.4zM538.6 157.7l1.7 1.4 7.6 1.3 -1.6-1.4zM556.7 173.2l1.7 1.4 7.6 1 -1.6-1.4zM558.4 174.6l1.6 1.4 7.7 .9 -1.7-1.3zM560 176l1.7 1.4 7.6 .9 -1.6-1.4z"/>
<path fill="rgb(0,153,255)" stroke="rgb(0,153,255)" stroke-width=".5" d="M540.3 159.1l1.6 1.5 7.7 1.2 -1.7-1.4zM541.9 160.6l1.7 1.4 7.6 1.2 -1.6-1.4zM543.6 162l1.6 1.4 7.7 1.2 -1.7-1.4zM545.2 163.4l1.7 1.4 7.6 1.2 -1.6-1.4zM546.9 164.8l1.6 1.4 7.7 1.2 -1.7-1.4zM548.5 166.2l1.7 1.5 7.6 1.1 -1.6-1.4zM550.2 167.7l1.6 1.4 7.7 1 -1.7-1.3zM551.8 169.1l1.7 1.4 7.6 1 -1.6-1.4zM553.5 170.5l1.6 1.4 7.6 1 -1.6-1.4zM555.1 171.9l1.6 1.3 7.7 1 -1.7-1.3z"/>
<path fill="rgb(0,206,255)" stroke="rgb(0,206,255)" stroke-width=".5" d="M488.1 115.6l1.7 1.6 7.6 2.6 -1.6-1.6zM511.8 143.7l1.6 1.5 7.7 2 -1.7-1.6z"/>
<path fill="rgb(0,204,255)" stroke="rgb(0,204,255)" stroke-width=".5" d="M489.8 117.2l1.6 1.7 7.7 2.5 -1.7-1.6zM515.1 146.8l1.6 1.5 7.7 1.9 -1.7-1.5z"/>
<path fill="rgb(0,203,255)" stroke="rgb(0,203,255)" stroke-width=".5" d="M491.4 118.9l1.7 1.6 7.6 2.5 -1.6-1.6zM516.7 148.3l1.7 1.6 7.6 1.8 -1.6-1.5z"/>
<path fill="rgb(0,201,255)" stroke="rgb(0,201,255)" stroke-width=".5" d="M493.1 120.5l1.6 1.6 7.7 2.4 -1.7-1.5zM520 151.4l1.7 1.6 7.6 1.7 -1.6-1.5z"/>
<path fill="rgb(0,199,255)" stroke="rgb(0,199,255)" stroke-width=".5" d="M494.7 122.1l1.7 1.6 7.6 2.4 -1.6-1.6zM523.3 154.5l1.7 1.5 7.6 1.6 -1.6-1.4z"/>
<path fill="rgb(0,198,255)" stroke="rgb(0,198,255)" stroke-width=".5" d="M496.4 123.7l1.6 1.6 7.7 2.4 -1.7-1.6zM525 156l1.6 1.5 7.7 1.6 -1.7-1.5z"/>
<path fill="rgb(0,196,255)" stroke="rgb(0,196,255)" stroke-width=".5" d="M498 125.3l1.7 1.6 7.6 2.3 -1.6-1.5zM529.9 160.5l1.7 1.5 7.6 1.5 -1.6-1.4z"/>
<path fill="rgb(0,195,255)" stroke="rgb(0,195,255)" stroke-width=".5" d="M499.7 126.9l1.6 1.6 7.7 2.3 -1.7-1.6zM531.6 162l1.6 1.5 7.7 1.5 -1.7-1.5zM533.2 163.5l1.7 1.5 7.6 1.4 -1.6-1.4z"/>
<path fill="rgb(0,193,255)" stroke="rgb(0,193,255)" stroke-width=".5" d="M501.3 128.5l1.7 1.6 7.6 2.2 -1.6-1.5zM539.8 169.4l1.7 1.4 7.6 1.3 -1.6-1.4zM541.5 170.8l1.6 1.5 7.6 1.2 -1.6-1.4zM543.1 172.3l1.6 1.4 7.7 1.2 -1.7-1.4zM556.3 183.6l1.6 1.4 7.7 1 -1.7-1.4zM557.9 185l1.7 1.4 7.6 .9 -1.6-1.3zM559.6 186.4l1.6 1.4 7.7 .9 -1.7-1.4zM561.2 187.8l1.7 1.3 7.6 .9 -1.6-1.3z"/>
<path fill="rgb(0,192,255)" stroke="rgb(0,192,255)" stroke-width=".5" d="M503 130.1l1.6 1.6 7.7 2.1 -1.7-1.5zM544.7 173.7l1.7 1.4 7.6 1.2 -1.6-1.4zM546.4 175.1l1.6 1.5 7.7 1.1 -1.7-1.4zM548 176.6l1.7 1.4 7.6 1.1 -1.6-1.4zM549.7 178l1.6 1.4 7.7 1.1 -1.7-1.4zM551.3 179.4l1.7 1.4 7.6 1.1 -1.6-1.4zM553 180.8l1.6 1.4 7.7 1 -1.7-1.3zM554.6 182.2l1.7 1.4 7.6 1 -1.6-1.4z"/>
<path fill="rgb(0,191,255)" stroke="rgb(0,191,255)" stroke-width=".5" d="M504.6 131.7l1.7 1.6 7.6 2.1 -1.6-1.6z"/>
<path fill="rgb(0,189,255)" stroke="rgb(0,189,255)" stroke-width=".5" d="M506.3 133.3l1.6 1.5 7.6 2.1 -1.6-1.5z"/>
<path fill="rgb(0,188,255)" stroke="rgb(0,188,255)" stroke-width=".5" d="M507.9 134.8l1.6 1.6 7.7 2 -1.7-1.5z"/>
<path fill="rgb(0,187,255)" stroke="rgb(0,187,255)" stroke-width=".5" d="M509.5 136.4l1.7 1.5 7.6 2 -1.6-1.5z"/>
<path fill="rgb(0,186,255)" stroke="rgb(0,186,255)" stroke-width=".5" d="M511.2 137.9l1.6 1.6 7.7 1.9 -1.7-1.5z"/>
<path fill="rgb(0,185,255)" stroke="rgb(0,185,255)" stroke-width=".5" d="M512.8 139.5l1.7 1.5 7.6 1.9 -1.6-1.5z"/>
<path fill="rgb(0,183,255)" stroke="rgb(0,183,255)" stroke-width=".5" d="M514.5 141l1.6 1.6 7.7 1.8 -1.7-1.5z"/>
<path fill="rgb(0,182,255)" stroke="rgb(0,182,255)" stroke-width=".5" d="M516.1 142.6l1.7 1.5 7.6 1.8 -1.6-1.5zM517.8 144.1l1.6 1.5 7.7 1.8 -1.7-1.5z"/>
<path fill="rgb(0,181,255)" stroke="rgb(0,181,255)" stroke-width=".5" d="M519.4 145.6l1.7 1.6 7.6 1.7 -1.6-1.5z"/>
<path fill="rgb(0,180,255)" stroke="rgb(0,180,255)" stroke-width=".5" d="M521.1 147.2l1.6 1.5 7.7 1.7 -1.7-1.5z"/>
<path fill="rgb(0,179,255)" stroke="rgb(0,179,255)" stroke-width=".5" d="M522.7 148.7l1.7 1.5 7.6 1.6 -1.6-1.4z"/>
<path fill="rgb(0,178,255)" stroke="rgb(0,178,255)" stroke-width=".5" d="M524.4 150.2l1.6 1.5 7.7 1.6 -1.7-1.5z"/>
<path fill="rgb(0,177,255)" stroke="rgb(0,177,255)" stroke-width=".5" d="M526 151.7l1.7 1.5 7.6 1.6 -1.6-1.5zM527.7 153.2l1.6 1.5 7.7 1.5 -1.7-1.4z"/>
<path fill="rgb(0,176,255)" stroke="rgb(0,176,255)" stroke-width=".5" d="M529.3 154.7l1.7 1.5 7.6 1.5 -1.6-1.5zM531 156.2l1.6 1.4 7.7 1.5 -1.7-1.4zM567.2 187.3l1.7 1.4 7.6 .8 -1.6-1.4zM568.9 188.7l1.6 1.3 7.7 .8 -1.7-1.3z"/>
<path fill="rgb(0,173,255)" stroke="rgb(0,173,255)" stroke-width=".5" d="M540.9 165l1.6 1.4 7.7 1.3 -1.7-1.5zM542.5 166.4l1.7 1.4 7.6 1.3 -1.6-1.4zM544.2 167.8l1.6 1.5 7.7 1.2 -1.7-1.4zM545.8 169.3l1.7 1.4 7.6 1.2 -1.6-1.4zM547.5 170.7l1.6 1.4 7.6 1.1 -1.6-1.3zM549.1 172.1l1.6 1.4 7.7 1.1 -1.7-1.4zM550.7 173.5l1.7 1.4 7.6 1.1 -1.6-1.4zM552.4 174.9l1.6 1.4 7.7 1.1 -1.7-1.4zM554 176.3l1.7 1.4 7.6 1 -1.6-1.3zM555.7 177.7l1.6 1.4 7.7 1 -1.7-1.4zM557.3 179.1l1.7 1.4 7.6 .9 -1.6-1.3zM559 180.5l1.6 1.4 7.7 .9 -1.7-1.4z"/>
<path fill="rgb(0,239,255)" stroke="rgb(0,239,255)" stroke-width=".5" d="M480.5 112.8l1.6 1.7 7.7 2.7 -1.7-1.6zM499.2 136.7l1.6 1.6 7.7 2.2 -1.7-1.5zM522.9 164.7l1.6 1.5 7.7 1.7 -1.7-1.5z"/>
<path fill="rgb(0,237,255)" stroke="rgb(0,237,255)" stroke-width=".5" d="M482.1 114.5l1.7 1.6 7.6 2.8 -1.6-1.7zM500.8 138.3l1.7 1.6 7.6 2.2 -1.6-1.6zM526.2 167.8l1.6 1.5 7.7 1.6 -1.7-1.5z"/>
<path fill="rgb(0,235,255)" stroke="rgb(0,235,255)" stroke-width=".5" d="M483.8 116.1l1.6 1.7 7.7 2.7 -1.7-1.6zM502.5 139.9l1.6 1.6 7.7 2.2 -1.7-1.6zM531.1 172.3l1.6 1.5 7.7 1.5 -1.7-1.5z"/>
<path fill="rgb(0,233,255)" stroke="rgb(0,233,255)" stroke-width=".5" d="M485.4 117.8l1.7 1.7 7.6 2.6 -1.6-1.6zM534.4 175.3l1.6 1.5 7.7 1.4 -1.7-1.5zM536 176.8l1.7 1.5 7.6 1.3 -1.6-1.4z"/>
<path fill="rgb(0,231,255)" stroke="rgb(0,231,255)" stroke-width=".5" d="M487.1 119.5l1.6 1.6 7.7 2.6 -1.7-1.6zM507.4 144.7l1.7 1.6 7.6 2 -1.6-1.5zM541 181.3l1.6 1.4 7.7 1.2 -1.7-1.4zM542.6 182.7l1.7 1.5 7.6 1.1 -1.6-1.4zM544.3 184.2l1.6 1.5 7.7 1.1 -1.7-1.5z"/>
<path fill="rgb(0,229,255)" stroke="rgb(0,229,255)" stroke-width=".5" d="M488.7 121.1l1.7 1.7 7.6 2.5 -1.6-1.6zM509.1 146.3l1.6 1.6 7.7 2 -1.7-1.6z"/>
<path fill="rgb(0,227,255)" stroke="rgb(0,227,255)" stroke-width=".5" d="M490.4 122.8l1.6 1.6 7.7 2.5 -1.7-1.6zM512.4 149.5l1.6 1.5 7.7 2 -1.7-1.6z"/>
<path fill="rgb(0,225,255)" stroke="rgb(0,225,255)" stroke-width=".5" d="M492 124.4l1.7 1.7 7.6 2.4 -1.6-1.6zM514 151l1.7 1.6 7.6 1.9 -1.6-1.5z"/>
<path fill="rgb(0,223,255)" stroke="rgb(0,223,255)" stroke-width=".5" d="M493.7 126.1l1.6 1.6 7.7 2.4 -1.7-1.6zM517.3 154.2l1.7 1.5 7.6 1.8 -1.6-1.5z"/>
<path fill="rgb(0,221,255)" stroke="rgb(0,221,255)" stroke-width=".5" d="M495.3 127.7l1.7 1.6 7.6 2.4 -1.6-1.6zM520.6 157.3l1.7 1.5 7.6 1.7 -1.6-1.5z"/>
<path fill="rgb(0,220,255)" stroke="rgb(0,220,255)" stroke-width=".5" d="M497 129.3l1.6 1.7 7.7 2.3 -1.7-1.6zM522.3 158.8l1.6 1.5 7.7 1.7 -1.7-1.5z"/>
<path fill="rgb(0,218,255)" stroke="rgb(0,218,255)" stroke-width=".5" d="M498.6 131l1.7 1.6 7.6 2.2 -1.6-1.5zM525.6 161.9l1.6 1.5 7.7 1.6 -1.7-1.5z"/>
<path fill="rgb(0,216,255)" stroke="rgb(0,216,255)" stroke-width=".5" d="M500.3 132.6l1.6 1.6 7.6 2.2 -1.6-1.6zM528.9 164.9l1.6 1.5 7.7 1.5 -1.7-1.5zM530.5 166.4l1.7 1.5 7.6 1.5 -1.6-1.5z"/>
<path fill="rgb(0,215,255)" stroke="rgb(0,215,255)" stroke-width=".5" d="M501.9 134.2l1.6 1.6 7.7 2.1 -1.7-1.5zM532.2 167.9l1.6 1.5 7.7 1.4 -1.7-1.4z"/>
<path fill="rgb(0,213,255)" stroke="rgb(0,213,255)" stroke-width=".5" d="M503.5 135.8l1.7 1.6 7.6 2.1 -1.6-1.6zM537.1 172.3l1.6 1.5 7.7 1.3 -1.7-1.4zM538.7 173.8l1.7 1.5 7.6 1.3 -1.6-1.5zM540.4 175.3l1.6 1.4 7.7 1.3 -1.7-1.4z"/>
<path fill="rgb(0,212,255)" stroke="rgb(0,212,255)" stroke-width=".5" d="M505.2 137.4l1.6 1.6 7.7 2 -1.7-1.5zM542 176.7l1.7 1.5 7.6 1.2 -1.6-1.4zM543.7 178.2l1.6 1.4 7.7 1.2 -1.7-1.4zM545.3 179.6l1.7 1.5 7.6 1.1 -1.6-1.4zM547 181.1l1.6 1.4 7.7 1.1 -1.7-1.4z"/>
<path fill="rgb(0,210,255)" stroke="rgb(0,210,255)" stroke-width=".5" d="M506.8 139l1.7 1.5 7.6 2.1 -1.6-1.6z"/>
<path fill="rgb(0,209,255)" stroke="rgb(0,209,255)" stroke-width=".5" d="M508.5 140.5l1.6 1.6 7.7 2 -1.7-1.5z"/>
<path fill="rgb(0,208,255)" stroke="rgb(0,208,255)" stroke-width=".5" d="M510.1 142.1l1.7 1.6 7.6 1.9 -1.6-1.5z"/>
<path fill="rgb(0,205,255)" stroke="rgb(0,205,255)" stroke-width=".5" d="M513.4 145.2l1.7 1.6 7.6 1.9 -1.6-1.5z"/>
<path fill="rgb(0,202,255)" stroke="rgb(0,202,255)" stroke-width=".5" d="M518.4 149.9l1.6 1.5 7.7 1.8 -1.7-1.5z"/>
<path fill="rgb(0,200,255)" stroke="rgb(0,200,255)" stroke-width=".5" d="M521.7 153l1.6 1.5 7.7 1.7 -1.7-1.5z"/>
<path fill="rgb(0,197,255)" stroke="rgb(0,197,255)" stroke-width=".5" d="M526.6 157.5l1.7 1.5 7.6 1.6 -1.6-1.5zM528.3 159l1.6 1.5 7.7 1.6 -1.7-1.5z"/>
<path fill="rgb(0,194,255)" stroke="rgb(0,194,255)" stroke-width=".5" d="M534.9 165l1.6 1.4 7.7 1.4 -1.7-1.4zM536.5 166.4l1.7 1.5 7.6 1.4 -1.6-1.5zM538.2 167.9l1.6 1.5 7.7 1.3 -1.7-1.4z"/>
<path fill="rgb(19,255,236)" stroke="rgb(19,255,236)" stroke-width=".5" d="M472.8 109.8l1.7 1.7 7.6 3 -1.6-1.7zM505.3 153.2l1.7 1.6 7.6 2.1 -1.6-1.6zM525.7 178.4l1.6 1.6 7.7 1.4 -1.7-1.5z"/>
<path fill="rgb(16,255,239)" stroke="rgb(16,255,239)" stroke-width=".5" d="M474.5 111.5l1.6 1.7 7.7 2.9 -1.7-1.6zM489.9 132.5l1.6 1.7 7.7 2.5 -1.7-1.7zM530.6 183.1l1.7 1.5 7.6 1.3 -1.6-1.5z"/>
<path fill="rgb(14,255,241)" stroke="rgb(14,255,241)" stroke-width=".5" d="M476.1 113.2l1.7 1.7 7.6 2.9 -1.6-1.7zM491.5 134.2l1.7 1.6 7.6 2.5 -1.6-1.6zM510.3 158l1.6 1.6 7.7 2 -1.7-1.6z"/>
<path fill="rgb(11,255,244)" stroke="rgb(11,255,244)" stroke-width=".5" d="M477.8 114.9l1.6 1.7 7.7 2.9 -1.7-1.7zM513.6 161.2l1.6 1.6 7.7 1.9 -1.7-1.5z"/>
<path fill="rgb(9,255,246)" stroke="rgb(9,255,246)" stroke-width=".5" d="M479.4 116.6l1.7 1.8 7.6 2.7 -1.6-1.6zM515.2 162.8l1.7 1.6 7.6 1.8 -1.6-1.5z"/>
<path fill="rgb(6,255,249)" stroke="rgb(6,255,249)" stroke-width=".5" d="M481.1 118.4l1.6 1.7 7.7 2.7 -1.7-1.7zM498.1 140.8l1.7 1.6 7.6 2.3 -1.6-1.6z"/>
<path fill="rgb(4,255,251)" stroke="rgb(4,255,251)" stroke-width=".5" d="M482.7 120.1l1.7 1.6 7.6 2.7 -1.6-1.6zM499.8 142.4l1.6 1.7 7.7 2.2 -1.7-1.6zM521.8 169.1l1.7 1.6 7.6 1.6 -1.6-1.5z"/>
<path fill="rgb(2,255,253)" stroke="rgb(2,255,253)" stroke-width=".5" d="M484.4 121.7l1.6 1.7 7.7 2.7 -1.7-1.7zM501.4 144.1l1.7 1.6 7.6 2.2 -1.6-1.6zM525.1 172.3l1.6 1.5 7.7 1.5 -1.7-1.5z"/>
<path fill="rgb(0,255,255)" stroke="rgb(0,255,255)" stroke-width=".5" d="M486 123.4l1.7 1.7 7.6 2.6 -1.6-1.6zM528.4 175.3l1.6 1.6 7.7 1.4 -1.7-1.5z"/>
<path fill="rgb(0,252,255)" stroke="rgb(0,252,255)" stroke-width=".5" d="M487.7 125.1l1.6 1.7 7.7 2.5 -1.7-1.6zM506.4 148.9l1.6 1.6 7.7 2.1 -1.7-1.6zM533.3 179.9l1.7 1.5 7.6 1.3 -1.6-1.4z"/>
<path fill="rgb(0,250,255)" stroke="rgb(0,250,255)" stroke-width=".5" d="M489.3 126.8l1.7 1.6 7.6 2.6 -1.6-1.7zM538.3 184.4l1.6 1.5 7.7 1.2 -1.7-1.4z"/>
<path fill="rgb(0,248,255)" stroke="rgb(0,248,255)" stroke-width=".5" d="M491 128.4l1.6 1.7 7.7 2.5 -1.7-1.6zM511.3 153.7l1.7 1.6 7.6 2 -1.6-1.6z"/>
<path fill="rgb(0,246,255)" stroke="rgb(0,246,255)" stroke-width=".5" d="M492.6 130.1l1.7 1.6 7.6 2.5 -1.6-1.6zM513 155.3l1.6 1.6 7.7 1.9 -1.7-1.5z"/>
<path fill="rgb(0,244,255)" stroke="rgb(0,244,255)" stroke-width=".5" d="M494.3 131.7l1.6 1.7 7.6 2.4 -1.6-1.6zM516.3 158.5l1.6 1.5 7.7 1.9 -1.7-1.6z"/>
<path fill="rgb(0,242,255)" stroke="rgb(0,242,255)" stroke-width=".5" d="M495.9 133.4l1.6 1.6 7.7 2.4 -1.7-1.6z"/>
<path fill="rgb(0,241,255)" stroke="rgb(0,241,255)" stroke-width=".5" d="M497.5 135l1.7 1.7 7.6 2.3 -1.6-1.6zM519.6 161.6l1.6 1.6 7.7 1.7 -1.7-1.5z"/>
<path fill="rgb(0,234,255)" stroke="rgb(0,234,255)" stroke-width=".5" d="M504.1 141.5l1.7 1.6 7.6 2.1 -1.6-1.5zM532.7 173.8l1.7 1.5 7.6 1.4 -1.6-1.4z"/>
<path fill="rgb(0,232,255)" stroke="rgb(0,232,255)" stroke-width=".5" d="M505.8 143.1l1.6 1.6 7.7 2.1 -1.7-1.6zM537.7 178.3l1.6 1.5 7.7 1.3 -1.7-1.5zM539.3 179.8l1.7 1.5 7.6 1.2 -1.6-1.4z"/>
<path fill="rgb(0,228,255)" stroke="rgb(0,228,255)" stroke-width=".5" d="M510.7 147.9l1.7 1.6 7.6 1.9 -1.6-1.5z"/>
<path fill="rgb(0,224,255)" stroke="rgb(0,224,255)" stroke-width=".5" d="M515.7 152.6l1.6 1.6 7.7 1.8 -1.7-1.5z"/>
<path fill="rgb(0,222,255)" stroke="rgb(0,222,255)" stroke-width=".5" d="M519 155.7l1.6 1.6 7.7 1.7 -1.7-1.5z"/>
<path fill="rgb(0,219,255)" stroke="rgb(0,219,255)" stroke-width=".5" d="M523.9 160.3l1.7 1.6 7.6 1.6 -1.6-1.5z"/>
<path fill="rgb(0,217,255)" stroke="rgb(0,217,255)" stroke-width=".5" d="M527.2 163.4l1.7 1.5 7.6 1.5 -1.6-1.4z"/>
<path fill="rgb(0,214,255)" stroke="rgb(0,214,255)" stroke-width=".5" d="M533.8 169.4l1.7 1.5 7.6 1.4 -1.6-1.5zM535.5 170.9l1.6 1.4 7.6 1.4 -1.6-1.4z"/>
<path fill="rgb(0,211,255)" stroke="rgb(0,211,255)" stroke-width=".5" d="M548.6 182.5l1.7 1.4 7.6 1.1 -1.6-1.4zM550.3 183.9l1.6 1.4 7.7 1.1 -1.7-1.4zM551.9 185.3l1.7 1.5 7.6 1 -1.6-1.4zM553.6 186.8l1.6 1.4 7.7 .9 -1.7-1.3z"/>
<path fill="rgb(55,255,200)" stroke="rgb(55,255,200)" stroke-width=".5" d="M465.2 106.5l1.6 1.8 7.7 3.2 -1.7-1.7zM506.5 165.3l1.7 1.6 7.6 2 -1.6-1.6z"/>
<path fill="rgb(52,255,203)" stroke="rgb(52,255,203)" stroke-width=".5" d="M466.8 108.3l1.7 1.8 7.6 3.1 -1.6-1.7zM494.4 147.5l1.6 1.7 7.7 2.4 -1.7-1.7z"/>
<path fill="rgb(49,255,206)" stroke="rgb(49,255,206)" stroke-width=".5" d="M468.5 110.1l1.6 1.8 7.7 3 -1.7-1.7zM482.3 129.7l1.6 1.7 7.6 2.8 -1.6-1.7zM511.5 170.3l1.6 1.6 7.6 1.8 -1.6-1.6z"/>
<path fill="rgb(46,255,209)" stroke="rgb(46,255,209)" stroke-width=".5" d="M470.1 111.9l1.7 1.7 7.6 3 -1.6-1.7zM483.9 131.4l1.6 1.7 7.7 2.7 -1.7-1.6zM514.7 173.5l1.7 1.7 7.6 1.7 -1.6-1.6z"/>
<path fill="rgb(44,255,211)" stroke="rgb(44,255,211)" stroke-width=".5" d="M471.8 113.6l1.6 1.8 7.7 3 -1.7-1.8zM485.5 133.1l1.7 1.8 7.6 2.6 -1.6-1.7zM516.4 175.2l1.6 1.6 7.7 1.6 -1.7-1.5z"/>
<path fill="rgb(41,255,214)" stroke="rgb(41,255,214)" stroke-width=".5" d="M473.4 115.4l1.7 1.7 7.6 3 -1.6-1.7zM487.2 134.9l1.6 1.7 7.7 2.5 -1.7-1.6zM502.6 155.9l1.7 1.6 7.6 2.1 -1.6-1.6zM519.7 178.4l1.6 1.6 7.7 1.6 -1.7-1.6z"/>
<path fill="rgb(38,255,217)" stroke="rgb(38,255,217)" stroke-width=".5" d="M475.1 117.1l1.6 1.7 7.7 2.9 -1.7-1.6zM505.9 159.2l1.7 1.6 7.6 2 -1.6-1.6zM523 181.6l1.6 1.7 7.7 1.3 -1.7-1.5z"/>
<path fill="rgb(35,255,220)" stroke="rgb(35,255,220)" stroke-width=".5" d="M476.7 118.8l1.7 1.8 7.6 2.8 -1.6-1.7z"/>
<path fill="rgb(33,255,222)" stroke="rgb(33,255,222)" stroke-width=".5" d="M478.4 120.6l1.6 1.7 7.7 2.8 -1.7-1.7z"/>
<path fill="rgb(30,255,225)" stroke="rgb(30,255,225)" stroke-width=".5" d="M480 122.3l1.7 1.7 7.6 2.8 -1.6-1.7zM495.4 143.3l1.7 1.7 7.6 2.3 -1.6-1.6z"/>
<path fill="rgb(28,255,227)" stroke="rgb(28,255,227)" stroke-width=".5" d="M481.7 124l1.6 1.7 7.7 2.7 -1.7-1.6zM497.1 145l1.6 1.6 7.7 2.3 -1.7-1.6z"/>
<path fill="rgb(25,255,230)" stroke="rgb(25,255,230)" stroke-width=".5" d="M483.3 125.7l1.7 1.7 7.6 2.7 -1.6-1.7z"/>
<path fill="rgb(23,255,232)" stroke="rgb(23,255,232)" stroke-width=".5" d="M485 127.4l1.6 1.7 7.7 2.6 -1.7-1.6zM520.7 173.7l1.7 1.6 7.6 1.6 -1.6-1.6z"/>
<path fill="rgb(21,255,234)" stroke="rgb(21,255,234)" stroke-width=".5" d="M486.6 129.1l1.7 1.7 7.6 2.6 -1.6-1.7z"/>
<path fill="rgb(18,255,237)" stroke="rgb(18,255,237)" stroke-width=".5" d="M488.3 130.8l1.6 1.7 7.6 2.5 -1.6-1.6zM527.3 180l1.7 1.6 7.6 1.3 -1.6-1.5z"/>
<path fill="rgb(12,255,243)" stroke="rgb(12,255,243)" stroke-width=".5" d="M493.2 135.8l1.6 1.7 7.7 2.4 -1.7-1.6zM511.9 159.6l1.7 1.6 7.6 2 -1.6-1.6z"/>
<path fill="rgb(10,255,245)" stroke="rgb(10,255,245)" stroke-width=".5" d="M494.8 137.5l1.7 1.6 7.6 2.4 -1.6-1.6z"/>
<path fill="rgb(8,255,247)" stroke="rgb(8,255,247)" stroke-width=".5" d="M496.5 139.1l1.6 1.7 7.7 2.3 -1.7-1.6zM516.9 164.4l1.6 1.6 7.7 1.8 -1.7-1.6z"/>
<path fill="rgb(1,255,254)" stroke="rgb(1,255,254)" stroke-width=".5" d="M503.1 145.7l1.6 1.6 7.7 2.2 -1.7-1.6zM526.7 173.8l1.7 1.5 7.6 1.5 -1.6-1.5z"/>
<path fill="rgb(0,254,255)" stroke="rgb(0,254,255)" stroke-width=".5" d="M504.7 147.3l1.7 1.6 7.6 2.1 -1.6-1.5zM530 176.9l1.7 1.5 7.6 1.4 -1.6-1.5z"/>
<path fill="rgb(0,251,255)" stroke="rgb(0,251,255)" stroke-width=".5" d="M508 150.5l1.7 1.6 7.6 2.1 -1.6-1.6zM535 181.4l1.6 1.5 7.7 1.3 -1.7-1.5zM536.6 182.9l1.7 1.5 7.6 1.3 -1.6-1.5z"/>
<path fill="rgb(0,249,255)" stroke="rgb(0,249,255)" stroke-width=".5" d="M509.7 152.1l1.6 1.6 7.7 2 -1.7-1.5z"/>
<path fill="rgb(0,245,255)" stroke="rgb(0,245,255)" stroke-width=".5" d="M514.6 156.9l1.7 1.6 7.6 1.8 -1.6-1.5z"/>
<path fill="rgb(0,243,255)" stroke="rgb(0,243,255)" stroke-width=".5" d="M517.9 160l1.7 1.6 7.6 1.8 -1.6-1.5z"/>
<path fill="rgb(0,240,255)" stroke="rgb(0,240,255)" stroke-width=".5" d="M521.2 163.2l1.7 1.5 7.6 1.7 -1.6-1.5z"/>
<path fill="rgb(0,238,255)" stroke="rgb(0,238,255)" stroke-width=".5" d="M524.5 166.2l1.7 1.6 7.6 1.6 -1.6-1.5z"/>
<path fill="rgb(0,236,255)" stroke="rgb(0,236,255)" stroke-width=".5" d="M527.8 169.3l1.7 1.5 7.6 1.5 -1.6-1.4zM529.5 170.8l1.6 1.5 7.6 1.5 -1.6-1.5z"/>
<path fill="rgb(0,230,255)" stroke="rgb(0,230,255)" stroke-width=".5" d="M545.9 185.7l1.7 1.4 7.6 1.1 -1.6-1.4z"/>
<path fill="rgb(93,255,162)" stroke="rgb(93,255,162)" stroke-width=".5" d="M457.5 103.1l1.7 1.8 7.6 3.4 -1.6-1.8zM492.3 156.1l1.6 1.8 7.7 2.4 -1.7-1.7z"/>
<path fill="rgb(90,255,165)" stroke="rgb(90,255,165)" stroke-width=".5" d="M459.2 104.9l1.6 1.8 7.7 3.4 -1.7-1.8z"/>
<path fill="rgb(87,255,168)" stroke="rgb(87,255,168)" stroke-width=".5" d="M460.8 106.7l1.7 1.9 7.6 3.3 -1.6-1.8zM506 176.6l1.7 1.8 7.6 1.7 -1.6-1.7z"/>
<path fill="rgb(83,255,172)" stroke="rgb(83,255,172)" stroke-width=".5" d="M462.5 108.6l1.6 1.8 7.7 3.2 -1.7-1.7zM474.6 126.7l1.7 1.8 7.6 2.9 -1.6-1.7zM486.7 144.8l1.7 1.8 7.6 2.6 -1.6-1.7zM498.9 163.1l1.6 1.7 7.7 2.1 -1.7-1.6z"/>
<path fill="rgb(80,255,175)" stroke="rgb(80,255,175)" stroke-width=".5" d="M464.1 110.4l1.7 1.7 7.6 3.3 -1.6-1.8zM476.3 128.5l1.6 1.7 7.6 2.9 -1.6-1.7zM500.5 164.8l1.7 1.7 7.6 2.1 -1.6-1.7z"/>
<path fill="rgb(77,255,178)" stroke="rgb(77,255,178)" stroke-width=".5" d="M465.8 112.1l1.6 1.8 7.7 3.2 -1.7-1.7zM477.9 130.2l1.6 1.8 7.7 2.9 -1.7-1.8z"/>
<path fill="rgb(74,255,181)" stroke="rgb(74,255,181)" stroke-width=".5" d="M467.4 113.9l1.7 1.8 7.6 3.1 -1.6-1.7z"/>
<path fill="rgb(71,255,184)" stroke="rgb(71,255,184)" stroke-width=".5" d="M469.1 115.7l1.6 1.8 7.7 3.1 -1.7-1.8zM495 153.5l1.6 1.7 7.7 2.3 -1.7-1.6zM507.1 171.6l1.6 1.7 7.7 1.9 -1.7-1.7z"/>
<path fill="rgb(68,255,187)" stroke="rgb(68,255,187)" stroke-width=".5" d="M470.7 117.5l1.7 1.8 7.6 3 -1.6-1.7zM496.6 155.2l1.7 1.7 7.6 2.3 -1.6-1.7z"/>
<path fill="rgb(65,255,190)" stroke="rgb(65,255,190)" stroke-width=".5" d="M472.4 119.3l1.6 1.7 7.7 3 -1.7-1.7z"/>
<path fill="rgb(62,255,193)" stroke="rgb(62,255,193)" stroke-width=".5" d="M474 121l1.7 1.8 7.6 2.9 -1.6-1.7zM501.6 160.3l1.6 1.6 7.7 2.2 -1.7-1.7zM513.7 178.4l1.6 1.7 7.7 1.5 -1.7-1.6z"/>
<path fill="rgb(59,255,196)" stroke="rgb(59,255,196)" stroke-width=".5" d="M475.7 122.8l1.6 1.7 7.7 2.9 -1.7-1.7zM489.4 142.4l1.7 1.7 7.6 2.5 -1.6-1.6zM503.2 161.9l1.7 1.7 7.6 2.1 -1.6-1.6z"/>
<path fill="rgb(57,255,198)" stroke="rgb(57,255,198)" stroke-width=".5" d="M477.3 124.5l1.7 1.8 7.6 2.8 -1.6-1.7zM491.1 144.1l1.6 1.7 7.7 2.5 -1.7-1.7zM504.9 163.6l1.6 1.7 7.7 2 -1.7-1.6z"/>
<path fill="rgb(54,255,201)" stroke="rgb(54,255,201)" stroke-width=".5" d="M479 126.3l1.6 1.7 7.7 2.8 -1.7-1.7zM492.7 145.8l1.7 1.7 7.6 2.4 -1.6-1.6z"/>
<path fill="rgb(51,255,204)" stroke="rgb(51,255,204)" stroke-width=".5" d="M480.6 128l1.7 1.7 7.6 2.8 -1.6-1.7zM509.8 168.6l1.7 1.7 7.6 1.8 -1.6-1.6z"/>
<path fill="rgb(39,255,216)" stroke="rgb(39,255,216)" stroke-width=".5" d="M488.8 136.6l1.7 1.6 7.6 2.6 -1.6-1.7zM504.3 157.5l1.6 1.7 7.7 2 -1.7-1.6zM521.3 180l1.7 1.6 7.6 1.5 -1.6-1.5z"/>
<path fill="rgb(37,255,218)" stroke="rgb(37,255,218)" stroke-width=".5" d="M490.5 138.2l1.6 1.7 7.7 2.5 -1.7-1.6z"/>
<path fill="rgb(34,255,221)" stroke="rgb(34,255,221)" stroke-width=".5" d="M492.1 139.9l1.7 1.7 7.6 2.5 -1.6-1.7zM509.2 162.4l1.7 1.7 7.6 1.9 -1.6-1.6z"/>
<path fill="rgb(32,255,223)" stroke="rgb(32,255,223)" stroke-width=".5" d="M493.8 141.6l1.6 1.7 7.7 2.4 -1.7-1.6zM510.9 164.1l1.6 1.6 7.7 1.9 -1.7-1.6z"/>
<path fill="rgb(26,255,229)" stroke="rgb(26,255,229)" stroke-width=".5" d="M498.7 146.6l1.7 1.7 7.6 2.2 -1.6-1.6zM517.5 170.5l1.6 1.6 7.6 1.7 -1.6-1.5z"/>
<path fill="rgb(24,255,231)" stroke="rgb(24,255,231)" stroke-width=".5" d="M500.4 148.3l1.6 1.6 7.7 2.2 -1.7-1.6zM519.1 172.1l1.6 1.6 7.7 1.6 -1.7-1.5z"/>
<path fill="rgb(22,255,233)" stroke="rgb(22,255,233)" stroke-width=".5" d="M502 149.9l1.7 1.7 7.6 2.1 -1.6-1.6zM522.4 175.3l1.6 1.6 7.7 1.5 -1.7-1.5z"/>
<path fill="rgb(20,255,235)" stroke="rgb(20,255,235)" stroke-width=".5" d="M503.7 151.6l1.6 1.6 7.7 2.1 -1.7-1.6zM524 176.9l1.7 1.5 7.6 1.5 -1.6-1.5z"/>
<path fill="rgb(17,255,238)" stroke="rgb(17,255,238)" stroke-width=".5" d="M507 154.8l1.6 1.6 7.7 2.1 -1.7-1.6zM529 181.6l1.6 1.5 7.7 1.3 -1.7-1.5z"/>
<path fill="rgb(15,255,240)" stroke="rgb(15,255,240)" stroke-width=".5" d="M508.6 156.4l1.7 1.6 7.6 2 -1.6-1.5z"/>
<path fill="rgb(7,255,248)" stroke="rgb(7,255,248)" stroke-width=".5" d="M518.5 166l1.7 1.6 7.6 1.7 -1.6-1.5z"/>
<path fill="rgb(5,255,250)" stroke="rgb(5,255,250)" stroke-width=".5" d="M520.2 167.6l1.6 1.5 7.7 1.7 -1.7-1.5z"/>
<path fill="rgb(3,255,252)" stroke="rgb(3,255,252)" stroke-width=".5" d="M523.5 170.7l1.6 1.6 7.6 1.5 -1.6-1.5z"/>
<path fill="rgb(0,253,255)" stroke="rgb(0,253,255)" stroke-width=".5" d="M531.7 178.4l1.6 1.5 7.7 1.4 -1.7-1.5z"/>
<path fill="rgb(133,255,122)" stroke="rgb(133,255,122)" stroke-width=".5" d="M449.9 99.4l1.6 1.9 7.7 3.6 -1.7-1.8zM460.4 116.2l1.6 1.8 7.7 3.4 -1.7-1.8zM470.8 132.9l1.7 1.8 7.6 3.1 -1.6-1.8z"/>
<path fill="rgb(130,255,125)" stroke="rgb(130,255,125)" stroke-width=".5" d="M451.5 101.3l1.7 1.9 7.6 3.5 -1.6-1.8zM462 118l1.7 1.8 7.6 3.4 -1.6-1.8zM472.5 134.7l1.6 1.8 7.7 3.1 -1.7-1.8z"/>
<path fill="rgb(126,255,129)" stroke="rgb(126,255,129)" stroke-width=".5" d="M453.2 103.2l1.6 1.8 7.7 3.6 -1.7-1.9zM463.7 119.8l1.6 1.9 7.7 3.2 -1.7-1.7zM474.1 136.5l1.7 1.8 7.6 3 -1.6-1.7zM491.8 167.4l1.7 1.8 7.6 2.2 -1.6-1.8z"/>
<path fill="rgb(122,255,133)" stroke="rgb(122,255,133)" stroke-width=".5" d="M454.8 105l1.7 1.9 7.6 3.5 -1.6-1.8zM486.3 155.3l1.6 1.8 7.7 2.5 -1.7-1.7zM493.5 169.2l1.6 1.8 7.6 2.1 -1.6-1.7z"/>
<path fill="rgb(119,255,136)" stroke="rgb(119,255,136)" stroke-width=".5" d="M456.5 106.9l1.6 1.8 7.7 3.4 -1.7-1.7zM467 123.5l1.6 1.8 7.7 3.2 -1.7-1.8zM495.1 171l1.6 1.9 7.7 2 -1.7-1.8z"/>
<path fill="rgb(115,255,140)" stroke="rgb(115,255,140)" stroke-width=".5" d="M458.1 108.7l1.7 1.8 7.6 3.4 -1.6-1.8zM489.6 158.9l1.6 1.8 7.7 2.4 -1.7-1.7z"/>
<path fill="rgb(112,255,143)" stroke="rgb(112,255,143)" stroke-width=".5" d="M459.8 110.5l1.6 1.9 7.7 3.3 -1.7-1.8zM491.2 160.7l1.7 1.8 7.6 2.3 -1.6-1.7zM498.4 174.7l1.6 1.8 7.7 1.9 -1.7-1.8z"/>
<path fill="rgb(108,255,147)" stroke="rgb(108,255,147)" stroke-width=".5" d="M461.4 112.4l1.7 1.8 7.6 3.3 -1.6-1.8zM484 147.3l1.7 1.8 7.6 2.6 -1.6-1.7z"/>
<path fill="rgb(105,255,150)" stroke="rgb(105,255,150)" stroke-width=".5" d="M463.1 114.2l1.6 1.8 7.7 3.3 -1.7-1.8zM485.7 149.1l1.6 1.8 7.7 2.6 -1.7-1.8z"/>
<path fill="rgb(102,255,153)" stroke="rgb(102,255,153)" stroke-width=".5" d="M464.7 116l1.7 1.8 7.6 3.2 -1.6-1.7zM487.3 150.9l1.7 1.7 7.6 2.6 -1.6-1.7z"/>
<path fill="rgb(98,255,157)" stroke="rgb(98,255,157)" stroke-width=".5" d="M466.4 117.8l1.6 1.8 7.7 3.2 -1.7-1.8zM499.5 169.6l1.6 1.8 7.6 1.9 -1.6-1.7z"/>
<path fill="rgb(95,255,160)" stroke="rgb(95,255,160)" stroke-width=".5" d="M468 119.6l1.7 1.8 7.6 3.1 -1.6-1.7zM480.1 137.8l1.7 1.8 7.6 2.8 -1.6-1.7zM501.1 171.4l1.6 1.7 7.7 1.9 -1.7-1.7z"/>
<path fill="rgb(92,255,163)" stroke="rgb(92,255,163)" stroke-width=".5" d="M469.7 121.4l1.6 1.8 7.7 3.1 -1.7-1.8zM481.8 139.6l1.6 1.7 7.7 2.8 -1.7-1.7zM502.7 173.1l1.7 1.8 7.6 1.8 -1.6-1.7z"/>
<path fill="rgb(89,255,166)" stroke="rgb(89,255,166)" stroke-width=".5" d="M471.3 123.2l1.7 1.7 7.6 3.1 -1.6-1.7zM483.4 141.3l1.7 1.8 7.6 2.7 -1.6-1.7zM504.4 174.9l1.6 1.7 7.7 1.8 -1.7-1.7z"/>
<path fill="rgb(86,255,169)" stroke="rgb(86,255,169)" stroke-width=".5" d="M473 124.9l1.6 1.8 7.7 3 -1.7-1.7zM485.1 143.1l1.6 1.7 7.7 2.7 -1.7-1.7z"/>
<path fill="rgb(75,255,180)" stroke="rgb(75,255,180)" stroke-width=".5" d="M479.5 132l1.7 1.7 7.6 2.9 -1.6-1.7z"/>
<path fill="rgb(72,255,183)" stroke="rgb(72,255,183)" stroke-width=".5" d="M481.2 133.7l1.6 1.8 7.7 2.7 -1.7-1.6z"/>
<path fill="rgb(69,255,186)" stroke="rgb(69,255,186)" stroke-width=".5" d="M482.8 135.5l1.7 1.7 7.6 2.7 -1.6-1.7zM508.7 173.3l1.7 1.7 7.6 1.8 -1.6-1.6z"/>
<path fill="rgb(67,255,188)" stroke="rgb(67,255,188)" stroke-width=".5" d="M484.5 137.2l1.6 1.7 7.7 2.7 -1.7-1.7zM510.4 175l1.6 1.7 7.7 1.7 -1.7-1.6z"/>
<path fill="rgb(64,255,191)" stroke="rgb(64,255,191)" stroke-width=".5" d="M486.1 138.9l1.7 1.8 7.6 2.6 -1.6-1.7zM499.9 158.6l1.7 1.7 7.6 2.1 -1.6-1.6zM512 176.7l1.7 1.7 7.6 1.6 -1.6-1.6z"/>
<path fill="rgb(61,255,194)" stroke="rgb(61,255,194)" stroke-width=".5" d="M487.8 140.7l1.6 1.7 7.7 2.6 -1.7-1.7z"/>
<path fill="rgb(50,255,205)" stroke="rgb(50,255,205)" stroke-width=".5" d="M496 149.2l1.7 1.6 7.6 2.4 -1.6-1.6z"/>
<path fill="rgb(48,255,207)" stroke="rgb(48,255,207)" stroke-width=".5" d="M497.7 150.8l1.6 1.7 7.7 2.3 -1.7-1.6z"/>
<path fill="rgb(45,255,210)" stroke="rgb(45,255,210)" stroke-width=".5" d="M499.3 152.5l1.7 1.7 7.6 2.2 -1.6-1.6z"/>
<path fill="rgb(43,255,212)" stroke="rgb(43,255,212)" stroke-width=".5" d="M501 154.2l1.6 1.7 7.7 2.1 -1.7-1.6z"/>
<path fill="rgb(36,255,219)" stroke="rgb(36,255,219)" stroke-width=".5" d="M507.6 160.8l1.6 1.6 7.7 2 -1.7-1.6z"/>
<path fill="rgb(31,255,224)" stroke="rgb(31,255,224)" stroke-width=".5" d="M512.5 165.7l1.7 1.6 7.6 1.8 -1.6-1.5z"/>
<path fill="rgb(29,255,226)" stroke="rgb(29,255,226)" stroke-width=".5" d="M514.2 167.3l1.6 1.6 7.7 1.8 -1.7-1.6z"/>
<path fill="rgb(27,255,228)" stroke="rgb(27,255,228)" stroke-width=".5" d="M515.8 168.9l1.7 1.6 7.6 1.8 -1.6-1.6z"/>
<path fill="rgb(175,255,80)" stroke="rgb(175,255,80)" stroke-width=".5" d="M442.2 95.5l1.7 1.9 7.6 3.9 -1.6-1.9z"/>
<path fill="rgb(171,255,84)" stroke="rgb(171,255,84)" stroke-width=".5" d="M443.9 97.4l1.6 1.9 7.7 3.9 -1.7-1.9zM463.2 129.5l1.6 1.9 7.7 3.3 -1.7-1.8zM477.6 157.3l1.6 1.9 7.7 2.6 -1.7-1.8z"/>
<path fill="rgb(167,255,88)" stroke="rgb(167,255,88)" stroke-width=".5" d="M445.5 99.3l1.7 1.9 7.6 3.8 -1.6-1.8zM464.8 131.4l1.7 1.9 7.6 3.2 -1.6-1.8zM479.2 159.2l1.7 1.9 7.6 2.6 -1.6-1.9zM483.1 170.4l1.6 1.9 7.7 2.2 -1.7-1.9z"/>
<path fill="rgb(163,255,92)" stroke="rgb(163,255,92)" stroke-width=".5" d="M447.2 101.2l1.6 1.9 7.7 3.8 -1.7-1.9zM466.5 133.3l1.6 1.8 7.7 3.2 -1.7-1.8zM480.9 161.1l1.6 1.9 7.7 2.5 -1.7-1.8zM484.7 172.3l1.7 2 7.6 2.1 -1.6-1.9z"/>
<path fill="rgb(159,255,96)" stroke="rgb(159,255,96)" stroke-width=".5" d="M448.8 103.1l1.7 1.9 7.6 3.7 -1.6-1.8zM468.1 135.1l1.7 1.9 7.6 3.2 -1.6-1.9zM482.5 163l1.7 2 7.6 2.4 -1.6-1.9z"/>
<path fill="rgb(155,255,100)" stroke="rgb(155,255,100)" stroke-width=".5" d="M450.5 105l1.6 1.9 7.7 3.6 -1.7-1.8zM484.2 165l1.6 1.9 7.7 2.3 -1.7-1.8z"/>
<path fill="rgb(151,255,104)" stroke="rgb(151,255,104)" stroke-width=".5" d="M452.1 106.9l1.7 1.9 7.6 3.6 -1.6-1.9zM485.8 166.9l1.7 1.9 7.6 2.2 -1.6-1.8z"/>
<path fill="rgb(148,255,107)" stroke="rgb(148,255,107)" stroke-width=".5" d="M453.8 108.8l1.6 1.8 7.7 3.6 -1.7-1.8zM473.1 140.7l1.6 1.8 7.7 3 -1.7-1.8z"/>
<path fill="rgb(144,255,111)" stroke="rgb(144,255,111)" stroke-width=".5" d="M455.4 110.6l1.7 1.9 7.6 3.5 -1.6-1.8z"/>
<path fill="rgb(140,255,115)" stroke="rgb(140,255,115)" stroke-width=".5" d="M457.1 112.5l1.6 1.8 7.7 3.5 -1.7-1.8zM467.5 129.2l1.7 1.9 7.6 3.2 -1.6-1.8zM485.2 160l1.7 1.8 7.6 2.5 -1.6-1.8z"/>
<path fill="rgb(137,255,118)" stroke="rgb(137,255,118)" stroke-width=".5" d="M458.7 114.3l1.7 1.9 7.6 3.4 -1.6-1.8z"/>
<path fill="rgb(123,255,132)" stroke="rgb(123,255,132)" stroke-width=".5" d="M465.3 121.7l1.7 1.8 7.6 3.2 -1.6-1.8zM475.8 138.3l1.6 1.9 7.7 2.9 -1.7-1.8z"/>
<path fill="rgb(116,255,139)" stroke="rgb(116,255,139)" stroke-width=".5" d="M468.6 125.3l1.7 1.8 7.6 3.1 -1.6-1.7zM496.7 172.9l1.7 1.8 7.6 1.9 -1.6-1.7z"/>
<path fill="rgb(113,255,142)" stroke="rgb(113,255,142)" stroke-width=".5" d="M470.3 127.1l1.6 1.8 7.6 3.1 -1.6-1.8z"/>
<path fill="rgb(110,255,145)" stroke="rgb(110,255,145)" stroke-width=".5" d="M471.9 128.9l1.6 1.8 7.7 3 -1.7-1.7z"/>
<path fill="rgb(107,255,148)" stroke="rgb(107,255,148)" stroke-width=".5" d="M473.5 130.7l1.7 1.8 7.6 3 -1.6-1.8z"/>
<path fill="rgb(103,255,152)" stroke="rgb(103,255,152)" stroke-width=".5" d="M475.2 132.5l1.6 1.8 7.7 2.9 -1.7-1.7zM496.2 166l1.6 1.8 7.7 2.1 -1.7-1.7z"/>
<path fill="rgb(100,255,155)" stroke="rgb(100,255,155)" stroke-width=".5" d="M476.8 134.3l1.7 1.7 7.6 2.9 -1.6-1.7zM497.8 167.8l1.7 1.8 7.6 2 -1.6-1.7z"/>
<path fill="rgb(97,255,158)" stroke="rgb(97,255,158)" stroke-width=".5" d="M478.5 136l1.6 1.8 7.7 2.9 -1.7-1.8z"/>
<path fill="rgb(81,255,174)" stroke="rgb(81,255,174)" stroke-width=".5" d="M488.4 146.6l1.6 1.7 7.7 2.5 -1.7-1.6z"/>
<path fill="rgb(78,255,177)" stroke="rgb(78,255,177)" stroke-width=".5" d="M490 148.3l1.7 1.7 7.6 2.5 -1.6-1.7zM502.2 166.5l1.6 1.7 7.7 2.1 -1.7-1.7z"/>
<path fill="rgb(76,255,179)" stroke="rgb(76,255,179)" stroke-width=".5" d="M491.7 150l1.6 1.7 7.7 2.5 -1.7-1.7zM503.8 168.2l1.7 1.7 7.6 2 -1.6-1.6z"/>
<path fill="rgb(73,255,182)" stroke="rgb(73,255,182)" stroke-width=".5" d="M493.3 151.7l1.7 1.8 7.6 2.4 -1.6-1.7zM505.5 169.9l1.6 1.7 7.6 1.9 -1.6-1.6z"/>
<path fill="rgb(66,255,189)" stroke="rgb(66,255,189)" stroke-width=".5" d="M498.3 156.9l1.6 1.7 7.7 2.2 -1.7-1.6z"/>
<path fill="rgb(53,255,202)" stroke="rgb(53,255,202)" stroke-width=".5" d="M508.2 166.9l1.6 1.7 7.7 1.9 -1.7-1.6z"/>
<path fill="rgb(47,255,208)" stroke="rgb(47,255,208)" stroke-width=".5" d="M513.1 171.9l1.6 1.6 7.7 1.8 -1.7-1.6z"/>
<path fill="rgb(42,255,213)" stroke="rgb(42,255,213)" stroke-width=".5" d="M518 176.8l1.7 1.6 7.6 1.6 -1.6-1.6z"/>
<path fill="rgb(219,255,36)" stroke="rgb(219,255,36)" stroke-width=".5" d="M434.6 91.4l1.6 1.9 7.7 4.1 -1.7-1.9zM452.3 122l1.6 1.9 7.6 3.7 -1.6-1.9zM459.4 135.8l1.7 2 7.6 3.4 -1.6-1.9z"/>
<path fill="rgb(215,255,40)" stroke="rgb(215,255,40)" stroke-width=".5" d="M436.2 93.3l1.7 2 7.6 4 -1.6-1.9zM445.1 108.6l1.6 1.9 7.7 3.9 -1.7-1.9zM461.1 137.8l1.6 2 7.7 3.3 -1.7-1.9zM466.6 150.3l1.7 2 7.6 3 -1.6-1.9z"/>
<path fill="rgb(211,255,44)" stroke="rgb(211,255,44)" stroke-width=".5" d="M437.9 95.3l1.6 1.9 7.7 4 -1.7-1.9zM446.7 110.5l1.7 1.9 7.6 3.9 -1.6-1.9z"/>
<path fill="rgb(206,255,49)" stroke="rgb(206,255,49)" stroke-width=".5" d="M439.5 97.2l1.7 1.9 7.6 4 -1.6-1.9zM457.2 127.8l1.6 1.9 7.7 3.6 -1.7-1.9zM464.4 141.7l1.6 2 7.7 3.2 -1.7-1.9z"/>
<path fill="rgb(202,255,53)" stroke="rgb(202,255,53)" stroke-width=".5" d="M441.2 99.1l1.6 2 7.7 3.9 -1.7-1.9zM458.8 129.7l1.7 2 7.6 3.4 -1.6-1.8zM466 143.7l1.7 1.9 7.6 3.2 -1.6-1.9zM473.8 165.9l1.7 2 7.6 2.5 -1.6-2z"/>
<path fill="rgb(198,255,57)" stroke="rgb(198,255,57)" stroke-width=".5" d="M442.8 101.1l1.7 1.9 7.6 3.9 -1.6-1.9zM451.7 116.2l1.6 2 7.7 3.7 -1.7-1.9z"/>
<path fill="rgb(193,255,62)" stroke="rgb(193,255,62)" stroke-width=".5" d="M444.5 103l1.6 1.9 7.7 3.9 -1.7-1.9zM462.1 133.6l1.7 1.9 7.6 3.3 -1.6-1.8zM469.3 147.6l1.7 1.9 7.6 3 -1.6-1.9z"/>
<path fill="rgb(189,255,66)" stroke="rgb(189,255,66)" stroke-width=".5" d="M446.1 104.9l1.7 1.9 7.6 3.8 -1.6-1.8zM463.8 135.5l1.6 1.9 7.7 3.3 -1.7-1.9z"/>
<path fill="rgb(185,255,70)" stroke="rgb(185,255,70)" stroke-width=".5" d="M447.8 106.8l1.6 1.9 7.7 3.8 -1.7-1.9zM465.4 137.4l1.7 1.9 7.6 3.2 -1.6-1.8z"/>
<path fill="rgb(181,255,74)" stroke="rgb(181,255,74)" stroke-width=".5" d="M449.4 108.7l1.7 1.9 7.6 3.7 -1.6-1.8zM467.1 139.3l1.6 1.9 7.7 3.2 -1.7-1.9zM478.2 164.4l1.6 2 7.7 2.4 -1.7-1.9z"/>
<path fill="rgb(177,255,78)" stroke="rgb(177,255,78)" stroke-width=".5" d="M451.1 110.6l1.6 1.9 7.7 3.7 -1.7-1.9zM468.7 141.2l1.7 1.9 7.6 3.1 -1.6-1.8zM479.8 166.4l1.7 2 7.6 2.3 -1.6-1.9z"/>
<path fill="rgb(173,255,82)" stroke="rgb(173,255,82)" stroke-width=".5" d="M452.7 112.5l1.7 1.9 7.6 3.6 -1.6-1.8zM470.4 143.1l1.6 1.9 7.7 3 -1.7-1.8z"/>
<path fill="rgb(169,255,86)" stroke="rgb(169,255,86)" stroke-width=".5" d="M454.4 114.4l1.6 1.9 7.7 3.5 -1.7-1.8zM472 145l1.7 1.9 7.6 3 -1.6-1.9z"/>
<path fill="rgb(165,255,90)" stroke="rgb(165,255,90)" stroke-width=".5" d="M456 116.3l1.7 1.8 7.6 3.6 -1.6-1.9zM473.7 146.9l1.6 1.9 7.7 2.9 -1.7-1.8z"/>
<path fill="rgb(162,255,93)" stroke="rgb(162,255,93)" stroke-width=".5" d="M457.7 118.1l1.6 1.9 7.7 3.5 -1.7-1.8zM475.3 148.8l1.7 1.8 7.6 2.9 -1.6-1.8z"/>
<path fill="rgb(158,255,97)" stroke="rgb(158,255,97)" stroke-width=".5" d="M459.3 120l1.7 1.9 7.6 3.4 -1.6-1.8zM477 150.6l1.6 1.9 7.7 2.8 -1.7-1.8z"/>
<path fill="rgb(154,255,101)" stroke="rgb(154,255,101)" stroke-width=".5" d="M461 121.9l1.6 1.8 7.7 3.4 -1.7-1.8zM478.6 152.5l1.7 1.9 7.6 2.7 -1.6-1.8z"/>
<path fill="rgb(150,255,105)" stroke="rgb(150,255,105)" stroke-width=".5" d="M462.6 123.7l1.7 1.9 7.6 3.3 -1.6-1.8zM480.3 154.4l1.6 1.9 7.7 2.6 -1.7-1.8z"/>
<path fill="rgb(147,255,108)" stroke="rgb(147,255,108)" stroke-width=".5" d="M464.3 125.6l1.6 1.8 7.6 3.3 -1.6-1.8zM481.9 156.3l1.7 1.8 7.6 2.6 -1.6-1.8zM487.5 168.8l1.6 1.9 7.6 2.2 -1.6-1.9z"/>
<path fill="rgb(143,255,112)" stroke="rgb(143,255,112)" stroke-width=".5" d="M465.9 127.4l1.6 1.8 7.7 3.3 -1.7-1.8zM483.6 158.1l1.6 1.9 7.7 2.5 -1.7-1.8zM489.1 170.7l1.6 1.9 7.7 2.1 -1.7-1.8z"/>
<path fill="rgb(136,255,119)" stroke="rgb(136,255,119)" stroke-width=".5" d="M469.2 131.1l1.6 1.8 7.7 3.1 -1.7-1.7zM486.9 161.8l1.6 1.9 7.7 2.3 -1.7-1.7z"/>
<path fill="rgb(120,255,135)" stroke="rgb(120,255,135)" stroke-width=".5" d="M477.4 140.2l1.7 1.7 7.6 2.9 -1.6-1.7z"/>
<path fill="rgb(117,255,138)" stroke="rgb(117,255,138)" stroke-width=".5" d="M479.1 141.9l1.6 1.8 7.7 2.9 -1.7-1.8z"/>
<path fill="rgb(114,255,141)" stroke="rgb(114,255,141)" stroke-width=".5" d="M480.7 143.7l1.7 1.8 7.6 2.8 -1.6-1.7z"/>
<path fill="rgb(111,255,144)" stroke="rgb(111,255,144)" stroke-width=".5" d="M482.4 145.5l1.6 1.8 7.7 2.7 -1.7-1.7z"/>
<path fill="rgb(99,255,156)" stroke="rgb(99,255,156)" stroke-width=".5" d="M489 152.6l1.6 1.8 7.7 2.5 -1.7-1.7z"/>
<path fill="rgb(96,255,159)" stroke="rgb(96,255,159)" stroke-width=".5" d="M490.6 154.4l1.7 1.7 7.6 2.5 -1.6-1.7z"/>
<path fill="rgb(91,255,164)" stroke="rgb(91,255,164)" stroke-width=".5" d="M493.9 157.9l1.7 1.7 7.6 2.3 -1.6-1.6z"/>
<path fill="rgb(88,255,167)" stroke="rgb(88,255,167)" stroke-width=".5" d="M495.6 159.6l1.6 1.8 7.7 2.2 -1.7-1.7z"/>
<path fill="rgb(85,255,170)" stroke="rgb(85,255,170)" stroke-width=".5" d="M497.2 161.4l1.7 1.7 7.6 2.2 -1.6-1.7z"/>
<path fill="rgb(60,255,195)" stroke="rgb(60,255,195)" stroke-width=".5" d="M515.3 180.1l1.7 1.6 7.6 1.6 -1.6-1.7z"/>
<path fill="rgb(255,244,0)" stroke="rgb(255,244,0)" stroke-width=".5" d="M426.9 87l1.7 2 7.6 4.3 -1.6-1.9zM443 116l1.6 2 7.7 4 -1.7-1.9z"/>
<path fill="rgb(255,249,0)" stroke="rgb(255,249,0)" stroke-width=".5" d="M428.6 89l1.6 1.9 7.7 4.4 -1.7-2z"/>
<path fill="rgb(255,254,0)" stroke="rgb(255,254,0)" stroke-width=".5" d="M430.2 90.9l1.7 2 7.6 4.3 -1.6-1.9z"/>
<path fill="rgb(251,255,4)" stroke="rgb(251,255,4)" stroke-width=".5" d="M431.9 92.9l1.6 2 7.7 4.2 -1.7-1.9z"/>
<path fill="rgb(247,255,8)" stroke="rgb(247,255,8)" stroke-width=".5" d="M433.5 94.9l1.7 2 7.6 4.2 -1.6-2zM449.5 124l1.7 1.9 7.6 3.8 -1.6-1.9z"/>
<path fill="rgb(242,255,13)" stroke="rgb(242,255,13)" stroke-width=".5" d="M435.2 96.9l1.6 1.9 7.7 4.2 -1.7-1.9z"/>
<path fill="rgb(237,255,18)" stroke="rgb(237,255,18)" stroke-width=".5" d="M436.8 98.8l1.7 2 7.6 4.1 -1.6-1.9zM445.7 114.2l1.6 2 7.7 3.9 -1.7-1.9z"/>
<path fill="rgb(233,255,22)" stroke="rgb(233,255,22)" stroke-width=".5" d="M438.5 100.8l1.6 1.9 7.7 4.1 -1.7-1.9zM454.5 129.9l1.6 2 7.7 3.6 -1.7-1.9z"/>
<path fill="rgb(228,255,27)" stroke="rgb(228,255,27)" stroke-width=".5" d="M440.1 102.7l1.7 2 7.6 4 -1.6-1.9zM449 118.1l1.6 2 7.7 3.8 -1.7-1.9z"/>
<path fill="rgb(224,255,31)" stroke="rgb(224,255,31)" stroke-width=".5" d="M441.8 104.7l1.6 1.9 7.7 4 -1.7-1.9zM457.8 133.9l1.6 1.9 7.7 3.5 -1.7-1.9zM467.2 157.5l1.7 2.1 7.6 2.8 -1.6-2z"/>
<path fill="rgb(220,255,35)" stroke="rgb(220,255,35)" stroke-width=".5" d="M443.4 106.6l1.7 2 7.6 3.9 -1.6-1.9zM465 148.3l1.6 2 7.7 3.1 -1.7-1.9z"/>
<path fill="rgb(207,255,48)" stroke="rgb(207,255,48)" stroke-width=".5" d="M448.4 112.4l1.6 1.9 7.7 3.8 -1.7-1.8zM472.2 163.8l1.6 2.1 7.7 2.5 -1.7-2z"/>
<path fill="rgb(203,255,52)" stroke="rgb(203,255,52)" stroke-width=".5" d="M450 114.3l1.7 1.9 7.6 3.8 -1.6-1.9z"/>
<path fill="rgb(194,255,61)" stroke="rgb(194,255,61)" stroke-width=".5" d="M453.3 118.2l1.7 1.9 7.6 3.6 -1.6-1.8z"/>
<path fill="rgb(190,255,65)" stroke="rgb(190,255,65)" stroke-width=".5" d="M455 120.1l1.6 1.9 7.7 3.6 -1.7-1.9z"/>
<path fill="rgb(186,255,69)" stroke="rgb(186,255,69)" stroke-width=".5" d="M456.6 122l1.7 1.9 7.6 3.5 -1.6-1.8zM476.5 162.4l1.7 2 7.6 2.5 -1.6-1.9z"/>
<path fill="rgb(182,255,73)" stroke="rgb(182,255,73)" stroke-width=".5" d="M458.3 123.9l1.6 1.8 7.6 3.5 -1.6-1.8z"/>
<path fill="rgb(178,255,77)" stroke="rgb(178,255,77)" stroke-width=".5" d="M459.9 125.7l1.6 1.9 7.7 3.5 -1.7-1.9z"/>
<path fill="rgb(174,255,81)" stroke="rgb(174,255,81)" stroke-width=".5" d="M461.5 127.6l1.7 1.9 7.6 3.4 -1.6-1.8z"/>
<path fill="rgb(156,255,99)" stroke="rgb(156,255,99)" stroke-width=".5" d="M469.8 137l1.6 1.8 7.7 3.1 -1.7-1.7z"/>
<path fill="rgb(152,255,103)" stroke="rgb(152,255,103)" stroke-width=".5" d="M471.4 138.8l1.7 1.9 7.6 3 -1.6-1.8z"/>
<path fill="rgb(145,255,110)" stroke="rgb(145,255,110)" stroke-width=".5" d="M474.7 142.5l1.7 1.9 7.6 2.9 -1.6-1.8z"/>
<path fill="rgb(141,255,114)" stroke="rgb(141,255,114)" stroke-width=".5" d="M476.4 144.4l1.6 1.8 7.7 2.9 -1.7-1.8z"/>
<path fill="rgb(138,255,117)" stroke="rgb(138,255,117)" stroke-width=".5" d="M478 146.2l1.7 1.8 7.6 2.9 -1.6-1.8z"/>
<path fill="rgb(135,255,120)" stroke="rgb(135,255,120)" stroke-width=".5" d="M479.7 148l1.6 1.9 7.7 2.7 -1.7-1.7zM492.4 174.5l1.6 1.9 7.7 1.9 -1.7-1.8z"/>
<path fill="rgb(131,255,124)" stroke="rgb(131,255,124)" stroke-width=".5" d="M481.3 149.9l1.7 1.8 7.6 2.7 -1.6-1.8z"/>
<path fill="rgb(128,255,127)" stroke="rgb(128,255,127)" stroke-width=".5" d="M483 151.7l1.6 1.8 7.7 2.6 -1.7-1.7z"/>
<path fill="rgb(125,255,130)" stroke="rgb(125,255,130)" stroke-width=".5" d="M484.6 153.5l1.7 1.8 7.6 2.6 -1.6-1.8z"/>
<path fill="rgb(118,255,137)" stroke="rgb(118,255,137)" stroke-width=".5" d="M487.9 157.1l1.7 1.8 7.6 2.5 -1.6-1.8z"/>
<path fill="rgb(109,255,146)" stroke="rgb(109,255,146)" stroke-width=".5" d="M492.9 162.5l1.6 1.8 7.7 2.2 -1.7-1.7zM500 176.5l1.7 1.8 7.6 1.8 -1.6-1.7z"/>
<path fill="rgb(106,255,149)" stroke="rgb(106,255,149)" stroke-width=".5" d="M494.5 164.3l1.7 1.7 7.6 2.2 -1.6-1.7z"/>
<path fill="rgb(84,255,171)" stroke="rgb(84,255,171)" stroke-width=".5" d="M507.7 178.4l1.6 1.7 7.7 1.6 -1.7-1.6z"/>
<path fill="rgb(255,196,0)" stroke="rgb(255,196,0)" stroke-width=".5" d="M419.3 82.3l1.6 2 7.7 4.7 -1.7-2zM440.8 123.9l1.7 2.1 7.6 4.1 -1.6-2.1z"/>
<path fill="rgb(255,201,0)" stroke="rgb(255,201,0)" stroke-width=".5" d="M420.9 84.3l1.7 2 7.6 4.6 -1.6-1.9zM446.4 137l1.6 2.1 7.7 3.7 -1.7-2.1z"/>
<path fill="rgb(255,206,0)" stroke="rgb(255,206,0)" stroke-width=".5" d="M422.6 86.3l1.6 2 7.7 4.6 -1.7-2z"/>
<path fill="rgb(255,211,0)" stroke="rgb(255,211,0)" stroke-width=".5" d="M424.2 88.3l1.7 2.1 7.6 4.5 -1.6-2z"/>
<path fill="rgb(255,216,0)" stroke="rgb(255,216,0)" stroke-width=".5" d="M425.9 90.4l1.6 2 7.7 4.5 -1.7-2z"/>
<path fill="rgb(255,221,0)" stroke="rgb(255,221,0)" stroke-width=".5" d="M427.5 92.4l1.7 2 7.6 4.4 -1.6-1.9z"/>
<path fill="rgb(255,226,0)" stroke="rgb(255,226,0)" stroke-width=".5" d="M429.2 94.4l1.6 2 7.7 4.4 -1.7-2zM453 145.7l1.6 2.2 7.7 3.3 -1.7-2.1z"/>
<path fill="rgb(255,231,0)" stroke="rgb(255,231,0)" stroke-width=".5" d="M430.8 96.4l1.7 2 7.6 4.3 -1.6-1.9z"/>
<path fill="rgb(255,236,0)" stroke="rgb(255,236,0)" stroke-width=".5" d="M432.5 98.4l1.6 2 7.7 4.3 -1.7-2zM452.4 138.6l1.6 2.1 7.7 3.6 -1.7-2z"/>
<path fill="rgb(255,241,0)" stroke="rgb(255,241,0)" stroke-width=".5" d="M434.1 100.4l1.7 2 7.6 4.2 -1.6-1.9z"/>
<path fill="rgb(255,246,0)" stroke="rgb(255,246,0)" stroke-width=".5" d="M435.8 102.4l1.6 1.9 7.7 4.3 -1.7-2z"/>
<path fill="rgb(255,250,0)" stroke="rgb(255,250,0)" stroke-width=".5" d="M437.4 104.3l1.7 2 7.6 4.2 -1.6-1.9zM451.8 132.1l1.6 2 7.7 3.7 -1.7-2z"/>
<path fill="rgb(255,255,0)" stroke="rgb(255,255,0)" stroke-width=".5" d="M439.1 106.3l1.6 2 7.7 4.1 -1.7-1.9zM453.4 134.1l1.7 2.1 7.6 3.6 -1.6-2z"/>
<path fill="rgb(250,255,5)" stroke="rgb(250,255,5)" stroke-width=".5" d="M440.7 108.3l1.7 2 7.6 4 -1.6-1.9zM455.1 136.2l1.6 2 7.7 3.5 -1.7-1.9z"/>
<path fill="rgb(246,255,9)" stroke="rgb(246,255,9)" stroke-width=".5" d="M442.4 110.3l1.6 1.9 7.7 4 -1.7-1.9zM460.6 149.1l1.7 2.1 7.6 3.2 -1.6-2.1zM462.9 158.8l1.6 2.2 7.7 2.8 -1.7-2.1z"/>
<path fill="rgb(241,255,14)" stroke="rgb(241,255,14)" stroke-width=".5" d="M444 112.2l1.7 2 7.6 4 -1.6-2z"/>
<path fill="rgb(232,255,23)" stroke="rgb(232,255,23)" stroke-width=".5" d="M447.3 116.2l1.7 1.9 7.6 3.9 -1.6-1.9z"/>
<path fill="rgb(223,255,32)" stroke="rgb(223,255,32)" stroke-width=".5" d="M450.6 120.1l1.7 1.9 7.6 3.7 -1.6-1.8z"/>
<path fill="rgb(214,255,41)" stroke="rgb(214,255,41)" stroke-width=".5" d="M453.9 123.9l1.6 2 7.7 3.6 -1.7-1.9z"/>
<path fill="rgb(210,255,45)" stroke="rgb(210,255,45)" stroke-width=".5" d="M455.5 125.9l1.7 1.9 7.6 3.6 -1.6-1.9zM462.7 139.8l1.7 1.9 7.6 3.3 -1.6-1.9zM468.3 152.3l1.6 2.1 7.7 2.9 -1.7-2z"/>
<path fill="rgb(197,255,58)" stroke="rgb(197,255,58)" stroke-width=".5" d="M460.5 131.7l1.6 1.9 7.7 3.4 -1.7-1.9zM467.7 145.6l1.6 2 7.7 3 -1.7-1.8zM475.5 167.9l1.6 2.1 7.6 2.3 -1.6-1.9z"/>
<path fill="rgb(132,255,123)" stroke="rgb(132,255,123)" stroke-width=".5" d="M488.5 163.7l1.7 1.8 7.6 2.3 -1.6-1.8z"/>
<path fill="rgb(129,255,126)" stroke="rgb(129,255,126)" stroke-width=".5" d="M490.2 165.5l1.6 1.9 7.7 2.2 -1.7-1.8z"/>
<path fill="rgb(255,145,0)" stroke="rgb(255,145,0)" stroke-width=".5" d="M411.6 77.3l1.7 2.1 7.6 4.9 -1.6-2z"/>
<path fill="rgb(255,150,0)" stroke="rgb(255,150,0)" stroke-width=".5" d="M413.3 79.4l1.6 2 7.7 4.9 -1.7-2zM427.7 106.9l1.6 2.2 7.7 4.6 -1.7-2.1zM433.2 119.5l1.6 2.2 7.7 4.3 -1.7-2.1z"/>
<path fill="rgb(255,156,0)" stroke="rgb(255,156,0)" stroke-width=".5" d="M414.9 81.4l1.7 2.1 7.6 4.8 -1.6-2zM429.3 109.1l1.7 2.1 7.6 4.5 -1.6-2z"/>
<path fill="rgb(255,161,0)" stroke="rgb(255,161,0)" stroke-width=".5" d="M416.6 83.5l1.6 2 7.7 4.9 -1.7-2.1z"/>
<path fill="rgb(255,167,0)" stroke="rgb(255,167,0)" stroke-width=".5" d="M418.2 85.5l1.7 2.1 7.6 4.8 -1.6-2zM432.6 113.3l1.7 2.1 7.6 4.4 -1.6-2z"/>
<path fill="rgb(255,172,0)" stroke="rgb(255,172,0)" stroke-width=".5" d="M419.9 87.6l1.6 2 7.7 4.8 -1.7-2z"/>
<path fill="rgb(255,177,0)" stroke="rgb(255,177,0)" stroke-width=".5" d="M421.5 89.6l1.7 2.1 7.6 4.7 -1.6-2z"/>
<path fill="rgb(255,183,0)" stroke="rgb(255,183,0)" stroke-width=".5" d="M423.2 91.7l1.6 2 7.7 4.7 -1.7-2z"/>
<path fill="rgb(255,188,0)" stroke="rgb(255,188,0)" stroke-width=".5" d="M424.8 93.7l1.7 2.1 7.6 4.6 -1.6-2zM443.1 132.6l1.6 2.2 7.7 3.8 -1.7-2.1z"/>
<path fill="rgb(255,193,0)" stroke="rgb(255,193,0)" stroke-width=".5" d="M426.5 95.8l1.6 2 7.7 4.6 -1.7-2zM433.7 109.5l1.6 2.1 7.7 4.4 -1.7-2z"/>
<path fill="rgb(255,198,0)" stroke="rgb(255,198,0)" stroke-width=".5" d="M428.1 97.8l1.7 2 7.6 4.5 -1.6-1.9zM435.3 111.6l1.7 2.1 7.6 4.3 -1.6-2z"/>
<path fill="rgb(255,203,0)" stroke="rgb(255,203,0)" stroke-width=".5" d="M429.8 99.8l1.6 2.1 7.7 4.4 -1.7-2zM437 113.7l1.6 2 7.7 4.3 -1.7-2z"/>
<path fill="rgb(255,209,0)" stroke="rgb(255,209,0)" stroke-width=".5" d="M431.4 101.9l1.7 2 7.6 4.4 -1.6-2zM438.6 115.7l1.7 2.1 7.6 4.2 -1.6-2z"/>
<path fill="rgb(255,214,0)" stroke="rgb(255,214,0)" stroke-width=".5" d="M433.1 103.9l1.6 2 7.7 4.4 -1.7-2zM440.3 117.8l1.6 2 7.6 4.2 -1.6-2zM449.7 141.3l1.6 2.2 7.7 3.5 -1.7-2.1z"/>
<path fill="rgb(255,219,0)" stroke="rgb(255,219,0)" stroke-width=".5" d="M434.7 105.9l1.7 2 7.6 4.3 -1.6-1.9zM441.9 119.8l1.6 2.1 7.7 4 -1.7-1.9zM447.4 132.3l1.7 2.1 7.6 3.8 -1.6-2z"/>
<path fill="rgb(255,224,0)" stroke="rgb(255,224,0)" stroke-width=".5" d="M436.4 107.9l1.6 2 7.7 4.3 -1.7-2zM443.5 121.9l1.7 2 7.6 4 -1.6-2z"/>
<path fill="rgb(255,229,0)" stroke="rgb(255,229,0)" stroke-width=".5" d="M438 109.9l1.7 2.1 7.6 4.2 -1.6-2z"/>
<path fill="rgb(255,234,0)" stroke="rgb(255,234,0)" stroke-width=".5" d="M439.7 112l1.6 2 7.7 4.1 -1.7-1.9z"/>
<path fill="rgb(255,239,0)" stroke="rgb(255,239,0)" stroke-width=".5" d="M441.3 114l1.7 2 7.6 4.1 -1.6-2zM456.3 150.1l1.6 2.2 7.7 3.1 -1.7-2.1z"/>
<path fill="rgb(255,248,0)" stroke="rgb(255,248,0)" stroke-width=".5" d="M444.6 118l1.7 2 7.6 3.9 -1.6-1.9z"/>
<path fill="rgb(255,253,0)" stroke="rgb(255,253,0)" stroke-width=".5" d="M446.3 120l1.6 2 7.6 3.9 -1.6-2zM457.3 144.9l1.7 2.1 7.6 3.3 -1.6-2z"/>
<path fill="rgb(252,255,3)" stroke="rgb(252,255,3)" stroke-width=".5" d="M447.9 122l1.6 2 7.7 3.8 -1.7-1.9zM459 147l1.6 2.1 7.7 3.2 -1.7-2zM461.2 156.6l1.7 2.2 7.6 2.9 -1.6-2.1z"/>
<path fill="rgb(243,255,12)" stroke="rgb(243,255,12)" stroke-width=".5" d="M451.2 125.9l1.6 2 7.7 3.8 -1.7-2z"/>
<path fill="rgb(238,255,17)" stroke="rgb(238,255,17)" stroke-width=".5" d="M452.8 127.9l1.7 2 7.6 3.7 -1.6-1.9z"/>
<path fill="rgb(229,255,26)" stroke="rgb(229,255,26)" stroke-width=".5" d="M456.1 131.9l1.7 2 7.6 3.5 -1.6-1.9zM465.6 155.4l1.6 2.1 7.7 2.9 -1.7-2z"/>
<path fill="rgb(188,255,67)" stroke="rgb(188,255,67)" stroke-width=".5" d="M471 149.5l1.6 2 7.7 2.9 -1.7-1.9z"/>
<path fill="rgb(184,255,71)" stroke="rgb(184,255,71)" stroke-width=".5" d="M472.6 151.5l1.7 1.9 7.6 2.9 -1.6-1.9z"/>
<path fill="rgb(180,255,75)" stroke="rgb(180,255,75)" stroke-width=".5" d="M474.3 153.4l1.6 1.9 7.7 2.8 -1.7-1.8z"/>
<path fill="rgb(176,255,79)" stroke="rgb(176,255,79)" stroke-width=".5" d="M475.9 155.3l1.7 2 7.6 2.7 -1.6-1.9z"/>
<path fill="rgb(139,255,116)" stroke="rgb(139,255,116)" stroke-width=".5" d="M490.7 172.6l1.7 1.9 7.6 2 -1.6-1.8z"/>
<path fill="rgb(255,91,0)" stroke="rgb(255,91,0)" stroke-width=".5" d="M404 72l1.6 2.1 7.7 5.3 -1.7-2.1z"/>
<path fill="rgb(255,97,0)" stroke="rgb(255,97,0)" stroke-width=".5" d="M405.6 74.1l1.7 2.1 7.6 5.2 -1.6-2z"/>
<path fill="rgb(255,103,0)" stroke="rgb(255,103,0)" stroke-width=".5" d="M407.3 76.2l1.6 2.1 7.7 5.2 -1.7-2.1z"/>
<path fill="rgb(255,109,0)" stroke="rgb(255,109,0)" stroke-width=".5" d="M408.9 78.3l1.7 2.1 7.6 5.1 -1.6-2z"/>
<path fill="rgb(255,115,0)" stroke="rgb(255,115,0)" stroke-width=".5" d="M410.6 80.4l1.6 2.1 7.7 5.1 -1.7-2.1z"/>
<path fill="rgb(255,120,0)" stroke="rgb(255,120,0)" stroke-width=".5" d="M412.2 82.5l1.7 2.1 7.6 5 -1.6-2zM419.4 96.3l1.7 2.2 7.6 4.8 -1.6-2z"/>
<path fill="rgb(255,126,0)" stroke="rgb(255,126,0)" stroke-width=".5" d="M413.9 84.6l1.6 2.1 7.7 5 -1.7-2.1zM421.1 98.5l1.6 2.1 7.7 4.8 -1.7-2.1z"/>
<path fill="rgb(255,132,0)" stroke="rgb(255,132,0)" stroke-width=".5" d="M415.5 86.7l1.7 2.1 7.6 4.9 -1.6-2zM422.7 100.6l1.7 2.1 7.6 4.8 -1.6-2.1z"/>
<path fill="rgb(255,137,0)" stroke="rgb(255,137,0)" stroke-width=".5" d="M417.2 88.8l1.6 2.1 7.7 4.9 -1.7-2.1zM429.9 115.1l1.6 2.2 7.7 4.5 -1.7-2.1z"/>
<path fill="rgb(255,143,0)" stroke="rgb(255,143,0)" stroke-width=".5" d="M418.8 90.9l1.7 2.1 7.6 4.8 -1.6-2z"/>
<path fill="rgb(255,149,0)" stroke="rgb(255,149,0)" stroke-width=".5" d="M420.5 93l1.6 2 7.7 4.8 -1.7-2z"/>
<path fill="rgb(255,154,0)" stroke="rgb(255,154,0)" stroke-width=".5" d="M422.1 95l1.7 2.1 7.6 4.8 -1.6-2.1z"/>
<path fill="rgb(255,160,0)" stroke="rgb(255,160,0)" stroke-width=".5" d="M423.8 97.1l1.6 2.1 7.7 4.7 -1.7-2z"/>
<path fill="rgb(255,165,0)" stroke="rgb(255,165,0)" stroke-width=".5" d="M425.4 99.2l1.7 2.1 7.6 4.6 -1.6-2z"/>
<path fill="rgb(255,171,0)" stroke="rgb(255,171,0)" stroke-width=".5" d="M427.1 101.3l1.6 2 7.7 4.6 -1.7-2z"/>
<path fill="rgb(255,176,0)" stroke="rgb(255,176,0)" stroke-width=".5" d="M428.7 103.3l1.7 2.1 7.6 4.5 -1.6-2zM439.8 128.2l1.6 2.2 7.7 4 -1.7-2.1z"/>
<path fill="rgb(255,182,0)" stroke="rgb(255,182,0)" stroke-width=".5" d="M430.4 105.4l1.6 2.1 7.7 4.5 -1.7-2.1zM441.4 130.4l1.7 2.2 7.6 3.9 -1.6-2.1z"/>
<path fill="rgb(255,187,0)" stroke="rgb(255,187,0)" stroke-width=".5" d="M432 107.5l1.7 2 7.6 4.5 -1.6-2z"/>
<path fill="rgb(255,230,0)" stroke="rgb(255,230,0)" stroke-width=".5" d="M445.2 123.9l1.6 2.1 7.7 3.9 -1.7-2zM450.7 136.5l1.7 2.1 7.6 3.7 -1.6-2.1z"/>
<path fill="rgb(255,235,0)" stroke="rgb(255,235,0)" stroke-width=".5" d="M446.8 126l1.7 2 7.6 3.9 -1.6-2z"/>
<path fill="rgb(255,240,0)" stroke="rgb(255,240,0)" stroke-width=".5" d="M448.5 128l1.6 2.1 7.7 3.8 -1.7-2z"/>
<path fill="rgb(255,245,0)" stroke="rgb(255,245,0)" stroke-width=".5" d="M450.1 130.1l1.7 2 7.6 3.7 -1.6-1.9zM457.9 152.3l1.7 2.1 7.6 3.1 -1.6-2.1z"/>
<path fill="rgb(245,255,10)" stroke="rgb(245,255,10)" stroke-width=".5" d="M456.7 138.2l1.7 2 7.6 3.5 -1.6-2z"/>
<path fill="rgb(240,255,15)" stroke="rgb(240,255,15)" stroke-width=".5" d="M458.4 140.2l1.6 2.1 7.7 3.3 -1.7-1.9zM462.3 151.2l1.6 2.1 7.7 3.1 -1.7-2zM464.5 161l1.7 2.2 7.6 2.7 -1.6-2.1z"/>
<path fill="rgb(235,255,20)" stroke="rgb(235,255,20)" stroke-width=".5" d="M460 142.3l1.7 2 7.6 3.3 -1.6-2zM463.9 153.3l1.7 2.1 7.6 3 -1.6-2z"/>
<path fill="rgb(230,255,25)" stroke="rgb(230,255,25)" stroke-width=".5" d="M461.7 144.3l1.6 2 7.7 3.2 -1.7-1.9z"/>
<path fill="rgb(225,255,30)" stroke="rgb(225,255,30)" stroke-width=".5" d="M463.3 146.3l1.7 2 7.6 3.2 -1.6-2z"/>
<path fill="rgb(205,255,50)" stroke="rgb(205,255,50)" stroke-width=".5" d="M469.9 154.4l1.7 2 7.6 2.8 -1.6-1.9z"/>
<path fill="rgb(200,255,55)" stroke="rgb(200,255,55)" stroke-width=".5" d="M471.6 156.4l1.6 2 7.7 2.7 -1.7-1.9z"/>
<path fill="rgb(195,255,60)" stroke="rgb(195,255,60)" stroke-width=".5" d="M473.2 158.4l1.7 2 7.6 2.6 -1.6-1.9z"/>
<path fill="rgb(191,255,64)" stroke="rgb(191,255,64)" stroke-width=".5" d="M474.9 160.4l1.6 2 7.7 2.6 -1.7-2zM477.1 170l1.6 2.1 7.7 2.2 -1.7-2z"/>
<path fill="rgb(172,255,83)" stroke="rgb(172,255,83)" stroke-width=".5" d="M481.5 168.4l1.6 2 7.6 2.2 -1.6-1.9z"/>
<path fill="rgb(255,35,0)" stroke="rgb(255,35,0)" stroke-width=".5" d="M396.3 66.4l1.7 2.1 7.6 5.6 -1.6-2.1zM403.5 80.1l1.7 2.2 7.6 5.5 -1.6-2.1z"/>
<path fill="rgb(255,42,0)" stroke="rgb(255,42,0)" stroke-width=".5" d="M398 68.5l1.6 2.2 7.7 5.5 -1.7-2.1z"/>
<path fill="rgb(255,48,0)" stroke="rgb(255,48,0)" stroke-width=".5" d="M399.6 70.7l1.7 2.1 7.6 5.5 -1.6-2.1zM406.8 84.5l1.7 2.2 7.6 5.4 -1.6-2.2z"/>
<path fill="rgb(255,54,0)" stroke="rgb(255,54,0)" stroke-width=".5" d="M401.3 72.8l1.6 2.2 7.7 5.4 -1.7-2.1zM408.5 86.7l1.6 2.2 7.7 5.3 -1.7-2.1z"/>
<path fill="rgb(255,60,0)" stroke="rgb(255,60,0)" stroke-width=".5" d="M402.9 75l1.7 2.1 7.6 5.4 -1.6-2.1z"/>
<path fill="rgb(255,66,0)" stroke="rgb(255,66,0)" stroke-width=".5" d="M404.6 77.1l1.6 2.2 7.7 5.3 -1.7-2.1z"/>
<path fill="rgb(255,72,0)" stroke="rgb(255,72,0)" stroke-width=".5" d="M406.2 79.3l1.7 2.1 7.6 5.3 -1.6-2.1z"/>
<path fill="rgb(255,78,0)" stroke="rgb(255,78,0)" stroke-width=".5" d="M407.9 81.4l1.6 2.1 7.7 5.3 -1.7-2.1z"/>
<path fill="rgb(255,84,0)" stroke="rgb(255,84,0)" stroke-width=".5" d="M409.5 83.5l1.7 2.2 7.6 5.2 -1.6-2.1z"/>
<path fill="rgb(255,90,0)" stroke="rgb(255,90,0)" stroke-width=".5" d="M411.2 85.7l1.6 2.1 7.7 5.2 -1.7-2.1z"/>
<path fill="rgb(255,96,0)" stroke="rgb(255,96,0)" stroke-width=".5" d="M412.8 87.8l1.7 2.1 7.6 5.1 -1.6-2z"/>
<path fill="rgb(255,102,0)" stroke="rgb(255,102,0)" stroke-width=".5" d="M414.5 89.9l1.6 2.2 7.7 5 -1.7-2.1z"/>
<path fill="rgb(255,108,0)" stroke="rgb(255,108,0)" stroke-width=".5" d="M416.1 92.1l1.7 2.1 7.6 5 -1.6-2.1z"/>
<path fill="rgb(255,114,0)" stroke="rgb(255,114,0)" stroke-width=".5" d="M417.8 94.2l1.6 2.1 7.7 5 -1.7-2.1z"/>
<path fill="rgb(255,138,0)" stroke="rgb(255,138,0)" stroke-width=".5" d="M424.4 102.7l1.6 2.1 7.7 4.7 -1.7-2z"/>
<path fill="rgb(255,144,0)" stroke="rgb(255,144,0)" stroke-width=".5" d="M426 104.8l1.7 2.1 7.6 4.7 -1.6-2.1zM431.5 117.3l1.7 2.2 7.6 4.4 -1.6-2.1z"/>
<path fill="rgb(255,162,0)" stroke="rgb(255,162,0)" stroke-width=".5" d="M431 111.2l1.6 2.1 7.7 4.5 -1.7-2.1z"/>
<path fill="rgb(255,173,0)" stroke="rgb(255,173,0)" stroke-width=".5" d="M434.3 115.4l1.6 2.1 7.6 4.4 -1.6-2.1z"/>
<path fill="rgb(255,179,0)" stroke="rgb(255,179,0)" stroke-width=".5" d="M435.9 117.5l1.6 2.2 7.7 4.2 -1.7-2z"/>
<path fill="rgb(255,185,0)" stroke="rgb(255,185,0)" stroke-width=".5" d="M437.5 119.7l1.7 2.1 7.6 4.2 -1.6-2.1z"/>
<path fill="rgb(255,191,0)" stroke="rgb(255,191,0)" stroke-width=".5" d="M439.2 121.8l1.6 2.1 7.7 4.1 -1.7-2z"/>
<path fill="rgb(255,202,0)" stroke="rgb(255,202,0)" stroke-width=".5" d="M442.5 126l1.6 2.1 7.7 4 -1.7-2z"/>
<path fill="rgb(255,208,0)" stroke="rgb(255,208,0)" stroke-width=".5" d="M444.1 128.1l1.7 2.1 7.6 3.9 -1.6-2z"/>
<path fill="rgb(255,213,0)" stroke="rgb(255,213,0)" stroke-width=".5" d="M445.8 130.2l1.6 2.1 7.7 3.9 -1.7-2.1z"/>
<path fill="rgb(255,225,0)" stroke="rgb(255,225,0)" stroke-width=".5" d="M449.1 134.4l1.6 2.1 7.7 3.7 -1.7-2z"/>
<path fill="rgb(255,242,0)" stroke="rgb(255,242,0)" stroke-width=".5" d="M454 140.7l1.7 2.1 7.6 3.5 -1.6-2z"/>
<path fill="rgb(255,247,0)" stroke="rgb(255,247,0)" stroke-width=".5" d="M455.7 142.8l1.6 2.1 7.7 3.4 -1.7-2z"/>
<path fill="rgb(218,255,37)" stroke="rgb(218,255,37)" stroke-width=".5" d="M468.9 159.6l1.6 2.1 7.7 2.7 -1.7-2z"/>
<path fill="rgb(213,255,42)" stroke="rgb(213,255,42)" stroke-width=".5" d="M470.5 161.7l1.7 2.1 7.6 2.6 -1.6-2z"/>
<path fill="rgb(231,0,0)" stroke="rgb(231,0,0)" stroke-width=".5" d="M388.7 60.5l1.6 2.1 7.7 5.9 -1.7-2.1z"/>
<path fill="rgb(238,0,0)" stroke="rgb(238,0,0)" stroke-width=".5" d="M390.3 62.6l1.7 2.2 7.6 5.9 -1.6-2.2z"/>
<path fill="rgb(245,0,0)" stroke="rgb(245,0,0)" stroke-width=".5" d="M392 64.8l1.6 2.2 7.7 5.8 -1.7-2.1z"/>
<path fill="rgb(251,0,0)" stroke="rgb(251,0,0)" stroke-width=".5" d="M393.6 67l1.7 2.2 7.6 5.8 -1.6-2.2z"/>
<path fill="rgb(255,2,0)" stroke="rgb(255,2,0)" stroke-width=".5" d="M395.3 69.2l1.6 2.2 7.7 5.7 -1.7-2.1z"/>
<path fill="rgb(255,9,0)" stroke="rgb(255,9,0)" stroke-width=".5" d="M396.9 71.4l1.7 2.2 7.6 5.7 -1.6-2.2z"/>
<path fill="rgb(255,15,0)" stroke="rgb(255,15,0)" stroke-width=".5" d="M398.6 73.6l1.6 2.2 7.7 5.6 -1.7-2.1z"/>
<path fill="rgb(255,22,0)" stroke="rgb(255,22,0)" stroke-width=".5" d="M400.2 75.8l1.7 2.1 7.6 5.6 -1.6-2.1z"/>
<path fill="rgb(255,28,0)" stroke="rgb(255,28,0)" stroke-width=".5" d="M401.9 77.9l1.6 2.2 7.7 5.6 -1.7-2.2z"/>
<path fill="rgb(255,41,0)" stroke="rgb(255,41,0)" stroke-width=".5" d="M405.2 82.3l1.6 2.2 7.7 5.4 -1.7-2.1z"/>
<path fill="rgb(255,61,0)" stroke="rgb(255,61,0)" stroke-width=".5" d="M410.1 88.9l1.7 2.2 7.6 5.2 -1.6-2.1z"/>
<path fill="rgb(255,67,0)" stroke="rgb(255,67,0)" stroke-width=".5" d="M411.8 91.1l1.6 2.1 7.7 5.3 -1.7-2.2z"/>
<path fill="rgb(255,74,0)" stroke="rgb(255,74,0)" stroke-width=".5" d="M413.4 93.2l1.7 2.2 7.6 5.2 -1.6-2.1z"/>
<path fill="rgb(255,80,0)" stroke="rgb(255,80,0)" stroke-width=".5" d="M415.1 95.4l1.6 2.2 7.7 5.1 -1.7-2.1z"/>
<path fill="rgb(255,86,0)" stroke="rgb(255,86,0)" stroke-width=".5" d="M416.7 97.6l1.7 2.2 7.6 5 -1.6-2.1z"/>
<path fill="rgb(255,93,0)" stroke="rgb(255,93,0)" stroke-width=".5" d="M418.4 99.8l1.6 2.2 7.7 4.9 -1.7-2.1z"/>
<path fill="rgb(255,99,0)" stroke="rgb(255,99,0)" stroke-width=".5" d="M420 102l1.7 2.2 7.6 4.9 -1.6-2.2z"/>
<path fill="rgb(255,106,0)" stroke="rgb(255,106,0)" stroke-width=".5" d="M421.7 104.2l1.6 2.2 7.7 4.8 -1.7-2.1z"/>
<path fill="rgb(255,112,0)" stroke="rgb(255,112,0)" stroke-width=".5" d="M423.3 106.4l1.7 2.1 7.6 4.8 -1.6-2.1z"/>
<path fill="rgb(255,118,0)" stroke="rgb(255,118,0)" stroke-width=".5" d="M425 108.5l1.6 2.2 7.7 4.7 -1.7-2.1z"/>
<path fill="rgb(255,125,0)" stroke="rgb(255,125,0)" stroke-width=".5" d="M426.6 110.7l1.7 2.2 7.6 4.6 -1.6-2.1z"/>
<path fill="rgb(255,131,0)" stroke="rgb(255,131,0)" stroke-width=".5" d="M428.3 112.9l1.6 2.2 7.6 4.6 -1.6-2.2z"/>
<path fill="rgb(255,157,0)" stroke="rgb(255,157,0)" stroke-width=".5" d="M434.8 121.7l1.7 2.1 7.6 4.3 -1.6-2.1z"/>
<path fill="rgb(255,163,0)" stroke="rgb(255,163,0)" stroke-width=".5" d="M436.5 123.8l1.6 2.2 7.7 4.2 -1.7-2.1z"/>
<path fill="rgb(255,169,0)" stroke="rgb(255,169,0)" stroke-width=".5" d="M438.1 126l1.7 2.2 7.6 4.1 -1.6-2.1z"/>
<path fill="rgb(255,195,0)" stroke="rgb(255,195,0)" stroke-width=".5" d="M444.7 134.8l1.7 2.2 7.6 3.7 -1.6-2.1z"/>
<path fill="rgb(255,207,0)" stroke="rgb(255,207,0)" stroke-width=".5" d="M448 139.1l1.7 2.2 7.6 3.6 -1.6-2.1z"/>
<path fill="rgb(255,220,0)" stroke="rgb(255,220,0)" stroke-width=".5" d="M451.3 143.5l1.7 2.2 7.6 3.4 -1.6-2.1z"/>
<path fill="rgb(255,232,0)" stroke="rgb(255,232,0)" stroke-width=".5" d="M454.6 147.9l1.7 2.2 7.6 3.2 -1.6-2.1z"/>
<path fill="rgb(255,251,0)" stroke="rgb(255,251,0)" stroke-width=".5" d="M459.6 154.4l1.6 2.2 7.7 3 -1.7-2.1z"/>
<path fill="rgb(234,255,21)" stroke="rgb(234,255,21)" stroke-width=".5" d="M466.2 163.2l1.6 2.2 7.7 2.5 -1.7-2z"/>
<path fill="rgb(227,255,28)" stroke="rgb(227,255,28)" stroke-width=".5" d="M467.8 165.4l1.7 2.2 7.6 2.4 -1.6-2.1z"/>
<path fill="rgb(221,255,34)" stroke="rgb(221,255,34)" stroke-width=".5" d="M469.5 167.6l1.6 2.1 7.6 2.4 -1.6-2.1z"/>
<path fill="none" stroke="#000" stroke-width="1.0" stroke-linejoin="round" stroke-linecap="round" d="M388.7 60.5l7.6 5.9 7.7 5.6 7.6 5.3 7.7 5 7.6 4.7 7.7 4.4 7.6 4.1 7.7 3.9 7.6 3.7 7.7 3.4 7.6 3.3 7.7 3 7.6 2.8 7.7 2.6 7.6 2.5 7.7 2.2 7.6 2.1 7.7 2 7.6 1.8 7.7 1.7 7.6 1.5 7.7 1.4 7.6 1.3 7.7 1.1 7.6 1.1M390.3 62.6l7.7 5.9 7.6 5.6 7.7 5.3 7.6 4.9 7.7 4.7 7.6 4.3 7.7 4.1 7.6 3.9 7.7 3.6 7.6 3.4 7.7 3.2 7.6 3 7.7 2.7 7.6 2.6 7.7 2.4 7.6 2.2 7.7 2.1 7.6 1.9 7.7 1.7 7.6 1.6 7.7 1.5 7.6 1.3 7.7 1.2 7.6 1.1 7.6 1M392 64.8l7.6 5.9 7.7 5.5 7.6 5.2 7.7 4.9 7.6 4.6 7.7 4.4 7.6 4 7.7 3.9 7.6 3.5 7.7 3.4 7.6 3.1 7.7 2.9 7.6 2.8 7.7 2.5 7.6 2.3 7.7 2.2 7.6 2 7.7 1.8 7.6 1.7 7.7 1.6 7.6 1.4 7.7 1.2 7.6 1.2 7.6 1 7.7 .9M393.6 67l7.7 5.8 7.6 5.5 7.7 5.2 7.6 4.8 7.7 4.6 7.6 4.3 7.7 4 7.6 3.8 7.7 3.6 7.6 3.3 7.7 3 7.6 2.9 7.7 2.7 7.6 2.5 7.7 2.2 7.6 2.2 7.7 1.9 7.6 1.8 7.7 1.6 7.6 1.5 7.7 1.4 7.6 1.2 7.6 1.1 7.7 .9 7.6 .9M395.3 69.2l7.6 5.8 7.7 5.4 7.6 5.1 7.7 4.9 7.6 4.5 7.7 4.2 7.6 4 7.7 3.8 7.6 3.5 7.7 3.2 7.6 3 7.7 2.9 7.6 2.6 7.7 2.4 7.6 2.3 7.7 2 7.6 1.9 7.7 1.8 7.6 1.5 7.7 1.5 7.6 1.3 7.6 1.1 7.7 1 7.6 .9 7.7 .8M396.9 71.4l7.7 5.7 7.6 5.4 7.7 5.1 7.6 4.8 7.7 4.5 7.6 4.2 7.7 3.9 7.6 3.7 7.7 3.4 7.6 3.3 7.7 3 7.6 2.7 7.7 2.6 7.6 2.4 7.7 2.2 7.6 2 7.7 1.9 7.6 1.6 7.7 1.6 7.6 1.3 7.6 1.3 7.7 1.1 7.6 .9 7.7 .9 7.6 .7M398.6 73.6l7.6 5.7 7.7 5.3 7.6 5 7.7 4.8 7.6 4.4 7.7 4.2 7.6 3.9 7.7 3.6 7.6 3.4 7.7 3.2 7.6 3 7.7 2.7 7.6 2.5 7.7 2.4 7.6 2.1 7.7 2 7.6 1.8 7.7 1.6 7.6 1.5 7.6 1.3 7.7 1.2 7.6 1 7.7 .9 7.6 .8 7.7 .6M400.2 75.8l7.7 5.6 7.6 5.3 7.7 5 7.6 4.7 7.7 4.4 7.6 4.1 7.7 3.9 7.6 3.6 7.7 3.3 7.6 3.1 7.7 2.9 7.6 2.7 7.7 2.5 7.6 2.3 7.7 2.1 7.6 1.9 7.7 1.8 7.6 1.6 7.6 1.4 7.7 1.2 7.6 1.2 7.7 1 7.6 .8 7.7 .7 7.6 .6M401.9 77.9l7.6 5.6 7.7 5.3 7.6 4.9 7.7 4.7 7.6 4.3 7.7 4.1 7.6 3.8 7.7 3.6 7.6 3.3 7.7 3.1 7.6 2.8 7.7 2.7 7.6 2.4 7.7 2.3 7.6 2 7.7 1.9 7.6 1.7 7.6 1.5 7.7 1.4 7.6 1.2 7.7 1.1 7.6 .9 7.7 .8 7.6 .7 7.7 .5M403.5 80.1l7.7 5.6 7.6 5.2 7.7 4.9 7.6 4.6 7.7 4.3 7.6 4 7.7 3.8 7.6 3.5 7.7 3.3 7.6 3 7.7 2.8 7.6 2.6 7.7 2.4 7.6 2.2 7.7 2 7.6 1.8 7.6 1.7 7.7 1.5 7.6 1.3 7.7 1.2 7.6 1 7.7 .9 7.6 .7 7.7 .6 7.6 .5M405.2 82.3l7.6 5.5 7.7 5.2 7.6 4.8 7.7 4.6 7.6 4.2 7.7 4 7.6 3.7 7.7 3.5 7.6 3.2 7.7 3 7.6 2.8 7.7 2.5 7.6 2.4 7.7 2.1 7.6 2 7.6 1.8 7.7 1.6 7.6 1.4 7.7 1.3 7.6 1.1 7.7 1 7.6 .8 7.7 .7 7.6 .6 7.7 .4M406.8 84.5l7.7 5.4 7.6 5.1 7.7 4.8 7.6 4.5 7.7 4.3 7.6 3.9 7.7 3.7 7.6 3.4 7.7 3.2 7.6 2.9 7.7 2.7 7.6 2.6 7.7 2.3 7.6 2.1 7.6 1.9 7.7 1.7 7.6 1.6 7.7 1.4 7.6 1.2 7.7 1.1 7.6 .9 7.7 .8 7.6 .6 7.7 .5 7.6 .4M408.5 86.7l7.6 5.4 7.7 5 7.6 4.8 7.7 4.4 7.6 4.2 7.7 3.9 7.6 3.6 7.7 3.4 7.6 3.1 7.7 2.9 7.6 2.7 7.7 2.5 7.6 2.2 7.6 2.1 7.7 1.9 7.6 1.7 7.7 1.5 7.6 1.3 7.7 1.2 7.6 1 7.7 .9 7.6 .8 7.7 .5 7.6 .5 7.7 .3M410.1 88.9l7.7 5.3 7.6 5 7.7 4.7 7.6 4.4 7.7 4.1 7.6 3.9 7.7 3.5 7.6 3.4 7.7 3.1 7.6 2.8 7.7 2.6 7.6 2.5 7.6 2.2 7.7 2 7.6 1.8 7.7 1.7 7.6 1.5 7.7 1.3 7.6 1.1 7.7 1 7.6 .8 7.7 .7 7.6 .6 7.7 .4 7.6 .3M411.8 91.1l7.6 5.2 7.7 5 7.6 4.6 7.7 4.4 7.6 4 7.7 3.8 7.6 3.6 7.7 3.2 7.6 3.1 7.7 2.8 7.6 2.6 7.6 2.4 7.7 2.1 7.6 2 7.7 1.8 7.6 1.6 7.7 1.5 7.6 1.2 7.7 1.1 7.6 1 7.7 .8 7.6 .6 7.7 .5 7.6 .4 7.7 .2M413.4 93.2l7.7 5.3 7.6 4.8 7.7 4.6 7.6 4.3 7.7 4 7.6 3.8 7.7 3.5 7.6 3.2 7.7 3 7.6 2.8 7.6 2.5 7.7 2.4 7.6 2.1 7.7 1.9 7.6 1.8 7.7 1.5 7.6 1.4 7.7 1.3 7.6 1 7.7 .9 7.6 .8 7.7 .6 7.6 .4 7.7 .4 7.6 .2M415.1 95.4l7.6 5.2 7.7 4.8 7.6 4.5 7.7 4.3 7.6 4 7.7 3.7 7.6 3.4 7.7 3.2 7.6 2.9 7.6 2.8 7.7 2.5 7.6 2.3 7.7 2 7.6 1.9 7.7 1.7 7.6 1.6 7.7 1.3 7.6 1.2 7.7 1 7.6 .9 7.7 .7 7.6 .6 7.7 .4 7.6 .3 7.7 .1M416.7 97.6l7.7 5.1 7.6 4.8 7.7 4.5 7.6 4.2 7.7 3.9 7.6 3.6 7.7 3.4 7.6 3.1 7.6 2.9 7.7 2.7 7.6 2.5 7.7 2.2 7.6 2.1 7.7 1.8 7.6 1.7 7.7 1.5 7.6 1.3 7.7 1.1 7.6 1 7.7 .8 7.6 .7 7.7 .5 7.6 .4 7.7 .3 7.6 .1M418.4 99.8l7.6 5 7.7 4.7 7.6 4.5 7.7 4.1 7.6 3.9 7.7 3.6 7.6 3.3 7.6 3.1 7.7 2.9 7.6 2.6 7.7 2.4 7.6 2.2 7.7 2 7.6 1.8 7.7 1.7 7.6 1.4 7.7 1.3 7.6 1.1 7.7 .9 7.6 .8 7.7 .6 7.6 .5 7.7 .4 7.6 .2 7.7 .1M420 102l7.7 4.9 7.6 4.7 7.7 4.4 7.6 4.1 7.7 3.8 7.6 3.5 7.6 3.3 7.7 3 7.6 2.9 7.7 2.5 7.6 2.4 7.7 2.2 7.6 1.9 7.7 1.8 7.6 1.6 7.7 1.4 7.6 1.2 7.7 1.1 7.6 .9 7.7 .8 7.6 .6 7.7 .4 7.6 .3 7.7 .2 7.6 .1M421.7 104.2l7.6 4.9 7.7 4.6 7.6 4.3 7.7 4 7.6 3.7 7.6 3.5 7.7 3.3 7.6 3 7.7 2.7 7.6 2.6 7.7 2.3 7.6 2.1 7.7 2 7.6 1.7 7.7 1.5 7.6 1.4 7.7 1.2 7.6 1 7.7 .9 7.6 .7 7.7 .6 7.6 .4 7.7 .3 7.6 .1 7.7 .1M423.3 106.4l7.7 4.8 7.6 4.5 7.7 4.3 7.6 3.9 7.6 3.7 7.7 3.5 7.6 3.2 7.7 2.9 7.6 2.7 7.7 2.5 7.6 2.3 7.7 2.1 7.6 1.9 7.7 1.7 7.6 1.5 7.7 1.3 7.6 1.2 7.7 1 7.6 .8 7.7 .7 7.6 .5 7.7 .4 7.6 .3 7.7 .1 7.6 0M425 108.5l7.6 4.8 7.7 4.5 7.6 4.2 7.6 3.9 7.7 3.6 7.6 3.4 7.7 3.1 7.6 2.9 7.7 2.7 7.6 2.5 7.7 2.2 7.6 2 7.7 1.9 7.6 1.6 7.7 1.5 7.6 1.3 7.7 1.1 7.6 1 7.7 .8 7.6 .7 7.7 .5 7.6 .3 7.7 .2 7.6 .1 7.7 0M426.6 110.7l7.7 4.7 7.6 4.4 7.6 4.2 7.7 3.8 7.6 3.6 7.7 3.3 7.6 3.1 7.7 2.9 7.6 2.6 7.7 2.4 7.6 2.2 7.7 2 7.6 1.8 7.7 1.6 7.6 1.4 7.7 1.3 7.6 1.1 7.7 .9 7.6 .8 7.7 .6 7.6 .5 7.7 .3 7.6 .2 7.7 .1 7.6-.1M428.3 112.9l7.6 4.6 7.6 4.4 7.7 4 7.6 3.8 7.7 3.6 7.6 3.2 7.7 3.1 7.6 2.8 7.7 2.6 7.6 2.3 7.7 2.2 7.6 1.9 7.7 1.8 7.6 1.6 7.7 1.4 7.6 1.2 7.7 1.1 7.6 .9 7.7 .7 7.6 .6 7.7 .4 7.6 .3 7.7 .2 7.6 0 7.7-.1M429.9 115.1l7.6 4.6 7.7 4.2 7.6 4 7.7 3.8 7.6 3.4 7.7 3.2 7.6 3 7.7 2.8 7.6 2.5 7.7 2.3 7.6 2.1 7.7 2 7.6 1.7 7.7 1.5 7.6 1.4 7.7 1.2 7.6 1 7.7 .9 7.6 .7 7.7 .5 7.6 .5 7.7 .2 7.6 .2 7.7 0 7.6-.1M431.5 117.3l7.7 4.5 7.6 4.2 7.7 3.9 7.6 3.7 7.7 3.4 7.6 3.2 7.7 2.9 7.6 2.7 7.7 2.5 7.6 2.2 7.7 2.1 7.6 1.9 7.7 1.7 7.6 1.5 7.7 1.3 7.6 1.2 7.7 1 7.6 .8 7.7 .7 7.6 .5 7.7 .4 7.6 .3 7.7 .1 7.6 0 7.6-.2M433.2 119.5l7.6 4.4 7.7 4.1 7.6 3.9 7.7 3.6 7.6 3.3 7.7 3.1 7.6 2.9 7.7 2.7 7.6 2.4 7.7 2.2 7.6 2.1 7.7 1.8 7.6 1.6 7.7 1.5 7.6 1.3 7.7 1.1 7.6 1 7.7 .8 7.6 .7 7.7 .5 7.6 .3 7.7 .3 7.6 .1 7.6 0 7.7-.2M434.8 121.7l7.7 4.3 7.6 4.1 7.7 3.8 7.6 3.5 7.7 3.3 7.6 3 7.7 2.9 7.6 2.6 7.7 2.4 7.6 2.1 7.7 2 7.6 1.8 7.7 1.6 7.6 1.5 7.7 1.2 7.6 1.1 7.7 .9 7.6 .8 7.7 .7 7.6 .4 7.7 .4 7.6 .2 7.6 .1 7.7-.1 7.6-.1M436.5 123.8l7.6 4.3 7.7 4 7.6 3.7 7.7 3.5 7.6 3.2 7.7 3 7.6 2.8 7.7 2.5 7.6 2.4 7.7 2.1 7.6 2 7.7 1.7 7.6 1.6 7.7 1.4 7.6 1.2 7.7 1.1 7.6 .9 7.7 .7 7.6 .6 7.7 .5 7.6 .3 7.6 .2 7.7 .1 7.6-.1 7.7-.2M438.1 126l7.7 4.2 7.6 3.9 7.7 3.7 7.6 3.4 7.7 3.2 7.6 2.9 7.7 2.7 7.6 2.5 7.7 2.3 7.6 2.1 7.7 1.9 7.6 1.7 7.7 1.6 7.6 1.3 7.7 1.2 7.6 1 7.7 .9 7.6 .8 7.7 .5 7.6 .5 7.6 .3 7.7 .2 7.6 0 7.7-.1 7.6-.2M439.8 128.2l7.6 4.1 7.7 3.9 7.6 3.6 7.7 3.3 7.6 3.1 7.7 2.9 7.6 2.6 7.7 2.5 7.6 2.2 7.7 2.1 7.6 1.8 7.7 1.7 7.6 1.5 7.7 1.3 7.6 1.2 7.7 1 7.6 .9 7.7 .7 7.6 .5 7.6 .4 7.7 .3 7.6 .2 7.7 0 7.6-.1 7.7-.2M441.4 130.4l7.7 4 7.6 3.8 7.7 3.5 7.6 3.3 7.7 3 7.6 2.9 7.7 2.6 7.6 2.4 7.7 2.1 7.6 2 7.7 1.9 7.6 1.6 7.7 1.5 7.6 1.2 7.7 1.2 7.6 1 7.7 .8 7.6 .7 7.6 .5 7.7 .4 7.6 .3 7.7 .1 7.6 .1 7.7-.1 7.6-.3M443.1 132.6l7.6 3.9 7.7 3.7 7.6 3.5 7.7 3.2 7.6 3 7.7 2.7 7.6 2.6 7.7 2.3 7.6 2.1 7.7 2 7.6 1.8 7.7 1.6 7.6 1.4 7.7 1.3 7.6 1.1 7.7 .9 7.6 .8 7.6 .7 7.7 .5 7.6 .4 7.7 .2 7.6 .2 7.7 0 7.6-.1 7.7-.2M444.7 134.8l7.7 3.8 7.6 3.7 7.7 3.3 7.6 3.2 7.7 2.9 7.6 2.7 7.7 2.5 7.6 2.3 7.7 2 7.6 2 7.7 1.7 7.6 1.5 7.7 1.4 7.6 1.3 7.7 1 7.6 1 7.6 .7 7.7 .7 7.6 .5 7.7 .4 7.6 .2 7.7 .1 7.6 0 7.7-.1 7.6-.2M446.4 137l7.6 3.7 7.7 3.6 7.6 3.3 7.7 3 7.6 2.9 7.7 2.6 7.6 2.5 7.7 2.2 7.6 2 7.7 1.9 7.6 1.7 7.7 1.5 7.6 1.4 7.7 1.2 7.6 1 7.6 .9 7.7 .8 7.6 .6 7.7 .5 7.6 .3 7.7 .3 7.6 .1 7.7 0 7.6-.1 7.7-.3M448 139.1l7.7 3.7 7.6 3.5 7.7 3.2 7.6 3 7.7 2.8 7.6 2.6 7.7 2.4 7.6 2.1 7.7 2 7.6 1.8 7.7 1.7 7.6 1.5 7.7 1.3 7.6 1.2 7.6 1 7.7 .8 7.6 .8 7.7 .6 7.6 .4 7.7 .4 7.6 .2 7.7 .1 7.6 0 7.7-.1 7.6-.2M449.7 141.3l7.6 3.6 7.7 3.4 7.6 3.2 7.7 2.9 7.6 2.7 7.7 2.5 7.6 2.3 7.7 2.2 7.6 1.9 7.7 1.8 7.6 1.6 7.7 1.4 7.6 1.3 7.6 1.1 7.7 1 7.6 .9 7.7 .7 7.6 .6 7.7 .4 7.6 .4 7.7 .2 7.6 .1 7.7 0 7.6-.2 7.7-.2M451.3 143.5l7.7 3.5 7.6 3.3 7.7 3.1 7.6 2.9 7.7 2.6 7.6 2.5 7.7 2.2 7.6 2.1 7.7 1.9 7.6 1.7 7.7 1.6 7.6 1.4 7.6 1.2 7.7 1.1 7.6 1 7.7 .8 7.6 .7 7.7 .6 7.6 .4 7.7 .3 7.6 .2 7.7 .1 7.6 0 7.7-.1 7.6-.2M453 145.7l7.6 3.4 7.7 3.2 7.6 3 7.7 2.8 7.6 2.6 7.7 2.4 7.6 2.2 7.7 2 7.6 1.8 7.7 1.7 7.6 1.5 7.6 1.4 7.7 1.2 7.6 1.1 7.7 .9 7.6 .8 7.7 .7 7.6 .6 7.7 .4 7.6 .3 7.7 .2 7.6 .1 7.7 0 7.6-.1 7.7-.2M454.6 147.9l7.7 3.3 7.6 3.2 7.7 2.9 7.6 2.7 7.7 2.5 7.6 2.3 7.7 2.1 7.6 2 7.7 1.8 7.6 1.6 7.6 1.5 7.7 1.3 7.6 1.2 7.7 1.1 7.6 .9 7.7 .8 7.6 .6 7.7 .5 7.6 .5 7.7 .3 7.6 .2 7.7 .1 7.6 0 7.7-.2 7.6-.2M456.3 150.1l7.6 3.2 7.7 3.1 7.6 2.8 7.7 2.6 7.6 2.5 7.7 2.2 7.6 2.1 7.7 1.9 7.6 1.8 7.6 1.5 7.7 1.5 7.6 1.3 7.7 1.1 7.6 1 7.7 .9 7.6 .8 7.7 .6 7.6 .5 7.7 .4 7.6 .3 7.7 .2 7.6 .1 7.7 0 7.6-.1 7.7-.2M457.9 152.3l7.7 3.1 7.6 3 7.7 2.7 7.6 2.6 7.7 2.3 7.6 2.2 7.7 2.1 7.6 1.8 7.6 1.7 7.7 1.5 7.6 1.4 7.7 1.3 7.6 1.1 7.7 1 7.6 .9 7.7 .7 7.6 .6 7.7 .5 7.6 .4 7.7 .3 7.6 .2 7.7 .1 7.6 0 7.7-.1 7.6-.2M459.6 154.4l7.6 3.1 7.7 2.9 7.6 2.6 7.7 2.5 7.6 2.3 7.7 2.1 7.6 2 7.6 1.8 7.7 1.6 7.6 1.5 7.7 1.4 7.6 1.2 7.7 1.1 7.6 .9 7.7 .9 7.6 .7 7.7 .6 7.6 .5 7.7 .4 7.6 .3 7.7 .2 7.6 .1 7.7 0 7.6-.1 7.7-.2M461.2 156.6l7.7 3 7.6 2.8 7.7 2.6 7.6 2.4 7.7 2.2 7.6 2 7.6 1.9 7.7 1.8 7.6 1.6 7.7 1.4 7.6 1.3 7.7 1.2 7.6 1.1 7.7 .9 7.6 .8 7.7 .7 7.6 .6 7.7 .5 7.6 .4 7.7 .3 7.6 .2 7.7 .1 7.6 0 7.7-.1 7.6-.1M462.9 158.8l7.6 2.9 7.7 2.7 7.6 2.5 7.7 2.3 7.6 2.2 7.6 1.9 7.7 1.9 7.6 1.7 7.7 1.5 7.6 1.4 7.7 1.3 7.6 1.1 7.7 1 7.6 .9 7.7 .8 7.6 .7 7.7 .6 7.6 .5 7.7 .3 7.6 .3 7.7 .2 7.6 .1 7.7 .1 7.6-.1 7.7-.1M464.5 161l7.7 2.8 7.6 2.6 7.7 2.4 7.6 2.2 7.6 2.1 7.7 1.9 7.6 1.8 7.7 1.6 7.6 1.5 7.7 1.4 7.6 1.2 7.7 1.1 7.6 1 7.7 .9 7.6 .7 7.7 .7 7.6 .6 7.7 .4 7.6 .4 7.7 .3 7.6 .2 7.7 .1 7.6 .1 7.7-.1 7.6-.1M466.2 163.2l7.6 2.7 7.7 2.5 7.6 2.3 7.6 2.2 7.7 2 7.6 1.8 7.7 1.7 7.6 1.6 7.7 1.4 7.6 1.3 7.7 1.2 7.6 1.1 7.7 1 7.6 .8 7.7 .8 7.6 .6 7.7 .6 7.6 .4 7.7 .4 7.6 .3 7.7 .2 7.6 .1 7.7 .1 7.6 0 7.7-.1M467.8 165.4l7.7 2.5 7.6 2.5 7.6 2.2 7.7 2.1 7.6 1.9 7.7 1.8 7.6 1.6 7.7 1.6 7.6 1.3 7.7 1.3 7.6 1.1 7.7 1.1 7.6 .9 7.7 .8 7.6 .8 7.7 .6 7.6 .5 7.7 .5 7.6 .4 7.7 .3 7.6 .2 7.7 .1 7.6 .1 7.7 0 7.6-.1M469.5 167.6l7.6 2.4 7.6 2.3 7.7 2.2 7.6 2 7.7 1.9 7.6 1.7 7.7 1.5 7.6 1.5 7.7 1.3 7.6 1.3 7.7 1.1 7.6 1 7.7 .9 7.6 .8 7.7 .7 7.6 .6 7.7 .5 7.6 .5 7.7 .3 7.6 .3 7.7 .3 7.6 .1 7.7 .1 7.6 0 7.7 0M471.1 169.7l7.6 2.4 7.7 2.2 7.6 2.1 7.7 1.9 7.6 1.8 7.7 1.6 7.6 1.6 7.7 1.3 7.6 1.3 7.7 1.2 7.6 1.1 7.7 .9 7.6 .9 7.7 .8 7.6 .7 7.7 .6 7.6 .5 7.7 .4 7.6 .4 7.7 .3 7.6 .2 7.7 .2 7.6 .1 7.7 .1 7.6 0M388.7 60.5l1.6 2.1 1.7 2.2 1.6 2.2 1.7 2.2 1.6 2.2 1.7 2.2 1.6 2.2 1.7 2.1 1.6 2.2 1.7 2.2 1.6 2.2 1.7 2.2 1.6 2.2 1.7 2.2 1.6 2.1 1.7 2.2 1.6 2.2 1.7 2.2 1.6 2.2 1.7 2.2 1.6 2.2 1.7 2.1 1.6 2.2 1.7 2.2 1.6 2.2 1.6 2.2 1.7 2.2 1.6 2.2 1.7 2.1 1.6 2.2 1.7 2.2 1.6 2.2 1.7 2.2 1.6 2.2 1.7 2.2 1.6 2.1 1.7 2.2 1.6 2.2 1.7 2.2 1.6 2.2 1.7 2.2 1.6 2.2 1.7 2.1 1.6 2.2 1.7 2.2 1.6 2.2 1.7 2.2 1.6 2.2 1.7 2.2 1.6 2.1M396.3 66.4l1.7 2.1 1.6 2.2 1.7 2.1 1.6 2.2 1.7 2.1 1.6 2.2 1.7 2.1 1.6 2.1 1.7 2.2 1.6 2.1 1.7 2.1 1.6 2.2 1.7 2.1 1.6 2.1 1.7 2.2 1.6 2.1 1.7 2.1 1.6 2.1 1.7 2.1 1.6 2.2 1.7 2.1 1.6 2.1 1.7 2.1 1.6 2.1 1.6 2.2 1.7 2.1 1.6 2.1 1.7 2.1 1.6 2.1 1.7 2.1 1.6 2.1 1.7 2.1 1.6 2.1 1.7 2.1 1.6 2.1 1.7 2.1 1.6 2.1 1.7 2.1 1.6 2.1 1.7 2.1 1.6 2.1 1.7 2.1 1.6 2.1 1.7 2.1 1.6 2.1 1.7 2.1 1.6 2.1 1.7 2 1.6 2.1 1.6 2.1M404 72l1.6 2.1 1.7 2.1 1.6 2.1 1.7 2.1 1.6 2.1 1.7 2.1 1.6 2.1 1.7 2.1 1.6 2.1 1.7 2.1 1.6 2 1.7 2.1 1.6 2.1 1.7 2.1 1.6 2 1.7 2.1 1.6 2.1 1.7 2 1.6 2.1 1.7 2.1 1.6 2 1.7 2.1 1.6 2 1.6 2.1 1.7 2 1.6 2.1 1.7 2 1.6 2.1 1.7 2 1.6 2 1.7 2.1 1.6 2 1.7 2 1.6 2.1 1.7 2 1.6 2 1.7 2 1.6 2 1.7 2 1.6 2.1 1.7 2 1.6 2 1.7 2 1.6 2 1.7 2 1.6 2 1.7 2 1.6 2 1.6 1.9 1.7 2M411.6 77.3l1.7 2.1 1.6 2 1.7 2.1 1.6 2 1.7 2.1 1.6 2 1.7 2.1 1.6 2 1.7 2.1 1.6 2 1.7 2 1.6 2.1 1.7 2 1.6 2 1.7 2 1.6 2 1.7 2.1 1.6 2 1.7 2 1.6 2 1.7 2 1.6 2 1.6 2 1.7 1.9 1.6 2 1.7 2 1.6 2 1.7 2 1.6 1.9 1.7 2 1.6 2 1.7 1.9 1.6 2 1.7 1.9 1.6 2 1.7 1.9 1.6 2 1.7 1.9 1.6 1.9 1.7 2 1.6 1.9 1.7 1.9 1.6 1.9 1.7 2 1.6 1.9 1.7 1.9 1.6 1.9 1.6 1.9 1.7 1.9 1.6 1.9M419.3 82.3l1.6 2 1.7 2 1.6 2 1.7 2.1 1.6 2 1.7 2 1.6 2 1.7 2 1.6 2 1.7 2 1.6 1.9 1.7 2 1.6 2 1.7 2 1.6 1.9 1.7 2 1.6 2 1.7 1.9 1.6 2 1.7 1.9 1.6 1.9 1.6 2 1.7 1.9 1.6 1.9 1.7 2 1.6 1.9 1.7 1.9 1.6 1.9 1.7 1.9 1.6 1.9 1.7 1.9 1.6 1.9 1.7 1.9 1.6 1.9 1.7 1.8 1.6 1.9 1.7 1.9 1.6 1.9 1.7 1.8 1.6 1.9 1.7 1.8 1.6 1.9 1.7 1.8 1.6 1.9 1.7 1.8 1.6 1.8 1.6 1.9 1.7 1.8 1.6 1.8 1.7 1.8M426.9 87l1.7 2 1.6 1.9 1.7 2 1.6 2 1.7 2 1.6 1.9 1.7 2 1.6 1.9 1.7 2 1.6 1.9 1.7 2 1.6 1.9 1.7 1.9 1.6 1.9 1.7 1.9 1.6 2 1.7 1.9 1.6 1.9 1.7 1.9 1.6 1.8 1.6 1.9 1.7 1.9 1.6 1.9 1.7 1.9 1.6 1.8 1.7 1.9 1.6 1.8 1.7 1.9 1.6 1.8 1.7 1.9 1.6 1.8 1.7 1.8 1.6 1.9 1.7 1.8 1.6 1.8 1.7 1.8 1.6 1.8 1.7 1.8 1.6 1.8 1.7 1.8 1.6 1.8 1.7 1.7 1.6 1.8 1.7 1.8 1.6 1.8 1.6 1.7 1.7 1.8 1.6 1.7 1.7 1.8 1.6 1.7M434.6 91.4l1.6 1.9 1.7 2 1.6 1.9 1.7 1.9 1.6 2 1.7 1.9 1.6 1.9 1.7 1.9 1.6 1.9 1.7 1.9 1.6 1.9 1.7 1.9 1.6 1.9 1.7 1.8 1.6 1.9 1.7 1.9 1.6 1.8 1.7 1.9 1.6 1.8 1.6 1.8 1.7 1.9 1.6 1.8 1.7 1.8 1.6 1.8 1.7 1.8 1.6 1.9 1.7 1.7 1.6 1.8 1.7 1.8 1.6 1.8 1.7 1.8 1.6 1.8 1.7 1.7 1.6 1.8 1.7 1.7 1.6 1.8 1.7 1.7 1.6 1.8 1.7 1.7 1.6 1.7 1.7 1.7 1.6 1.7 1.7 1.7 1.6 1.7 1.6 1.7 1.7 1.7 1.6 1.7 1.7 1.7 1.6 1.7 1.7 1.6M442.2 95.5l1.7 1.9 1.6 1.9 1.7 1.9 1.6 1.9 1.7 1.9 1.6 1.9 1.7 1.9 1.6 1.8 1.7 1.9 1.6 1.8 1.7 1.9 1.6 1.8 1.7 1.8 1.6 1.9 1.7 1.8 1.6 1.8 1.7 1.8 1.6 1.8 1.6 1.8 1.7 1.8 1.6 1.8 1.7 1.7 1.6 1.8 1.7 1.8 1.6 1.7 1.7 1.8 1.6 1.7 1.7 1.8 1.6 1.7 1.7 1.7 1.6 1.7 1.7 1.8 1.6 1.7 1.7 1.7 1.6 1.7 1.7 1.7 1.6 1.6 1.7 1.7 1.6 1.7 1.7 1.6 1.6 1.7 1.7 1.7 1.6 1.6 1.6 1.6 1.7 1.7 1.6 1.6 1.7 1.6 1.6 1.6 1.7 1.6 1.6 1.7M449.9 99.4l1.6 1.9 1.7 1.9 1.6 1.8 1.7 1.9 1.6 1.8 1.7 1.8 1.6 1.9 1.7 1.8 1.6 1.8 1.7 1.8 1.6 1.8 1.7 1.8 1.6 1.8 1.7 1.7 1.6 1.8 1.7 1.8 1.6 1.7 1.6 1.8 1.7 1.7 1.6 1.8 1.7 1.7 1.6 1.7 1.7 1.8 1.6 1.7 1.7 1.7 1.6 1.7 1.7 1.7 1.6 1.7 1.7 1.6 1.6 1.7 1.7 1.7 1.6 1.7 1.7 1.6 1.6 1.7 1.7 1.6 1.6 1.6 1.7 1.7 1.6 1.6 1.7 1.6 1.6 1.6 1.7 1.6 1.6 1.6 1.6 1.6 1.7 1.6 1.6 1.6 1.7 1.5 1.6 1.6 1.7 1.6 1.6 1.5 1.7 1.5M457.5 103.1l1.7 1.8 1.6 1.8 1.7 1.9 1.6 1.8 1.7 1.7 1.6 1.8 1.7 1.8 1.6 1.8 1.7 1.8 1.6 1.7 1.7 1.8 1.6 1.7 1.7 1.8 1.6 1.7 1.7 1.7 1.6 1.7 1.6 1.7 1.7 1.8 1.6 1.7 1.7 1.6 1.6 1.7 1.7 1.7 1.6 1.7 1.7 1.7 1.6 1.6 1.7 1.7 1.6 1.6 1.7 1.7 1.6 1.6 1.7 1.6 1.6 1.6 1.7 1.6 1.6 1.6 1.7 1.6 1.6 1.6 1.7 1.6 1.6 1.6 1.7 1.6 1.6 1.5 1.7 1.6 1.6 1.6 1.6 1.5 1.7 1.5 1.6 1.6 1.7 1.5 1.6 1.5 1.7 1.5 1.6 1.5 1.7 1.5 1.6 1.5M465.2 106.5l1.6 1.8 1.7 1.8 1.6 1.8 1.7 1.7 1.6 1.8 1.7 1.7 1.6 1.7 1.7 1.8 1.6 1.7 1.7 1.7 1.6 1.7 1.7 1.7 1.6 1.7 1.7 1.7 1.6 1.7 1.6 1.7 1.7 1.6 1.6 1.7 1.7 1.6 1.6 1.7 1.7 1.6 1.6 1.7 1.7 1.6 1.6 1.6 1.7 1.6 1.6 1.6 1.7 1.6 1.6 1.6 1.7 1.6 1.6 1.6 1.7 1.6 1.6 1.5 1.7 1.6 1.6 1.6 1.7 1.5 1.6 1.5 1.7 1.6 1.6 1.5 1.7 1.5 1.6 1.5 1.6 1.5 1.7 1.5 1.6 1.5 1.7 1.5 1.6 1.5 1.7 1.5 1.6 1.4 1.7 1.5 1.6 1.5 1.7 1.4M472.8 109.8l1.7 1.7 1.6 1.7 1.7 1.7 1.6 1.7 1.7 1.8 1.6 1.7 1.7 1.6 1.6 1.7 1.7 1.7 1.6 1.7 1.7 1.6 1.6 1.7 1.7 1.6 1.6 1.7 1.6 1.6 1.7 1.7 1.6 1.6 1.7 1.6 1.6 1.6 1.7 1.6 1.6 1.6 1.7 1.6 1.6 1.6 1.7 1.6 1.6 1.5 1.7 1.6 1.6 1.6 1.7 1.5 1.6 1.6 1.7 1.5 1.6 1.5 1.7 1.6 1.6 1.5 1.7 1.5 1.6 1.5 1.7 1.5 1.6 1.5 1.7 1.5 1.6 1.4 1.6 1.5 1.7 1.5 1.6 1.4 1.7 1.5 1.6 1.4 1.7 1.5 1.6 1.4 1.7 1.4 1.6 1.4 1.7 1.5 1.6 1.4M480.5 112.8l1.6 1.7 1.7 1.6 1.6 1.7 1.7 1.7 1.6 1.6 1.7 1.7 1.6 1.6 1.7 1.7 1.6 1.6 1.7 1.6 1.6 1.7 1.7 1.6 1.6 1.6 1.6 1.6 1.7 1.6 1.6 1.6 1.7 1.5 1.6 1.6 1.7 1.6 1.6 1.5 1.7 1.6 1.6 1.5 1.7 1.6 1.6 1.5 1.7 1.6 1.6 1.5 1.7 1.5 1.6 1.5 1.7 1.5 1.6 1.5 1.7 1.5 1.6 1.5 1.7 1.5 1.6 1.4 1.7 1.5 1.6 1.5 1.7 1.4 1.6 1.5 1.6 1.4 1.7 1.4 1.6 1.5 1.7 1.4 1.6 1.4 1.7 1.4 1.6 1.4 1.7 1.4 1.6 1.4 1.7 1.4 1.6 1.4 1.7 1.3M488.1 115.6l1.7 1.6 1.6 1.7 1.7 1.6 1.6 1.6 1.7 1.6 1.6 1.6 1.7 1.6 1.6 1.6 1.7 1.6 1.6 1.6 1.7 1.6 1.6 1.5 1.6 1.6 1.7 1.5 1.6 1.6 1.7 1.5 1.6 1.6 1.7 1.5 1.6 1.5 1.7 1.6 1.6 1.5 1.7 1.5 1.6 1.5 1.7 1.5 1.6 1.5 1.7 1.5 1.6 1.4 1.7 1.5 1.6 1.5 1.7 1.5 1.6 1.4 1.7 1.5 1.6 1.4 1.7 1.4 1.6 1.5 1.7 1.4 1.6 1.4 1.6 1.4 1.7 1.4 1.6 1.4 1.7 1.4 1.6 1.4 1.7 1.4 1.6 1.4 1.7 1.3 1.6 1.4 1.7 1.4 1.6 1.3 1.7 1.4 1.6 1.3M495.8 118.2l1.6 1.6 1.7 1.6 1.6 1.6 1.7 1.5 1.6 1.6 1.7 1.6 1.6 1.5 1.7 1.6 1.6 1.5 1.7 1.5 1.6 1.6 1.6 1.5 1.7 1.5 1.6 1.5 1.7 1.5 1.6 1.5 1.7 1.5 1.6 1.5 1.7 1.5 1.6 1.5 1.7 1.5 1.6 1.4 1.7 1.5 1.6 1.5 1.7 1.4 1.6 1.5 1.7 1.4 1.6 1.5 1.7 1.4 1.6 1.4 1.7 1.4 1.6 1.4 1.7 1.5 1.6 1.4 1.7 1.4 1.6 1.4 1.6 1.3 1.7 1.4 1.6 1.4 1.7 1.4 1.6 1.3 1.7 1.4 1.6 1.3 1.7 1.4 1.6 1.3 1.7 1.4 1.6 1.3 1.7 1.3 1.6 1.4 1.7 1.3M503.4 120.7l1.7 1.5 1.6 1.5 1.7 1.5 1.6 1.6 1.7 1.5 1.6 1.5 1.7 1.5 1.6 1.5 1.7 1.5 1.6 1.5 1.6 1.5 1.7 1.5 1.6 1.4 1.7 1.5 1.6 1.5 1.7 1.4 1.6 1.5 1.7 1.5 1.6 1.4 1.7 1.4 1.6 1.5 1.7 1.4 1.6 1.4 1.7 1.5 1.6 1.4 1.7 1.4 1.6 1.4 1.7 1.4 1.6 1.4 1.7 1.4 1.6 1.4 1.7 1.4 1.6 1.4 1.7 1.3 1.6 1.4 1.6 1.4 1.7 1.3 1.6 1.4 1.7 1.3 1.6 1.4 1.7 1.3 1.6 1.4 1.7 1.3 1.6 1.3 1.7 1.3 1.6 1.3 1.7 1.4 1.6 1.3 1.7 1.3 1.6 1.3M511.1 122.9l1.6 1.5 1.7 1.5 1.6 1.5 1.7 1.4 1.6 1.5 1.7 1.5 1.6 1.4 1.7 1.5 1.6 1.4 1.6 1.5 1.7 1.4 1.6 1.5 1.7 1.4 1.6 1.4 1.7 1.4 1.6 1.5 1.7 1.4 1.6 1.4 1.7 1.4 1.6 1.4 1.7 1.4 1.6 1.4 1.7 1.4 1.6 1.4 1.7 1.4 1.6 1.4 1.7 1.3 1.6 1.4 1.7 1.4 1.6 1.3 1.7 1.4 1.6 1.4 1.7 1.3 1.6 1.4 1.6 1.3 1.7 1.3 1.6 1.4 1.7 1.3 1.6 1.3 1.7 1.4 1.6 1.3 1.7 1.3 1.6 1.3 1.7 1.3 1.6 1.3 1.7 1.3 1.6 1.3 1.7 1.3 1.6 1.3 1.7 1.3M518.7 125l1.7 1.5 1.6 1.4 1.7 1.4 1.6 1.4 1.7 1.5 1.6 1.4 1.7 1.4 1.6 1.4 1.6 1.4 1.7 1.4 1.6 1.4 1.7 1.4 1.6 1.4 1.7 1.4 1.6 1.3 1.7 1.4 1.6 1.4 1.7 1.4 1.6 1.3 1.7 1.4 1.6 1.4 1.7 1.3 1.6 1.4 1.7 1.4 1.6 1.3 1.7 1.4 1.6 1.3 1.7 1.3 1.6 1.4 1.7 1.3 1.6 1.4 1.7 1.3 1.6 1.3 1.6 1.3 1.7 1.4 1.6 1.3 1.7 1.3 1.6 1.3 1.7 1.3 1.6 1.3 1.7 1.3 1.6 1.3 1.7 1.3 1.6 1.3 1.7 1.3 1.6 1.3 1.7 1.3 1.6 1.2 1.7 1.3 1.6 1.3M526.4 127l1.6 1.4 1.7 1.3 1.6 1.4 1.7 1.4 1.6 1.3 1.7 1.4 1.6 1.4 1.6 1.3 1.7 1.4 1.6 1.3 1.7 1.4 1.6 1.3 1.7 1.4 1.6 1.3 1.7 1.4 1.6 1.3 1.7 1.3 1.6 1.4 1.7 1.3 1.6 1.3 1.7 1.4 1.6 1.3 1.7 1.3 1.6 1.4 1.7 1.3 1.6 1.3 1.7 1.3 1.6 1.3 1.7 1.3 1.6 1.4 1.7 1.3 1.6 1.3 1.6 1.3 1.7 1.3 1.6 1.3 1.7 1.3 1.6 1.3 1.7 1.3 1.6 1.3 1.7 1.2 1.6 1.3 1.7 1.3 1.6 1.3 1.7 1.3 1.6 1.3 1.7 1.2 1.6 1.3 1.7 1.3 1.6 1.3 1.7 1.2M534 128.8l1.7 1.3 1.6 1.3 1.7 1.3 1.6 1.3 1.7 1.4 1.6 1.3 1.6 1.3 1.7 1.3 1.6 1.3 1.7 1.3 1.6 1.3 1.7 1.3 1.6 1.3 1.7 1.3 1.6 1.3 1.7 1.3 1.6 1.3 1.7 1.3 1.6 1.3 1.7 1.3 1.6 1.3 1.7 1.3 1.6 1.3 1.7 1.3 1.6 1.3 1.7 1.3 1.6 1.3 1.7 1.3 1.6 1.2 1.7 1.3 1.6 1.3 1.6 1.3 1.7 1.3 1.6 1.3 1.7 1.3 1.6 1.2 1.7 1.3 1.6 1.3 1.7 1.3 1.6 1.3 1.7 1.2 1.6 1.3 1.7 1.3 1.6 1.3 1.7 1.2 1.6 1.3 1.7 1.3 1.6 1.3 1.7 1.2 1.6 1.3M541.7 130.5l1.6 1.2 1.7 1.3 1.6 1.2 1.7 1.3 1.6 1.2 1.6 1.3 1.7 1.2 1.6 1.3 1.7 1.3 1.6 1.2 1.7 1.3 1.6 1.2 1.7 1.3 1.6 1.3 1.7 1.2 1.6 1.3 1.7 1.2 1.6 1.3 1.7 1.3 1.6 1.2 1.7 1.3 1.6 1.3 1.7 1.2 1.6 1.3 1.7 1.2 1.6 1.3 1.7 1.3 1.6 1.2 1.7 1.3 1.6 1.3 1.6 1.2 1.7 1.3 1.6 1.3 1.7 1.3 1.6 1.2 1.7 1.3 1.6 1.3 1.7 1.2 1.6 1.3 1.7 1.3 1.6 1.2 1.7 1.3 1.6 1.3 1.7 1.3 1.6 1.2 1.7 1.3 1.6 1.3 1.7 1.3 1.6 1.2 1.7 1.3M549.3 132l1.7 1.2 1.6 1.2 1.7 1.2 1.6 1.2 1.6 1.2 1.7 1.2 1.6 1.2 1.7 1.2 1.6 1.2 1.7 1.2 1.6 1.2 1.7 1.2 1.6 1.2 1.7 1.3 1.6 1.2 1.7 1.2 1.6 1.2 1.7 1.2 1.6 1.3 1.7 1.2 1.6 1.2 1.7 1.3 1.6 1.2 1.7 1.2 1.6 1.3 1.7 1.2 1.6 1.2 1.7 1.3 1.6 1.2 1.6 1.3 1.7 1.2 1.6 1.3 1.7 1.2 1.6 1.3 1.7 1.3 1.6 1.2 1.7 1.3 1.6 1.2 1.7 1.3 1.6 1.3 1.7 1.2 1.6 1.3 1.7 1.3 1.6 1.3 1.7 1.2 1.6 1.3 1.7 1.3 1.6 1.3 1.7 1.3 1.6 1.2M557 133.4l1.6 1.1 1.7 1.1 1.6 1.2 1.6 1.1 1.7 1.2 1.6 1.1 1.7 1.2 1.6 1.1 1.7 1.2 1.6 1.1 1.7 1.2 1.6 1.2 1.7 1.1 1.6 1.2 1.7 1.2 1.6 1.2 1.7 1.1 1.6 1.2 1.7 1.2 1.6 1.2 1.7 1.2 1.6 1.2 1.7 1.2 1.6 1.2 1.7 1.2 1.6 1.3 1.7 1.2 1.6 1.2 1.6 1.2 1.7 1.3 1.6 1.2 1.7 1.2 1.6 1.3 1.7 1.2 1.6 1.3 1.7 1.2 1.6 1.3 1.7 1.2 1.6 1.3 1.7 1.3 1.6 1.2 1.7 1.3 1.6 1.3 1.7 1.3 1.6 1.2 1.7 1.3 1.6 1.3 1.7 1.3 1.6 1.3 1.7 1.3M564.6 134.7l1.7 1 1.6 1.1 1.6 1.1 1.7 1 1.6 1.1 1.7 1.1 1.6 1.1 1.7 1.1 1.6 1.1 1.7 1.1 1.6 1.1 1.7 1.1 1.6 1.2 1.7 1.1 1.6 1.1 1.7 1.2 1.6 1.1 1.7 1.2 1.6 1.1 1.7 1.2 1.6 1.2 1.7 1.1 1.6 1.2 1.7 1.2 1.6 1.2 1.7 1.2 1.6 1.2 1.6 1.2 1.7 1.2 1.6 1.2 1.7 1.2 1.6 1.3 1.7 1.2 1.6 1.2 1.7 1.3 1.6 1.2 1.7 1.3 1.6 1.2 1.7 1.3 1.6 1.3 1.7 1.2 1.6 1.3 1.7 1.3 1.6 1.3 1.7 1.3 1.6 1.3 1.7 1.3 1.6 1.3 1.7 1.3 1.6 1.3M572.3 135.8l1.6 1 1.6 1 1.7 1 1.6 1 1.7 1.1 1.6 1 1.7 1 1.6 1.1 1.7 1 1.6 1.1 1.7 1 1.6 1.1 1.7 1.1 1.6 1.1 1.7 1.1 1.6 1.1 1.7 1.1 1.6 1.1 1.7 1.1 1.6 1.1 1.7 1.2 1.6 1.1 1.7 1.2 1.6 1.1 1.7 1.2 1.6 1.2 1.6 1.2 1.7 1.1 1.6 1.2 1.7 1.2 1.6 1.2 1.7 1.3 1.6 1.2 1.7 1.2 1.6 1.3 1.7 1.2 1.6 1.2 1.7 1.3 1.6 1.3 1.7 1.2 1.6 1.3 1.7 1.3 1.6 1.3 1.7 1.3 1.6 1.3 1.7 1.3 1.6 1.4 1.7 1.3 1.6 1.3 1.7 1.4M579.9 136.9l1.6 .9 1.7 .9 1.6 1 1.7 .9 1.6 1 1.7 .9 1.6 1 1.7 1 1.6 1 1.7 1 1.6 1 1.7 1 1.6 1.1 1.7 1 1.6 1.1 1.7 1 1.6 1.1 1.7 1.1 1.6 1.1 1.7 1.1 1.6 1.1 1.7 1.1 1.6 1.1 1.7 1.1 1.6 1.2 1.6 1.1 1.7 1.2 1.6 1.2 1.7 1.1 1.6 1.2 1.7 1.2 1.6 1.2 1.7 1.3 1.6 1.2 1.7 1.2 1.6 1.3 1.7 1.2 1.6 1.3 1.7 1.3 1.6 1.2 1.7 1.3 1.6 1.3 1.7 1.3 1.6 1.4 1.7 1.3 1.6 1.3 1.7 1.4 1.6 1.3 1.7 1.4 1.6 1.4"/>
<g fill="none" stroke="#000" stroke-width="1.1" stroke-linecap="butt">
<path d="M388.7 52.1 L388.7 172.7 L471.1 242.5 L662.3 212.5"/>
<path d="M388.7 172.7 l-3.7 -3.2M388.7 139.1 l-3.7 -3.2M388.7 105.5 l-3.7 -3.2M388.7 71.9 l-3.7 -3.2M388.7 172.7 l-4.8 0.8M409.3 190.1 l-4.8 0.8M429.9 207.6 l-4.8 0.8M450.5 225.0 l-4.8 0.8M471.1 242.5 l-4.8 0.8M471.1 242.5 l3.7 3.2M518.9 235.0 l3.7 3.2M566.7 227.5 l3.7 3.2M614.5 220.0 l3.7 3.2M662.3 212.5 l3.7 3.2"/>
</g>
<text x="383.5" y="171.9" font-size="9.7" font-weight="bold" text-anchor="end">0</text>
<text x="383.5" y="138.3" font-size="9.7" font-weight="bold" text-anchor="end">0.5</text>
<text x="383.5" y="104.8" font-size="9.7" font-weight="bold" text-anchor="end">1</text>
<text x="383.5" y="71.2" font-size="9.7" font-weight="bold" text-anchor="end">1.5</text>
<text x="372.3" y="183.8" font-size="9.7" font-weight="bold" text-anchor="middle">10%</text>
<text x="392.9" y="201.3" font-size="9.7" font-weight="bold" text-anchor="middle">20%</text>
<text x="413.5" y="218.8" font-size="9.7" font-weight="bold" text-anchor="middle">30%</text>
<text x="434.1" y="236.2" font-size="9.7" font-weight="bold" text-anchor="middle">40%</text>
<text x="454.7" y="253.7" font-size="9.7" font-weight="bold" text-anchor="middle">50%</text>
<text x="487.1" y="256.6" font-size="9.7" font-weight="bold" text-anchor="middle">25%</text>
<text x="534.9" y="249.1" font-size="9.7" font-weight="bold" text-anchor="middle">20%</text>
<text x="582.7" y="241.6" font-size="9.7" font-weight="bold" text-anchor="middle">15%</text>
<text x="630.5" y="234.1" font-size="9.7" font-weight="bold" text-anchor="middle">10%</text>
<text x="678.3" y="226.6" font-size="9.7" font-weight="bold" text-anchor="middle">5%</text>
<text transform="translate(363.3 111.7) rotate(-90)" font-size="13.4" font-weight="bold" text-anchor="middle">Option Value</text>
<text x="389.1" y="231.5" font-size="14" text-anchor="middle" class="gr">σ</text>
<text x="577.4" y="266.8" font-size="14" text-anchor="middle" class="gr">μ</text>
<text x="526.1" y="13.1" font-size="12.3" font-weight="bold" text-anchor="middle"><tspan font-size="15.5" class="gr">α</tspan>=1</text>
</g>
<rect x="255.5" y="273" width="185.1" height="15.4" fill="#fff" stroke="#000" stroke-width="1"/>
<rect x="260.2" y="275.6" width="27" height="8.8" fill="rgb(217,41,0)" stroke="#000" stroke-width=".9"/>
<text x="289.8" y="283.3" font-size="9.8" font-weight="bold" text-anchor="start">Exponential</text>
<rect x="351.1" y="275.6" width="27.2" height="8.8" fill="#14f8ea" stroke="#000" stroke-width=".9"/>
<text x="380.3" y="283.3" font-size="9.8" font-weight="bold" text-anchor="start">Logarithmic</text>
</svg></body></html>
